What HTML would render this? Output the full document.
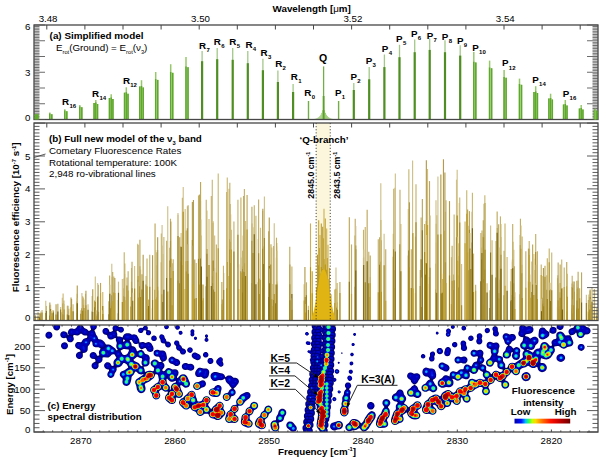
<!DOCTYPE html>
<html><head><meta charset="utf-8"><style>
html,body{margin:0;padding:0;background:#fff;}
svg{display:block;font-family:"Liberation Sans", sans-serif;}
</style></head><body>
<svg width="600" height="457" viewBox="0 0 600 457">
<defs>
<linearGradient id="jetg" x1="0" x2="1" y1="0" y2="0">
<stop offset="0" stop-color="#0000a8"/><stop offset="0.12" stop-color="#0010ff"/><stop offset="0.2" stop-color="#00c0ff"/>
<stop offset="0.25" stop-color="#20ff60"/><stop offset="0.32" stop-color="#c0ff00"/><stop offset="0.38" stop-color="#ffd800"/>
<stop offset="0.5" stop-color="#ff7000"/><stop offset="0.65" stop-color="#ff1000"/><stop offset="0.82" stop-color="#c00000"/><stop offset="1" stop-color="#700000"/>
</linearGradient>
<clipPath id="clipc"><rect x="34.0" y="325.0" width="564.0" height="107.0"/></clipPath>
</defs>
<rect width="600" height="457" fill="#fff"/>
<rect x="316.15" y="123.0" width="14.12" height="197.5" fill="#fcf6dc"/>
<line x1="36.30" y1="119.5" x2="36.30" y2="116.50" stroke="#a3c888" stroke-width="1.3"/>
<line x1="36.30" y1="119.5" x2="36.30" y2="116.50" stroke="#4f8f22" stroke-width="2.2"/>
<line x1="49.80" y1="119.5" x2="49.80" y2="112.50" stroke="#96c86a" stroke-width="1.5"/>
<line x1="49.80" y1="119.5" x2="49.80" y2="113.50" stroke="#5ea82c" stroke-width="1.5"/>
<line x1="51.80" y1="119.5" x2="51.80" y2="114.30" stroke="#96c86a" stroke-width="1.5"/>
<line x1="51.80" y1="119.5" x2="51.80" y2="114.30" stroke="#5ea82c" stroke-width="1.5"/>
<line x1="64.80" y1="119.5" x2="64.80" y2="109.20" stroke="#96c86a" stroke-width="1.5"/>
<line x1="64.80" y1="119.5" x2="64.80" y2="110.50" stroke="#5ea82c" stroke-width="1.5"/>
<line x1="66.80" y1="119.5" x2="66.80" y2="111.30" stroke="#96c86a" stroke-width="1.5"/>
<line x1="66.80" y1="119.5" x2="66.80" y2="111.30" stroke="#5ea82c" stroke-width="1.5"/>
<line x1="79.80" y1="119.5" x2="79.80" y2="105.00" stroke="#96c86a" stroke-width="1.5"/>
<line x1="79.80" y1="119.5" x2="79.80" y2="106.50" stroke="#5ea82c" stroke-width="1.5"/>
<line x1="81.80" y1="119.5" x2="81.80" y2="107.30" stroke="#96c86a" stroke-width="1.5"/>
<line x1="81.80" y1="119.5" x2="81.80" y2="107.30" stroke="#5ea82c" stroke-width="1.5"/>
<line x1="94.10" y1="119.5" x2="94.10" y2="103.00" stroke="#96c86a" stroke-width="1.5"/>
<line x1="94.10" y1="119.5" x2="94.10" y2="103.00" stroke="#5ea82c" stroke-width="1.5"/>
<line x1="95.80" y1="119.5" x2="95.80" y2="100.00" stroke="#96c86a" stroke-width="1.5"/>
<line x1="95.80" y1="119.5" x2="95.80" y2="102.50" stroke="#5ea82c" stroke-width="1.5"/>
<line x1="97.50" y1="119.5" x2="97.50" y2="104.00" stroke="#96c86a" stroke-width="1.5"/>
<line x1="97.50" y1="119.5" x2="97.50" y2="104.00" stroke="#5ea82c" stroke-width="1.5"/>
<line x1="109.50" y1="119.5" x2="109.50" y2="98.00" stroke="#96c86a" stroke-width="1.5"/>
<line x1="109.50" y1="119.5" x2="109.50" y2="98.00" stroke="#5ea82c" stroke-width="1.5"/>
<line x1="111.20" y1="119.5" x2="111.20" y2="94.20" stroke="#96c86a" stroke-width="1.5"/>
<line x1="111.20" y1="119.5" x2="111.20" y2="97.50" stroke="#5ea82c" stroke-width="1.5"/>
<line x1="112.90" y1="119.5" x2="112.90" y2="99.00" stroke="#96c86a" stroke-width="1.5"/>
<line x1="112.90" y1="119.5" x2="112.90" y2="99.00" stroke="#5ea82c" stroke-width="1.5"/>
<line x1="124.60" y1="119.5" x2="124.60" y2="92.70" stroke="#96c86a" stroke-width="1.5"/>
<line x1="124.60" y1="119.5" x2="124.60" y2="92.70" stroke="#5ea82c" stroke-width="1.5"/>
<line x1="126.30" y1="119.5" x2="126.30" y2="87.30" stroke="#96c86a" stroke-width="1.5"/>
<line x1="126.30" y1="119.5" x2="126.30" y2="92.20" stroke="#5ea82c" stroke-width="1.5"/>
<line x1="128.00" y1="119.5" x2="128.00" y2="93.70" stroke="#96c86a" stroke-width="1.5"/>
<line x1="128.00" y1="119.5" x2="128.00" y2="93.70" stroke="#5ea82c" stroke-width="1.5"/>
<line x1="139.80" y1="119.5" x2="139.80" y2="86.40" stroke="#96c86a" stroke-width="1.5"/>
<line x1="139.80" y1="119.5" x2="139.80" y2="86.40" stroke="#5ea82c" stroke-width="1.5"/>
<line x1="141.50" y1="119.5" x2="141.50" y2="80.20" stroke="#96c86a" stroke-width="1.5"/>
<line x1="141.50" y1="119.5" x2="141.50" y2="85.90" stroke="#5ea82c" stroke-width="1.5"/>
<line x1="143.20" y1="119.5" x2="143.20" y2="87.40" stroke="#96c86a" stroke-width="1.5"/>
<line x1="143.20" y1="119.5" x2="143.20" y2="87.40" stroke="#5ea82c" stroke-width="1.5"/>
<line x1="155.70" y1="119.5" x2="155.70" y2="72.00" stroke="#96c86a" stroke-width="1.5"/>
<line x1="155.70" y1="119.5" x2="155.70" y2="79.10" stroke="#5ea82c" stroke-width="1.5"/>
<line x1="157.70" y1="119.5" x2="157.70" y2="79.90" stroke="#96c86a" stroke-width="1.5"/>
<line x1="157.70" y1="119.5" x2="157.70" y2="79.90" stroke="#5ea82c" stroke-width="1.5"/>
<line x1="170.70" y1="119.5" x2="170.70" y2="64.20" stroke="#96c86a" stroke-width="1.5"/>
<line x1="170.70" y1="119.5" x2="170.70" y2="72.00" stroke="#5ea82c" stroke-width="1.5"/>
<line x1="172.70" y1="119.5" x2="172.70" y2="72.80" stroke="#96c86a" stroke-width="1.5"/>
<line x1="172.70" y1="119.5" x2="172.70" y2="72.80" stroke="#5ea82c" stroke-width="1.5"/>
<line x1="186.00" y1="119.5" x2="186.00" y2="57.10" stroke="#96c86a" stroke-width="1.5"/>
<line x1="186.00" y1="119.5" x2="186.00" y2="66.50" stroke="#5ea82c" stroke-width="1.5"/>
<line x1="188.00" y1="119.5" x2="188.00" y2="67.30" stroke="#96c86a" stroke-width="1.5"/>
<line x1="188.00" y1="119.5" x2="188.00" y2="67.30" stroke="#5ea82c" stroke-width="1.5"/>
<line x1="202.10" y1="119.5" x2="202.10" y2="51.10" stroke="#a3c888" stroke-width="1.3"/>
<line x1="202.10" y1="119.5" x2="202.10" y2="61.20" stroke="#4f8f22" stroke-width="2.2"/>
<line x1="217.20" y1="119.5" x2="217.20" y2="48.10" stroke="#a3c888" stroke-width="1.3"/>
<line x1="217.20" y1="119.5" x2="217.20" y2="59.20" stroke="#4f8f22" stroke-width="2.2"/>
<line x1="232.70" y1="119.5" x2="232.70" y2="48.10" stroke="#a3c888" stroke-width="1.3"/>
<line x1="232.70" y1="119.5" x2="232.70" y2="59.80" stroke="#4f8f22" stroke-width="2.2"/>
<line x1="247.80" y1="119.5" x2="247.80" y2="51.10" stroke="#a3c888" stroke-width="1.3"/>
<line x1="247.80" y1="119.5" x2="247.80" y2="63.20" stroke="#4f8f22" stroke-width="2.2"/>
<line x1="262.90" y1="119.5" x2="262.90" y2="58.80" stroke="#a3c888" stroke-width="1.3"/>
<line x1="262.90" y1="119.5" x2="262.90" y2="70.20" stroke="#4f8f22" stroke-width="2.2"/>
<line x1="277.90" y1="119.5" x2="277.90" y2="70.50" stroke="#a3c888" stroke-width="1.3"/>
<line x1="277.90" y1="119.5" x2="277.90" y2="82.00" stroke="#4f8f22" stroke-width="2.2"/>
<line x1="293.10" y1="119.5" x2="293.10" y2="84.00" stroke="#a3c888" stroke-width="1.3"/>
<line x1="293.10" y1="119.5" x2="293.10" y2="92.00" stroke="#4f8f22" stroke-width="2.2"/>
<line x1="308.50" y1="119.5" x2="308.50" y2="101.00" stroke="#72ae44" stroke-width="1.4"/>
<line x1="338.60" y1="119.5" x2="338.60" y2="101.00" stroke="#72ae44" stroke-width="1.4"/>
<line x1="353.80" y1="119.5" x2="353.80" y2="83.00" stroke="#a3c888" stroke-width="1.3"/>
<line x1="353.80" y1="119.5" x2="353.80" y2="90.00" stroke="#4f8f22" stroke-width="2.2"/>
<line x1="369.20" y1="119.5" x2="369.20" y2="67.10" stroke="#a3c888" stroke-width="1.3"/>
<line x1="369.20" y1="119.5" x2="369.20" y2="79.30" stroke="#4f8f22" stroke-width="2.2"/>
<line x1="384.40" y1="119.5" x2="384.40" y2="54.50" stroke="#a3c888" stroke-width="1.3"/>
<line x1="384.40" y1="119.5" x2="384.40" y2="67.10" stroke="#4f8f22" stroke-width="2.2"/>
<line x1="399.50" y1="119.5" x2="399.50" y2="44.80" stroke="#a3c888" stroke-width="1.3"/>
<line x1="399.50" y1="119.5" x2="399.50" y2="57.20" stroke="#4f8f22" stroke-width="2.2"/>
<line x1="414.70" y1="119.5" x2="414.70" y2="39.50" stroke="#a3c888" stroke-width="1.3"/>
<line x1="414.70" y1="119.5" x2="414.70" y2="52.20" stroke="#4f8f22" stroke-width="2.2"/>
<line x1="429.70" y1="119.5" x2="429.70" y2="38.40" stroke="#a3c888" stroke-width="1.3"/>
<line x1="429.70" y1="119.5" x2="429.70" y2="49.90" stroke="#4f8f22" stroke-width="2.2"/>
<line x1="445.00" y1="119.5" x2="445.00" y2="40.20" stroke="#a3c888" stroke-width="1.3"/>
<line x1="445.00" y1="119.5" x2="445.00" y2="52.20" stroke="#4f8f22" stroke-width="2.2"/>
<line x1="460.20" y1="119.5" x2="460.20" y2="45.30" stroke="#a3c888" stroke-width="1.3"/>
<line x1="460.20" y1="119.5" x2="460.20" y2="55.60" stroke="#4f8f22" stroke-width="2.2"/>
<line x1="473.80" y1="119.5" x2="473.80" y2="51.90" stroke="#96c86a" stroke-width="1.5"/>
<line x1="473.80" y1="119.5" x2="473.80" y2="61.80" stroke="#5ea82c" stroke-width="1.5"/>
<line x1="475.80" y1="119.5" x2="475.80" y2="62.60" stroke="#96c86a" stroke-width="1.5"/>
<line x1="475.80" y1="119.5" x2="475.80" y2="62.60" stroke="#5ea82c" stroke-width="1.5"/>
<line x1="489.60" y1="119.5" x2="489.60" y2="60.60" stroke="#96c86a" stroke-width="1.5"/>
<line x1="489.60" y1="119.5" x2="489.60" y2="67.50" stroke="#5ea82c" stroke-width="1.5"/>
<line x1="491.60" y1="119.5" x2="491.60" y2="68.30" stroke="#96c86a" stroke-width="1.5"/>
<line x1="491.60" y1="119.5" x2="491.60" y2="68.30" stroke="#5ea82c" stroke-width="1.5"/>
<line x1="504.10" y1="119.5" x2="504.10" y2="69.90" stroke="#96c86a" stroke-width="1.5"/>
<line x1="504.10" y1="119.5" x2="504.10" y2="77.00" stroke="#5ea82c" stroke-width="1.5"/>
<line x1="506.10" y1="119.5" x2="506.10" y2="77.80" stroke="#96c86a" stroke-width="1.5"/>
<line x1="506.10" y1="119.5" x2="506.10" y2="77.80" stroke="#5ea82c" stroke-width="1.5"/>
<line x1="519.50" y1="119.5" x2="519.50" y2="78.60" stroke="#96c86a" stroke-width="1.5"/>
<line x1="519.50" y1="119.5" x2="519.50" y2="84.00" stroke="#5ea82c" stroke-width="1.5"/>
<line x1="521.50" y1="119.5" x2="521.50" y2="84.80" stroke="#96c86a" stroke-width="1.5"/>
<line x1="521.50" y1="119.5" x2="521.50" y2="84.80" stroke="#5ea82c" stroke-width="1.5"/>
<line x1="534.00" y1="119.5" x2="534.00" y2="92.00" stroke="#96c86a" stroke-width="1.5"/>
<line x1="534.00" y1="119.5" x2="534.00" y2="92.00" stroke="#5ea82c" stroke-width="1.5"/>
<line x1="535.70" y1="119.5" x2="535.70" y2="86.20" stroke="#96c86a" stroke-width="1.5"/>
<line x1="535.70" y1="119.5" x2="535.70" y2="91.50" stroke="#5ea82c" stroke-width="1.5"/>
<line x1="537.40" y1="119.5" x2="537.40" y2="93.00" stroke="#96c86a" stroke-width="1.5"/>
<line x1="537.40" y1="119.5" x2="537.40" y2="93.00" stroke="#5ea82c" stroke-width="1.5"/>
<line x1="548.90" y1="119.5" x2="548.90" y2="98.50" stroke="#96c86a" stroke-width="1.5"/>
<line x1="548.90" y1="119.5" x2="548.90" y2="98.50" stroke="#5ea82c" stroke-width="1.5"/>
<line x1="550.60" y1="119.5" x2="550.60" y2="93.70" stroke="#96c86a" stroke-width="1.5"/>
<line x1="550.60" y1="119.5" x2="550.60" y2="98.00" stroke="#5ea82c" stroke-width="1.5"/>
<line x1="552.30" y1="119.5" x2="552.30" y2="99.50" stroke="#96c86a" stroke-width="1.5"/>
<line x1="552.30" y1="119.5" x2="552.30" y2="99.50" stroke="#5ea82c" stroke-width="1.5"/>
<line x1="563.60" y1="119.5" x2="563.60" y2="104.50" stroke="#96c86a" stroke-width="1.5"/>
<line x1="563.60" y1="119.5" x2="563.60" y2="104.50" stroke="#5ea82c" stroke-width="1.5"/>
<line x1="565.30" y1="119.5" x2="565.30" y2="100.00" stroke="#96c86a" stroke-width="1.5"/>
<line x1="565.30" y1="119.5" x2="565.30" y2="104.00" stroke="#5ea82c" stroke-width="1.5"/>
<line x1="567.00" y1="119.5" x2="567.00" y2="105.50" stroke="#96c86a" stroke-width="1.5"/>
<line x1="567.00" y1="119.5" x2="567.00" y2="105.50" stroke="#5ea82c" stroke-width="1.5"/>
<line x1="579.50" y1="119.5" x2="579.50" y2="108.50" stroke="#96c86a" stroke-width="1.5"/>
<line x1="579.50" y1="119.5" x2="579.50" y2="108.50" stroke="#5ea82c" stroke-width="1.5"/>
<line x1="581.20" y1="119.5" x2="581.20" y2="105.00" stroke="#96c86a" stroke-width="1.5"/>
<line x1="581.20" y1="119.5" x2="581.20" y2="108.00" stroke="#5ea82c" stroke-width="1.5"/>
<line x1="582.90" y1="119.5" x2="582.90" y2="109.50" stroke="#96c86a" stroke-width="1.5"/>
<line x1="582.90" y1="119.5" x2="582.90" y2="109.50" stroke="#5ea82c" stroke-width="1.5"/>
<line x1="594.70" y1="119.5" x2="594.70" y2="109.30" stroke="#96c86a" stroke-width="1.5"/>
<line x1="594.70" y1="119.5" x2="594.70" y2="112.00" stroke="#5ea82c" stroke-width="1.5"/>
<line x1="596.70" y1="119.5" x2="596.70" y2="112.80" stroke="#96c86a" stroke-width="1.5"/>
<line x1="596.70" y1="119.5" x2="596.70" y2="112.80" stroke="#5ea82c" stroke-width="1.5"/>
<line x1="313.15" y1="119.5" x2="313.15" y2="119.17" stroke="#8cc060" stroke-width="0.8"/>
<line x1="314.10" y1="119.5" x2="314.10" y2="119.04" stroke="#8cc060" stroke-width="0.8"/>
<line x1="315.05" y1="119.5" x2="315.05" y2="118.85" stroke="#8cc060" stroke-width="0.8"/>
<line x1="316.00" y1="119.5" x2="316.00" y2="118.60" stroke="#8cc060" stroke-width="0.8"/>
<line x1="316.95" y1="119.5" x2="316.95" y2="118.24" stroke="#8cc060" stroke-width="0.8"/>
<line x1="317.90" y1="119.5" x2="317.90" y2="117.74" stroke="#8cc060" stroke-width="0.8"/>
<line x1="318.85" y1="119.5" x2="318.85" y2="117.04" stroke="#8cc060" stroke-width="0.8"/>
<line x1="319.80" y1="119.5" x2="319.80" y2="116.07" stroke="#8cc060" stroke-width="0.8"/>
<line x1="320.75" y1="119.5" x2="320.75" y2="114.72" stroke="#8cc060" stroke-width="0.8"/>
<line x1="321.70" y1="119.5" x2="321.70" y2="112.83" stroke="#8cc060" stroke-width="0.8"/>
<line x1="322.65" y1="119.5" x2="322.65" y2="110.19" stroke="#8cc060" stroke-width="0.8"/>
<line x1="323.60" y1="119.5" x2="323.60" y2="106.50" stroke="#8cc060" stroke-width="0.8"/>
<line x1="324.55" y1="119.5" x2="324.55" y2="110.19" stroke="#8cc060" stroke-width="0.8"/>
<line x1="325.50" y1="119.5" x2="325.50" y2="112.83" stroke="#8cc060" stroke-width="0.8"/>
<line x1="326.45" y1="119.5" x2="326.45" y2="114.72" stroke="#8cc060" stroke-width="0.8"/>
<line x1="327.40" y1="119.5" x2="327.40" y2="116.07" stroke="#8cc060" stroke-width="0.8"/>
<line x1="328.35" y1="119.5" x2="328.35" y2="117.04" stroke="#8cc060" stroke-width="0.8"/>
<line x1="329.30" y1="119.5" x2="329.30" y2="117.74" stroke="#8cc060" stroke-width="0.8"/>
<line x1="330.25" y1="119.5" x2="330.25" y2="118.24" stroke="#8cc060" stroke-width="0.8"/>
<line x1="331.20" y1="119.5" x2="331.20" y2="118.60" stroke="#8cc060" stroke-width="0.8"/>
<line x1="332.15" y1="119.5" x2="332.15" y2="118.85" stroke="#8cc060" stroke-width="0.8"/>
<line x1="333.10" y1="119.5" x2="333.10" y2="119.04" stroke="#8cc060" stroke-width="0.8"/>
<line x1="334.05" y1="119.5" x2="334.05" y2="119.17" stroke="#8cc060" stroke-width="0.8"/>
<line x1="323.6" y1="119.5" x2="323.6" y2="66.4" stroke="#72ae44" stroke-width="1.3"/>
<line x1="323.6" y1="119.5" x2="323.6" y2="96" stroke="#5aa02a" stroke-width="1.8"/>
<line x1="304.93" y1="320.5" x2="304.93" y2="267.05" stroke="#b29c4c" stroke-width="1.15"/>
<line x1="304.93" y1="320.5" x2="304.93" y2="297.05" stroke="#7a6410" stroke-width="1.15"/>
<line x1="305.41" y1="320.5" x2="305.41" y2="304.00" stroke="#d0c088" stroke-width="1.15"/>
<line x1="305.41" y1="320.5" x2="305.41" y2="312.54" stroke="#c0a030" stroke-width="1.15"/>
<line x1="306.44" y1="320.5" x2="306.44" y2="282.33" stroke="#c2ae66" stroke-width="1.15"/>
<line x1="306.44" y1="320.5" x2="306.44" y2="295.19" stroke="#9c801a" stroke-width="1.15"/>
<line x1="308.41" y1="320.5" x2="308.41" y2="305.87" stroke="#d0c088" stroke-width="1.15"/>
<line x1="308.41" y1="320.5" x2="308.41" y2="309.95" stroke="#9c801a" stroke-width="1.15"/>
<line x1="289.77" y1="320.5" x2="289.77" y2="246.69" stroke="#c2ae66" stroke-width="1.15"/>
<line x1="289.77" y1="320.5" x2="289.77" y2="284.13" stroke="#9c801a" stroke-width="1.15"/>
<line x1="289.89" y1="320.5" x2="289.89" y2="264.44" stroke="#b29c4c" stroke-width="1.15"/>
<line x1="289.89" y1="320.5" x2="289.89" y2="300.33" stroke="#9c801a" stroke-width="1.15"/>
<line x1="291.90" y1="320.5" x2="291.90" y2="266.51" stroke="#c6b26a" stroke-width="1.15"/>
<line x1="291.90" y1="320.5" x2="291.90" y2="294.05" stroke="#7a6410" stroke-width="1.15"/>
<line x1="291.95" y1="320.5" x2="291.95" y2="298.23" stroke="#bca85a" stroke-width="1.15"/>
<line x1="291.95" y1="320.5" x2="291.95" y2="309.81" stroke="#a88a20" stroke-width="1.15"/>
<line x1="273.05" y1="320.5" x2="273.05" y2="283.91" stroke="#bca85a" stroke-width="1.15"/>
<line x1="273.05" y1="320.5" x2="273.05" y2="305.93" stroke="#c0a030" stroke-width="1.15"/>
<line x1="273.63" y1="320.5" x2="273.63" y2="246.03" stroke="#bca85a" stroke-width="1.15"/>
<line x1="273.63" y1="320.5" x2="273.63" y2="300.05" stroke="#7a6410" stroke-width="1.15"/>
<line x1="274.25" y1="320.5" x2="274.25" y2="223.18" stroke="#d0c088" stroke-width="1.15"/>
<line x1="274.25" y1="320.5" x2="274.25" y2="293.94" stroke="#b49428" stroke-width="1.15"/>
<line x1="275.63" y1="320.5" x2="275.63" y2="284.61" stroke="#c6b26a" stroke-width="1.15"/>
<line x1="275.63" y1="320.5" x2="275.63" y2="303.13" stroke="#8c7418" stroke-width="1.15"/>
<line x1="276.48" y1="320.5" x2="276.48" y2="237.69" stroke="#c2ae66" stroke-width="1.15"/>
<line x1="276.48" y1="320.5" x2="276.48" y2="257.61" stroke="#b49428" stroke-width="1.15"/>
<line x1="276.60" y1="320.5" x2="276.60" y2="246.46" stroke="#d0c088" stroke-width="1.15"/>
<line x1="276.60" y1="320.5" x2="276.60" y2="283.33" stroke="#7a6410" stroke-width="1.15"/>
<line x1="276.70" y1="320.5" x2="276.70" y2="243.12" stroke="#bca85a" stroke-width="1.15"/>
<line x1="276.70" y1="320.5" x2="276.70" y2="281.39" stroke="#c0a030" stroke-width="1.15"/>
<line x1="276.80" y1="320.5" x2="276.80" y2="250.80" stroke="#cab872" stroke-width="1.15"/>
<line x1="276.80" y1="320.5" x2="276.80" y2="284.39" stroke="#8c7418" stroke-width="1.15"/>
<line x1="268.69" y1="320.5" x2="268.69" y2="231.36" stroke="#bca85a" stroke-width="1.15"/>
<line x1="268.69" y1="320.5" x2="268.69" y2="296.96" stroke="#7a6410" stroke-width="1.15"/>
<line x1="269.26" y1="320.5" x2="269.26" y2="217.45" stroke="#b29c4c" stroke-width="1.15"/>
<line x1="269.26" y1="320.5" x2="269.26" y2="265.97" stroke="#8c7418" stroke-width="1.15"/>
<line x1="269.62" y1="320.5" x2="269.62" y2="268.58" stroke="#c2ae66" stroke-width="1.15"/>
<line x1="269.62" y1="320.5" x2="269.62" y2="283.22" stroke="#8c7418" stroke-width="1.15"/>
<line x1="270.97" y1="320.5" x2="270.97" y2="244.33" stroke="#bca85a" stroke-width="1.15"/>
<line x1="270.97" y1="320.5" x2="270.97" y2="264.41" stroke="#8c7418" stroke-width="1.15"/>
<line x1="271.78" y1="320.5" x2="271.78" y2="247.49" stroke="#c6b26a" stroke-width="1.15"/>
<line x1="271.78" y1="320.5" x2="271.78" y2="299.31" stroke="#b49428" stroke-width="1.15"/>
<line x1="258.38" y1="320.5" x2="258.38" y2="239.09" stroke="#b29c4c" stroke-width="1.15"/>
<line x1="258.38" y1="320.5" x2="258.38" y2="282.30" stroke="#8c7418" stroke-width="1.15"/>
<line x1="258.61" y1="320.5" x2="258.61" y2="199.45" stroke="#c2ae66" stroke-width="1.15"/>
<line x1="258.61" y1="320.5" x2="258.61" y2="253.18" stroke="#a88a20" stroke-width="1.15"/>
<line x1="259.57" y1="320.5" x2="259.57" y2="278.58" stroke="#c6b26a" stroke-width="1.15"/>
<line x1="259.57" y1="320.5" x2="259.57" y2="294.01" stroke="#a88a20" stroke-width="1.15"/>
<line x1="260.48" y1="320.5" x2="260.48" y2="227.76" stroke="#d0c088" stroke-width="1.15"/>
<line x1="260.48" y1="320.5" x2="260.48" y2="279.86" stroke="#c0a030" stroke-width="1.15"/>
<line x1="262.66" y1="320.5" x2="262.66" y2="210.83" stroke="#c2ae66" stroke-width="1.15"/>
<line x1="262.66" y1="320.5" x2="262.66" y2="287.82" stroke="#7a6410" stroke-width="1.15"/>
<line x1="262.85" y1="320.5" x2="262.85" y2="208.84" stroke="#b29c4c" stroke-width="1.15"/>
<line x1="262.85" y1="320.5" x2="262.85" y2="248.86" stroke="#9c801a" stroke-width="1.15"/>
<line x1="263.68" y1="320.5" x2="263.68" y2="246.59" stroke="#c6b26a" stroke-width="1.15"/>
<line x1="263.68" y1="320.5" x2="263.68" y2="264.01" stroke="#7a6410" stroke-width="1.15"/>
<line x1="264.41" y1="320.5" x2="264.41" y2="196.48" stroke="#d0c088" stroke-width="1.15"/>
<line x1="264.41" y1="320.5" x2="264.41" y2="237.96" stroke="#a88a20" stroke-width="1.15"/>
<line x1="251.93" y1="320.5" x2="251.93" y2="206.83" stroke="#bca85a" stroke-width="1.15"/>
<line x1="251.93" y1="320.5" x2="251.93" y2="283.11" stroke="#8c7418" stroke-width="1.15"/>
<line x1="252.06" y1="320.5" x2="252.06" y2="223.57" stroke="#cab872" stroke-width="1.15"/>
<line x1="252.06" y1="320.5" x2="252.06" y2="240.63" stroke="#9c801a" stroke-width="1.15"/>
<line x1="253.03" y1="320.5" x2="253.03" y2="227.28" stroke="#d0c088" stroke-width="1.15"/>
<line x1="253.03" y1="320.5" x2="253.03" y2="253.10" stroke="#9c801a" stroke-width="1.15"/>
<line x1="254.28" y1="320.5" x2="254.28" y2="205.32" stroke="#c6b26a" stroke-width="1.15"/>
<line x1="254.28" y1="320.5" x2="254.28" y2="234.14" stroke="#7a6410" stroke-width="1.15"/>
<line x1="255.93" y1="320.5" x2="255.93" y2="215.72" stroke="#cab872" stroke-width="1.15"/>
<line x1="255.93" y1="320.5" x2="255.93" y2="284.32" stroke="#7a6410" stroke-width="1.15"/>
<line x1="242.56" y1="320.5" x2="242.56" y2="266.46" stroke="#cab872" stroke-width="1.15"/>
<line x1="242.56" y1="320.5" x2="242.56" y2="277.64" stroke="#8c7418" stroke-width="1.15"/>
<line x1="242.81" y1="320.5" x2="242.81" y2="250.76" stroke="#bca85a" stroke-width="1.15"/>
<line x1="242.81" y1="320.5" x2="242.81" y2="292.43" stroke="#8c7418" stroke-width="1.15"/>
<line x1="243.22" y1="320.5" x2="243.22" y2="235.42" stroke="#bca85a" stroke-width="1.15"/>
<line x1="243.22" y1="320.5" x2="243.22" y2="269.01" stroke="#7a6410" stroke-width="1.15"/>
<line x1="243.58" y1="320.5" x2="243.58" y2="195.89" stroke="#c2ae66" stroke-width="1.15"/>
<line x1="243.58" y1="320.5" x2="243.58" y2="271.60" stroke="#b49428" stroke-width="1.15"/>
<line x1="244.39" y1="320.5" x2="244.39" y2="189.00" stroke="#c6b26a" stroke-width="1.15"/>
<line x1="244.39" y1="320.5" x2="244.39" y2="271.93" stroke="#8c7418" stroke-width="1.15"/>
<line x1="245.10" y1="320.5" x2="245.10" y2="229.86" stroke="#bca85a" stroke-width="1.15"/>
<line x1="245.10" y1="320.5" x2="245.10" y2="263.22" stroke="#b49428" stroke-width="1.15"/>
<line x1="245.63" y1="320.5" x2="245.63" y2="220.92" stroke="#d0c088" stroke-width="1.15"/>
<line x1="245.63" y1="320.5" x2="245.63" y2="276.02" stroke="#8c7418" stroke-width="1.15"/>
<line x1="247.08" y1="320.5" x2="247.08" y2="195.04" stroke="#bca85a" stroke-width="1.15"/>
<line x1="247.08" y1="320.5" x2="247.08" y2="229.51" stroke="#b49428" stroke-width="1.15"/>
<line x1="237.93" y1="320.5" x2="237.93" y2="199.74" stroke="#c6b26a" stroke-width="1.15"/>
<line x1="237.93" y1="320.5" x2="237.93" y2="234.64" stroke="#a88a20" stroke-width="1.15"/>
<line x1="238.37" y1="320.5" x2="238.37" y2="267.59" stroke="#d0c088" stroke-width="1.15"/>
<line x1="238.37" y1="320.5" x2="238.37" y2="280.03" stroke="#8c7418" stroke-width="1.15"/>
<line x1="238.68" y1="320.5" x2="238.68" y2="264.34" stroke="#c2ae66" stroke-width="1.15"/>
<line x1="238.68" y1="320.5" x2="238.68" y2="288.89" stroke="#c0a030" stroke-width="1.15"/>
<line x1="240.91" y1="320.5" x2="240.91" y2="197.57" stroke="#c6b26a" stroke-width="1.15"/>
<line x1="240.91" y1="320.5" x2="240.91" y2="271.18" stroke="#7a6410" stroke-width="1.15"/>
<line x1="241.15" y1="320.5" x2="241.15" y2="257.61" stroke="#d0c088" stroke-width="1.15"/>
<line x1="241.15" y1="320.5" x2="241.15" y2="272.45" stroke="#c0a030" stroke-width="1.15"/>
<line x1="227.28" y1="320.5" x2="227.28" y2="177.61" stroke="#cab872" stroke-width="1.15"/>
<line x1="227.28" y1="320.5" x2="227.28" y2="262.08" stroke="#b49428" stroke-width="1.15"/>
<line x1="229.09" y1="320.5" x2="229.09" y2="188.84" stroke="#c2ae66" stroke-width="1.15"/>
<line x1="229.09" y1="320.5" x2="229.09" y2="276.04" stroke="#b49428" stroke-width="1.15"/>
<line x1="229.83" y1="320.5" x2="229.83" y2="182.85" stroke="#c6b26a" stroke-width="1.15"/>
<line x1="229.83" y1="320.5" x2="229.83" y2="249.56" stroke="#9c801a" stroke-width="1.15"/>
<line x1="230.18" y1="320.5" x2="230.18" y2="203.89" stroke="#c2ae66" stroke-width="1.15"/>
<line x1="230.18" y1="320.5" x2="230.18" y2="239.32" stroke="#a88a20" stroke-width="1.15"/>
<line x1="230.64" y1="320.5" x2="230.64" y2="214.37" stroke="#cab872" stroke-width="1.15"/>
<line x1="230.64" y1="320.5" x2="230.64" y2="241.76" stroke="#b49428" stroke-width="1.15"/>
<line x1="231.21" y1="320.5" x2="231.21" y2="229.84" stroke="#cab872" stroke-width="1.15"/>
<line x1="231.21" y1="320.5" x2="231.21" y2="263.07" stroke="#7a6410" stroke-width="1.15"/>
<line x1="231.37" y1="320.5" x2="231.37" y2="230.25" stroke="#d0c088" stroke-width="1.15"/>
<line x1="231.37" y1="320.5" x2="231.37" y2="249.43" stroke="#c0a030" stroke-width="1.15"/>
<line x1="233.92" y1="320.5" x2="233.92" y2="221.57" stroke="#c6b26a" stroke-width="1.15"/>
<line x1="233.92" y1="320.5" x2="233.92" y2="251.42" stroke="#9c801a" stroke-width="1.15"/>
<line x1="221.85" y1="320.5" x2="221.85" y2="281.97" stroke="#bca85a" stroke-width="1.15"/>
<line x1="221.85" y1="320.5" x2="221.85" y2="304.14" stroke="#c0a030" stroke-width="1.15"/>
<line x1="222.30" y1="320.5" x2="222.30" y2="299.62" stroke="#b29c4c" stroke-width="1.15"/>
<line x1="222.30" y1="320.5" x2="222.30" y2="310.05" stroke="#b49428" stroke-width="1.15"/>
<line x1="223.45" y1="320.5" x2="223.45" y2="265.71" stroke="#c6b26a" stroke-width="1.15"/>
<line x1="223.45" y1="320.5" x2="223.45" y2="302.46" stroke="#9c801a" stroke-width="1.15"/>
<line x1="223.67" y1="320.5" x2="223.67" y2="273.09" stroke="#c2ae66" stroke-width="1.15"/>
<line x1="223.67" y1="320.5" x2="223.67" y2="290.07" stroke="#a88a20" stroke-width="1.15"/>
<line x1="226.67" y1="320.5" x2="226.67" y2="192.06" stroke="#c6b26a" stroke-width="1.15"/>
<line x1="226.67" y1="320.5" x2="226.67" y2="288.19" stroke="#b49428" stroke-width="1.15"/>
<line x1="212.28" y1="320.5" x2="212.28" y2="179.65" stroke="#cab872" stroke-width="1.15"/>
<line x1="212.28" y1="320.5" x2="212.28" y2="276.30" stroke="#b49428" stroke-width="1.15"/>
<line x1="212.96" y1="320.5" x2="212.96" y2="222.90" stroke="#c2ae66" stroke-width="1.15"/>
<line x1="212.96" y1="320.5" x2="212.96" y2="282.97" stroke="#7a6410" stroke-width="1.15"/>
<line x1="213.14" y1="320.5" x2="213.14" y2="221.19" stroke="#cab872" stroke-width="1.15"/>
<line x1="213.14" y1="320.5" x2="213.14" y2="260.57" stroke="#9c801a" stroke-width="1.15"/>
<line x1="213.87" y1="320.5" x2="213.87" y2="270.89" stroke="#cab872" stroke-width="1.15"/>
<line x1="213.87" y1="320.5" x2="213.87" y2="289.53" stroke="#8c7418" stroke-width="1.15"/>
<line x1="214.53" y1="320.5" x2="214.53" y2="267.89" stroke="#bca85a" stroke-width="1.15"/>
<line x1="214.53" y1="320.5" x2="214.53" y2="303.09" stroke="#9c801a" stroke-width="1.15"/>
<line x1="214.65" y1="320.5" x2="214.65" y2="235.59" stroke="#d0c088" stroke-width="1.15"/>
<line x1="214.65" y1="320.5" x2="214.65" y2="291.66" stroke="#a88a20" stroke-width="1.15"/>
<line x1="216.40" y1="320.5" x2="216.40" y2="244.56" stroke="#c6b26a" stroke-width="1.15"/>
<line x1="216.40" y1="320.5" x2="216.40" y2="272.43" stroke="#c0a030" stroke-width="1.15"/>
<line x1="218.22" y1="320.5" x2="218.22" y2="173.50" stroke="#cab872" stroke-width="1.15"/>
<line x1="218.22" y1="320.5" x2="218.22" y2="248.30" stroke="#b49428" stroke-width="1.15"/>
<line x1="206.23" y1="320.5" x2="206.23" y2="199.71" stroke="#c6b26a" stroke-width="1.15"/>
<line x1="206.23" y1="320.5" x2="206.23" y2="286.23" stroke="#7a6410" stroke-width="1.15"/>
<line x1="206.91" y1="320.5" x2="206.91" y2="210.42" stroke="#cab872" stroke-width="1.15"/>
<line x1="206.91" y1="320.5" x2="206.91" y2="253.70" stroke="#7a6410" stroke-width="1.15"/>
<line x1="206.99" y1="320.5" x2="206.99" y2="249.07" stroke="#b29c4c" stroke-width="1.15"/>
<line x1="206.99" y1="320.5" x2="206.99" y2="276.85" stroke="#7a6410" stroke-width="1.15"/>
<line x1="209.01" y1="320.5" x2="209.01" y2="218.91" stroke="#d0c088" stroke-width="1.15"/>
<line x1="209.01" y1="320.5" x2="209.01" y2="265.06" stroke="#9c801a" stroke-width="1.15"/>
<line x1="211.33" y1="320.5" x2="211.33" y2="195.94" stroke="#c6b26a" stroke-width="1.15"/>
<line x1="211.33" y1="320.5" x2="211.33" y2="286.07" stroke="#7a6410" stroke-width="1.15"/>
<line x1="198.51" y1="320.5" x2="198.51" y2="195.50" stroke="#c6b26a" stroke-width="1.15"/>
<line x1="198.51" y1="320.5" x2="198.51" y2="258.80" stroke="#9c801a" stroke-width="1.15"/>
<line x1="199.44" y1="320.5" x2="199.44" y2="194.56" stroke="#bca85a" stroke-width="1.15"/>
<line x1="199.44" y1="320.5" x2="199.44" y2="284.60" stroke="#a88a20" stroke-width="1.15"/>
<line x1="200.47" y1="320.5" x2="200.47" y2="200.66" stroke="#c6b26a" stroke-width="1.15"/>
<line x1="200.47" y1="320.5" x2="200.47" y2="246.49" stroke="#c0a030" stroke-width="1.15"/>
<line x1="200.58" y1="320.5" x2="200.58" y2="181.88" stroke="#bca85a" stroke-width="1.15"/>
<line x1="200.58" y1="320.5" x2="200.58" y2="274.01" stroke="#9c801a" stroke-width="1.15"/>
<line x1="200.74" y1="320.5" x2="200.74" y2="219.54" stroke="#c2ae66" stroke-width="1.15"/>
<line x1="200.74" y1="320.5" x2="200.74" y2="258.43" stroke="#7a6410" stroke-width="1.15"/>
<line x1="201.41" y1="320.5" x2="201.41" y2="235.48" stroke="#d0c088" stroke-width="1.15"/>
<line x1="201.41" y1="320.5" x2="201.41" y2="266.51" stroke="#7a6410" stroke-width="1.15"/>
<line x1="202.87" y1="320.5" x2="202.87" y2="284.51" stroke="#bca85a" stroke-width="1.15"/>
<line x1="202.87" y1="320.5" x2="202.87" y2="300.52" stroke="#a88a20" stroke-width="1.15"/>
<line x1="203.31" y1="320.5" x2="203.31" y2="284.82" stroke="#cab872" stroke-width="1.15"/>
<line x1="203.31" y1="320.5" x2="203.31" y2="298.18" stroke="#c0a030" stroke-width="1.15"/>
<line x1="192.38" y1="320.5" x2="192.38" y2="202.08" stroke="#b29c4c" stroke-width="1.15"/>
<line x1="192.38" y1="320.5" x2="192.38" y2="240.06" stroke="#a88a20" stroke-width="1.15"/>
<line x1="192.49" y1="320.5" x2="192.49" y2="245.64" stroke="#b29c4c" stroke-width="1.15"/>
<line x1="192.49" y1="320.5" x2="192.49" y2="263.86" stroke="#c0a030" stroke-width="1.15"/>
<line x1="193.41" y1="320.5" x2="193.41" y2="199.88" stroke="#b29c4c" stroke-width="1.15"/>
<line x1="193.41" y1="320.5" x2="193.41" y2="284.52" stroke="#c0a030" stroke-width="1.15"/>
<line x1="194.76" y1="320.5" x2="194.76" y2="259.45" stroke="#b29c4c" stroke-width="1.15"/>
<line x1="194.76" y1="320.5" x2="194.76" y2="298.81" stroke="#a88a20" stroke-width="1.15"/>
<line x1="196.21" y1="320.5" x2="196.21" y2="262.89" stroke="#cab872" stroke-width="1.15"/>
<line x1="196.21" y1="320.5" x2="196.21" y2="298.07" stroke="#a88a20" stroke-width="1.15"/>
<line x1="182.39" y1="320.5" x2="182.39" y2="197.75" stroke="#c6b26a" stroke-width="1.15"/>
<line x1="182.39" y1="320.5" x2="182.39" y2="265.10" stroke="#c0a030" stroke-width="1.15"/>
<line x1="183.23" y1="320.5" x2="183.23" y2="187.06" stroke="#d0c088" stroke-width="1.15"/>
<line x1="183.23" y1="320.5" x2="183.23" y2="211.65" stroke="#b49428" stroke-width="1.15"/>
<line x1="185.16" y1="320.5" x2="185.16" y2="208.95" stroke="#d0c088" stroke-width="1.15"/>
<line x1="185.16" y1="320.5" x2="185.16" y2="289.10" stroke="#c0a030" stroke-width="1.15"/>
<line x1="186.17" y1="320.5" x2="186.17" y2="230.56" stroke="#c2ae66" stroke-width="1.15"/>
<line x1="186.17" y1="320.5" x2="186.17" y2="261.36" stroke="#c0a030" stroke-width="1.15"/>
<line x1="186.37" y1="320.5" x2="186.37" y2="261.62" stroke="#c2ae66" stroke-width="1.15"/>
<line x1="186.37" y1="320.5" x2="186.37" y2="271.45" stroke="#b49428" stroke-width="1.15"/>
<line x1="187.40" y1="320.5" x2="187.40" y2="206.13" stroke="#d0c088" stroke-width="1.15"/>
<line x1="187.40" y1="320.5" x2="187.40" y2="228.19" stroke="#9c801a" stroke-width="1.15"/>
<line x1="187.68" y1="320.5" x2="187.68" y2="244.18" stroke="#c6b26a" stroke-width="1.15"/>
<line x1="187.68" y1="320.5" x2="187.68" y2="261.12" stroke="#a88a20" stroke-width="1.15"/>
<line x1="188.10" y1="320.5" x2="188.10" y2="205.30" stroke="#bca85a" stroke-width="1.15"/>
<line x1="188.10" y1="320.5" x2="188.10" y2="273.70" stroke="#9c801a" stroke-width="1.15"/>
<line x1="177.98" y1="320.5" x2="177.98" y2="213.02" stroke="#d0c088" stroke-width="1.15"/>
<line x1="177.98" y1="320.5" x2="177.98" y2="280.55" stroke="#9c801a" stroke-width="1.15"/>
<line x1="178.01" y1="320.5" x2="178.01" y2="214.70" stroke="#d0c088" stroke-width="1.15"/>
<line x1="178.01" y1="320.5" x2="178.01" y2="235.96" stroke="#9c801a" stroke-width="1.15"/>
<line x1="179.79" y1="320.5" x2="179.79" y2="237.24" stroke="#b29c4c" stroke-width="1.15"/>
<line x1="179.79" y1="320.5" x2="179.79" y2="283.27" stroke="#9c801a" stroke-width="1.15"/>
<line x1="181.01" y1="320.5" x2="181.01" y2="246.07" stroke="#b29c4c" stroke-width="1.15"/>
<line x1="181.01" y1="320.5" x2="181.01" y2="261.37" stroke="#c0a030" stroke-width="1.15"/>
<line x1="181.14" y1="320.5" x2="181.14" y2="232.95" stroke="#d0c088" stroke-width="1.15"/>
<line x1="181.14" y1="320.5" x2="181.14" y2="247.05" stroke="#7a6410" stroke-width="1.15"/>
<line x1="166.80" y1="320.5" x2="166.80" y2="240.79" stroke="#b29c4c" stroke-width="1.15"/>
<line x1="166.80" y1="320.5" x2="166.80" y2="277.99" stroke="#7a6410" stroke-width="1.15"/>
<line x1="167.74" y1="320.5" x2="167.74" y2="206.25" stroke="#d0c088" stroke-width="1.15"/>
<line x1="167.74" y1="320.5" x2="167.74" y2="291.50" stroke="#a88a20" stroke-width="1.15"/>
<line x1="169.97" y1="320.5" x2="169.97" y2="247.65" stroke="#b29c4c" stroke-width="1.15"/>
<line x1="169.97" y1="320.5" x2="169.97" y2="260.51" stroke="#9c801a" stroke-width="1.15"/>
<line x1="170.49" y1="320.5" x2="170.49" y2="218.72" stroke="#c2ae66" stroke-width="1.15"/>
<line x1="170.49" y1="320.5" x2="170.49" y2="241.02" stroke="#9c801a" stroke-width="1.15"/>
<line x1="170.82" y1="320.5" x2="170.82" y2="221.40" stroke="#b29c4c" stroke-width="1.15"/>
<line x1="170.82" y1="320.5" x2="170.82" y2="258.70" stroke="#a88a20" stroke-width="1.15"/>
<line x1="170.93" y1="320.5" x2="170.93" y2="267.18" stroke="#c2ae66" stroke-width="1.15"/>
<line x1="170.93" y1="320.5" x2="170.93" y2="278.03" stroke="#9c801a" stroke-width="1.15"/>
<line x1="172.25" y1="320.5" x2="172.25" y2="263.14" stroke="#c6b26a" stroke-width="1.15"/>
<line x1="172.25" y1="320.5" x2="172.25" y2="305.23" stroke="#a88a20" stroke-width="1.15"/>
<line x1="173.21" y1="320.5" x2="173.21" y2="259.32" stroke="#c2ae66" stroke-width="1.15"/>
<line x1="173.21" y1="320.5" x2="173.21" y2="271.11" stroke="#b49428" stroke-width="1.15"/>
<line x1="161.37" y1="320.5" x2="161.37" y2="233.54" stroke="#bca85a" stroke-width="1.15"/>
<line x1="161.37" y1="320.5" x2="161.37" y2="262.20" stroke="#a88a20" stroke-width="1.15"/>
<line x1="161.97" y1="320.5" x2="161.97" y2="245.62" stroke="#c6b26a" stroke-width="1.15"/>
<line x1="161.97" y1="320.5" x2="161.97" y2="295.56" stroke="#c0a030" stroke-width="1.15"/>
<line x1="162.08" y1="320.5" x2="162.08" y2="225.11" stroke="#d0c088" stroke-width="1.15"/>
<line x1="162.08" y1="320.5" x2="162.08" y2="294.21" stroke="#a88a20" stroke-width="1.15"/>
<line x1="162.95" y1="320.5" x2="162.95" y2="253.98" stroke="#d0c088" stroke-width="1.15"/>
<line x1="162.95" y1="320.5" x2="162.95" y2="302.01" stroke="#7a6410" stroke-width="1.15"/>
<line x1="163.88" y1="320.5" x2="163.88" y2="237.01" stroke="#cab872" stroke-width="1.15"/>
<line x1="163.88" y1="320.5" x2="163.88" y2="289.64" stroke="#7a6410" stroke-width="1.15"/>
<line x1="152.42" y1="320.5" x2="152.42" y2="278.13" stroke="#d0c088" stroke-width="1.15"/>
<line x1="152.42" y1="320.5" x2="152.42" y2="308.23" stroke="#c0a030" stroke-width="1.15"/>
<line x1="152.56" y1="320.5" x2="152.56" y2="255.17" stroke="#b29c4c" stroke-width="1.15"/>
<line x1="152.56" y1="320.5" x2="152.56" y2="299.97" stroke="#9c801a" stroke-width="1.15"/>
<line x1="155.07" y1="320.5" x2="155.07" y2="223.54" stroke="#bca85a" stroke-width="1.15"/>
<line x1="155.07" y1="320.5" x2="155.07" y2="289.75" stroke="#a88a20" stroke-width="1.15"/>
<line x1="155.76" y1="320.5" x2="155.76" y2="250.03" stroke="#d0c088" stroke-width="1.15"/>
<line x1="155.76" y1="320.5" x2="155.76" y2="299.18" stroke="#c0a030" stroke-width="1.15"/>
<line x1="156.93" y1="320.5" x2="156.93" y2="265.30" stroke="#d0c088" stroke-width="1.15"/>
<line x1="156.93" y1="320.5" x2="156.93" y2="297.18" stroke="#a88a20" stroke-width="1.15"/>
<line x1="156.94" y1="320.5" x2="156.94" y2="252.35" stroke="#bca85a" stroke-width="1.15"/>
<line x1="156.94" y1="320.5" x2="156.94" y2="299.46" stroke="#c0a030" stroke-width="1.15"/>
<line x1="157.61" y1="320.5" x2="157.61" y2="250.09" stroke="#bca85a" stroke-width="1.15"/>
<line x1="157.61" y1="320.5" x2="157.61" y2="290.46" stroke="#b49428" stroke-width="1.15"/>
<line x1="157.65" y1="320.5" x2="157.65" y2="237.31" stroke="#b29c4c" stroke-width="1.15"/>
<line x1="157.65" y1="320.5" x2="157.65" y2="286.67" stroke="#b49428" stroke-width="1.15"/>
<line x1="146.08" y1="320.5" x2="146.08" y2="275.89" stroke="#cab872" stroke-width="1.15"/>
<line x1="146.08" y1="320.5" x2="146.08" y2="284.45" stroke="#a88a20" stroke-width="1.15"/>
<line x1="146.87" y1="320.5" x2="146.87" y2="303.72" stroke="#d0c088" stroke-width="1.15"/>
<line x1="146.87" y1="320.5" x2="146.87" y2="308.65" stroke="#b49428" stroke-width="1.15"/>
<line x1="147.02" y1="320.5" x2="147.02" y2="258.57" stroke="#c2ae66" stroke-width="1.15"/>
<line x1="147.02" y1="320.5" x2="147.02" y2="286.30" stroke="#b49428" stroke-width="1.15"/>
<line x1="148.58" y1="320.5" x2="148.58" y2="299.61" stroke="#c2ae66" stroke-width="1.15"/>
<line x1="148.58" y1="320.5" x2="148.58" y2="305.93" stroke="#8c7418" stroke-width="1.15"/>
<line x1="149.75" y1="320.5" x2="149.75" y2="254.79" stroke="#c6b26a" stroke-width="1.15"/>
<line x1="149.75" y1="320.5" x2="149.75" y2="286.86" stroke="#a88a20" stroke-width="1.15"/>
<line x1="137.75" y1="320.5" x2="137.75" y2="243.70" stroke="#cab872" stroke-width="1.15"/>
<line x1="137.75" y1="320.5" x2="137.75" y2="279.69" stroke="#a88a20" stroke-width="1.15"/>
<line x1="138.08" y1="320.5" x2="138.08" y2="244.96" stroke="#c2ae66" stroke-width="1.15"/>
<line x1="138.08" y1="320.5" x2="138.08" y2="275.96" stroke="#c0a030" stroke-width="1.15"/>
<line x1="138.29" y1="320.5" x2="138.29" y2="282.03" stroke="#c6b26a" stroke-width="1.15"/>
<line x1="138.29" y1="320.5" x2="138.29" y2="297.62" stroke="#b49428" stroke-width="1.15"/>
<line x1="139.90" y1="320.5" x2="139.90" y2="266.30" stroke="#bca85a" stroke-width="1.15"/>
<line x1="139.90" y1="320.5" x2="139.90" y2="292.77" stroke="#7a6410" stroke-width="1.15"/>
<line x1="139.91" y1="320.5" x2="139.91" y2="239.75" stroke="#bca85a" stroke-width="1.15"/>
<line x1="139.91" y1="320.5" x2="139.91" y2="286.34" stroke="#a88a20" stroke-width="1.15"/>
<line x1="140.59" y1="320.5" x2="140.59" y2="269.46" stroke="#c6b26a" stroke-width="1.15"/>
<line x1="140.59" y1="320.5" x2="140.59" y2="297.09" stroke="#a88a20" stroke-width="1.15"/>
<line x1="142.00" y1="320.5" x2="142.00" y2="274.14" stroke="#b29c4c" stroke-width="1.15"/>
<line x1="142.00" y1="320.5" x2="142.00" y2="289.57" stroke="#9c801a" stroke-width="1.15"/>
<line x1="143.16" y1="320.5" x2="143.16" y2="254.86" stroke="#b29c4c" stroke-width="1.15"/>
<line x1="143.16" y1="320.5" x2="143.16" y2="280.75" stroke="#7a6410" stroke-width="1.15"/>
<line x1="131.02" y1="320.5" x2="131.02" y2="297.03" stroke="#cab872" stroke-width="1.15"/>
<line x1="131.02" y1="320.5" x2="131.02" y2="306.49" stroke="#9c801a" stroke-width="1.15"/>
<line x1="131.52" y1="320.5" x2="131.52" y2="268.01" stroke="#cab872" stroke-width="1.15"/>
<line x1="131.52" y1="320.5" x2="131.52" y2="281.70" stroke="#c0a030" stroke-width="1.15"/>
<line x1="132.02" y1="320.5" x2="132.02" y2="261.81" stroke="#bca85a" stroke-width="1.15"/>
<line x1="132.02" y1="320.5" x2="132.02" y2="288.28" stroke="#a88a20" stroke-width="1.15"/>
<line x1="132.71" y1="320.5" x2="132.71" y2="292.73" stroke="#d0c088" stroke-width="1.15"/>
<line x1="132.71" y1="320.5" x2="132.71" y2="300.78" stroke="#8c7418" stroke-width="1.15"/>
<line x1="134.62" y1="320.5" x2="134.62" y2="265.98" stroke="#d0c088" stroke-width="1.15"/>
<line x1="134.62" y1="320.5" x2="134.62" y2="288.51" stroke="#a88a20" stroke-width="1.15"/>
<line x1="122.33" y1="320.5" x2="122.33" y2="278.91" stroke="#d0c088" stroke-width="1.15"/>
<line x1="122.33" y1="320.5" x2="122.33" y2="301.95" stroke="#a88a20" stroke-width="1.15"/>
<line x1="123.57" y1="320.5" x2="123.57" y2="296.06" stroke="#b29c4c" stroke-width="1.15"/>
<line x1="123.57" y1="320.5" x2="123.57" y2="300.77" stroke="#c0a030" stroke-width="1.15"/>
<line x1="123.99" y1="320.5" x2="123.99" y2="278.43" stroke="#c6b26a" stroke-width="1.15"/>
<line x1="123.99" y1="320.5" x2="123.99" y2="299.33" stroke="#c0a030" stroke-width="1.15"/>
<line x1="124.22" y1="320.5" x2="124.22" y2="252.23" stroke="#c6b26a" stroke-width="1.15"/>
<line x1="124.22" y1="320.5" x2="124.22" y2="288.20" stroke="#b49428" stroke-width="1.15"/>
<line x1="124.61" y1="320.5" x2="124.61" y2="273.88" stroke="#cab872" stroke-width="1.15"/>
<line x1="124.61" y1="320.5" x2="124.61" y2="296.87" stroke="#7a6410" stroke-width="1.15"/>
<line x1="124.81" y1="320.5" x2="124.81" y2="263.40" stroke="#c2ae66" stroke-width="1.15"/>
<line x1="124.81" y1="320.5" x2="124.81" y2="300.36" stroke="#c0a030" stroke-width="1.15"/>
<line x1="127.03" y1="320.5" x2="127.03" y2="277.49" stroke="#bca85a" stroke-width="1.15"/>
<line x1="127.03" y1="320.5" x2="127.03" y2="285.39" stroke="#9c801a" stroke-width="1.15"/>
<line x1="128.13" y1="320.5" x2="128.13" y2="271.19" stroke="#c2ae66" stroke-width="1.15"/>
<line x1="128.13" y1="320.5" x2="128.13" y2="290.60" stroke="#c0a030" stroke-width="1.15"/>
<line x1="113.82" y1="320.5" x2="113.82" y2="276.48" stroke="#c2ae66" stroke-width="1.15"/>
<line x1="113.82" y1="320.5" x2="113.82" y2="292.43" stroke="#b49428" stroke-width="1.15"/>
<line x1="114.46" y1="320.5" x2="114.46" y2="296.22" stroke="#c2ae66" stroke-width="1.15"/>
<line x1="114.46" y1="320.5" x2="114.46" y2="309.67" stroke="#9c801a" stroke-width="1.15"/>
<line x1="114.82" y1="320.5" x2="114.82" y2="277.99" stroke="#b29c4c" stroke-width="1.15"/>
<line x1="114.82" y1="320.5" x2="114.82" y2="292.98" stroke="#c0a030" stroke-width="1.15"/>
<line x1="118.25" y1="320.5" x2="118.25" y2="299.93" stroke="#cab872" stroke-width="1.15"/>
<line x1="118.25" y1="320.5" x2="118.25" y2="313.26" stroke="#8c7418" stroke-width="1.15"/>
<line x1="118.48" y1="320.5" x2="118.48" y2="281.64" stroke="#d0c088" stroke-width="1.15"/>
<line x1="118.48" y1="320.5" x2="118.48" y2="292.75" stroke="#7a6410" stroke-width="1.15"/>
<line x1="108.89" y1="320.5" x2="108.89" y2="301.27" stroke="#bca85a" stroke-width="1.15"/>
<line x1="108.89" y1="320.5" x2="108.89" y2="314.24" stroke="#8c7418" stroke-width="1.15"/>
<line x1="109.51" y1="320.5" x2="109.51" y2="303.76" stroke="#d0c088" stroke-width="1.15"/>
<line x1="109.51" y1="320.5" x2="109.51" y2="307.43" stroke="#9c801a" stroke-width="1.15"/>
<line x1="109.65" y1="320.5" x2="109.65" y2="275.59" stroke="#c2ae66" stroke-width="1.15"/>
<line x1="109.65" y1="320.5" x2="109.65" y2="304.11" stroke="#b49428" stroke-width="1.15"/>
<line x1="109.81" y1="320.5" x2="109.81" y2="284.72" stroke="#d0c088" stroke-width="1.15"/>
<line x1="109.81" y1="320.5" x2="109.81" y2="293.81" stroke="#7a6410" stroke-width="1.15"/>
<line x1="110.78" y1="320.5" x2="110.78" y2="302.55" stroke="#bca85a" stroke-width="1.15"/>
<line x1="110.78" y1="320.5" x2="110.78" y2="308.22" stroke="#9c801a" stroke-width="1.15"/>
<line x1="111.79" y1="320.5" x2="111.79" y2="263.85" stroke="#d0c088" stroke-width="1.15"/>
<line x1="111.79" y1="320.5" x2="111.79" y2="295.24" stroke="#7a6410" stroke-width="1.15"/>
<line x1="112.00" y1="320.5" x2="112.00" y2="277.33" stroke="#cab872" stroke-width="1.15"/>
<line x1="112.00" y1="320.5" x2="112.00" y2="305.54" stroke="#b49428" stroke-width="1.15"/>
<line x1="112.67" y1="320.5" x2="112.67" y2="272.11" stroke="#bca85a" stroke-width="1.15"/>
<line x1="112.67" y1="320.5" x2="112.67" y2="300.89" stroke="#c0a030" stroke-width="1.15"/>
<line x1="98.42" y1="320.5" x2="98.42" y2="284.68" stroke="#c6b26a" stroke-width="1.15"/>
<line x1="98.42" y1="320.5" x2="98.42" y2="308.01" stroke="#c0a030" stroke-width="1.15"/>
<line x1="98.51" y1="320.5" x2="98.51" y2="296.91" stroke="#c6b26a" stroke-width="1.15"/>
<line x1="98.51" y1="320.5" x2="98.51" y2="311.84" stroke="#9c801a" stroke-width="1.15"/>
<line x1="100.55" y1="320.5" x2="100.55" y2="282.91" stroke="#bca85a" stroke-width="1.15"/>
<line x1="100.55" y1="320.5" x2="100.55" y2="293.18" stroke="#c0a030" stroke-width="1.15"/>
<line x1="102.76" y1="320.5" x2="102.76" y2="292.09" stroke="#cab872" stroke-width="1.15"/>
<line x1="102.76" y1="320.5" x2="102.76" y2="305.98" stroke="#9c801a" stroke-width="1.15"/>
<line x1="102.80" y1="320.5" x2="102.80" y2="310.24" stroke="#c6b26a" stroke-width="1.15"/>
<line x1="102.80" y1="320.5" x2="102.80" y2="314.01" stroke="#a88a20" stroke-width="1.15"/>
<line x1="92.17" y1="320.5" x2="92.17" y2="296.10" stroke="#cab872" stroke-width="1.15"/>
<line x1="92.17" y1="320.5" x2="92.17" y2="311.38" stroke="#8c7418" stroke-width="1.15"/>
<line x1="92.73" y1="320.5" x2="92.73" y2="289.33" stroke="#b29c4c" stroke-width="1.15"/>
<line x1="92.73" y1="320.5" x2="92.73" y2="312.07" stroke="#8c7418" stroke-width="1.15"/>
<line x1="94.62" y1="320.5" x2="94.62" y2="300.54" stroke="#b29c4c" stroke-width="1.15"/>
<line x1="94.62" y1="320.5" x2="94.62" y2="307.21" stroke="#7a6410" stroke-width="1.15"/>
<line x1="95.30" y1="320.5" x2="95.30" y2="276.61" stroke="#d0c088" stroke-width="1.15"/>
<line x1="95.30" y1="320.5" x2="95.30" y2="301.73" stroke="#a88a20" stroke-width="1.15"/>
<line x1="95.87" y1="320.5" x2="95.87" y2="310.28" stroke="#bca85a" stroke-width="1.15"/>
<line x1="95.87" y1="320.5" x2="95.87" y2="316.37" stroke="#c0a030" stroke-width="1.15"/>
<line x1="97.43" y1="320.5" x2="97.43" y2="297.57" stroke="#b29c4c" stroke-width="1.15"/>
<line x1="97.43" y1="320.5" x2="97.43" y2="314.69" stroke="#9c801a" stroke-width="1.15"/>
<line x1="97.47" y1="320.5" x2="97.47" y2="310.60" stroke="#b29c4c" stroke-width="1.15"/>
<line x1="97.47" y1="320.5" x2="97.47" y2="313.86" stroke="#7a6410" stroke-width="1.15"/>
<line x1="97.68" y1="320.5" x2="97.68" y2="283.06" stroke="#d0c088" stroke-width="1.15"/>
<line x1="97.68" y1="320.5" x2="97.68" y2="296.60" stroke="#9c801a" stroke-width="1.15"/>
<line x1="83.48" y1="320.5" x2="83.48" y2="297.54" stroke="#d0c088" stroke-width="1.15"/>
<line x1="83.48" y1="320.5" x2="83.48" y2="304.81" stroke="#c0a030" stroke-width="1.15"/>
<line x1="83.94" y1="320.5" x2="83.94" y2="299.48" stroke="#d0c088" stroke-width="1.15"/>
<line x1="83.94" y1="320.5" x2="83.94" y2="307.88" stroke="#9c801a" stroke-width="1.15"/>
<line x1="85.51" y1="320.5" x2="85.51" y2="293.86" stroke="#d0c088" stroke-width="1.15"/>
<line x1="85.51" y1="320.5" x2="85.51" y2="310.94" stroke="#a88a20" stroke-width="1.15"/>
<line x1="85.93" y1="320.5" x2="85.93" y2="290.81" stroke="#b29c4c" stroke-width="1.15"/>
<line x1="85.93" y1="320.5" x2="85.93" y2="305.37" stroke="#b49428" stroke-width="1.15"/>
<line x1="88.04" y1="320.5" x2="88.04" y2="304.30" stroke="#d0c088" stroke-width="1.15"/>
<line x1="88.04" y1="320.5" x2="88.04" y2="309.64" stroke="#8c7418" stroke-width="1.15"/>
<line x1="76.73" y1="320.5" x2="76.73" y2="312.98" stroke="#bca85a" stroke-width="1.15"/>
<line x1="76.73" y1="320.5" x2="76.73" y2="315.09" stroke="#c0a030" stroke-width="1.15"/>
<line x1="77.14" y1="320.5" x2="77.14" y2="293.82" stroke="#d0c088" stroke-width="1.15"/>
<line x1="77.14" y1="320.5" x2="77.14" y2="303.75" stroke="#b49428" stroke-width="1.15"/>
<line x1="77.26" y1="320.5" x2="77.26" y2="285.40" stroke="#b29c4c" stroke-width="1.15"/>
<line x1="77.26" y1="320.5" x2="77.26" y2="301.56" stroke="#a88a20" stroke-width="1.15"/>
<line x1="77.36" y1="320.5" x2="77.36" y2="298.11" stroke="#c2ae66" stroke-width="1.15"/>
<line x1="77.36" y1="320.5" x2="77.36" y2="303.37" stroke="#7a6410" stroke-width="1.15"/>
<line x1="80.85" y1="320.5" x2="80.85" y2="310.20" stroke="#d0c088" stroke-width="1.15"/>
<line x1="80.85" y1="320.5" x2="80.85" y2="313.84" stroke="#9c801a" stroke-width="1.15"/>
<line x1="81.92" y1="320.5" x2="81.92" y2="293.02" stroke="#d0c088" stroke-width="1.15"/>
<line x1="81.92" y1="320.5" x2="81.92" y2="308.22" stroke="#a88a20" stroke-width="1.15"/>
<line x1="82.62" y1="320.5" x2="82.62" y2="299.32" stroke="#b29c4c" stroke-width="1.15"/>
<line x1="82.62" y1="320.5" x2="82.62" y2="304.63" stroke="#a88a20" stroke-width="1.15"/>
<line x1="82.68" y1="320.5" x2="82.68" y2="296.37" stroke="#c6b26a" stroke-width="1.15"/>
<line x1="82.68" y1="320.5" x2="82.68" y2="310.83" stroke="#9c801a" stroke-width="1.15"/>
<line x1="68.00" y1="320.5" x2="68.00" y2="305.76" stroke="#bca85a" stroke-width="1.15"/>
<line x1="68.00" y1="320.5" x2="68.00" y2="310.48" stroke="#9c801a" stroke-width="1.15"/>
<line x1="68.77" y1="320.5" x2="68.77" y2="308.82" stroke="#c2ae66" stroke-width="1.15"/>
<line x1="68.77" y1="320.5" x2="68.77" y2="315.14" stroke="#7a6410" stroke-width="1.15"/>
<line x1="71.04" y1="320.5" x2="71.04" y2="297.62" stroke="#b29c4c" stroke-width="1.15"/>
<line x1="71.04" y1="320.5" x2="71.04" y2="307.35" stroke="#c0a030" stroke-width="1.15"/>
<line x1="71.56" y1="320.5" x2="71.56" y2="299.01" stroke="#b29c4c" stroke-width="1.15"/>
<line x1="71.56" y1="320.5" x2="71.56" y2="308.52" stroke="#c0a030" stroke-width="1.15"/>
<line x1="73.09" y1="320.5" x2="73.09" y2="304.28" stroke="#cab872" stroke-width="1.15"/>
<line x1="73.09" y1="320.5" x2="73.09" y2="311.37" stroke="#8c7418" stroke-width="1.15"/>
<line x1="60.61" y1="320.5" x2="60.61" y2="306.94" stroke="#d0c088" stroke-width="1.15"/>
<line x1="60.61" y1="320.5" x2="60.61" y2="309.40" stroke="#9c801a" stroke-width="1.15"/>
<line x1="62.31" y1="320.5" x2="62.31" y2="297.65" stroke="#d0c088" stroke-width="1.15"/>
<line x1="62.31" y1="320.5" x2="62.31" y2="312.27" stroke="#7a6410" stroke-width="1.15"/>
<line x1="62.77" y1="320.5" x2="62.77" y2="311.23" stroke="#c6b26a" stroke-width="1.15"/>
<line x1="62.77" y1="320.5" x2="62.77" y2="314.12" stroke="#7a6410" stroke-width="1.15"/>
<line x1="63.10" y1="320.5" x2="63.10" y2="293.55" stroke="#cab872" stroke-width="1.15"/>
<line x1="63.10" y1="320.5" x2="63.10" y2="303.45" stroke="#b49428" stroke-width="1.15"/>
<line x1="63.27" y1="320.5" x2="63.27" y2="309.58" stroke="#cab872" stroke-width="1.15"/>
<line x1="63.27" y1="320.5" x2="63.27" y2="315.27" stroke="#a88a20" stroke-width="1.15"/>
<line x1="63.92" y1="320.5" x2="63.92" y2="300.54" stroke="#c6b26a" stroke-width="1.15"/>
<line x1="63.92" y1="320.5" x2="63.92" y2="314.61" stroke="#8c7418" stroke-width="1.15"/>
<line x1="64.12" y1="320.5" x2="64.12" y2="303.92" stroke="#d0c088" stroke-width="1.15"/>
<line x1="64.12" y1="320.5" x2="64.12" y2="309.41" stroke="#b49428" stroke-width="1.15"/>
<line x1="67.36" y1="320.5" x2="67.36" y2="305.81" stroke="#c2ae66" stroke-width="1.15"/>
<line x1="67.36" y1="320.5" x2="67.36" y2="314.49" stroke="#9c801a" stroke-width="1.15"/>
<line x1="53.06" y1="320.5" x2="53.06" y2="310.11" stroke="#cab872" stroke-width="1.15"/>
<line x1="53.06" y1="320.5" x2="53.06" y2="313.28" stroke="#7a6410" stroke-width="1.15"/>
<line x1="53.45" y1="320.5" x2="53.45" y2="310.90" stroke="#bca85a" stroke-width="1.15"/>
<line x1="53.45" y1="320.5" x2="53.45" y2="312.37" stroke="#8c7418" stroke-width="1.15"/>
<line x1="56.06" y1="320.5" x2="56.06" y2="304.29" stroke="#b29c4c" stroke-width="1.15"/>
<line x1="56.06" y1="320.5" x2="56.06" y2="314.39" stroke="#9c801a" stroke-width="1.15"/>
<line x1="57.29" y1="320.5" x2="57.29" y2="313.52" stroke="#c6b26a" stroke-width="1.15"/>
<line x1="57.29" y1="320.5" x2="57.29" y2="315.37" stroke="#c0a030" stroke-width="1.15"/>
<line x1="57.87" y1="320.5" x2="57.87" y2="303.64" stroke="#bca85a" stroke-width="1.15"/>
<line x1="57.87" y1="320.5" x2="57.87" y2="311.54" stroke="#7a6410" stroke-width="1.15"/>
<line x1="45.76" y1="320.5" x2="45.76" y2="300.79" stroke="#d0c088" stroke-width="1.15"/>
<line x1="45.76" y1="320.5" x2="45.76" y2="312.90" stroke="#9c801a" stroke-width="1.15"/>
<line x1="46.43" y1="320.5" x2="46.43" y2="305.94" stroke="#cab872" stroke-width="1.15"/>
<line x1="46.43" y1="320.5" x2="46.43" y2="311.04" stroke="#8c7418" stroke-width="1.15"/>
<line x1="49.84" y1="320.5" x2="49.84" y2="302.59" stroke="#b29c4c" stroke-width="1.15"/>
<line x1="49.84" y1="320.5" x2="49.84" y2="305.32" stroke="#7a6410" stroke-width="1.15"/>
<line x1="49.95" y1="320.5" x2="49.95" y2="304.81" stroke="#d0c088" stroke-width="1.15"/>
<line x1="49.95" y1="320.5" x2="49.95" y2="315.40" stroke="#8c7418" stroke-width="1.15"/>
<line x1="50.59" y1="320.5" x2="50.59" y2="304.69" stroke="#cab872" stroke-width="1.15"/>
<line x1="50.59" y1="320.5" x2="50.59" y2="309.11" stroke="#9c801a" stroke-width="1.15"/>
<line x1="51.14" y1="320.5" x2="51.14" y2="310.90" stroke="#cab872" stroke-width="1.15"/>
<line x1="51.14" y1="320.5" x2="51.14" y2="314.04" stroke="#c0a030" stroke-width="1.15"/>
<line x1="51.30" y1="320.5" x2="51.30" y2="315.51" stroke="#cab872" stroke-width="1.15"/>
<line x1="51.30" y1="320.5" x2="51.30" y2="316.31" stroke="#c0a030" stroke-width="1.15"/>
<line x1="51.69" y1="320.5" x2="51.69" y2="312.75" stroke="#bca85a" stroke-width="1.15"/>
<line x1="51.69" y1="320.5" x2="51.69" y2="316.32" stroke="#c0a030" stroke-width="1.15"/>
<line x1="38.03" y1="320.5" x2="38.03" y2="312.06" stroke="#cab872" stroke-width="1.15"/>
<line x1="38.03" y1="320.5" x2="38.03" y2="316.58" stroke="#c0a030" stroke-width="1.15"/>
<line x1="39.43" y1="320.5" x2="39.43" y2="313.29" stroke="#cab872" stroke-width="1.15"/>
<line x1="39.43" y1="320.5" x2="39.43" y2="317.31" stroke="#8c7418" stroke-width="1.15"/>
<line x1="40.52" y1="320.5" x2="40.52" y2="318.61" stroke="#b29c4c" stroke-width="1.15"/>
<line x1="40.52" y1="320.5" x2="40.52" y2="319.32" stroke="#a88a20" stroke-width="1.15"/>
<line x1="40.90" y1="320.5" x2="40.90" y2="311.38" stroke="#d0c088" stroke-width="1.15"/>
<line x1="40.90" y1="320.5" x2="40.90" y2="313.31" stroke="#9c801a" stroke-width="1.15"/>
<line x1="42.05" y1="320.5" x2="42.05" y2="309.94" stroke="#cab872" stroke-width="1.15"/>
<line x1="42.05" y1="320.5" x2="42.05" y2="312.45" stroke="#a88a20" stroke-width="1.15"/>
<line x1="35.46" y1="320.5" x2="35.46" y2="315.18" stroke="#c6b26a" stroke-width="1.15"/>
<line x1="35.46" y1="320.5" x2="35.46" y2="316.52" stroke="#b49428" stroke-width="1.15"/>
<line x1="334.87" y1="320.5" x2="334.87" y2="289.52" stroke="#bca85a" stroke-width="1.15"/>
<line x1="334.87" y1="320.5" x2="334.87" y2="302.89" stroke="#b49428" stroke-width="1.15"/>
<line x1="335.99" y1="320.5" x2="335.99" y2="267.53" stroke="#d0c088" stroke-width="1.15"/>
<line x1="335.99" y1="320.5" x2="335.99" y2="288.75" stroke="#c0a030" stroke-width="1.15"/>
<line x1="337.12" y1="320.5" x2="337.12" y2="283.12" stroke="#c6b26a" stroke-width="1.15"/>
<line x1="337.12" y1="320.5" x2="337.12" y2="306.45" stroke="#a88a20" stroke-width="1.15"/>
<line x1="337.13" y1="320.5" x2="337.13" y2="290.49" stroke="#d0c088" stroke-width="1.15"/>
<line x1="337.13" y1="320.5" x2="337.13" y2="307.72" stroke="#7a6410" stroke-width="1.15"/>
<line x1="337.46" y1="320.5" x2="337.46" y2="302.33" stroke="#c6b26a" stroke-width="1.15"/>
<line x1="337.46" y1="320.5" x2="337.46" y2="309.65" stroke="#9c801a" stroke-width="1.15"/>
<line x1="339.91" y1="320.5" x2="339.91" y2="281.91" stroke="#bca85a" stroke-width="1.15"/>
<line x1="339.91" y1="320.5" x2="339.91" y2="292.88" stroke="#b49428" stroke-width="1.15"/>
<line x1="349.32" y1="320.5" x2="349.32" y2="217.32" stroke="#bca85a" stroke-width="1.15"/>
<line x1="349.32" y1="320.5" x2="349.32" y2="281.80" stroke="#8c7418" stroke-width="1.15"/>
<line x1="351.51" y1="320.5" x2="351.51" y2="244.44" stroke="#c2ae66" stroke-width="1.15"/>
<line x1="351.51" y1="320.5" x2="351.51" y2="293.82" stroke="#c0a030" stroke-width="1.15"/>
<line x1="355.22" y1="320.5" x2="355.22" y2="218.73" stroke="#c2ae66" stroke-width="1.15"/>
<line x1="355.22" y1="320.5" x2="355.22" y2="235.39" stroke="#a88a20" stroke-width="1.15"/>
<line x1="355.31" y1="320.5" x2="355.31" y2="277.91" stroke="#d0c088" stroke-width="1.15"/>
<line x1="355.31" y1="320.5" x2="355.31" y2="286.81" stroke="#7a6410" stroke-width="1.15"/>
<line x1="355.76" y1="320.5" x2="355.76" y2="226.06" stroke="#d0c088" stroke-width="1.15"/>
<line x1="355.76" y1="320.5" x2="355.76" y2="249.36" stroke="#9c801a" stroke-width="1.15"/>
<line x1="355.76" y1="320.5" x2="355.76" y2="245.49" stroke="#b29c4c" stroke-width="1.15"/>
<line x1="355.76" y1="320.5" x2="355.76" y2="270.57" stroke="#7a6410" stroke-width="1.15"/>
<line x1="363.53" y1="320.5" x2="363.53" y2="229.79" stroke="#c6b26a" stroke-width="1.15"/>
<line x1="363.53" y1="320.5" x2="363.53" y2="257.45" stroke="#8c7418" stroke-width="1.15"/>
<line x1="363.69" y1="320.5" x2="363.69" y2="249.45" stroke="#d0c088" stroke-width="1.15"/>
<line x1="363.69" y1="320.5" x2="363.69" y2="265.11" stroke="#7a6410" stroke-width="1.15"/>
<line x1="365.24" y1="320.5" x2="365.24" y2="226.89" stroke="#c6b26a" stroke-width="1.15"/>
<line x1="365.24" y1="320.5" x2="365.24" y2="282.24" stroke="#9c801a" stroke-width="1.15"/>
<line x1="367.15" y1="320.5" x2="367.15" y2="209.76" stroke="#bca85a" stroke-width="1.15"/>
<line x1="367.15" y1="320.5" x2="367.15" y2="261.37" stroke="#7a6410" stroke-width="1.15"/>
<line x1="368.78" y1="320.5" x2="368.78" y2="251.81" stroke="#c6b26a" stroke-width="1.15"/>
<line x1="368.78" y1="320.5" x2="368.78" y2="283.37" stroke="#9c801a" stroke-width="1.15"/>
<line x1="370.15" y1="320.5" x2="370.15" y2="277.18" stroke="#d0c088" stroke-width="1.15"/>
<line x1="370.15" y1="320.5" x2="370.15" y2="296.90" stroke="#8c7418" stroke-width="1.15"/>
<line x1="370.23" y1="320.5" x2="370.23" y2="255.57" stroke="#bca85a" stroke-width="1.15"/>
<line x1="370.23" y1="320.5" x2="370.23" y2="283.25" stroke="#c0a030" stroke-width="1.15"/>
<line x1="378.29" y1="320.5" x2="378.29" y2="239.17" stroke="#c6b26a" stroke-width="1.15"/>
<line x1="378.29" y1="320.5" x2="378.29" y2="292.34" stroke="#b49428" stroke-width="1.15"/>
<line x1="379.77" y1="320.5" x2="379.77" y2="237.17" stroke="#b29c4c" stroke-width="1.15"/>
<line x1="379.77" y1="320.5" x2="379.77" y2="264.87" stroke="#8c7418" stroke-width="1.15"/>
<line x1="380.80" y1="320.5" x2="380.80" y2="183.16" stroke="#d0c088" stroke-width="1.15"/>
<line x1="380.80" y1="320.5" x2="380.80" y2="261.71" stroke="#8c7418" stroke-width="1.15"/>
<line x1="380.91" y1="320.5" x2="380.91" y2="219.90" stroke="#cab872" stroke-width="1.15"/>
<line x1="380.91" y1="320.5" x2="380.91" y2="269.65" stroke="#c0a030" stroke-width="1.15"/>
<line x1="381.39" y1="320.5" x2="381.39" y2="240.30" stroke="#c6b26a" stroke-width="1.15"/>
<line x1="381.39" y1="320.5" x2="381.39" y2="291.76" stroke="#b49428" stroke-width="1.15"/>
<line x1="384.12" y1="320.5" x2="384.12" y2="233.86" stroke="#d0c088" stroke-width="1.15"/>
<line x1="384.12" y1="320.5" x2="384.12" y2="265.23" stroke="#a88a20" stroke-width="1.15"/>
<line x1="385.72" y1="320.5" x2="385.72" y2="249.24" stroke="#c2ae66" stroke-width="1.15"/>
<line x1="385.72" y1="320.5" x2="385.72" y2="300.72" stroke="#c0a030" stroke-width="1.15"/>
<line x1="393.31" y1="320.5" x2="393.31" y2="233.65" stroke="#cab872" stroke-width="1.15"/>
<line x1="393.31" y1="320.5" x2="393.31" y2="256.65" stroke="#a88a20" stroke-width="1.15"/>
<line x1="393.76" y1="320.5" x2="393.76" y2="188.67" stroke="#c2ae66" stroke-width="1.15"/>
<line x1="393.76" y1="320.5" x2="393.76" y2="249.24" stroke="#9c801a" stroke-width="1.15"/>
<line x1="395.02" y1="320.5" x2="395.02" y2="187.66" stroke="#c6b26a" stroke-width="1.15"/>
<line x1="395.02" y1="320.5" x2="395.02" y2="270.29" stroke="#8c7418" stroke-width="1.15"/>
<line x1="395.16" y1="320.5" x2="395.16" y2="221.00" stroke="#d0c088" stroke-width="1.15"/>
<line x1="395.16" y1="320.5" x2="395.16" y2="288.05" stroke="#a88a20" stroke-width="1.15"/>
<line x1="395.33" y1="320.5" x2="395.33" y2="173.45" stroke="#d0c088" stroke-width="1.15"/>
<line x1="395.33" y1="320.5" x2="395.33" y2="251.43" stroke="#8c7418" stroke-width="1.15"/>
<line x1="399.99" y1="320.5" x2="399.99" y2="189.64" stroke="#c2ae66" stroke-width="1.15"/>
<line x1="399.99" y1="320.5" x2="399.99" y2="244.27" stroke="#9c801a" stroke-width="1.15"/>
<line x1="400.85" y1="320.5" x2="400.85" y2="223.99" stroke="#cab872" stroke-width="1.15"/>
<line x1="400.85" y1="320.5" x2="400.85" y2="271.17" stroke="#8c7418" stroke-width="1.15"/>
<line x1="408.33" y1="320.5" x2="408.33" y2="209.03" stroke="#cab872" stroke-width="1.15"/>
<line x1="408.33" y1="320.5" x2="408.33" y2="255.58" stroke="#b49428" stroke-width="1.15"/>
<line x1="408.85" y1="320.5" x2="408.85" y2="169.30" stroke="#cab872" stroke-width="1.15"/>
<line x1="408.85" y1="320.5" x2="408.85" y2="250.48" stroke="#8c7418" stroke-width="1.15"/>
<line x1="409.43" y1="320.5" x2="409.43" y2="202.31" stroke="#b29c4c" stroke-width="1.15"/>
<line x1="409.43" y1="320.5" x2="409.43" y2="267.29" stroke="#b49428" stroke-width="1.15"/>
<line x1="411.30" y1="320.5" x2="411.30" y2="249.31" stroke="#c2ae66" stroke-width="1.15"/>
<line x1="411.30" y1="320.5" x2="411.30" y2="287.97" stroke="#9c801a" stroke-width="1.15"/>
<line x1="412.59" y1="320.5" x2="412.59" y2="160.61" stroke="#d0c088" stroke-width="1.15"/>
<line x1="412.59" y1="320.5" x2="412.59" y2="233.31" stroke="#a88a20" stroke-width="1.15"/>
<line x1="413.13" y1="320.5" x2="413.13" y2="233.12" stroke="#cab872" stroke-width="1.15"/>
<line x1="413.13" y1="320.5" x2="413.13" y2="288.57" stroke="#c0a030" stroke-width="1.15"/>
<line x1="415.48" y1="320.5" x2="415.48" y2="236.64" stroke="#cab872" stroke-width="1.15"/>
<line x1="415.48" y1="320.5" x2="415.48" y2="293.12" stroke="#c0a030" stroke-width="1.15"/>
<line x1="416.00" y1="320.5" x2="416.00" y2="184.28" stroke="#c6b26a" stroke-width="1.15"/>
<line x1="416.00" y1="320.5" x2="416.00" y2="222.35" stroke="#a88a20" stroke-width="1.15"/>
<line x1="420.29" y1="320.5" x2="420.29" y2="270.08" stroke="#b29c4c" stroke-width="1.15"/>
<line x1="420.29" y1="320.5" x2="420.29" y2="286.03" stroke="#8c7418" stroke-width="1.15"/>
<line x1="421.13" y1="320.5" x2="421.13" y2="217.48" stroke="#c2ae66" stroke-width="1.15"/>
<line x1="421.13" y1="320.5" x2="421.13" y2="259.26" stroke="#8c7418" stroke-width="1.15"/>
<line x1="421.52" y1="320.5" x2="421.52" y2="277.43" stroke="#cab872" stroke-width="1.15"/>
<line x1="421.52" y1="320.5" x2="421.52" y2="306.93" stroke="#a88a20" stroke-width="1.15"/>
<line x1="422.36" y1="320.5" x2="422.36" y2="199.11" stroke="#bca85a" stroke-width="1.15"/>
<line x1="422.36" y1="320.5" x2="422.36" y2="230.28" stroke="#8c7418" stroke-width="1.15"/>
<line x1="424.62" y1="320.5" x2="424.62" y2="223.91" stroke="#c2ae66" stroke-width="1.15"/>
<line x1="424.62" y1="320.5" x2="424.62" y2="251.96" stroke="#a88a20" stroke-width="1.15"/>
<line x1="425.46" y1="320.5" x2="425.46" y2="262.90" stroke="#c2ae66" stroke-width="1.15"/>
<line x1="425.46" y1="320.5" x2="425.46" y2="274.66" stroke="#7a6410" stroke-width="1.15"/>
<line x1="426.36" y1="320.5" x2="426.36" y2="160.13" stroke="#b29c4c" stroke-width="1.15"/>
<line x1="426.36" y1="320.5" x2="426.36" y2="221.07" stroke="#c0a030" stroke-width="1.15"/>
<line x1="426.60" y1="320.5" x2="426.60" y2="234.93" stroke="#d0c088" stroke-width="1.15"/>
<line x1="426.60" y1="320.5" x2="426.60" y2="263.35" stroke="#7a6410" stroke-width="1.15"/>
<line x1="427.50" y1="320.5" x2="427.50" y2="198.41" stroke="#d0c088" stroke-width="1.15"/>
<line x1="427.50" y1="320.5" x2="427.50" y2="283.90" stroke="#a88a20" stroke-width="1.15"/>
<line x1="427.53" y1="320.5" x2="427.53" y2="168.96" stroke="#d0c088" stroke-width="1.15"/>
<line x1="427.53" y1="320.5" x2="427.53" y2="225.01" stroke="#c0a030" stroke-width="1.15"/>
<line x1="429.51" y1="320.5" x2="429.51" y2="181.09" stroke="#bca85a" stroke-width="1.15"/>
<line x1="429.51" y1="320.5" x2="429.51" y2="277.17" stroke="#9c801a" stroke-width="1.15"/>
<line x1="430.01" y1="320.5" x2="430.01" y2="215.40" stroke="#c6b26a" stroke-width="1.15"/>
<line x1="430.01" y1="320.5" x2="430.01" y2="267.64" stroke="#a88a20" stroke-width="1.15"/>
<line x1="435.99" y1="320.5" x2="435.99" y2="200.33" stroke="#d0c088" stroke-width="1.15"/>
<line x1="435.99" y1="320.5" x2="435.99" y2="289.49" stroke="#9c801a" stroke-width="1.15"/>
<line x1="436.18" y1="320.5" x2="436.18" y2="223.85" stroke="#cab872" stroke-width="1.15"/>
<line x1="436.18" y1="320.5" x2="436.18" y2="263.74" stroke="#b49428" stroke-width="1.15"/>
<line x1="436.37" y1="320.5" x2="436.37" y2="242.56" stroke="#cab872" stroke-width="1.15"/>
<line x1="436.37" y1="320.5" x2="436.37" y2="292.37" stroke="#a88a20" stroke-width="1.15"/>
<line x1="436.92" y1="320.5" x2="436.92" y2="215.17" stroke="#cab872" stroke-width="1.15"/>
<line x1="436.92" y1="320.5" x2="436.92" y2="292.88" stroke="#7a6410" stroke-width="1.15"/>
<line x1="437.93" y1="320.5" x2="437.93" y2="176.51" stroke="#d0c088" stroke-width="1.15"/>
<line x1="437.93" y1="320.5" x2="437.93" y2="234.54" stroke="#a88a20" stroke-width="1.15"/>
<line x1="440.85" y1="320.5" x2="440.85" y2="174.47" stroke="#b29c4c" stroke-width="1.15"/>
<line x1="440.85" y1="320.5" x2="440.85" y2="234.27" stroke="#a88a20" stroke-width="1.15"/>
<line x1="441.32" y1="320.5" x2="441.32" y2="282.55" stroke="#c6b26a" stroke-width="1.15"/>
<line x1="441.32" y1="320.5" x2="441.32" y2="293.40" stroke="#8c7418" stroke-width="1.15"/>
<line x1="442.29" y1="320.5" x2="442.29" y2="279.05" stroke="#c2ae66" stroke-width="1.15"/>
<line x1="442.29" y1="320.5" x2="442.29" y2="292.83" stroke="#8c7418" stroke-width="1.15"/>
<line x1="443.46" y1="320.5" x2="443.46" y2="159.28" stroke="#b29c4c" stroke-width="1.15"/>
<line x1="443.46" y1="320.5" x2="443.46" y2="273.69" stroke="#c0a030" stroke-width="1.15"/>
<line x1="444.90" y1="320.5" x2="444.90" y2="172.58" stroke="#b29c4c" stroke-width="1.15"/>
<line x1="444.90" y1="320.5" x2="444.90" y2="230.81" stroke="#c0a030" stroke-width="1.15"/>
<line x1="445.49" y1="320.5" x2="445.49" y2="211.77" stroke="#bca85a" stroke-width="1.15"/>
<line x1="445.49" y1="320.5" x2="445.49" y2="262.30" stroke="#8c7418" stroke-width="1.15"/>
<line x1="445.97" y1="320.5" x2="445.97" y2="200.16" stroke="#c2ae66" stroke-width="1.15"/>
<line x1="445.97" y1="320.5" x2="445.97" y2="283.05" stroke="#c0a030" stroke-width="1.15"/>
<line x1="449.50" y1="320.5" x2="449.50" y2="201.11" stroke="#b29c4c" stroke-width="1.15"/>
<line x1="449.50" y1="320.5" x2="449.50" y2="275.44" stroke="#9c801a" stroke-width="1.15"/>
<line x1="451.46" y1="320.5" x2="451.46" y2="257.15" stroke="#d0c088" stroke-width="1.15"/>
<line x1="451.46" y1="320.5" x2="451.46" y2="304.07" stroke="#a88a20" stroke-width="1.15"/>
<line x1="453.63" y1="320.5" x2="453.63" y2="274.40" stroke="#c6b26a" stroke-width="1.15"/>
<line x1="453.63" y1="320.5" x2="453.63" y2="290.06" stroke="#a88a20" stroke-width="1.15"/>
<line x1="454.13" y1="320.5" x2="454.13" y2="214.58" stroke="#c6b26a" stroke-width="1.15"/>
<line x1="454.13" y1="320.5" x2="454.13" y2="280.15" stroke="#a88a20" stroke-width="1.15"/>
<line x1="452.12" y1="320.5" x2="452.12" y2="245.74" stroke="#bca85a" stroke-width="1.15"/>
<line x1="452.12" y1="320.5" x2="452.12" y2="280.63" stroke="#b49428" stroke-width="1.15"/>
<line x1="456.50" y1="320.5" x2="456.50" y2="179.64" stroke="#d0c088" stroke-width="1.15"/>
<line x1="456.50" y1="320.5" x2="456.50" y2="237.20" stroke="#8c7418" stroke-width="1.15"/>
<line x1="457.18" y1="320.5" x2="457.18" y2="169.71" stroke="#d0c088" stroke-width="1.15"/>
<line x1="457.18" y1="320.5" x2="457.18" y2="215.47" stroke="#a88a20" stroke-width="1.15"/>
<line x1="457.49" y1="320.5" x2="457.49" y2="236.78" stroke="#cab872" stroke-width="1.15"/>
<line x1="457.49" y1="320.5" x2="457.49" y2="260.69" stroke="#c0a030" stroke-width="1.15"/>
<line x1="458.50" y1="320.5" x2="458.50" y2="261.28" stroke="#d0c088" stroke-width="1.15"/>
<line x1="458.50" y1="320.5" x2="458.50" y2="275.30" stroke="#c0a030" stroke-width="1.15"/>
<line x1="458.86" y1="320.5" x2="458.86" y2="243.23" stroke="#c6b26a" stroke-width="1.15"/>
<line x1="458.86" y1="320.5" x2="458.86" y2="287.59" stroke="#7a6410" stroke-width="1.15"/>
<line x1="459.28" y1="320.5" x2="459.28" y2="202.99" stroke="#d0c088" stroke-width="1.15"/>
<line x1="459.28" y1="320.5" x2="459.28" y2="256.00" stroke="#c0a030" stroke-width="1.15"/>
<line x1="459.73" y1="320.5" x2="459.73" y2="197.56" stroke="#cab872" stroke-width="1.15"/>
<line x1="459.73" y1="320.5" x2="459.73" y2="222.38" stroke="#a88a20" stroke-width="1.15"/>
<line x1="461.59" y1="320.5" x2="461.59" y2="264.02" stroke="#d0c088" stroke-width="1.15"/>
<line x1="461.59" y1="320.5" x2="461.59" y2="305.30" stroke="#a88a20" stroke-width="1.15"/>
<line x1="465.05" y1="320.5" x2="465.05" y2="221.56" stroke="#c6b26a" stroke-width="1.15"/>
<line x1="465.05" y1="320.5" x2="465.05" y2="243.33" stroke="#c0a030" stroke-width="1.15"/>
<line x1="466.64" y1="320.5" x2="466.64" y2="226.77" stroke="#c2ae66" stroke-width="1.15"/>
<line x1="466.64" y1="320.5" x2="466.64" y2="292.59" stroke="#b49428" stroke-width="1.15"/>
<line x1="467.32" y1="320.5" x2="467.32" y2="238.37" stroke="#cab872" stroke-width="1.15"/>
<line x1="467.32" y1="320.5" x2="467.32" y2="264.02" stroke="#9c801a" stroke-width="1.15"/>
<line x1="467.61" y1="320.5" x2="467.61" y2="209.44" stroke="#b29c4c" stroke-width="1.15"/>
<line x1="467.61" y1="320.5" x2="467.61" y2="252.15" stroke="#b49428" stroke-width="1.15"/>
<line x1="466.72" y1="320.5" x2="466.72" y2="190.16" stroke="#cab872" stroke-width="1.15"/>
<line x1="466.72" y1="320.5" x2="466.72" y2="213.72" stroke="#c0a030" stroke-width="1.15"/>
<line x1="469.07" y1="320.5" x2="469.07" y2="225.81" stroke="#b29c4c" stroke-width="1.15"/>
<line x1="469.07" y1="320.5" x2="469.07" y2="270.14" stroke="#9c801a" stroke-width="1.15"/>
<line x1="469.46" y1="320.5" x2="469.46" y2="211.13" stroke="#bca85a" stroke-width="1.15"/>
<line x1="469.46" y1="320.5" x2="469.46" y2="229.75" stroke="#a88a20" stroke-width="1.15"/>
<line x1="469.88" y1="320.5" x2="469.88" y2="232.99" stroke="#cab872" stroke-width="1.15"/>
<line x1="469.88" y1="320.5" x2="469.88" y2="248.54" stroke="#9c801a" stroke-width="1.15"/>
<line x1="470.93" y1="320.5" x2="470.93" y2="249.94" stroke="#d0c088" stroke-width="1.15"/>
<line x1="470.93" y1="320.5" x2="470.93" y2="268.92" stroke="#8c7418" stroke-width="1.15"/>
<line x1="472.19" y1="320.5" x2="472.19" y2="211.69" stroke="#b29c4c" stroke-width="1.15"/>
<line x1="472.19" y1="320.5" x2="472.19" y2="242.50" stroke="#8c7418" stroke-width="1.15"/>
<line x1="472.42" y1="320.5" x2="472.42" y2="192.68" stroke="#cab872" stroke-width="1.15"/>
<line x1="472.42" y1="320.5" x2="472.42" y2="228.37" stroke="#7a6410" stroke-width="1.15"/>
<line x1="473.55" y1="320.5" x2="473.55" y2="253.56" stroke="#cab872" stroke-width="1.15"/>
<line x1="473.55" y1="320.5" x2="473.55" y2="292.02" stroke="#a88a20" stroke-width="1.15"/>
<line x1="475.63" y1="320.5" x2="475.63" y2="284.77" stroke="#c2ae66" stroke-width="1.15"/>
<line x1="475.63" y1="320.5" x2="475.63" y2="290.69" stroke="#c0a030" stroke-width="1.15"/>
<line x1="480.89" y1="320.5" x2="480.89" y2="232.97" stroke="#c2ae66" stroke-width="1.15"/>
<line x1="480.89" y1="320.5" x2="480.89" y2="281.18" stroke="#7a6410" stroke-width="1.15"/>
<line x1="481.59" y1="320.5" x2="481.59" y2="247.58" stroke="#d0c088" stroke-width="1.15"/>
<line x1="481.59" y1="320.5" x2="481.59" y2="259.50" stroke="#9c801a" stroke-width="1.15"/>
<line x1="482.00" y1="320.5" x2="482.00" y2="230.43" stroke="#c2ae66" stroke-width="1.15"/>
<line x1="482.00" y1="320.5" x2="482.00" y2="252.98" stroke="#7a6410" stroke-width="1.15"/>
<line x1="483.31" y1="320.5" x2="483.31" y2="220.32" stroke="#b29c4c" stroke-width="1.15"/>
<line x1="483.31" y1="320.5" x2="483.31" y2="236.76" stroke="#9c801a" stroke-width="1.15"/>
<line x1="483.66" y1="320.5" x2="483.66" y2="234.36" stroke="#b29c4c" stroke-width="1.15"/>
<line x1="483.66" y1="320.5" x2="483.66" y2="278.94" stroke="#8c7418" stroke-width="1.15"/>
<line x1="484.04" y1="320.5" x2="484.04" y2="203.69" stroke="#c2ae66" stroke-width="1.15"/>
<line x1="484.04" y1="320.5" x2="484.04" y2="237.23" stroke="#9c801a" stroke-width="1.15"/>
<line x1="484.14" y1="320.5" x2="484.14" y2="282.79" stroke="#b29c4c" stroke-width="1.15"/>
<line x1="484.14" y1="320.5" x2="484.14" y2="304.66" stroke="#a88a20" stroke-width="1.15"/>
<line x1="484.84" y1="320.5" x2="484.84" y2="195.25" stroke="#cab872" stroke-width="1.15"/>
<line x1="484.84" y1="320.5" x2="484.84" y2="269.42" stroke="#8c7418" stroke-width="1.15"/>
<line x1="485.03" y1="320.5" x2="485.03" y2="202.95" stroke="#bca85a" stroke-width="1.15"/>
<line x1="485.03" y1="320.5" x2="485.03" y2="249.74" stroke="#a88a20" stroke-width="1.15"/>
<line x1="487.05" y1="320.5" x2="487.05" y2="283.20" stroke="#cab872" stroke-width="1.15"/>
<line x1="487.05" y1="320.5" x2="487.05" y2="292.52" stroke="#7a6410" stroke-width="1.15"/>
<line x1="489.97" y1="320.5" x2="489.97" y2="290.26" stroke="#bca85a" stroke-width="1.15"/>
<line x1="489.97" y1="320.5" x2="489.97" y2="307.97" stroke="#7a6410" stroke-width="1.15"/>
<line x1="490.62" y1="320.5" x2="490.62" y2="225.56" stroke="#d0c088" stroke-width="1.15"/>
<line x1="490.62" y1="320.5" x2="490.62" y2="252.50" stroke="#8c7418" stroke-width="1.15"/>
<line x1="492.07" y1="320.5" x2="492.07" y2="240.29" stroke="#cab872" stroke-width="1.15"/>
<line x1="492.07" y1="320.5" x2="492.07" y2="274.72" stroke="#7a6410" stroke-width="1.15"/>
<line x1="496.02" y1="320.5" x2="496.02" y2="241.08" stroke="#c2ae66" stroke-width="1.15"/>
<line x1="496.02" y1="320.5" x2="496.02" y2="277.54" stroke="#8c7418" stroke-width="1.15"/>
<line x1="497.35" y1="320.5" x2="497.35" y2="227.91" stroke="#bca85a" stroke-width="1.15"/>
<line x1="497.35" y1="320.5" x2="497.35" y2="253.59" stroke="#c0a030" stroke-width="1.15"/>
<line x1="498.65" y1="320.5" x2="498.65" y2="224.25" stroke="#bca85a" stroke-width="1.15"/>
<line x1="498.65" y1="320.5" x2="498.65" y2="278.56" stroke="#a88a20" stroke-width="1.15"/>
<line x1="498.66" y1="320.5" x2="498.66" y2="265.77" stroke="#d0c088" stroke-width="1.15"/>
<line x1="498.66" y1="320.5" x2="498.66" y2="293.83" stroke="#c0a030" stroke-width="1.15"/>
<line x1="497.15" y1="320.5" x2="497.15" y2="211.49" stroke="#bca85a" stroke-width="1.15"/>
<line x1="497.15" y1="320.5" x2="497.15" y2="232.68" stroke="#7a6410" stroke-width="1.15"/>
<line x1="498.66" y1="320.5" x2="498.66" y2="282.42" stroke="#c6b26a" stroke-width="1.15"/>
<line x1="498.66" y1="320.5" x2="498.66" y2="292.89" stroke="#8c7418" stroke-width="1.15"/>
<line x1="498.84" y1="320.5" x2="498.84" y2="247.61" stroke="#c2ae66" stroke-width="1.15"/>
<line x1="498.84" y1="320.5" x2="498.84" y2="298.44" stroke="#b49428" stroke-width="1.15"/>
<line x1="500.45" y1="320.5" x2="500.45" y2="216.37" stroke="#c6b26a" stroke-width="1.15"/>
<line x1="500.45" y1="320.5" x2="500.45" y2="279.92" stroke="#7a6410" stroke-width="1.15"/>
<line x1="500.91" y1="320.5" x2="500.91" y2="237.11" stroke="#c2ae66" stroke-width="1.15"/>
<line x1="500.91" y1="320.5" x2="500.91" y2="254.77" stroke="#7a6410" stroke-width="1.15"/>
<line x1="500.96" y1="320.5" x2="500.96" y2="224.02" stroke="#cab872" stroke-width="1.15"/>
<line x1="500.96" y1="320.5" x2="500.96" y2="268.79" stroke="#7a6410" stroke-width="1.15"/>
<line x1="504.11" y1="320.5" x2="504.11" y2="250.84" stroke="#bca85a" stroke-width="1.15"/>
<line x1="504.11" y1="320.5" x2="504.11" y2="295.18" stroke="#9c801a" stroke-width="1.15"/>
<line x1="505.01" y1="320.5" x2="505.01" y2="223.40" stroke="#c6b26a" stroke-width="1.15"/>
<line x1="505.01" y1="320.5" x2="505.01" y2="285.70" stroke="#c0a030" stroke-width="1.15"/>
<line x1="507.09" y1="320.5" x2="507.09" y2="256.97" stroke="#cab872" stroke-width="1.15"/>
<line x1="507.09" y1="320.5" x2="507.09" y2="290.79" stroke="#7a6410" stroke-width="1.15"/>
<line x1="510.74" y1="320.5" x2="510.74" y2="281.22" stroke="#cab872" stroke-width="1.15"/>
<line x1="510.74" y1="320.5" x2="510.74" y2="301.19" stroke="#7a6410" stroke-width="1.15"/>
<line x1="511.28" y1="320.5" x2="511.28" y2="269.10" stroke="#bca85a" stroke-width="1.15"/>
<line x1="511.28" y1="320.5" x2="511.28" y2="300.05" stroke="#8c7418" stroke-width="1.15"/>
<line x1="513.01" y1="320.5" x2="513.01" y2="241.66" stroke="#cab872" stroke-width="1.15"/>
<line x1="513.01" y1="320.5" x2="513.01" y2="259.81" stroke="#b49428" stroke-width="1.15"/>
<line x1="513.83" y1="320.5" x2="513.83" y2="249.85" stroke="#d0c088" stroke-width="1.15"/>
<line x1="513.83" y1="320.5" x2="513.83" y2="283.19" stroke="#a88a20" stroke-width="1.15"/>
<line x1="514.32" y1="320.5" x2="514.32" y2="266.24" stroke="#bca85a" stroke-width="1.15"/>
<line x1="514.32" y1="320.5" x2="514.32" y2="296.65" stroke="#a88a20" stroke-width="1.15"/>
<line x1="512.38" y1="320.5" x2="512.38" y2="259.58" stroke="#cab872" stroke-width="1.15"/>
<line x1="512.38" y1="320.5" x2="512.38" y2="295.01" stroke="#7a6410" stroke-width="1.15"/>
<line x1="512.45" y1="320.5" x2="512.45" y2="261.71" stroke="#c6b26a" stroke-width="1.15"/>
<line x1="512.45" y1="320.5" x2="512.45" y2="302.48" stroke="#9c801a" stroke-width="1.15"/>
<line x1="512.69" y1="320.5" x2="512.69" y2="223.99" stroke="#c2ae66" stroke-width="1.15"/>
<line x1="512.69" y1="320.5" x2="512.69" y2="268.21" stroke="#7a6410" stroke-width="1.15"/>
<line x1="514.83" y1="320.5" x2="514.83" y2="292.19" stroke="#bca85a" stroke-width="1.15"/>
<line x1="514.83" y1="320.5" x2="514.83" y2="308.98" stroke="#b49428" stroke-width="1.15"/>
<line x1="520.22" y1="320.5" x2="520.22" y2="235.05" stroke="#b29c4c" stroke-width="1.15"/>
<line x1="520.22" y1="320.5" x2="520.22" y2="294.16" stroke="#8c7418" stroke-width="1.15"/>
<line x1="520.43" y1="320.5" x2="520.43" y2="218.71" stroke="#c2ae66" stroke-width="1.15"/>
<line x1="520.43" y1="320.5" x2="520.43" y2="245.05" stroke="#9c801a" stroke-width="1.15"/>
<line x1="520.93" y1="320.5" x2="520.93" y2="225.50" stroke="#cab872" stroke-width="1.15"/>
<line x1="520.93" y1="320.5" x2="520.93" y2="248.66" stroke="#b49428" stroke-width="1.15"/>
<line x1="521.88" y1="320.5" x2="521.88" y2="264.68" stroke="#bca85a" stroke-width="1.15"/>
<line x1="521.88" y1="320.5" x2="521.88" y2="273.24" stroke="#8c7418" stroke-width="1.15"/>
<line x1="522.12" y1="320.5" x2="522.12" y2="236.46" stroke="#c6b26a" stroke-width="1.15"/>
<line x1="522.12" y1="320.5" x2="522.12" y2="298.10" stroke="#a88a20" stroke-width="1.15"/>
<line x1="525.83" y1="320.5" x2="525.83" y2="251.21" stroke="#c2ae66" stroke-width="1.15"/>
<line x1="525.83" y1="320.5" x2="525.83" y2="287.81" stroke="#c0a030" stroke-width="1.15"/>
<line x1="528.48" y1="320.5" x2="528.48" y2="248.58" stroke="#b29c4c" stroke-width="1.15"/>
<line x1="528.48" y1="320.5" x2="528.48" y2="281.51" stroke="#a88a20" stroke-width="1.15"/>
<line x1="529.53" y1="320.5" x2="529.53" y2="248.69" stroke="#c2ae66" stroke-width="1.15"/>
<line x1="529.53" y1="320.5" x2="529.53" y2="274.98" stroke="#a88a20" stroke-width="1.15"/>
<line x1="529.63" y1="320.5" x2="529.63" y2="273.88" stroke="#d0c088" stroke-width="1.15"/>
<line x1="529.63" y1="320.5" x2="529.63" y2="282.01" stroke="#b49428" stroke-width="1.15"/>
<line x1="530.23" y1="320.5" x2="530.23" y2="281.86" stroke="#cab872" stroke-width="1.15"/>
<line x1="530.23" y1="320.5" x2="530.23" y2="297.76" stroke="#c0a030" stroke-width="1.15"/>
<line x1="529.21" y1="320.5" x2="529.21" y2="240.92" stroke="#c6b26a" stroke-width="1.15"/>
<line x1="529.21" y1="320.5" x2="529.21" y2="254.94" stroke="#c0a030" stroke-width="1.15"/>
<line x1="531.93" y1="320.5" x2="531.93" y2="261.59" stroke="#c2ae66" stroke-width="1.15"/>
<line x1="531.93" y1="320.5" x2="531.93" y2="291.88" stroke="#8c7418" stroke-width="1.15"/>
<line x1="532.63" y1="320.5" x2="532.63" y2="244.55" stroke="#bca85a" stroke-width="1.15"/>
<line x1="532.63" y1="320.5" x2="532.63" y2="284.61" stroke="#9c801a" stroke-width="1.15"/>
<line x1="533.88" y1="320.5" x2="533.88" y2="254.03" stroke="#d0c088" stroke-width="1.15"/>
<line x1="533.88" y1="320.5" x2="533.88" y2="295.04" stroke="#a88a20" stroke-width="1.15"/>
<line x1="535.32" y1="320.5" x2="535.32" y2="258.63" stroke="#cab872" stroke-width="1.15"/>
<line x1="535.32" y1="320.5" x2="535.32" y2="270.09" stroke="#a88a20" stroke-width="1.15"/>
<line x1="535.70" y1="320.5" x2="535.70" y2="234.06" stroke="#c2ae66" stroke-width="1.15"/>
<line x1="535.70" y1="320.5" x2="535.70" y2="251.98" stroke="#a88a20" stroke-width="1.15"/>
<line x1="536.03" y1="320.5" x2="536.03" y2="282.91" stroke="#cab872" stroke-width="1.15"/>
<line x1="536.03" y1="320.5" x2="536.03" y2="293.37" stroke="#c0a030" stroke-width="1.15"/>
<line x1="536.25" y1="320.5" x2="536.25" y2="264.79" stroke="#d0c088" stroke-width="1.15"/>
<line x1="536.25" y1="320.5" x2="536.25" y2="284.96" stroke="#8c7418" stroke-width="1.15"/>
<line x1="537.41" y1="320.5" x2="537.41" y2="251.21" stroke="#c6b26a" stroke-width="1.15"/>
<line x1="537.41" y1="320.5" x2="537.41" y2="298.98" stroke="#b49428" stroke-width="1.15"/>
<line x1="541.23" y1="320.5" x2="541.23" y2="264.49" stroke="#c6b26a" stroke-width="1.15"/>
<line x1="541.23" y1="320.5" x2="541.23" y2="274.93" stroke="#c0a030" stroke-width="1.15"/>
<line x1="541.50" y1="320.5" x2="541.50" y2="298.76" stroke="#d0c088" stroke-width="1.15"/>
<line x1="541.50" y1="320.5" x2="541.50" y2="311.17" stroke="#7a6410" stroke-width="1.15"/>
<line x1="542.83" y1="320.5" x2="542.83" y2="297.74" stroke="#b29c4c" stroke-width="1.15"/>
<line x1="542.83" y1="320.5" x2="542.83" y2="304.46" stroke="#a88a20" stroke-width="1.15"/>
<line x1="543.11" y1="320.5" x2="543.11" y2="276.06" stroke="#b29c4c" stroke-width="1.15"/>
<line x1="543.11" y1="320.5" x2="543.11" y2="300.75" stroke="#b49428" stroke-width="1.15"/>
<line x1="543.42" y1="320.5" x2="543.42" y2="267.89" stroke="#b29c4c" stroke-width="1.15"/>
<line x1="543.42" y1="320.5" x2="543.42" y2="303.43" stroke="#8c7418" stroke-width="1.15"/>
<line x1="543.73" y1="320.5" x2="543.73" y2="279.80" stroke="#b29c4c" stroke-width="1.15"/>
<line x1="543.73" y1="320.5" x2="543.73" y2="306.21" stroke="#9c801a" stroke-width="1.15"/>
<line x1="544.98" y1="320.5" x2="544.98" y2="265.65" stroke="#bca85a" stroke-width="1.15"/>
<line x1="544.98" y1="320.5" x2="544.98" y2="276.70" stroke="#a88a20" stroke-width="1.15"/>
<line x1="546.99" y1="320.5" x2="546.99" y2="275.29" stroke="#b29c4c" stroke-width="1.15"/>
<line x1="546.99" y1="320.5" x2="546.99" y2="289.74" stroke="#9c801a" stroke-width="1.15"/>
<line x1="547.32" y1="320.5" x2="547.32" y2="258.20" stroke="#c6b26a" stroke-width="1.15"/>
<line x1="547.32" y1="320.5" x2="547.32" y2="299.06" stroke="#9c801a" stroke-width="1.15"/>
<line x1="549.22" y1="320.5" x2="549.22" y2="248.50" stroke="#c6b26a" stroke-width="1.15"/>
<line x1="549.22" y1="320.5" x2="549.22" y2="262.15" stroke="#b49428" stroke-width="1.15"/>
<line x1="549.71" y1="320.5" x2="549.71" y2="282.66" stroke="#d0c088" stroke-width="1.15"/>
<line x1="549.71" y1="320.5" x2="549.71" y2="307.87" stroke="#8c7418" stroke-width="1.15"/>
<line x1="549.82" y1="320.5" x2="549.82" y2="282.80" stroke="#c6b26a" stroke-width="1.15"/>
<line x1="549.82" y1="320.5" x2="549.82" y2="290.13" stroke="#8c7418" stroke-width="1.15"/>
<line x1="550.63" y1="320.5" x2="550.63" y2="289.25" stroke="#c6b26a" stroke-width="1.15"/>
<line x1="550.63" y1="320.5" x2="550.63" y2="300.91" stroke="#8c7418" stroke-width="1.15"/>
<line x1="551.72" y1="320.5" x2="551.72" y2="252.38" stroke="#cab872" stroke-width="1.15"/>
<line x1="551.72" y1="320.5" x2="551.72" y2="290.29" stroke="#9c801a" stroke-width="1.15"/>
<line x1="557.53" y1="320.5" x2="557.53" y2="278.18" stroke="#b29c4c" stroke-width="1.15"/>
<line x1="557.53" y1="320.5" x2="557.53" y2="306.98" stroke="#b49428" stroke-width="1.15"/>
<line x1="557.88" y1="320.5" x2="557.88" y2="275.28" stroke="#bca85a" stroke-width="1.15"/>
<line x1="557.88" y1="320.5" x2="557.88" y2="300.19" stroke="#c0a030" stroke-width="1.15"/>
<line x1="558.44" y1="320.5" x2="558.44" y2="284.41" stroke="#c6b26a" stroke-width="1.15"/>
<line x1="558.44" y1="320.5" x2="558.44" y2="307.57" stroke="#8c7418" stroke-width="1.15"/>
<line x1="558.79" y1="320.5" x2="558.79" y2="306.13" stroke="#c2ae66" stroke-width="1.15"/>
<line x1="558.79" y1="320.5" x2="558.79" y2="309.24" stroke="#8c7418" stroke-width="1.15"/>
<line x1="560.86" y1="320.5" x2="560.86" y2="310.51" stroke="#bca85a" stroke-width="1.15"/>
<line x1="560.86" y1="320.5" x2="560.86" y2="316.40" stroke="#8c7418" stroke-width="1.15"/>
<line x1="558.15" y1="320.5" x2="558.15" y2="262.44" stroke="#bca85a" stroke-width="1.15"/>
<line x1="558.15" y1="320.5" x2="558.15" y2="300.56" stroke="#b49428" stroke-width="1.15"/>
<line x1="560.14" y1="320.5" x2="560.14" y2="282.97" stroke="#c2ae66" stroke-width="1.15"/>
<line x1="560.14" y1="320.5" x2="560.14" y2="292.21" stroke="#b49428" stroke-width="1.15"/>
<line x1="560.16" y1="320.5" x2="560.16" y2="264.47" stroke="#bca85a" stroke-width="1.15"/>
<line x1="560.16" y1="320.5" x2="560.16" y2="297.73" stroke="#a88a20" stroke-width="1.15"/>
<line x1="561.71" y1="320.5" x2="561.71" y2="259.56" stroke="#cab872" stroke-width="1.15"/>
<line x1="561.71" y1="320.5" x2="561.71" y2="288.58" stroke="#8c7418" stroke-width="1.15"/>
<line x1="562.53" y1="320.5" x2="562.53" y2="288.40" stroke="#c6b26a" stroke-width="1.15"/>
<line x1="562.53" y1="320.5" x2="562.53" y2="309.52" stroke="#7a6410" stroke-width="1.15"/>
<line x1="564.21" y1="320.5" x2="564.21" y2="267.38" stroke="#c6b26a" stroke-width="1.15"/>
<line x1="564.21" y1="320.5" x2="564.21" y2="287.11" stroke="#c0a030" stroke-width="1.15"/>
<line x1="566.71" y1="320.5" x2="566.71" y2="261.96" stroke="#bca85a" stroke-width="1.15"/>
<line x1="566.71" y1="320.5" x2="566.71" y2="286.19" stroke="#b49428" stroke-width="1.15"/>
<line x1="567.25" y1="320.5" x2="567.25" y2="297.82" stroke="#c6b26a" stroke-width="1.15"/>
<line x1="567.25" y1="320.5" x2="567.25" y2="311.32" stroke="#9c801a" stroke-width="1.15"/>
<line x1="567.31" y1="320.5" x2="567.31" y2="273.81" stroke="#cab872" stroke-width="1.15"/>
<line x1="567.31" y1="320.5" x2="567.31" y2="296.73" stroke="#b49428" stroke-width="1.15"/>
<line x1="571.81" y1="320.5" x2="571.81" y2="308.56" stroke="#bca85a" stroke-width="1.15"/>
<line x1="571.81" y1="320.5" x2="571.81" y2="310.89" stroke="#a88a20" stroke-width="1.15"/>
<line x1="572.12" y1="320.5" x2="572.12" y2="283.56" stroke="#b29c4c" stroke-width="1.15"/>
<line x1="572.12" y1="320.5" x2="572.12" y2="304.85" stroke="#9c801a" stroke-width="1.15"/>
<line x1="572.19" y1="320.5" x2="572.19" y2="275.87" stroke="#c6b26a" stroke-width="1.15"/>
<line x1="572.19" y1="320.5" x2="572.19" y2="287.06" stroke="#b49428" stroke-width="1.15"/>
<line x1="572.94" y1="320.5" x2="572.94" y2="281.56" stroke="#bca85a" stroke-width="1.15"/>
<line x1="572.94" y1="320.5" x2="572.94" y2="287.90" stroke="#a88a20" stroke-width="1.15"/>
<line x1="574.20" y1="320.5" x2="574.20" y2="281.47" stroke="#b29c4c" stroke-width="1.15"/>
<line x1="574.20" y1="320.5" x2="574.20" y2="291.84" stroke="#b49428" stroke-width="1.15"/>
<line x1="573.15" y1="320.5" x2="573.15" y2="299.32" stroke="#c2ae66" stroke-width="1.15"/>
<line x1="573.15" y1="320.5" x2="573.15" y2="313.42" stroke="#a88a20" stroke-width="1.15"/>
<line x1="573.66" y1="320.5" x2="573.66" y2="284.47" stroke="#c2ae66" stroke-width="1.15"/>
<line x1="573.66" y1="320.5" x2="573.66" y2="305.30" stroke="#b49428" stroke-width="1.15"/>
<line x1="576.89" y1="320.5" x2="576.89" y2="280.84" stroke="#b29c4c" stroke-width="1.15"/>
<line x1="576.89" y1="320.5" x2="576.89" y2="309.62" stroke="#8c7418" stroke-width="1.15"/>
<line x1="577.29" y1="320.5" x2="577.29" y2="289.05" stroke="#bca85a" stroke-width="1.15"/>
<line x1="577.29" y1="320.5" x2="577.29" y2="307.42" stroke="#9c801a" stroke-width="1.15"/>
<line x1="577.30" y1="320.5" x2="577.30" y2="293.92" stroke="#bca85a" stroke-width="1.15"/>
<line x1="577.30" y1="320.5" x2="577.30" y2="300.41" stroke="#7a6410" stroke-width="1.15"/>
<line x1="578.12" y1="320.5" x2="578.12" y2="271.83" stroke="#bca85a" stroke-width="1.15"/>
<line x1="578.12" y1="320.5" x2="578.12" y2="287.55" stroke="#9c801a" stroke-width="1.15"/>
<line x1="578.25" y1="320.5" x2="578.25" y2="280.41" stroke="#c2ae66" stroke-width="1.15"/>
<line x1="578.25" y1="320.5" x2="578.25" y2="308.57" stroke="#a88a20" stroke-width="1.15"/>
<line x1="579.63" y1="320.5" x2="579.63" y2="288.34" stroke="#c2ae66" stroke-width="1.15"/>
<line x1="579.63" y1="320.5" x2="579.63" y2="298.36" stroke="#b49428" stroke-width="1.15"/>
<line x1="581.55" y1="320.5" x2="581.55" y2="272.38" stroke="#bca85a" stroke-width="1.15"/>
<line x1="581.55" y1="320.5" x2="581.55" y2="302.52" stroke="#7a6410" stroke-width="1.15"/>
<line x1="586.39" y1="320.5" x2="586.39" y2="294.70" stroke="#d0c088" stroke-width="1.15"/>
<line x1="586.39" y1="320.5" x2="586.39" y2="303.10" stroke="#9c801a" stroke-width="1.15"/>
<line x1="588.37" y1="320.5" x2="588.37" y2="300.08" stroke="#c2ae66" stroke-width="1.15"/>
<line x1="588.37" y1="320.5" x2="588.37" y2="311.62" stroke="#a88a20" stroke-width="1.15"/>
<line x1="590.03" y1="320.5" x2="590.03" y2="290.78" stroke="#c6b26a" stroke-width="1.15"/>
<line x1="590.03" y1="320.5" x2="590.03" y2="300.72" stroke="#7a6410" stroke-width="1.15"/>
<line x1="590.13" y1="320.5" x2="590.13" y2="289.40" stroke="#b29c4c" stroke-width="1.15"/>
<line x1="590.13" y1="320.5" x2="590.13" y2="297.03" stroke="#a88a20" stroke-width="1.15"/>
<line x1="590.72" y1="320.5" x2="590.72" y2="299.08" stroke="#c2ae66" stroke-width="1.15"/>
<line x1="590.72" y1="320.5" x2="590.72" y2="304.73" stroke="#b49428" stroke-width="1.15"/>
<line x1="588.57" y1="320.5" x2="588.57" y2="308.83" stroke="#cab872" stroke-width="1.15"/>
<line x1="588.57" y1="320.5" x2="588.57" y2="311.68" stroke="#8c7418" stroke-width="1.15"/>
<line x1="589.00" y1="320.5" x2="589.00" y2="294.49" stroke="#c6b26a" stroke-width="1.15"/>
<line x1="589.00" y1="320.5" x2="589.00" y2="313.76" stroke="#8c7418" stroke-width="1.15"/>
<line x1="589.25" y1="320.5" x2="589.25" y2="300.05" stroke="#bca85a" stroke-width="1.15"/>
<line x1="589.25" y1="320.5" x2="589.25" y2="304.69" stroke="#b49428" stroke-width="1.15"/>
<line x1="589.43" y1="320.5" x2="589.43" y2="296.95" stroke="#bca85a" stroke-width="1.15"/>
<line x1="589.43" y1="320.5" x2="589.43" y2="311.98" stroke="#b49428" stroke-width="1.15"/>
<line x1="589.57" y1="320.5" x2="589.57" y2="306.59" stroke="#c6b26a" stroke-width="1.15"/>
<line x1="589.57" y1="320.5" x2="589.57" y2="315.66" stroke="#b49428" stroke-width="1.15"/>
<line x1="589.72" y1="320.5" x2="589.72" y2="302.32" stroke="#c2ae66" stroke-width="1.15"/>
<line x1="589.72" y1="320.5" x2="589.72" y2="309.47" stroke="#a88a20" stroke-width="1.15"/>
<line x1="592.01" y1="320.5" x2="592.01" y2="287.06" stroke="#cab872" stroke-width="1.15"/>
<line x1="592.01" y1="320.5" x2="592.01" y2="301.71" stroke="#8c7418" stroke-width="1.15"/>
<line x1="594.36" y1="320.5" x2="594.36" y2="288.89" stroke="#c2ae66" stroke-width="1.15"/>
<line x1="594.36" y1="320.5" x2="594.36" y2="311.24" stroke="#b49428" stroke-width="1.15"/>
<line x1="596.50" y1="320.5" x2="596.50" y2="308.00" stroke="#d0c088" stroke-width="1.15"/>
<line x1="596.50" y1="320.5" x2="596.50" y2="315.54" stroke="#b49428" stroke-width="1.15"/>
<line x1="310.50" y1="320.5" x2="310.50" y2="223.44" stroke="#ccb050" stroke-width="1.1"/>
<line x1="310.50" y1="320.5" x2="310.50" y2="267.12" stroke="#b8960e" stroke-width="1.1"/>
<line x1="312.20" y1="320.5" x2="312.20" y2="271.15" stroke="#b89a30" stroke-width="1.1"/>
<line x1="312.20" y1="320.5" x2="312.20" y2="293.36" stroke="#b8960e" stroke-width="1.1"/>
<line x1="304.20" y1="320.5" x2="304.20" y2="284.31" stroke="#ccb050" stroke-width="1.1"/>
<line x1="304.20" y1="320.5" x2="304.20" y2="300.60" stroke="#b8960e" stroke-width="1.1"/>
<line x1="316.50" y1="320.5" x2="316.50" y2="287.60" stroke="#c4a436" stroke-width="1.1"/>
<line x1="316.50" y1="320.5" x2="316.50" y2="302.40" stroke="#b8960e" stroke-width="1.1"/>
<line x1="317.50" y1="320.5" x2="317.50" y2="254.70" stroke="#b89a30" stroke-width="1.1"/>
<line x1="317.50" y1="320.5" x2="317.50" y2="284.31" stroke="#b8960e" stroke-width="1.1"/>
<line x1="318.70" y1="320.5" x2="318.70" y2="220.16" stroke="#c4a436" stroke-width="1.1"/>
<line x1="318.70" y1="320.5" x2="318.70" y2="265.31" stroke="#b8960e" stroke-width="1.1"/>
<line x1="320.00" y1="320.5" x2="320.00" y2="234.96" stroke="#ccb050" stroke-width="1.1"/>
<line x1="320.00" y1="320.5" x2="320.00" y2="273.45" stroke="#b8960e" stroke-width="1.1"/>
<line x1="321.30" y1="320.5" x2="321.30" y2="223.44" stroke="#b89a30" stroke-width="1.1"/>
<line x1="321.30" y1="320.5" x2="321.30" y2="267.12" stroke="#b8960e" stroke-width="1.1"/>
<line x1="322.70" y1="320.5" x2="322.70" y2="226.74" stroke="#b89a30" stroke-width="1.1"/>
<line x1="322.70" y1="320.5" x2="322.70" y2="268.93" stroke="#b8960e" stroke-width="1.1"/>
<line x1="324.00" y1="320.5" x2="324.00" y2="208.64" stroke="#ccb050" stroke-width="1.1"/>
<line x1="324.00" y1="320.5" x2="324.00" y2="258.98" stroke="#b8960e" stroke-width="1.1"/>
<line x1="325.30" y1="320.5" x2="325.30" y2="218.51" stroke="#c4a436" stroke-width="1.1"/>
<line x1="325.30" y1="320.5" x2="325.30" y2="264.41" stroke="#b8960e" stroke-width="1.1"/>
<line x1="326.70" y1="320.5" x2="326.70" y2="228.38" stroke="#ccb050" stroke-width="1.1"/>
<line x1="326.70" y1="320.5" x2="326.70" y2="269.83" stroke="#b8960e" stroke-width="1.1"/>
<line x1="328.00" y1="320.5" x2="328.00" y2="244.83" stroke="#ccb050" stroke-width="1.1"/>
<line x1="328.00" y1="320.5" x2="328.00" y2="278.88" stroke="#b8960e" stroke-width="1.1"/>
<line x1="329.50" y1="320.5" x2="329.50" y2="267.86" stroke="#c4a436" stroke-width="1.1"/>
<line x1="329.50" y1="320.5" x2="329.50" y2="291.55" stroke="#b8960e" stroke-width="1.1"/>
<line x1="331.00" y1="320.5" x2="331.00" y2="294.18" stroke="#c4a436" stroke-width="1.1"/>
<line x1="331.00" y1="320.5" x2="331.00" y2="306.02" stroke="#b8960e" stroke-width="1.1"/>
<line x1="319.40" y1="320.5" x2="319.40" y2="248.12" stroke="#c4a436" stroke-width="1.1"/>
<line x1="319.40" y1="320.5" x2="319.40" y2="280.69" stroke="#b8960e" stroke-width="1.1"/>
<line x1="323.40" y1="320.5" x2="323.40" y2="238.25" stroke="#c4a436" stroke-width="1.1"/>
<line x1="323.40" y1="320.5" x2="323.40" y2="275.26" stroke="#b8960e" stroke-width="1.1"/>
<line x1="327.40" y1="320.5" x2="327.40" y2="257.99" stroke="#c4a436" stroke-width="1.1"/>
<line x1="327.40" y1="320.5" x2="327.40" y2="286.12" stroke="#b8960e" stroke-width="1.1"/>
<polygon points="312,320.5 312.00,316.35 312.38,315.44 312.76,314.39 313.14,313.19 313.52,311.84 313.90,310.33 314.28,308.66 314.66,306.84 315.04,304.87 315.42,302.77 315.80,300.56 316.18,298.25 316.56,295.88 316.94,293.45 317.32,291.02 317.70,288.60 318.08,286.22 318.46,283.93 318.84,281.74 319.22,279.69 319.60,277.79 319.98,276.08 320.36,274.56 320.74,273.24 321.12,272.13 321.50,271.24 321.88,270.55 322.26,270.05 322.64,269.73 323.02,269.56 323.40,269.51 323.78,269.52 324.16,269.62 324.54,269.86 324.92,270.26 325.30,270.85 325.68,271.63 326.06,272.63 326.44,273.84 326.82,275.25 327.20,276.87 327.58,278.67 327.96,280.64 328.34,282.76 328.72,285.00 329.10,287.34 329.48,289.74 329.86,292.17 330.24,294.61 330.62,297.01 331.00,299.36 331.38,301.62 331.76,303.78 332.14,305.82 332.52,307.72 332.90,309.47 333.28,311.06 333.66,312.50 334.04,313.78 334.42,314.91 334.80,315.89 335,320.5" fill="#e0b412"/>
<line x1="316.15" y1="123.0" x2="316.15" y2="320.5" stroke="#333" stroke-width="0.9" stroke-dasharray="1.1,2.0"/>
<line x1="330.26" y1="123.0" x2="330.26" y2="320.5" stroke="#333" stroke-width="0.9" stroke-dasharray="1.1,2.0"/>
<g clip-path="url(#clipc)" fill-rule="evenodd">
<path d="M58.0 330.2l-1.0 0.2l-1.5 -0.2l-1.0 -0.5l-0.6 -0.7l-0.6 -1.0l-0.1 -1.0l0.1 -1.0l0.4 -1.0l1.3 -0.3l1.5 -0.1l2.0 0.1l1.2 0.3l0.5 1.5l-0.2 1.5l-0.9 1.5l-1.1 0.7zM173.0 404.0l-1.5 0.1l-2.0 -0.7l-3.0 -2.3l-1.2 -1.6l-0.3 -1.5l0.2 -1.5l0.5 -1.0l1.8 -2.3l0.5 -1.2l-0.5 -0.4l-2.0 0.1l-1.0 -0.3l-3.0 -1.8l-1.6 0.9l-0.9 1.0l-0.0 0.5l1.1 2.5l0.2 1.0l-0.4 1.5l-0.9 1.4l-1.5 0.9l-2.0 0.1l-1.5 -0.7l-1.1 -1.2l-0.4 -1.0l-0.6 -2.5l-1.3 -2.0l-0.4 -1.0l-0.0 -2.0l0.4 -1.0l0.9 -1.1l2.0 -1.4l2.0 -1.8l2.3 -1.2l0.5 -0.5l0.3 -1.0l0.3 -1.5l-0.8 -4.0l-0.6 -0.9l-1.0 -0.3l-1.0 -0.1l-0.3 0.3l-0.8 2.5l-0.9 1.2l-4.5 3.5l-3.0 1.3l-1.2 1.0l-0.1 1.0l0.7 2.0l0.2 2.0l-0.4 1.5l-1.0 1.5l-1.2 0.8l-1.0 0.3l-1.0 0.1l-1.5 -0.5l-1.5 -1.2l-1.1 -2.0l-0.6 -3.5l-1.1 -3.0l0.0 -1.5l0.6 -1.5l0.7 -0.8l6.4 -4.2l0.5 -0.5l0.1 -0.5l-2.0 0.4l-1.5 -0.1l-1.5 -0.6l-2.0 -1.9l-1.0 -0.2l-0.5 0.3l-1.3 2.6l-1.7 1.8l-0.4 0.7l-0.3 2.5l-0.6 2.5l-0.6 1.5l-0.6 1.0l-1.0 0.8l-1.5 0.6l-1.5 -0.1l-1.0 -0.4l-1.0 -0.7l-0.8 -1.2l-0.3 -1.5l0.3 -2.5l-0.2 -1.0l-1.6 -1.5l-0.7 -1.0l-0.4 -1.0l-0.0 -1.0l0.5 -1.5l1.0 -1.0l3.2 -1.3l3.5 -2.4l0.2 -0.3l-0.3 -1.0l-0.9 -1.7l-0.8 -0.8l-1.7 -1.1l-1.0 0.1l-0.5 0.5l-1.3 2.0l-1.2 1.1l-1.5 0.6l-2.2 0.3l-0.2 0.5l0.1 1.5l-0.4 1.5l-1.6 2.5l-0.5 2.0l-0.6 1.0l-0.6 0.6l-1.0 0.6l-1.5 0.2l-1.0 -0.2l-1.5 -1.2l-0.5 -1.0l-0.2 -1.0l0.3 -1.5l1.4 -2.3l0.0 -0.9l-0.5 -0.4l-1.5 -0.2l-1.0 -0.4l-1.0 -0.7l-0.8 -1.6l-0.1 -1.5l0.4 -1.0l1.0 -1.1l1.0 -0.6l1.5 -0.1l1.0 0.3l1.0 0.6l0.7 0.9l0.8 1.6l0.5 0.3l1.0 -0.1l0.8 -0.3l-0.4 -2.5l0.2 -1.5l0.7 -1.5l1.9 -2.0l0.1 -0.5l-1.8 -2.9l-0.5 -0.3l-0.5 0.0l-1.5 0.3l-0.6 0.4l-1.4 1.6l-1.5 0.8l-1.5 0.2l-3.0 -0.4l-1.3 0.3l-0.2 0.5l-0.0 2.0l-0.6 1.5l-1.4 1.2l-1.9 0.8l-0.1 0.5l0.1 2.0l-0.2 1.0l-0.6 1.0l-0.8 0.7l-1.5 0.5l-1.0 -0.0l-1.0 -0.4l-1.1 -0.8l-0.6 -1.0l-0.2 -1.0l0.0 -1.0l0.4 -1.0l0.8 -1.0l2.7 -1.4l-0.0 -1.1l-0.5 -1.2l-0.5 -0.3l-2.5 -0.2l-1.3 -0.8l-0.9 -1.5l-0.1 -1.0l0.1 -1.0l0.5 -1.0l0.7 -0.8l1.0 -0.5l1.5 -0.2l1.0 0.2l1.2 0.8l0.7 1.0l0.6 1.4l0.5 0.4l1.5 -0.2l0.3 -0.6l-0.4 -2.0l0.0 -1.0l0.3 -1.0l1.2 -2.0l0.1 -0.5l-0.5 -0.5l-1.5 -0.7l-3.0 0.0l-1.5 -0.5l-0.9 -0.8l-0.5 -1.0l-0.4 -3.0l-0.5 -0.5l-0.7 -0.2l-0.5 0.4l-0.7 2.3l-2.0 2.5l-0.1 3.0l-0.2 1.0l-0.6 1.0l-0.9 0.8l-1.0 0.4l-2.0 0.3l-0.3 0.5l0.2 1.5l-0.1 1.5l-0.5 1.0l-0.8 0.8l-1.5 0.7l-1.0 -0.0l-1.0 -0.3l-1.0 -0.6l-0.8 -1.1l-0.3 -1.5l0.1 -1.0l0.5 -1.0l1.0 -1.0l1.0 -0.4l2.0 -0.5l0.1 -0.6l-0.6 -1.1l-0.5 -0.5l-2.5 -0.9l-1.2 -1.0l-0.7 -1.5l-0.0 -1.0l0.3 -1.0l0.6 -1.0l1.5 -1.0l1.5 -0.1l2.0 0.3l0.4 -0.2l1.2 -2.0l0.9 -0.9l1.0 -0.5l2.5 -0.8l0.3 -1.3l-0.2 -1.0l-0.6 -0.1l-1.5 0.1l-1.5 -0.3l-2.5 -1.8l-2.0 1.6l-1.0 0.4l-1.0 0.1l-2.5 -0.4l-0.5 0.0l-0.6 0.4l-0.3 0.5l0.7 2.5l-0.0 1.0l-0.4 1.0l-1.4 1.4l-1.0 0.4l-1.0 0.0l-1.5 -0.4l-1.0 -0.9l-0.5 -1.0l-0.6 -2.0l-0.4 -0.2l-2.0 0.4l-1.0 -0.1l-1.0 -0.4l-0.9 -0.7l-0.6 -1.0l-0.2 -1.0l0.0 -1.0l0.4 -1.0l0.8 -1.0l1.0 -0.6l1.0 -0.2l1.5 0.2l1.1 0.6l1.2 1.0l0.7 2.3l0.5 -0.3l0.0 -0.5l-0.7 -1.5l0.1 -1.0l0.5 -1.5l0.7 -1.0l0.9 -0.7l1.0 -0.3l1.5 0.1l1.5 0.3l1.0 -0.1l1.1 -0.8l1.7 -2.5l0.8 -0.5l0.9 -0.2l1.5 0.0l1.0 0.3l1.0 0.9l1.3 2.0l2.7 1.2l1.5 1.6l0.5 0.2l1.8 -1.0l0.3 -0.5l-0.9 -2.5l-0.0 -1.0l0.4 -1.0l0.9 -0.3l1.5 -0.1l3.0 0.2l0.4 0.2l0.3 0.5l0.2 1.0l-0.2 1.0l-0.4 1.0l-1.6 1.5l-0.3 0.5l1.0 2.0l0.6 2.0l1.4 2.0l0.9 2.5l0.7 0.3l2.0 0.3l1.5 0.7l1.9 1.7l1.6 2.6l3.0 -0.0l1.5 0.5l4.1 2.9l0.6 0.5l1.0 1.5l0.3 0.2l0.5 0.0l0.6 -0.2l-0.0 -0.5l-1.0 -1.5l-0.3 -1.0l-0.0 -1.5l0.5 -2.5l-0.9 -2.5l-0.1 -2.5l-0.8 0.0l-2.5 1.2l-1.0 0.3l-1.5 -0.1l-1.0 -0.4l-0.7 -0.5l-0.7 -1.0l-0.5 -2.0l-0.4 -0.5l-2.2 -0.6l-1.3 -0.9l-0.7 -1.5l0.0 -1.5l0.4 -1.0l1.0 -1.0l1.1 -0.5l1.0 -0.1l1.0 0.2l1.3 0.9l0.6 1.0l0.6 1.7l0.5 0.3l1.7 -0.5l0.9 -0.5l0.4 -0.5l-0.5 -2.0l0.2 -1.5l0.8 -1.1l1.5 -0.8l1.5 0.1l1.0 0.6l1.0 1.1l0.5 0.2l2.0 -0.4l1.0 0.2l1.0 0.6l0.7 1.0l0.3 1.5l-0.3 1.0l-1.2 1.3l-1.5 0.4l-1.5 -0.4l-1.5 -1.3l-0.5 -0.2l-0.5 0.2l-0.5 0.5l0.8 2.5l-0.1 2.0l0.3 0.5l2.5 -0.1l2.5 1.1l0.8 -2.0l0.7 -1.0l1.0 -0.8l1.5 -0.4l2.5 0.0l1.0 0.3l2.0 1.1l2.0 -0.4l1.0 0.1l1.5 0.7l1.1 1.4l1.6 3.0l0.3 2.9l3.0 -0.5l1.0 0.2l2.0 0.9l2.0 -0.8l1.0 -0.2l1.0 0.2l1.0 0.5l0.9 0.8l1.7 3.0l0.5 2.0l-0.4 2.0l-0.7 0.7l-1.0 0.5l-1.0 0.3l-1.5 -0.2l-1.5 -0.9l-1.5 -2.3l-0.5 -0.5l-0.5 -0.1l-3.0 1.3l-0.5 0.0l-1.0 -0.6l-1.2 -1.2l-0.5 -1.0l-0.3 -2.9l-2.0 0.4l-1.5 -0.1l-1.0 -0.5l-0.9 -0.9l-1.1 -2.1l-0.5 -0.5l-1.0 0.0l-0.8 0.6l0.0 0.5l1.5 2.0l0.6 3.0l2.2 0.6l1.3 0.9l0.9 1.5l0.8 2.2l0.5 0.0l2.0 -1.0l2.0 -0.5l2.0 1.5l1.5 2.5l0.5 0.3l2.5 0.8l0.8 0.7l0.6 1.0l0.4 1.5l-0.3 2.5l0.1 2.5l-0.3 1.0l-1.2 1.5l-1.1 0.7l-1.5 0.4l-2.0 0.2l1.1 2.7l0.4 2.6l2.0 -0.9l2.0 -0.5l1.5 0.0l2.5 0.5l0.6 -0.2l0.5 -2.0l0.0 -1.0l-0.4 -0.5l-1.9 -1.5l-0.7 -1.0l-0.5 -1.5l0.1 -1.0l0.5 -1.0l1.3 -1.3l1.5 -0.7l1.5 0.0l1.5 0.6l2.1 1.9l1.6 -0.0l1.2 -0.5l-0.9 -0.8l-0.8 -1.2l-0.7 -2.1l-0.5 -0.6l-3.0 -0.2l-1.6 -1.1l-0.6 -1.0l-0.2 -1.0l0.1 -1.5l0.4 -1.0l1.4 -1.0l1.5 -0.3l1.0 0.1l2.0 0.8l3.0 -0.1l1.5 0.5l1.0 1.0l0.7 1.5l0.7 3.5l0.0 1.5l-0.3 1.0l-1.1 1.2l-1.0 0.6l-2.2 0.7l1.5 1.5l0.5 1.0l0.2 1.0l-0.1 1.0l-0.3 1.0l-1.6 2.0l-0.2 0.5l0.2 0.7l1.0 0.5l1.0 -0.1l2.0 -2.3l1.0 -0.5l1.0 -0.2l1.5 0.1l2.5 1.2l2.5 -0.2l1.5 0.4l1.0 0.6l0.5 0.6l0.6 1.7l-0.3 2.0l-1.3 2.3l0.0 1.3l0.5 -0.0l0.5 -0.4l2.0 -2.2l1.0 -0.8l2.0 -0.5l2.0 0.4l1.5 1.1l0.9 1.3l2.6 6.0l-0.0 1.5l-0.6 1.5l-0.9 0.9l-1.5 0.7l-1.5 0.1l-1.0 -0.3l-1.0 -0.6l-1.5 -1.4l-0.5 -0.2l-0.5 -0.0l-0.8 0.3l-0.1 0.5l0.9 3.3l1.9 3.7l0.0 1.5l-0.2 1.0l-1.0 1.5l-1.2 0.8l-1.5 0.1l-2.5 -0.5l-0.5 0.0l-0.2 0.6l0.2 2.0l-0.3 1.5l-0.5 1.0l-0.7 0.7l-1.5 0.8zM167.5 329.1l-1.5 0.2l-1.0 -0.5l-0.6 -0.8l-0.3 -1.5l0.5 -1.0l0.5 -0.5l0.9 -0.2l1.5 0.1l0.5 0.2l0.7 0.9l0.2 1.0l-0.3 1.0l-1.1 1.1zM323.5 431.5l-2.2 -0.0l-1.3 -0.7l-2.2 -2.3l-1.1 -2.0l-0.1 -2.0l0.5 -4.0l0.8 -4.0l0.1 -1.8l-0.4 -2.2l-1.0 -2.5l0.3 -3.5l-0.4 -1.0l-1.4 -2.0l-0.5 -1.5l0.1 -4.5l0.9 -5.0l1.4 -2.5l0.3 -1.0l-0.8 -3.5l0.0 -4.5l0.6 -4.5l0.7 -1.5l1.3 -2.0l1.4 -4.5l-1.6 -2.5l-0.1 -1.5l0.3 -1.0l0.4 -0.4l2.5 -0.6l0.5 -0.5l0.8 -4.5l-0.0 -3.0l0.7 -2.5l0.3 -4.0l-0.1 -3.5l0.6 -2.5l-0.4 -3.0l0.7 -3.0l-0.4 -3.0l0.5 -3.0l-0.5 -2.5l0.1 -1.5l0.4 -1.0l0.3 -0.1l1.5 -0.3l3.0 0.0l1.8 0.4l0.5 1.5l0.0 1.0l-0.5 2.5l0.5 2.5l0.0 1.0l-0.7 2.5l0.4 3.0l-0.6 3.0l0.5 3.0l-0.2 2.5l0.2 2.5l-0.2 1.0l-0.7 2.0l-0.2 2.5l-0.5 2.0l0.1 3.0l-0.3 4.0l-1.3 4.5l-2.1 6.0l-0.6 4.0l0.4 1.1l2.0 0.9l1.0 1.0l0.5 1.0l0.2 1.0l0.0 32.0l-0.2 1.0l-0.5 1.0l-1.0 1.0l-1.5 0.9l-0.5 0.8l-0.5 2.4l0.0 2.0l0.3 2.4l-0.2 1.5l-0.5 1.0l-0.6 0.7l-1.5 0.8zM453.5 328.8l-1.5 -0.0l-0.9 -0.8l-0.2 -0.5l-0.1 -1.0l0.2 -0.5l1.0 -0.9l1.5 -0.1l0.5 0.3l0.6 0.7l0.2 0.5l-0.1 1.0l-0.2 0.5l-1.0 0.8zM434.0 414.6l-1.0 0.2l-1.0 -0.1l-3.0 -1.0l-2.5 0.3l-1.5 -0.2l-1.0 -0.5l-0.9 -0.8l-0.7 -1.0l-0.3 -1.0l0.0 -2.5l1.0 -2.0l1.2 -3.5l1.2 -1.4l2.3 -1.6l1.4 -2.0l1.3 -1.1l3.5 -1.6l1.5 -0.3l2.0 0.3l2.5 1.4l0.5 -0.3l1.3 -2.4l1.2 -1.2l2.5 -1.5l2.0 -0.7l1.5 0.0l1.0 0.4l2.6 2.0l0.9 0.2l0.7 -0.2l1.3 -1.0l1.3 -2.5l1.2 -1.1l1.0 -0.4l2.5 -0.6l2.5 -1.3l3.0 -0.6l0.5 -0.4l0.3 -0.6l0.4 -2.5l0.4 -1.0l0.9 -1.1l1.0 -0.4l2.0 -0.2l3.5 1.1l1.0 -0.2l2.0 -0.8l1.0 -0.2l1.0 0.2l2.5 0.8l1.6 -0.2l0.2 -0.5l-1.8 -1.9l-0.7 -1.6l-0.1 -1.0l0.4 -2.0l-0.2 -0.5l-2.4 -1.2l-1.5 -1.5l-0.5 0.1l-0.8 2.1l-0.7 1.1l-1.0 0.8l-1.0 0.4l-1.5 0.1l-1.0 -0.2l-1.2 -0.7l-1.3 -1.1l-0.5 -0.1l-0.2 0.2l0.0 0.5l0.5 1.5l0.1 2.0l-0.3 1.0l-0.5 1.0l-1.1 0.9l-1.0 0.3l-1.5 0.0l-3.0 -1.0l-0.5 0.1l-2.0 1.8l-2.0 0.6l-1.5 -0.3l-2.5 -1.5l-1.5 -0.1l-0.2 0.2l1.0 2.0l0.2 1.0l-0.1 2.0l-0.5 1.0l-0.8 1.0l-1.6 1.0l-1.5 0.3l-3.0 -0.4l-2.5 0.8l-2.0 0.0l-2.0 -0.9l-0.9 -0.8l-0.6 -1.0l-0.3 -2.0l0.6 -2.0l1.2 -1.4l2.5 -1.5l1.2 -1.6l0.8 -0.7l1.0 -0.5l1.5 -0.1l1.5 0.5l1.5 0.9l0.5 -3.1l0.5 -1.0l1.0 -0.8l1.0 -0.4l1.0 -0.1l1.0 0.2l1.6 0.6l0.9 0.1l2.0 -2.1l1.0 -0.6l1.0 -0.2l2.0 0.1l0.5 -0.2l0.4 -2.1l0.5 -1.0l0.6 -0.7l1.0 -0.7l1.0 -0.2l1.5 0.3l2.0 1.4l0.5 0.2l0.5 -0.1l0.5 -0.6l0.7 -1.6l0.8 -1.2l1.0 -0.7l2.1 -0.6l0.4 -0.5l0.3 -2.0l0.6 -1.5l0.1 -0.5l-0.3 -0.5l-0.7 -0.3l-2.5 0.6l-1.5 -0.1l-1.5 -0.9l-0.8 -1.3l-0.2 -1.0l0.2 -1.5l0.8 -1.2l1.0 -0.7l1.0 -0.3l1.0 0.0l2.5 0.8l2.5 -0.8l1.0 0.0l1.0 0.3l1.2 0.9l0.6 1.0l0.2 1.5l-0.8 3.0l1.2 2.0l0.3 1.0l0.1 1.0l-0.4 1.0l-0.9 1.3l-1.0 0.9l-1.3 0.3l-0.3 0.5l1.1 -0.4l1.0 0.1l1.5 0.5l1.4 0.8l0.4 0.5l0.4 1.0l-0.1 3.0l0.4 0.5l2.5 1.0l1.0 1.0l1.0 1.6l0.5 0.2l1.6 -2.3l1.4 -0.9l1.0 -0.3l1.0 -0.0l1.5 0.4l1.5 0.9l1.0 0.1l1.5 -0.7l0.5 -0.7l0.3 -0.8l-0.3 -0.5l-2.5 -0.4l-1.6 -1.1l-0.7 -1.0l-0.3 -1.0l-0.0 -3.0l-0.4 -0.6l-1.0 -0.6l-1.0 0.1l-0.5 0.3l-1.3 2.8l-0.7 0.8l-1.0 0.6l-1.5 0.3l-1.0 -0.2l-1.5 -0.6l-0.9 -0.9l-0.4 -1.0l-0.2 -1.0l0.1 -1.0l0.3 -1.0l1.1 -1.3l2.5 -1.6l1.5 -3.1l0.1 -0.5l-0.8 -2.5l-0.1 -2.5l-0.7 -0.5l-2.0 -0.8l-0.8 -0.7l-0.5 -1.0l-0.2 -1.5l0.5 -1.5l0.5 -0.7l1.0 -0.7l1.5 -0.3l1.0 0.1l2.5 1.1l2.0 -0.5l1.5 0.1l1.5 1.0l0.9 1.4l0.1 1.5l-0.8 2.5l-0.1 3.0l-1.3 3.0l0.4 0.5l2.8 0.5l1.9 1.0l0.4 0.5l0.1 0.5l0.1 3.0l1.8 2.5l0.4 1.0l-0.0 3.0l0.3 0.3l0.5 0.1l1.4 -0.4l1.3 -3.0l1.3 -1.2l1.0 -0.4l1.0 -0.2l2.0 0.3l1.0 -0.0l7.4 -5.0l0.6 -1.0l-0.5 -2.5l0.1 -1.5l0.5 -1.0l1.3 -2.0l-2.4 -1.2l-1.0 -0.8l-0.6 -1.0l-0.3 -1.5l0.1 -1.0l0.4 -1.0l2.0 -2.5l0.7 -3.5l-0.3 -0.2l-2.0 -0.2l-1.0 -0.5l-1.2 -1.1l-0.5 -1.5l0.1 -1.5l0.9 -2.0l-0.1 -2.5l0.2 -1.0l0.5 -1.0l1.1 -0.9l1.0 -0.2l1.7 0.1l2.3 1.5l0.5 0.1l2.5 -0.5l2.0 0.1l1.5 0.9l0.9 1.4l0.1 1.0l-0.1 1.0l-0.4 1.0l-0.9 1.0l-1.1 0.8l-1.5 0.5l-3.5 0.5l-0.7 0.7l-0.3 1.0l3.0 0.7l1.0 0.7l1.0 1.1l0.5 0.1l2.5 -1.7l1.0 -0.2l1.5 0.1l1.0 0.4l1.0 0.7l0.8 1.1l0.3 2.0l-0.4 1.5l-0.7 1.0l-2.0 1.7l-0.8 2.3l-0.7 1.2l-1.0 0.7l-1.5 0.5l-2.5 -0.1l-1.5 -0.8l-0.6 0.0l-0.3 0.5l2.4 0.8l3.5 2.1l0.5 -0.0l0.4 -0.4l0.9 -1.5l1.2 -1.1l1.5 -0.6l2.0 -0.3l0.5 -0.3l0.4 -0.7l0.4 -2.0l0.6 -1.5l1.1 -1.2l1.0 -0.6l1.5 -0.2l1.5 0.3l1.5 1.0l2.0 2.3l1.0 0.3l1.5 -0.3l0.0 -0.6l-0.5 -2.0l0.0 -1.0l0.4 -1.0l1.1 -1.2l1.0 -0.5l1.5 -0.3l0.7 -0.5l0.2 -0.5l-0.2 -3.0l0.4 -1.5l0.8 -1.0l1.6 -0.8l1.5 -0.2l1.0 0.2l1.0 0.5l1.0 0.9l1.5 2.0l0.5 0.4l4.5 -0.4l1.3 1.9l1.5 3.5l0.6 2.0l-0.1 1.0l-0.4 1.0l-0.7 1.0l-0.7 0.5l-1.5 0.6l-2.5 0.3l-2.5 1.5l-1.5 0.3l-2.0 -0.6l-2.0 -1.6l-1.0 -0.6l-1.0 -0.0l-3.0 0.6l-0.4 0.5l0.8 2.5l-0.2 2.0l-2.8 4.5l-1.4 1.7l-2.0 1.3l-2.0 0.5l-2.0 -0.2l-2.5 -0.9l-0.5 -0.1l-0.6 0.2l-0.5 3.5l0.1 0.8l0.5 0.2l2.0 0.1l1.5 0.5l1.5 1.4l0.7 1.5l0.2 1.5l-0.5 1.5l-0.6 1.0l-1.3 1.1l-1.5 0.5l-1.0 0.1l-1.5 -0.4l-1.0 -0.5l-1.2 -1.3l-0.4 -1.0l-0.4 -1.5l-0.5 -0.7l-2.5 1.1l-2.0 0.1l-1.5 -0.4l-2.3 -1.6l-0.7 -0.2l-2.5 1.5l-3.0 0.8l-1.7 0.9l-0.7 1.0l-0.2 2.0l-0.3 1.0l-0.7 1.0l-1.4 1.0l-1.5 0.3l-1.5 -0.3l-1.4 -1.0l-1.6 -1.8l-0.5 0.2l-1.5 2.4l-2.5 2.0l-1.9 3.2l0.4 0.5l1.5 0.6l1.0 0.7l0.9 1.2l0.3 1.0l-0.0 1.5l-0.4 1.0l-0.7 1.0l-1.1 0.8l-1.0 0.3l-1.0 0.1l-1.0 -0.3l-1.0 -0.5l-0.9 -0.9l-0.5 -1.0l-0.2 -1.0l-0.0 -2.5l-0.4 -0.2l-2.5 -0.6l-2.5 -1.8l-0.5 -0.1l-0.5 0.3l-0.9 1.9l-0.6 0.8l-1.5 1.0l-2.2 0.7l-1.2 2.0l-0.2 1.0l1.3 2.5l0.2 1.5l-0.1 1.0l-0.5 1.0l-1.3 1.2l-1.5 0.5l-1.0 0.0l-1.0 -0.2l-1.0 -0.6l-0.8 -0.9l-0.6 -1.5l0.0 -1.5l0.7 -2.0l0.0 -0.5l-0.2 -0.5l-1.1 -0.5l-2.0 0.1l-4.0 1.9l-3.0 2.5l-3.5 1.0l-0.5 1.0l0.0 1.0l1.8 2.5l0.3 2.0l-0.2 1.0l-0.5 1.0l-0.9 0.9l-1.0 0.5l-1.0 0.3l-1.0 -0.1l-1.0 -0.3l-1.0 -0.7l-1.1 -1.6l-0.6 -2.0l-0.3 -0.4l-0.5 -0.2l-0.5 0.2l-0.3 0.9l0.1 2.0l-0.2 1.5l-0.6 1.3l-1.0 1.0l-1.5 0.6l-2.0 -0.1l-1.3 -0.8l-1.7 -1.8l-0.5 -0.2l-0.5 0.1l-0.7 2.4l-0.6 1.0l-0.7 0.7l-1.5 0.7l-2.0 0.2l-0.5 0.2l-2.0 2.2l-1.0 0.5l-1.0 0.3l-1.5 -0.2l-1.1 -0.6l-1.1 -1.0l-1.3 -2.2l-0.7 -0.8l-1.3 -0.8l-1.0 0.1l-0.5 0.6l0.1 0.6l0.8 1.0l1.7 1.5l0.6 1.0l0.3 1.0l-0.1 1.5l-0.5 1.0l-0.9 1.1l-1.0 0.5zM561.5 329.7l-1.0 0.3l-1.0 -0.1l-1.5 -0.7l-0.9 -0.7l-0.4 -0.5l-0.1 -1.0l0.3 -2.0l1.1 -0.3l2.0 -0.1l2.0 0.1l1.5 0.3l0.2 1.5l-0.4 1.5l-0.8 1.0l-1.0 0.7zM581.5 338.0l-1.0 0.1l-1.0 -0.2l-1.7 -0.9l-0.9 -1.5l-0.5 -2.5l-0.4 -0.5l-1.3 1.5l-1.2 0.8l-2.0 0.4l-1.0 0.0l-0.5 -0.3l-0.8 -0.9l-0.6 -1.5l-0.1 -1.5l0.7 -1.5l1.3 -1.1l3.0 -0.8l1.4 -2.6l2.1 -0.4l6.8 0.4l0.7 0.3l2.0 1.7l2.0 0.6l1.0 0.7l0.8 1.2l0.3 1.0l-0.2 1.5l-0.5 1.0l-0.9 0.8l-1.0 0.5l-2.5 0.1l-0.5 0.2l-1.6 2.4l-0.9 0.6l-1.0 0.4zM178.5 329.6l-1.5 0.2l-1.0 -0.5l-0.6 -0.8l-0.3 -1.0l0.2 -1.0l0.7 -1.0l0.5 -0.3l1.0 -0.2l1.0 0.2l0.5 0.3l0.7 1.0l0.2 1.0l-0.3 1.0l-1.1 1.1zM149.5 335.2l-1.5 0.1l-1.0 -0.4l-0.5 -0.5l-0.3 -0.4l-0.3 -1.0l0.4 -2.0l-0.3 -0.4l-2.0 -0.3l-0.4 0.2l-0.4 1.0l-0.7 0.9l-1.0 0.6l-1.0 0.1l-1.0 -0.3l-1.0 -0.8l-0.4 -1.0l0.1 -1.5l0.8 -1.0l1.0 -0.6l1.0 -0.1l1.5 0.3l1.1 -1.6l0.9 -0.7l1.0 -0.2l1.0 0.3l0.7 0.6l0.6 1.0l0.0 1.0l-0.3 1.5l1.5 0.2l1.0 0.4l0.8 0.9l0.2 0.5l0.1 1.0l-0.3 1.0l-1.3 1.2zM465.0 330.2l-1.0 0.3l-1.0 -0.1l-1.2 -0.9l-0.4 -1.5l0.3 -1.0l0.8 -0.9l1.0 -0.4l1.0 0.1l1.0 0.6l0.4 0.6l0.3 1.5l-0.4 1.0l-0.8 0.7zM496.5 336.6l-1.0 0.0l-1.4 -0.6l-0.9 -1.0l-0.3 -1.0l0.3 -2.5l-0.8 -2.0l-0.0 -1.0l0.3 -1.0l0.4 -0.5l1.4 -0.8l1.5 0.1l1.0 0.6l0.5 0.6l0.3 1.0l0.1 2.5l1.0 2.0l-0.1 1.5l-0.5 1.0l-0.8 0.7l-1.0 0.4zM554.5 333.5l-1.0 0.3l-1.5 -0.1l-2.3 -1.2l-0.4 -0.5l0.1 -1.5l0.3 -1.5l0.8 -1.2l1.0 -0.7l1.0 -0.3l1.5 0.1l1.3 0.6l1.1 1.0l0.2 1.5l-0.3 2.0l-0.8 1.0l-1.0 0.5zM544.5 339.1l-1.5 0.4l-2.0 -0.3l-1.7 -1.2l-0.7 -1.5l-0.1 -1.5l0.4 -4.0l0.3 -1.5l1.3 -1.5l1.5 -0.6l1.0 0.0l1.5 0.6l2.0 2.2l1.9 1.3l1.0 1.0l-0.1 2.5l-0.8 1.5l-1.5 1.3l-2.5 1.3zM488.0 333.1l-1.0 0.1l-1.0 -0.3l-0.9 -0.9l-0.4 -1.0l-0.0 -1.0l0.4 -1.0l0.9 -0.8l1.0 -0.3l1.0 0.1l1.0 0.5l0.5 0.5l0.4 1.0l0.0 1.0l-0.4 1.0l-0.5 0.6l-1.0 0.5zM449.0 336.6l-1.0 0.2l-1.0 -0.3l-0.9 -1.0l-0.3 -1.0l0.0 -0.5l0.7 -1.5l-0.4 -1.5l0.1 -1.0l0.8 -1.1l1.0 -0.4l1.0 0.1l1.0 0.6l0.7 0.8l0.3 1.0l-0.1 1.0l-0.5 1.0l0.0 2.0l-0.6 1.0l-0.8 0.6zM193.5 336.1l-1.0 0.3l-1.0 -0.2l-0.8 -0.7l-0.3 -1.0l0.3 -1.5l-0.3 -1.5l0.2 -1.0l0.4 -0.6l1.0 -0.6l0.5 -0.0l1.0 0.3l0.8 0.9l0.1 0.5l-0.3 2.0l0.3 1.0l-0.1 1.0l-0.8 1.1zM181.5 334.6l-0.5 0.2l-1.0 -0.1l-0.5 -0.2l-0.8 -1.0l0.0 -1.5l0.8 -0.9l0.5 -0.2l1.0 -0.1l0.5 0.2l0.9 1.0l0.2 1.0l-0.1 0.5l-0.3 0.5l-0.7 0.6zM50.0 338.5l-1.0 0.2l-1.5 -0.3l-1.0 -0.7l-0.9 -1.2l-0.2 -1.5l0.4 -1.5l0.9 -1.0l1.3 -0.8l1.5 -0.0l1.0 0.3l1.0 0.8l0.7 1.2l0.2 1.5l-0.2 1.0l-0.7 1.0l-1.5 1.0zM437.5 334.5l-1.0 -0.1l-0.7 -0.9l0.1 -1.0l0.6 -0.7l0.5 -0.2l1.0 0.3l0.7 1.1l-0.4 1.0l-0.8 0.5zM307.0 335.6l-1.0 -0.3l-0.7 -0.8l-0.2 -0.5l0.1 -1.0l0.8 -0.8l0.5 -0.2l1.0 0.1l0.5 0.3l0.8 1.1l-0.1 1.0l-0.4 0.5l-0.3 0.3l-1.0 0.3zM355.5 335.5l-1.0 0.4l-0.5 -0.2l-0.8 -0.7l-0.0 -1.0l0.8 -0.9l1.0 -0.1l0.8 0.5l0.2 1.0l-0.1 0.5l-0.4 0.5zM480.5 344.2l-1.5 0.2l-1.5 -0.5l-0.8 -0.9l-0.5 -1.5l0.1 -1.0l0.9 -2.0l-0.5 -2.0l0.2 -1.5l0.6 -1.0l1.5 -0.8l1.0 0.0l1.0 0.4l0.9 0.9l0.4 1.0l-0.0 1.0l-0.7 2.0l0.7 2.0l0.0 1.5l-0.8 1.5l-1.0 0.7zM516.5 360.0l-1.5 -0.2l-1.0 -0.4l-1.0 -0.9l-0.7 -1.0l-0.5 -2.0l0.9 -2.5l0.1 -0.5l-0.3 -0.6l-0.5 0.2l-0.9 0.9l-0.1 0.5l-0.1 2.0l-0.5 1.0l-0.9 1.0l-1.0 0.7l-1.5 0.4l-1.0 -0.0l-1.6 -0.6l-1.3 -1.0l-0.3 -0.5l-0.1 -1.5l0.4 -2.0l0.7 -1.0l1.5 -1.5l0.9 -3.0l0.8 -1.0l1.2 -1.0l-2.2 -1.3l-0.8 -0.7l-0.5 -1.0l-0.7 -2.3l-1.2 -2.2l-0.2 -1.5l0.2 -1.0l0.6 -1.0l1.1 -0.9l1.0 -0.3l1.0 -0.0l1.0 0.2l2.0 1.1l2.0 -0.6l1.5 0.0l1.5 0.6l1.1 1.4l0.3 1.0l-0.0 1.0l-0.6 1.5l-1.3 1.1l-2.0 1.0l-1.2 1.9l-1.6 1.5l0.3 0.5l2.0 1.0l1.5 1.8l0.5 0.1l2.0 -1.1l1.5 -0.2l1.0 0.3l1.0 0.5l0.9 1.1l0.3 1.0l0.1 1.0l-0.5 2.5l0.2 2.5l-0.3 1.5l-0.4 1.0l-0.8 0.8l-1.0 0.5l-1.0 0.2zM168.0 347.5l-1.0 -0.2l-1.1 -0.8l-0.6 -1.0l-0.3 -1.8l-0.5 -0.2l-2.0 -0.2l-1.0 -0.6l-0.6 -0.7l-0.3 -1.0l-0.2 -1.5l-0.9 -1.5l-0.3 -1.0l0.4 -1.5l0.9 -0.9l1.5 -0.4l1.5 0.7l0.8 1.1l0.5 2.0l1.1 1.5l0.6 2.1l2.5 0.2l1.0 0.6l0.5 0.6l0.5 1.5l-0.3 1.5l-1.2 1.2l-1.5 0.3zM207.5 341.6l-1.0 0.3l-1.0 -0.3l-0.7 -0.6l-0.3 -1.0l0.2 -1.0l1.0 -1.0l-0.0 -0.5l-0.7 -1.0l-0.0 -1.0l0.5 -0.8l1.0 -0.4l1.0 0.4l0.6 1.3l-0.3 1.0l-0.5 0.5l0.0 0.5l1.0 1.0l0.2 1.0l-0.3 1.0l-0.7 0.6zM154.5 341.1l-1.0 0.0l-1.0 -0.4l-0.8 -0.7l-0.5 -1.0l0.1 -1.5l0.5 -1.0l0.7 -0.6l1.0 -0.4l1.0 0.0l1.0 0.4l0.7 0.6l0.6 1.5l-0.0 1.0l-0.5 1.0l-0.8 0.7l-1.0 0.4zM471.0 341.0l-1.0 -0.1l-1.0 -0.7l-0.6 -0.7l-0.3 -1.0l0.2 -1.0l0.7 -1.2l1.0 -0.6l1.0 -0.2l1.0 0.2l1.0 0.8l0.5 1.0l0.2 1.0l-0.3 1.0l-0.4 0.5l-1.0 0.8l-1.0 0.2zM196.5 339.6l-1.0 0.4l-1.1 -0.5l-0.5 -1.0l0.2 -1.0l0.4 -0.4l0.5 -0.3l1.0 -0.0l0.9 0.7l0.2 1.0l-0.6 1.1zM124.0 341.5l0.7 -0.5l0.3 -0.5l-0.3 -0.5l-1.2 -0.7l-0.3 0.7l-0.2 1.0l0.2 0.5l0.3 0.2l0.5 -0.2zM183.5 354.6l-1.5 -0.1l-1.0 -0.6l-0.7 -0.9l-0.7 -2.0l-2.1 -0.8l-1.1 -1.2l-0.3 -1.0l0.0 -2.0l-1.6 -1.5l-0.4 -1.0l0.1 -1.5l0.8 -1.0l0.5 -0.4l1.5 -0.2l1.0 0.3l0.5 0.4l0.8 1.4l0.2 2.0l1.8 1.5l0.9 2.0l0.3 0.3l2.0 0.7l1.1 1.0l0.5 1.5l-0.4 1.5l-1.2 1.2l-1.0 0.4zM464.5 351.1l-1.0 0.0l-1.4 -0.6l-0.9 -1.0l-0.3 -1.0l0.2 -2.5l-0.6 -2.0l0.1 -1.5l0.9 -1.4l1.5 -0.7l1.5 0.3l1.4 1.3l0.3 1.0l-0.1 2.0l1.0 2.5l0.0 1.0l-0.6 1.4l-1.0 0.9l-1.0 0.3zM309.0 345.1l-2.0 -0.4l-0.9 -0.7l-0.4 -1.0l0.1 -0.5l0.7 -0.9l1.0 -0.3l1.0 0.1l1.0 0.2l1.0 0.9l0.2 1.0l-0.2 0.5l-0.5 0.7l-1.0 0.4zM456.0 347.1l-1.0 0.3l-1.0 -0.1l-1.0 -0.5l-0.7 -0.8l-0.3 -1.0l0.0 -1.0l0.6 -1.0l0.9 -0.8l1.0 -0.3l1.0 0.1l1.0 0.6l0.7 0.9l0.2 1.0l-0.1 1.0l-0.5 1.0l-0.8 0.6zM65.5 349.2l-1.5 0.1l-1.0 -0.3l-1.0 -0.7l-0.8 -1.3l-0.2 -1.0l0.2 -1.5l0.8 -1.2l1.5 -0.9l1.0 -0.1l1.5 0.3l1.0 0.7l0.8 1.2l0.2 1.5l-0.4 1.5l-0.8 1.0l-1.3 0.7zM353.5 346.1l-1.0 -0.1l-0.7 -0.5l-0.2 -0.5l-0.0 -1.0l0.2 -0.5l1.2 -0.6l1.0 0.3l0.7 0.8l0.0 0.5l-0.3 1.0l-0.9 0.6zM582.5 350.6l-1.0 0.3l-1.5 -0.3l-1.0 -0.5l-0.9 -1.1l-0.4 -1.0l0.1 -1.5l0.7 -1.4l1.0 -0.9l1.0 -0.3l1.5 -0.0l1.3 0.6l0.9 1.0l0.5 1.5l-0.2 1.5l-0.6 1.0l-1.4 1.1zM191.0 352.7l-1.0 0.2l-1.0 -0.3l-1.0 -0.6l-0.7 -1.0l-0.2 -1.0l0.3 -1.0l0.7 -1.0l0.9 -0.6l1.0 -0.2l1.0 0.2l0.9 0.6l0.7 1.0l0.2 1.0l-0.2 1.0l-0.6 1.1l-1.0 0.6zM448.5 356.1l-1.5 0.2l-1.5 -0.5l-0.8 -0.8l-0.5 -1.5l0.0 -1.0l1.0 -3.5l0.8 -1.2l1.5 -0.7l1.0 -0.0l1.0 0.4l1.0 1.0l0.4 1.0l-0.0 1.5l-0.6 3.0l-0.8 1.4l-1.0 0.7zM441.0 354.0l-1.0 0.2l-1.5 -0.3l-1.1 -0.9l-0.6 -1.0l-0.1 -1.0l0.1 -1.0l0.6 -1.0l1.1 -0.9l1.0 -0.2l1.5 0.2l1.1 0.9l0.7 1.0l0.2 1.5l-0.2 1.0l-0.8 0.9l-1.0 0.6zM125.0 355.0l1.5 -0.5l1.1 -1.0l1.2 -2.5l0.1 -1.0l-0.4 -0.6l-2.5 -0.1l-1.5 -0.4l-1.0 0.0l-2.8 1.6l0.0 0.5l1.8 3.3l1.4 0.7l1.1 0.0zM311.0 354.0l-1.0 -0.2l-1.0 -0.8l-1.1 -0.5l-0.4 -0.5l0.0 -0.5l0.1 -0.5l0.4 -0.4l0.5 -0.3l1.5 0.2l1.0 -0.2l1.3 0.7l0.5 1.0l-0.2 1.0l-0.6 0.7l-1.0 0.3zM432.0 361.5l-1.0 -0.1l-1.0 -0.5l-0.7 -0.9l-0.3 -1.5l0.2 -1.0l0.9 -1.5l-0.2 -2.0l0.2 -1.0l0.9 -1.1l1.5 -0.5l1.0 0.2l1.0 0.7l0.4 0.7l0.2 1.0l-0.2 1.0l-0.7 1.5l0.4 2.0l-0.3 1.5l-0.8 0.9l-0.5 0.4l-1.0 0.2zM198.5 360.1l-1.0 0.1l-1.0 -0.3l-3.0 -1.5l-1.1 -0.9l-0.6 -1.0l-0.1 -1.0l0.1 -1.0l0.7 -1.1l1.0 -0.7l1.0 -0.2l1.0 0.1l3.5 1.6l1.0 0.8l0.8 1.5l-0.1 1.5l-0.7 1.2l-1.5 0.9zM206.0 357.5l-1.0 -0.1l-1.0 -0.5l-0.8 -0.9l-0.3 -1.0l0.2 -1.0l0.5 -1.0l0.9 -0.7l1.0 -0.3l1.0 0.1l1.0 0.6l0.6 0.8l0.3 1.0l-0.0 1.0l-0.5 1.0l-0.9 0.7l-1.0 0.3zM342.0 353.9l-0.5 -0.2l-0.4 -0.7l0.4 -0.4l0.5 -0.1l0.6 0.5l-0.2 0.5l-0.4 0.4zM352.5 356.2l-1.0 0.0l-0.5 -0.3l-0.7 -0.9l-0.0 -1.0l0.7 -1.0l0.5 -0.3l1.0 0.0l0.5 0.3l0.7 1.0l0.0 1.0l-0.3 0.5l-0.9 0.7zM562.5 361.5l-1.5 0.4l-2.0 -0.3l-1.5 -1.0l-0.8 -1.1l-0.3 -1.5l0.3 -1.5l0.8 -1.3l1.5 -1.0l2.0 -0.4l1.5 0.3l1.4 0.9l0.8 1.0l0.4 1.5l-0.0 1.0l-0.4 1.0l-0.7 1.0l-1.5 1.0zM423.5 358.5l-1.5 -0.2l-0.8 -0.8l-0.4 -1.0l0.4 -1.5l1.3 -0.9l1.0 -0.0l0.9 0.4l0.5 0.5l0.5 1.0l-0.1 1.0l-0.3 0.5l-0.5 0.6l-1.0 0.4zM318.5 363.6l-1.5 0.2l-1.0 -0.3l-0.9 -1.0l-0.4 -1.0l0.2 -1.0l0.9 -1.5l-0.5 -2.0l0.2 -1.0l1.0 -1.1l1.0 -0.3l1.0 0.1l1.0 0.7l0.4 0.6l0.2 1.0l-0.2 1.0l-0.8 1.5l0.6 2.0l-0.3 1.5l-0.4 0.4l-0.5 0.2zM464.5 363.6l-1.5 -0.2l-2.0 -0.6l-2.5 0.7l-1.0 0.0l-1.0 -0.3l-1.0 -0.7l-0.9 -1.5l-0.1 -1.5l0.3 -1.0l1.2 -1.4l1.5 -0.5l1.5 0.0l2.0 0.7l2.5 -0.8l1.0 0.1l1.0 0.2l1.0 0.7l0.7 1.0l0.3 1.0l-0.0 1.0l-0.3 1.0l-0.7 1.1l-1.0 0.8l-1.0 0.2zM142.6 366.0l-0.8 -1.5l-0.3 -1.5l0.1 -1.5l0.6 -2.0l-0.2 -1.0l-0.5 -0.3l-2.0 -0.4l-2.0 -1.0l-0.5 -0.1l-3.3 2.8l-0.2 0.5l0.8 1.0l3.7 1.7l1.0 0.8l1.5 2.0l0.5 0.4l1.0 0.3l0.6 -0.2zM177.5 366.0l-1.0 0.1l-1.0 -0.2l-2.5 -1.7l-2.5 -0.8l-1.0 -0.7l-0.8 -1.2l-0.3 -1.5l0.2 -1.0l0.9 -1.3l1.5 -0.9l1.0 -0.2l1.0 0.2l1.0 0.4l1.5 1.3l2.5 0.8l1.1 0.7l0.9 1.5l0.2 1.0l-0.1 1.0l-0.8 1.5l-0.8 0.6l-1.0 0.4zM221.5 366.7l-1.0 0.0l-1.0 -0.4l-2.5 -2.3l-0.8 -1.5l-0.0 -1.5l0.5 -1.0l1.9 -2.0l1.4 -0.8l1.0 0.0l0.5 0.3l0.7 0.5l0.6 1.0l0.0 1.0l-0.2 1.5l0.8 2.0l0.1 1.0l-0.3 1.0l-0.5 0.5l-1.2 0.7zM210.5 364.0l-1.0 -0.1l-1.0 -0.6l-0.7 -0.8l-0.4 -1.5l0.4 -1.5l0.7 -0.9l1.0 -0.5l1.0 -0.1l1.0 0.1l1.0 0.7l0.8 1.2l0.1 1.0l-0.1 1.0l-0.8 1.2l-1.0 0.6l-1.0 0.2zM312.5 361.7l-1.0 0.1l-0.5 -0.1l-0.8 -0.7l-0.4 -1.0l-0.0 -0.5l0.5 -1.0l1.2 -0.7l0.5 -0.0l1.0 0.4l0.7 0.8l0.1 0.5l-0.0 1.0l-0.4 0.5l-0.9 0.7zM352.0 365.3l-1.0 0.1l-0.5 -0.2l-0.7 -0.7l-0.2 -0.5l0.1 -1.5l0.8 -0.8l1.5 -0.1l0.5 0.2l0.6 0.7l0.2 0.5l-0.0 1.0l-0.3 0.5l-1.0 0.8zM339.0 363.8l-0.5 0.0l-0.8 -0.8l0.0 -0.5l0.8 -0.7l0.5 0.0l0.7 0.7l0.0 0.5l-0.7 0.8zM446.0 371.5l-1.5 -0.3l-2.1 -1.2l-1.9 -0.8l-1.4 -1.2l-0.5 -1.0l-0.1 -1.5l0.6 -1.5l0.9 -0.9l1.5 -0.6l1.5 0.1l4.5 2.1l1.4 1.3l0.6 1.5l-0.0 1.0l-0.3 1.0l-1.2 1.4l-1.0 0.5l-1.0 0.1zM192.0 370.6l-1.5 0.2l-3.0 -1.0l-2.5 0.2l-1.5 -0.5l-1.1 -1.0l-0.6 -1.5l0.1 -1.5l0.5 -1.0l1.1 -1.0l1.5 -0.5l1.5 0.1l2.0 0.8l2.5 -0.2l1.5 0.5l1.3 1.3l0.4 1.0l0.1 1.0l-0.2 1.0l-0.5 1.0l-1.6 1.1zM205.5 378.6l-1.0 0.1l-1.0 -0.3l-2.0 -1.5l-0.5 -0.1l-2.0 0.3l-1.5 -0.1l-1.0 -0.6l-0.9 -0.9l-0.5 -1.5l0.2 -2.0l1.1 -2.0l1.6 -1.7l1.0 -0.5l1.5 -0.1l3.0 0.9l2.0 -0.1l1.0 0.1l1.0 0.4l1.1 1.0l0.5 1.0l0.2 1.5l-0.6 3.0l-0.4 1.0l-0.8 1.0l-1.0 0.8l-1.0 0.3zM434.5 392.1l-1.0 0.2l-1.0 -0.1l-1.0 -0.4l-2.0 -1.3l-0.5 -0.1l-2.5 1.3l-2.0 0.1l-1.6 -0.8l-0.6 -0.5l-0.6 -1.0l-0.2 -2.0l0.2 -1.0l0.6 -1.0l1.2 -1.0l2.0 -1.0l1.8 -2.5l1.2 -0.9l1.3 -0.6l0.2 -0.5l-2.0 -2.3l-2.5 -0.3l-1.0 -0.4l-1.0 -0.8l-0.8 -1.2l-0.4 -2.0l0.4 -2.0l0.8 -1.2l1.5 -1.0l1.0 -0.2l1.0 0.1l2.5 0.9l2.5 -0.1l1.0 0.2l1.4 0.8l1.0 1.5l0.8 3.5l-0.1 2.0l-0.3 1.0l-0.8 1.0l-2.3 1.5l2.3 4.3l1.2 1.2l0.7 1.0l0.3 1.0l0.1 1.0l-0.2 1.0l-0.6 1.1l-1.0 1.0l-1.0 0.5zM337.5 373.7l-1.0 0.0l-0.5 -0.2l-0.7 -0.5l-0.6 -1.0l-0.1 -1.0l0.5 -1.0l0.9 -0.7l0.5 -0.1l1.5 0.2l0.8 0.6l0.5 1.0l-0.0 1.0l-0.3 0.5l-0.5 0.7l-1.0 0.5zM351.5 373.7l-1.0 0.1l-0.5 -0.1l-0.8 -0.7l-0.3 -0.5l-0.2 -0.5l0.1 -1.0l0.3 -0.5l0.9 -0.7l1.5 -0.1l0.5 0.3l0.8 1.0l-0.1 1.5l-0.7 0.9l-0.5 0.3zM227.0 401.0l-1.0 -0.0l-1.0 -0.4l-1.4 -1.1l-0.7 -1.5l-0.2 -1.0l0.2 -1.0l0.4 -1.0l1.2 -1.2l1.0 -0.5l2.5 -0.5l1.5 -2.7l2.2 -1.6l-0.2 -0.5l-1.4 -1.5l-1.3 -2.0l-1.8 -1.5l-0.8 -1.0l-0.5 -1.0l-0.7 -2.5l-0.5 0.2l-1.5 1.1l-1.0 0.3l-1.0 0.1l-2.0 -0.3l-3.5 1.2l-1.5 -0.1l-1.5 -0.8l-1.4 -1.7l-0.4 -1.0l-0.2 -1.5l0.2 -1.0l0.4 -1.0l0.9 -1.0l1.0 -0.6l1.0 -0.3l2.0 -0.2l1.5 0.3l2.0 0.8l3.0 0.4l1.5 1.1l0.7 1.0l0.3 1.1l0.5 0.6l1.5 -1.2l1.0 -0.4l1.0 -0.2l1.5 0.2l1.0 0.5l2.0 1.6l2.0 0.1l1.5 0.4l1.0 0.8l0.6 1.0l0.3 1.0l-0.0 1.0l-0.6 1.5l-2.8 3.5l-2.0 1.5l1.7 2.0l0.4 1.0l0.1 1.5l-0.4 1.0l-1.3 1.4l-2.9 1.1l-0.7 2.0l-0.9 1.3l-1.0 0.8l-1.5 0.4zM415.5 384.2l-0.5 0.2l-1.0 0.0l-1.5 -0.9l-1.3 -1.5l-0.7 -2.0l-2.0 -1.3l-1.0 -1.2l-0.4 -1.0l0.1 -1.5l0.8 -1.5l1.0 -0.7l1.0 -0.4l1.0 -0.0l1.0 0.3l2.0 1.0l2.5 -0.5l1.0 0.0l1.5 0.7l1.0 1.1l0.4 1.5l-0.2 1.5l-1.7 2.5l-1.0 2.0l-1.0 1.0l-1.0 0.7zM527.0 381.1l-1.5 0.1l-2.0 -0.8l-1.4 -1.4l-0.6 -1.5l0.1 -2.0l0.7 -1.5l1.2 -1.1l1.5 -0.7l2.0 -0.1l1.5 0.6l1.4 1.3l0.7 1.5l0.1 2.0l-0.7 1.5l-1.0 1.2l-1.0 0.6l-1.0 0.3zM350.5 380.8l-1.0 0.1l-0.5 -0.2l-0.9 -0.7l-0.5 -1.0l-0.3 -1.0l0.2 -1.0l0.5 -0.8l1.0 -0.6l1.5 0.1l1.0 0.8l0.5 1.0l0.2 1.0l-0.3 1.0l-0.4 0.6l-1.0 0.7zM335.0 381.8l-1.0 0.1l-0.5 -0.2l-0.7 -0.7l-0.4 -1.0l0.2 -1.0l0.3 -0.5l1.1 -0.7l1.0 0.1l0.5 0.3l0.8 0.8l0.1 0.5l-0.1 1.0l-0.3 0.5l-1.0 0.8zM170.7 389.5l0.2 -0.5l-0.1 -2.0l0.8 -2.0l1.4 -1.6l1.0 -0.5l1.6 -0.4l0.3 -0.5l-0.0 -1.0l-0.4 -0.3l-2.5 1.1l-2.0 -0.1l-1.0 -0.4l-1.0 -0.7l-1.5 -1.7l-0.5 -0.4l-0.5 0.7l-0.0 0.8l0.4 3.0l0.6 0.9l1.6 1.6l0.6 1.0l0.3 1.0l-0.2 2.0l0.2 0.3l0.7 -0.3zM197.5 390.0l-2.0 -0.3l-1.0 -0.6l-0.9 -1.1l-0.4 -1.0l-0.0 -1.5l0.8 -1.8l1.5 -1.2l1.0 -0.3l2.1 -0.2l2.9 -1.6l1.5 -0.2l1.5 0.6l1.0 1.2l0.4 1.0l0.0 1.5l-0.6 1.5l-1.3 1.0l-2.5 0.7l-2.5 1.8l-1.5 0.5zM345.5 416.2l-1.5 0.2l-1.0 -0.2l-1.0 -0.5l-0.8 -0.7l-1.1 -2.0l-0.2 -2.5l0.3 -1.5l1.5 -3.0l-0.2 -2.5l0.8 -3.0l-0.1 -2.5l0.2 -1.0l1.4 -2.5l0.3 -2.5l0.4 -1.0l0.5 -0.8l1.3 -1.2l-0.1 -0.5l-1.2 -2.0l-0.1 -1.5l0.4 -1.0l0.7 -0.9l1.0 -0.5l1.0 -0.2l1.0 0.2l1.0 0.5l0.7 0.9l0.4 1.0l0.1 1.0l-0.3 1.0l-1.8 2.0l0.1 0.5l1.1 1.5l0.4 1.0l-0.0 1.0l-0.8 2.5l0.2 3.0l-0.7 3.0l-0.0 3.0l-1.2 3.0l0.5 3.0l-0.1 2.0l-0.3 1.0l-0.8 1.3l-1.0 0.9l-1.0 0.5zM217.0 397.1l-1.5 0.0l-2.5 -0.4l-1.5 -0.4l-1.0 -0.5l-0.9 -0.8l-0.5 -1.0l-0.3 -1.0l-0.0 -1.0l0.4 -1.5l1.3 -1.3l1.0 -0.5l2.5 -0.7l1.5 -1.9l1.0 -0.7l1.0 -0.3l1.0 -0.1l1.5 0.6l1.0 0.9l0.5 1.0l0.1 1.5l-0.7 2.5l-0.4 2.5l-0.4 1.0l-1.1 1.3l-1.0 0.5l-1.0 0.3zM419.0 397.7l-1.0 0.3l-1.5 -0.1l-3.0 -1.5l-2.5 0.3l-1.5 -0.3l-1.4 -0.9l-0.9 -1.5l-0.2 -2.0l0.6 -1.5l0.9 -0.9l2.0 -1.5l1.5 -1.9l2.5 -1.5l0.3 0.3l0.7 0.3l1.6 1.2l0.6 1.0l0.8 2.2l2.0 1.7l0.7 1.1l0.2 1.5l-0.2 1.5l-0.7 1.1l-1.5 1.1zM313.0 390.2l-1.0 0.3l-1.0 -0.1l-1.0 -0.7l-0.4 -0.7l-0.2 -1.0l0.2 -1.0l0.4 -0.5l1.0 -0.7l1.5 -0.0l1.0 0.6l0.5 0.6l0.2 1.5l-0.4 1.0l-0.8 0.7zM396.5 424.7l-2.0 0.2l-1.5 -0.5l-1.4 -1.4l-0.6 -1.5l0.0 -2.0l0.7 -2.5l1.9 -5.0l2.1 -2.5l0.2 -0.5l-0.1 -2.5l0.1 -1.0l0.5 -1.0l1.2 -1.5l0.1 -0.5l-0.7 -0.7l-2.5 -0.6l-1.5 -0.9l-0.9 -1.3l-0.2 -1.0l-0.0 -1.0l0.2 -1.0l0.7 -1.0l0.7 -0.7l2.3 -1.3l1.7 -2.5l1.5 -0.9l1.5 -0.1l1.5 0.6l0.9 0.9l0.5 1.0l0.6 2.5l1.2 1.5l0.8 1.5l0.2 1.5l-0.4 1.5l-1.7 2.5l0.0 0.5l2.4 1.4l2.0 2.3l0.5 -0.2l2.0 -1.8l2.0 -1.2l2.0 -1.9l1.0 -0.5l1.5 -0.3l2.0 0.5l1.3 1.2l0.9 2.0l0.1 1.5l-0.4 1.0l-0.5 0.5l-2.8 2.0l-0.4 0.5l-0.1 0.5l0.2 0.5l1.9 2.0l0.6 1.5l-0.0 1.0l-0.3 1.0l-0.7 1.0l-0.8 0.7l-1.5 0.6l-2.0 0.2l-2.0 -0.2l-1.5 -0.5l-1.9 -1.3l-1.4 -1.5l-0.8 -1.5l-0.4 -1.8l-0.5 -0.3l-3.6 2.6l-0.1 1.0l0.6 1.5l0.3 1.5l-0.3 1.5l-0.7 1.0l-1.2 0.9l-2.5 0.9l-2.5 1.4zM218.5 420.1l-2.0 -0.2l-2.5 -1.1l-3.0 -0.9l-1.0 -0.7l-0.6 -0.7l-1.1 -2.5l-0.8 -0.3l-3.0 -0.0l-2.0 1.5l-1.5 0.7l-1.5 -0.0l-1.0 -0.4l-1.4 -1.0l-1.1 -2.2l-0.5 -0.6l-3.0 -1.1l-1.1 -1.1l-0.9 -1.5l-0.5 -0.2l-2.0 1.4l-1.0 0.3l-1.0 0.1l-1.5 -0.3l-1.5 -1.0l-2.7 -2.8l-0.7 -1.0l-0.4 -1.0l-0.2 -1.0l0.2 -1.0l0.4 -1.0l1.4 -1.7l1.8 -0.8l0.6 -0.5l1.2 -1.5l2.5 -2.0l1.9 -2.3l1.5 -0.8l1.5 -0.2l1.0 0.3l1.0 0.5l1.2 1.5l0.8 4.0l0.7 1.5l0.7 2.5l0.6 0.4l2.0 0.1l1.3 -0.5l0.7 -0.6l1.5 -2.8l1.5 -1.1l1.0 -0.2l1.0 -0.0l1.0 0.2l1.0 0.5l1.1 1.5l0.3 1.0l0.0 1.0l-0.4 1.5l-1.6 2.0l-0.3 1.0l0.4 0.8l2.5 3.2l0.5 -0.3l1.6 -2.2l1.9 -1.6l2.5 -2.5l1.0 -0.5l1.0 -0.2l1.0 0.1l1.0 0.4l1.1 0.8l0.9 1.5l0.2 1.5l-0.4 2.5l1.8 3.0l0.3 1.0l0.0 1.0l-0.6 1.5l-3.3 3.5l-1.5 1.1l-1.5 0.5zM340.0 393.2l-1.0 0.2l-0.5 -0.2l-0.7 -0.7l-0.2 -1.0l0.9 -1.0l1.5 0.2l0.6 0.8l0.1 0.5l-0.1 0.5l-0.6 0.7zM236.0 422.7l-1.5 0.3l-2.5 -0.3l-3.5 0.2l-1.5 -0.6l-0.9 -0.8l-0.8 -1.5l-0.2 -1.5l1.6 -5.5l1.2 -1.5l2.1 -1.6l1.1 -2.9l0.9 -1.2l1.0 -0.6l1.0 -0.3l2.5 -0.2l0.0 -0.7l-0.4 -2.0l0.3 -1.5l0.5 -1.0l1.7 -2.0l1.8 -2.5l1.1 -0.8l4.0 -1.9l1.5 -0.3l1.5 0.3l1.1 0.7l0.9 1.5l0.1 1.5l-0.6 1.5l-0.9 1.0l-2.1 1.4l-1.8 1.6l-1.8 2.5l-0.9 0.9l-1.5 0.8l-2.5 0.1l-0.4 0.2l0.4 2.5l-0.1 1.5l-0.9 1.5l-1.9 1.5l-0.3 0.5l-0.0 0.5l0.2 0.6l1.7 1.4l0.8 1.0l0.4 1.0l0.1 1.5l-0.2 1.0l-0.6 1.0l-1.7 1.2zM311.5 399.6l-1.0 0.3l-1.0 -0.1l-1.0 -0.7l-0.4 -0.6l-0.2 -1.0l0.2 -1.0l0.4 -0.6l1.0 -0.7l1.5 -0.0l1.0 0.6l0.5 0.7l0.2 0.5l0.0 1.0l-0.5 1.0l-0.7 0.6zM335.0 401.0l-0.5 0.2l-1.0 -0.3l-0.6 -0.4l-0.5 -1.0l-0.1 -0.5l0.4 -1.0l0.8 -0.7l0.5 -0.2l1.0 0.1l0.5 0.3l0.8 1.0l0.1 1.0l-0.2 0.5l-0.7 0.8l-0.5 0.2zM385.5 427.6l-1.0 0.2l-4.0 0.2l-2.0 -0.3l-1.0 -0.6l-0.9 -1.1l-0.5 -1.0l-0.2 -1.5l0.4 -2.5l1.3 -3.5l1.3 -2.0l2.1 -2.3l1.5 -3.7l1.9 -2.5l-1.4 -2.0l-0.5 -1.0l-0.1 -1.0l0.2 -1.5l0.6 -1.0l0.8 -0.8l1.0 -0.5l1.5 -0.2l1.5 0.4l1.0 0.7l0.8 0.9l0.4 1.0l0.1 1.0l-0.2 1.0l-0.5 1.0l-1.7 2.0l0.1 0.5l1.2 1.5l0.4 1.0l0.3 2.0l-0.1 2.5l-0.4 1.5l-0.5 1.0l-1.6 2.0l-0.3 1.0l0.0 0.5l1.1 2.5l0.1 1.5l-0.3 1.0l-0.7 1.0l-0.7 0.6l-1.0 0.5zM249.5 427.6l-1.5 0.1l-1.5 -0.5l-3.5 -1.5l-1.3 -1.2l-0.6 -1.0l-0.3 -1.5l0.8 -5.5l0.4 -1.0l0.8 -1.0l2.3 -1.5l0.3 -0.5l0.3 -2.5l0.8 -1.3l1.0 -0.9l1.7 -0.8l0.6 -0.5l0.8 -2.5l0.7 -1.0l1.7 -1.0l1.0 -0.2l1.0 0.1l1.5 0.6l1.0 1.0l0.6 1.5l-0.0 1.5l-0.4 1.0l-0.7 1.0l-1.0 0.8l-2.0 1.0l-0.8 2.2l-0.7 1.3l-1.0 0.9l-1.5 0.8l-0.3 0.5l-0.1 2.0l0.1 1.0l0.3 0.5l2.0 2.0l0.5 1.0l0.2 1.0l-0.1 1.0l-0.7 1.5l-0.9 0.9l-1.5 0.7zM371.5 409.6l-1.5 -0.1l-1.5 -0.7l-0.7 -0.8l-0.7 -1.5l0.0 -1.5l0.7 -1.5l0.7 -0.7l1.5 -0.7l1.5 0.0l1.5 0.7l0.8 0.7l0.7 1.5l-0.0 1.5l-0.7 1.5l-1.3 1.2l-1.0 0.4zM312.0 410.1l-1.0 0.3l-1.5 -0.1l-1.0 -0.8l-0.7 -1.0l-0.1 -1.0l0.1 -1.0l0.7 -1.0l1.0 -0.7l1.0 -0.2l1.0 0.1l1.2 0.8l0.7 1.0l0.1 1.0l-0.1 1.0l-0.7 1.0l-0.7 0.6zM263.0 429.1l-1.5 0.1l-1.5 -0.3l-1.5 -0.7l-2.0 -1.3l-0.9 -0.9l-0.6 -1.5l-0.2 -1.0l0.3 -1.5l0.6 -1.5l1.2 -2.0l1.1 -1.1l2.0 -1.4l0.8 -2.5l0.6 -1.0l2.5 -2.0l0.8 -2.5l0.6 -1.0l1.2 -0.9l1.0 -0.4l1.0 -0.1l1.0 0.2l1.2 0.7l0.9 1.0l0.6 1.5l-0.1 1.5l-0.3 1.0l-0.8 0.9l-2.0 1.6l-0.9 2.5l-0.6 1.0l-2.5 2.0l-0.2 0.5l-0.0 1.0l1.0 3.0l0.1 2.0l-0.3 1.0l-0.7 1.0l-0.9 0.7l-1.0 0.4zM275.5 431.5l-1.5 -0.2l-1.0 -0.5l-0.9 -0.8l-0.7 -1.0l-0.7 -2.0l-0.2 -1.5l0.0 -1.5l0.3 -1.0l0.7 -1.1l1.0 -0.8l1.0 -0.5l2.0 -0.3l0.5 -0.3l0.2 -3.0l0.5 -1.0l1.3 -1.9l0.6 -2.6l0.9 -1.5l1.0 -0.8l1.0 -0.4l1.5 -0.0l1.0 0.3l1.3 0.9l0.7 1.0l0.3 1.5l-0.2 1.5l-0.5 1.0l-1.1 1.5l-0.8 3.0l-0.7 1.2l-1.5 1.1l-2.6 0.7l-0.2 0.5l0.7 4.0l-0.2 1.5l-0.4 1.0l-0.8 1.0l-1.0 0.7l-1.5 0.3zM365.5 431.2l-1.5 0.2l-1.5 -0.2l-1.5 -1.1l-1.0 -1.5l-0.5 -0.4l-0.5 0.1l-2.0 1.3l-1.0 0.4l-3.0 0.2l-3.0 1.1l-1.5 -0.0l-1.5 -0.7l-1.0 -1.1l-0.6 -1.5l0.0 -1.5l0.8 -1.5l0.8 -0.8l2.0 -1.4l1.1 -1.8l0.9 -1.0l1.0 -0.7l1.0 -0.3l2.0 0.0l2.5 0.8l1.7 1.2l1.8 2.3l0.5 -0.0l1.7 -1.8l1.7 -3.5l2.3 -3.5l1.3 -1.6l1.5 -1.2l1.0 -0.5l1.0 -0.1l1.0 0.3l1.0 0.4l0.8 0.7l0.8 1.5l0.2 1.5l-0.4 2.0l-1.0 2.0l-3.4 5.0l-2.3 4.0l-1.7 1.8l-1.5 0.9zM335.5 430.2l-1.5 0.2l-1.0 -0.1l-1.0 -0.5l-1.3 -1.3l-0.5 -1.0l-0.1 -1.5l0.2 -1.0l0.5 -1.0l0.7 -0.7l1.0 -0.6l2.5 -0.6l3.0 -1.2l1.5 0.0l1.5 0.6l1.1 1.0l0.8 1.5l0.0 2.0l-0.6 1.5l-0.9 1.0l-1.4 0.8l-2.5 0.3l-2.0 0.6zM294.5 431.6l-1.5 0.1l-1.5 -0.2l-3.7 -3.0l-0.9 -1.0l-0.6 -1.5l0.0 -1.5l0.7 -1.5l1.0 -1.0l1.0 -0.4l1.0 -0.2l2.0 0.4l1.5 1.2l2.8 3.5l0.5 1.5l-0.1 1.5l-1.0 1.5l-1.2 0.6zM309.5 428.6l-1.0 0.2l-1.0 -0.1l-1.0 -0.6l-0.8 -1.1l-0.2 -1.5l0.3 -1.0l0.7 -0.8l1.0 -0.6l1.0 -0.1l1.0 0.2l1.1 0.8l0.6 1.0l0.1 1.0l-0.2 1.0l-0.6 0.9l-1.0 0.7z" fill="#000070"/>
<path d="M57.0 329.6l-1.5 -0.3l-0.5 -0.3l-0.7 -1.0l-0.2 -1.5l0.3 -1.0l0.4 -0.5l1.7 -0.2l2.0 0.2l0.7 1.0l0.1 1.5l-0.5 1.0l-0.8 0.8l-1.0 0.3zM94.0 329.2l-1.0 0.1l-0.5 -0.2l-1.1 -1.1l-0.4 -1.5l0.2 -1.0l0.3 -0.5l1.5 -0.2l1.5 0.0l1.0 0.2l0.3 0.5l0.2 1.0l-0.1 1.0l-0.7 1.0l-1.2 0.7zM323.5 430.6l-1.5 0.2l-1.5 -0.7l-2.5 -2.6l-0.7 -1.5l-0.0 -1.0l0.3 -3.5l0.9 -3.8l0.2 -3.2l-0.3 -2.0l-0.9 -2.0l-0.2 -1.0l0.5 -2.5l-0.1 -1.0l-2.0 -3.0l-0.4 -1.0l-0.1 -1.0l0.3 -4.0l0.7 -4.0l0.7 -1.5l1.1 -1.6l0.3 -0.9l-1.1 -3.5l0.0 -4.5l0.5 -4.0l0.7 -1.5l1.6 -2.4l1.5 -4.6l-0.1 -0.5l-1.7 -1.5l-0.4 -1.0l0.1 -0.5l0.5 -1.0l0.6 -0.5l2.0 -0.1l0.6 -0.4l0.4 -1.0l0.2 -2.5l0.6 -2.0l-0.1 -3.0l0.8 -2.5l0.0 -2.5l0.3 -2.0l-0.2 -3.0l0.9 -2.5l-0.7 -3.0l0.1 -1.0l0.8 -2.0l-0.6 -3.0l0.1 -1.0l0.7 -2.0l-0.7 -2.0l-0.1 -1.5l0.8 -1.5l2.6 -0.3l1.6 0.3l0.6 1.0l0.2 1.0l-0.1 1.0l-0.7 2.0l0.7 2.0l0.1 1.5l-1.0 2.5l0.7 3.0l-0.1 1.0l-0.8 2.0l0.7 2.5l-0.2 3.0l0.2 2.5l-0.1 1.0l-0.8 2.0l-0.1 2.5l-0.6 2.0l0.2 3.0l-0.3 4.0l-1.3 4.5l-1.9 5.5l-0.8 4.5l0.3 1.6l0.5 0.4l1.5 0.4l1.0 0.6l0.7 1.0l0.2 1.0l0.0 32.0l-0.2 1.0l-0.7 0.9l-2.0 1.3l-0.6 0.8l-0.4 1.0l-0.3 2.0l0.1 5.5l-0.8 1.4l-1.0 0.7zM561.5 328.6l-1.0 0.3l-1.0 -0.0l-1.4 -0.9l-0.3 -0.5l-0.3 -1.0l0.4 -1.5l2.1 -0.3l2.5 0.3l0.4 1.0l-0.1 1.0l-0.5 1.0l-0.8 0.6zM581.5 337.1l-1.0 0.1l-1.0 -0.2l-1.3 -1.0l-0.6 -1.5l0.4 -3.0l-0.4 -0.5l-2.6 -1.0l-0.2 2.0l-0.5 1.0l-0.8 0.9l-1.5 0.4l-1.5 -0.4l-0.8 -0.9l-0.4 -1.0l0.3 -1.5l0.8 -1.0l1.1 -0.5l1.0 -0.1l2.0 0.6l0.2 -0.5l0.2 -2.0l0.5 -1.0l1.0 -1.0l0.6 -0.0l2.5 0.0l3.5 0.6l1.0 0.5l2.0 1.8l2.0 0.5l1.0 0.6l0.6 1.0l0.2 1.0l-0.3 1.0l-0.5 0.8l-1.0 0.7l-1.0 0.1l-1.0 -0.1l-1.5 -0.7l-0.5 0.1l-0.7 2.6l-0.8 1.1l-1.0 0.5zM85.5 334.6l-1.0 0.0l-1.0 -0.3l-0.8 -0.8l-1.1 -2.0l-0.6 -0.1l-0.5 0.3l-1.5 2.2l-1.0 0.6l-1.5 0.1l-2.0 -0.7l-0.5 0.1l-2.0 0.8l-1.0 0.1l-1.0 -0.6l-0.7 -0.8l-0.4 -1.0l0.1 -1.0l0.4 -1.0l0.4 -0.5l1.2 -0.6l1.0 -0.1l2.5 0.7l1.0 -0.4l1.5 -1.1l0.7 -1.5l0.8 -1.0l1.0 -0.5l1.0 -0.1l1.0 0.3l0.9 0.8l1.1 2.4l2.5 0.6l0.7 0.5l0.7 1.0l0.3 1.0l-0.1 1.0l-0.8 1.0l-1.3 0.6zM167.0 328.7l-1.0 0.0l-0.5 -0.2l-0.7 -1.0l-0.1 -1.0l0.2 -0.5l0.6 -0.6l0.5 -0.2l1.0 -0.0l0.5 0.2l0.8 1.1l-0.1 1.0l-0.2 0.4l-1.0 0.8zM453.5 328.3l-1.0 0.1l-0.5 -0.2l-0.6 -0.7l-0.1 -1.0l0.7 -0.8l1.0 -0.3l1.0 0.6l0.3 1.0l-0.1 0.5l-0.7 0.8zM122.0 331.7l-1.0 0.2l-1.4 -0.4l-0.5 -0.5l-0.6 -1.3l-0.5 -0.6l-1.0 0.8l-1.0 0.5l-1.0 0.1l-0.5 -0.2l-1.1 -1.3l-0.2 -1.0l0.3 -1.0l1.0 -1.0l1.5 -0.2l1.1 0.7l1.4 2.2l1.5 -1.1l1.0 -0.2l1.0 0.2l0.9 0.9l0.4 1.0l-0.2 1.0l-0.2 0.5l-0.9 0.7zM178.0 329.2l-1.0 -0.0l-0.5 -0.2l-0.7 -1.0l-0.1 -1.0l0.2 -0.5l0.6 -0.6l0.5 -0.2l1.0 -0.0l0.5 0.2l0.8 1.1l-0.1 1.0l-0.2 0.4l-1.0 0.8zM523.0 336.0l-1.5 0.2l-1.0 -0.3l-1.0 -0.9l-0.4 -1.0l0.2 -1.5l1.1 -2.0l-0.4 -2.0l0.0 -1.0l0.5 -1.0l0.5 -0.5l1.0 -0.4l1.0 -0.0l1.0 0.4l1.5 1.3l0.5 0.2l3.0 -0.7l1.0 -0.1l1.0 0.3l1.0 0.7l0.6 1.3l0.1 1.0l-0.4 1.0l-0.8 0.9l-1.5 0.9l-1.5 0.4l-1.5 0.1l-1.5 -0.3l-0.5 0.2l-0.8 1.8l-1.2 1.0zM146.5 329.6l-0.5 0.3l-1.0 -0.0l-0.9 -0.4l-0.4 -0.5l-0.2 -0.5l0.2 -1.0l0.8 -1.0l1.0 -0.2l0.7 0.2l0.7 0.5l0.2 0.5l0.1 1.0l-0.7 1.1zM464.5 329.8l-1.0 0.1l-0.5 -0.1l-0.8 -0.8l-0.2 -0.5l0.1 -1.0l0.2 -0.5l0.7 -0.5l0.5 -0.2l1.0 0.1l0.8 0.6l0.2 0.5l0.1 0.5l-0.2 1.0l-0.9 0.8zM497.0 335.6l-1.0 0.3l-1.0 -0.2l-0.9 -0.7l-0.5 -1.0l0.0 -1.0l0.5 -1.5l-1.0 -2.0l-0.0 -1.0l0.5 -1.0l0.9 -0.6l1.0 -0.1l0.5 0.2l0.6 0.5l0.6 1.0l-0.3 2.5l1.0 1.5l0.3 1.0l-0.2 1.0l-1.0 1.1zM554.5 332.5l-1.0 0.4l-1.0 -0.0l-1.0 -0.4l-0.6 -0.5l-0.5 -1.0l-0.1 -1.0l0.4 -1.0l0.8 -0.9l1.0 -0.5l1.0 0.0l1.0 0.4l0.9 1.0l0.3 1.0l-0.1 1.0l-0.5 1.0l-0.6 0.5zM487.5 332.5l-1.0 -0.1l-0.5 -0.4l-0.5 -0.5l-0.2 -1.0l0.2 -1.0l0.5 -0.5l1.0 -0.5l1.0 0.1l0.5 0.3l0.8 1.1l-0.0 1.0l-0.3 0.6l-0.5 0.5l-1.0 0.4zM543.0 338.5l-1.5 -0.2l-1.0 -0.6l-0.8 -1.2l-0.2 -1.0l0.2 -2.5l0.0 -2.0l0.2 -1.0l1.1 -1.3l1.5 -0.5l1.0 0.2l1.0 0.7l1.5 1.8l2.0 1.6l0.5 1.5l-0.3 1.5l-0.8 1.0l-1.9 1.2l-2.5 0.8zM107.5 333.5l-1.0 0.3l-1.5 -0.1l-1.0 -0.6l-0.5 -0.6l-0.3 -1.0l0.2 -1.0l0.6 -1.0l0.5 -0.4l1.0 -0.4l1.0 0.1l1.0 0.6l0.5 0.6l0.4 1.0l-0.0 1.0l-0.3 1.0l-0.6 0.5zM142.0 332.0l-0.5 0.3l-1.0 0.2l-1.0 -0.4l-0.5 -0.6l-0.2 -0.5l-0.0 -1.0l0.7 -1.1l0.5 -0.3l1.0 -0.1l1.0 0.4l0.5 0.6l0.2 0.5l-0.0 1.0l-0.7 1.0zM449.0 336.1l-0.5 0.2l-1.0 -0.1l-0.9 -0.7l-0.4 -1.0l0.2 -1.0l0.6 -1.0l-0.4 -1.5l0.1 -1.0l0.3 -0.6l1.0 -0.5l0.5 -0.1l1.0 0.4l0.7 0.8l0.3 1.0l-0.1 1.0l-0.5 1.0l0.2 1.5l-0.1 0.5l-0.3 0.5l-0.7 0.6zM193.0 335.8l-1.0 0.1l-0.5 -0.3l-0.6 -1.1l0.4 -1.5l-0.4 -2.0l0.2 -0.5l0.9 -0.7l1.0 0.1l0.7 0.6l0.2 0.5l-0.4 2.0l0.4 1.5l-0.4 0.9l-0.5 0.4zM84.0 352.0l-1.0 -0.2l-1.0 -0.6l-2.0 -2.7l-2.0 -0.5l-1.1 -0.5l-0.4 -0.5l-0.5 -1.0l0.1 -1.5l0.6 -1.0l1.3 -0.8l1.0 -0.0l2.0 0.7l0.6 0.1l0.5 -0.5l1.0 -2.5l0.9 -0.9l1.5 -0.6l2.7 -0.0l0.1 -3.0l0.5 -2.5l0.5 -1.0l0.7 -0.8l1.0 -0.7l1.0 -0.2l1.0 0.2l1.2 1.0l0.5 1.0l0.5 2.0l1.5 2.0l0.3 1.0l0.2 2.0l0.8 0.3l2.5 -0.1l1.0 0.4l1.4 0.9l1.0 1.0l0.5 1.0l0.4 1.5l-0.2 1.0l-0.3 0.5l-0.8 0.6l-1.5 0.5l-1.5 -0.4l-2.0 -0.8l-2.5 0.1l-1.0 -0.2l-1.0 -0.7l-0.7 -1.1l-0.0 -3.0l-0.5 -0.5l-0.9 -0.5l-2.4 -0.6l-0.1 0.6l0.1 2.0l-0.2 1.0l-0.7 1.0l-1.5 1.5l-0.2 0.5l0.1 2.5l-0.4 1.5l-1.1 1.1l-1.5 0.4zM149.5 334.5l-0.5 0.2l-1.0 0.0l-1.1 -0.7l-0.3 -0.5l-0.1 -1.0l0.5 -1.0l0.5 -0.5l0.5 -0.2l1.0 0.1l1.0 0.6l0.3 0.5l0.1 1.5l-0.9 1.0zM181.5 334.0l-1.0 0.3l-0.5 -0.1l-0.8 -0.7l-0.1 -1.0l0.2 -0.5l0.7 -0.6l1.0 -0.1l0.9 0.7l0.2 1.0l-0.6 1.0zM112.0 338.5l-1.5 0.2l-1.5 -0.7l-0.9 -1.5l-0.0 -1.0l0.2 -1.0l0.3 -0.5l0.9 -0.7l3.5 -1.5l1.5 -0.1l1.0 0.6l0.8 1.2l0.2 1.0l-0.2 1.0l-0.7 1.0l-0.6 0.5l-3.0 1.5zM65.0 337.1l-1.0 0.3l-1.0 -0.2l-1.0 -0.5l-0.5 -0.7l-0.4 -1.0l0.1 -1.0l0.5 -1.0l0.8 -0.7l1.0 -0.3l1.0 0.1l1.0 0.5l0.7 0.9l0.3 1.0l-0.1 1.0l-0.5 1.0l-0.9 0.6zM307.5 335.2l-1.0 0.0l-0.9 -0.7l-0.2 -0.5l0.2 -1.0l0.9 -0.7l1.0 0.1l0.7 0.6l0.2 0.5l-0.1 1.0l-0.8 0.7zM437.5 334.2l-0.5 0.0l-0.8 -0.7l0.1 -1.0l0.7 -0.5l0.5 0.1l0.5 0.3l0.3 0.6l-0.1 0.5l-0.7 0.7zM564.5 347.5l-1.0 0.2l-1.5 -0.4l-2.2 -1.8l-1.3 -0.6l-1.0 -0.0l-2.5 0.5l-1.0 -0.2l-1.0 -0.7l-0.6 -1.0l0.0 -1.5l0.5 -1.0l0.6 -0.5l1.0 -0.5l2.0 -0.2l0.6 -0.3l0.3 -1.0l-0.3 -2.0l0.0 -1.5l0.8 -1.5l1.1 -0.8l1.5 -0.3l1.5 0.5l1.2 1.1l1.8 2.8l0.5 0.1l1.5 -0.6l1.0 -0.2l1.5 0.3l0.7 0.6l0.6 1.0l1.4 3.5l0.2 1.0l-0.1 1.0l-0.5 1.0l-0.5 0.5l-1.3 0.6l-3.0 0.2l-1.5 1.2l-1.0 0.5zM50.0 337.6l-1.0 0.2l-1.0 -0.1l-1.0 -0.7l-0.7 -1.0l-0.1 -1.0l0.3 -1.0l0.5 -0.7l1.0 -0.7l1.0 -0.1l1.0 0.2l1.0 0.8l0.3 0.5l0.3 1.0l-0.2 1.0l-0.5 1.0l-0.9 0.6zM355.5 335.0l-0.5 0.4l-1.0 -0.1l-0.5 -0.8l0.1 -0.5l0.4 -0.5l0.5 -0.2l0.5 0.0l0.6 0.7l0.1 0.5l-0.2 0.5zM137.0 343.0l-1.5 0.2l-1.0 -0.5l-0.7 -0.7l-1.3 -2.5l-1.0 -1.0l-2.5 1.1l-1.0 0.2l-1.5 -0.1l-1.0 -0.4l-1.1 -0.8l-0.5 -1.0l-0.0 -1.0l0.3 -1.0l1.3 -1.2l2.0 -0.4l2.0 0.3l1.0 0.6l1.0 0.8l0.5 0.2l2.0 -0.7l1.5 0.2l1.2 1.2l1.8 3.5l0.0 1.0l-0.3 1.0l-0.4 0.5l-0.8 0.5zM480.0 343.6l-1.0 0.1l-1.0 -0.4l-0.7 -0.8l-0.4 -1.0l0.4 -1.5l1.1 -1.5l-1.0 -2.0l0.0 -1.0l0.6 -1.0l0.5 -0.3l1.0 -0.3l1.0 0.3l0.5 0.3l0.4 0.5l0.2 1.0l-0.2 1.0l-1.0 1.5l1.1 2.0l0.1 1.5l-0.6 1.0l-1.0 0.6zM509.5 343.5l-1.0 0.4l-1.0 0.0l-1.0 -0.4l-0.9 -1.0l-0.7 -2.5l-1.2 -2.0l-0.3 -1.0l0.4 -1.5l1.2 -1.2l1.0 -0.2l1.0 0.1l1.0 0.6l1.0 0.9l0.5 0.2l2.0 -1.0l1.5 -0.0l1.2 0.6l0.7 1.0l0.1 1.5l-0.4 1.0l-1.1 0.9l-2.0 0.7l-0.5 0.5l-0.6 1.4l-0.9 1.0zM164.5 342.6l-1.0 0.3l-1.0 -0.2l-0.8 -0.7l-0.3 -0.5l-0.1 -2.0l-0.2 -0.5l-0.9 -1.0l-0.4 -1.0l0.2 -1.0l0.5 -0.6l0.5 -0.3l0.5 -0.2l1.0 0.1l0.5 0.3l0.6 0.7l0.3 2.0l1.3 1.5l0.3 1.0l-0.1 1.0l-0.2 0.5l-0.7 0.6zM207.0 337.2l-0.5 0.1l-0.5 -0.1l-0.6 -0.7l-0.0 -1.0l0.6 -0.6l1.0 0.0l0.6 0.6l0.0 1.0l-0.6 0.7zM71.5 341.2l-1.5 0.3l-1.0 -0.4l-0.8 -0.6l-0.5 -1.0l-0.0 -1.5l0.5 -1.0l0.8 -0.6l1.5 -0.6l0.5 0.0l1.0 0.8l0.7 0.9l0.3 1.0l-0.3 1.5l-1.2 1.2zM155.0 340.2l-1.5 0.2l-0.5 -0.2l-0.8 -0.7l-0.3 -1.0l-0.0 -0.5l0.4 -1.0l0.7 -0.6l0.5 -0.2l1.0 -0.0l1.0 0.6l0.5 0.7l0.1 0.5l-0.1 1.0l-0.2 0.5l-0.8 0.7zM472.0 340.1l-0.5 0.2l-1.0 0.1l-0.8 -0.4l-0.5 -0.5l-0.3 -0.5l-0.1 -1.0l0.5 -1.0l0.7 -0.5l0.5 -0.2l1.0 0.0l1.0 0.7l0.3 0.5l0.1 1.5l-0.9 1.1zM121.0 349.0l-1.5 0.1l-1.0 -0.5l-1.0 -1.1l-0.3 -1.0l0.0 -1.0l0.9 -2.5l-1.2 -2.0l-0.2 -1.5l0.8 -1.5l0.5 -0.4l1.0 -0.4l1.5 0.3l1.2 1.0l0.4 1.5l-0.5 2.5l0.4 0.7l0.5 0.2l0.5 0.0l2.5 -1.8l1.0 -0.4l1.0 -0.0l1.5 0.6l0.8 0.7l0.6 1.0l0.2 1.0l0.0 1.0l-0.4 1.5l-0.3 0.5l-0.8 0.5l-1.1 0.4l-1.5 0.2l-3.0 -0.9l-2.5 1.3zM195.5 339.5l-0.5 -0.1l-0.7 -0.9l-0.0 -0.5l0.3 -0.5l0.9 -0.4l0.9 0.4l0.3 0.5l0.0 0.5l-0.7 0.9l-0.5 0.1zM531.5 349.1l-1.0 0.0l-1.0 -0.2l-2.0 -1.3l-0.5 -0.1l-2.0 0.9l-1.5 -0.0l-1.0 -0.4l-0.9 -1.0l-0.4 -1.0l0.0 -1.5l0.6 -1.0l1.7 -1.6l0.4 -2.9l0.6 -0.9l0.5 -0.4l1.0 -0.4l1.0 -0.0l1.4 0.7l0.8 1.5l0.0 2.0l0.3 0.4l1.0 -0.4l1.0 -2.5l0.5 -0.6l1.0 -0.7l1.5 -0.3l1.0 0.2l1.0 0.5l0.9 0.9l0.5 1.5l-0.1 1.0l-0.4 1.0l-0.9 1.0l-1.6 1.0l-0.3 0.5l-0.5 2.0l-0.6 1.0l-1.0 0.8l-1.0 0.3zM207.5 341.0l-1.0 0.4l-1.0 -0.4l-0.5 -1.0l0.0 -0.5l0.5 -0.8l1.0 -0.4l0.5 0.1l0.7 0.6l0.3 1.0l-0.5 1.0zM184.0 353.7l-1.0 0.2l-1.3 -0.4l-0.5 -0.5l-0.5 -1.0l-0.0 -2.0l-2.2 -0.1l-1.3 -0.9l-0.4 -1.5l0.7 -2.0l-2.0 -0.8l-0.8 -1.2l0.0 -1.0l0.8 -1.1l0.5 -0.3l1.0 -0.1l1.0 0.5l0.4 0.5l0.3 1.0l-0.6 2.0l1.9 0.8l0.8 0.7l0.4 1.0l0.0 1.5l0.3 0.4l2.0 -0.0l1.0 0.5l0.5 0.6l0.2 0.5l0.1 1.0l-0.5 1.0l-0.8 0.7zM465.0 350.2l-1.0 0.2l-1.0 -0.2l-0.9 -0.7l-0.4 -1.0l-0.1 -1.0l0.4 -1.5l-0.8 -2.0l-0.1 -1.0l0.4 -0.9l0.5 -0.5l1.0 -0.4l1.0 0.1l0.5 0.2l0.5 0.5l0.5 1.0l-0.2 2.5l0.9 1.5l0.2 1.0l-0.4 1.3l-1.0 0.9zM309.0 344.7l-1.5 -0.2l-0.9 -0.5l-0.4 -0.5l-0.1 -0.5l0.4 -0.8l0.5 -0.4l1.0 -0.1l1.0 0.2l1.0 0.6l0.2 0.5l-0.2 1.0l-1.0 0.7zM169.0 346.6l-1.5 0.1l-1.0 -0.6l-0.4 -0.6l-0.2 -1.5l0.6 -1.0l0.5 -0.4l1.5 -0.2l1.0 0.5l0.5 0.6l0.3 1.0l-0.2 1.0l-0.6 0.8l-0.5 0.3zM151.0 351.0l-1.5 0.1l-1.2 -0.6l-0.8 -1.0l-1.5 -2.5l-0.5 -0.5l-0.5 0.1l-1.1 0.9l-0.9 0.5l-1.0 0.1l-1.0 -0.3l-0.9 -0.8l-0.5 -1.0l-0.1 -1.0l0.4 -1.0l0.6 -0.7l1.5 -0.6l1.5 0.3l1.5 1.3l0.5 0.1l1.5 -1.1l1.0 -0.4l1.0 -0.0l1.0 0.4l1.1 1.2l1.1 2.0l0.6 1.5l-0.1 1.0l-0.4 1.0l-1.3 1.0zM455.5 346.6l-0.5 0.1l-1.0 -0.1l-0.9 -0.6l-0.3 -0.5l-0.1 -1.5l0.8 -1.0l0.5 -0.3l1.5 0.0l0.5 0.3l0.7 1.0l0.1 1.0l-0.2 0.5l-0.6 0.8l-0.5 0.3zM502.5 368.1l-1.0 0.2l-1.0 -0.1l-1.0 -0.5l-0.5 -0.5l-0.4 -0.7l-0.3 -1.0l0.4 -2.5l-0.1 -0.5l-1.6 -1.4l-1.0 -0.5l-1.9 0.4l-0.6 0.4l-0.8 2.6l-0.7 0.9l-1.0 0.6l-1.0 0.2l-1.0 -0.2l-1.0 -0.6l-0.7 -0.9l-0.3 -1.5l0.5 -1.5l1.0 -0.9l2.3 -1.1l0.9 -2.5l1.3 -1.5l0.1 -0.5l-1.2 -2.0l-0.2 -1.0l0.1 -1.0l0.7 -2.0l0.0 -0.5l-0.5 -0.2l-1.5 0.2l-1.0 -0.1l-1.0 -0.4l-0.9 -1.0l-0.3 -1.0l0.1 -1.0l0.6 -1.0l0.7 -0.5l0.8 -0.3l1.0 -0.1l1.0 0.4l1.5 1.1l0.5 0.0l2.0 -0.8l1.0 0.1l1.0 0.4l0.7 0.7l0.4 1.0l0.1 1.0l-1.1 2.5l0.0 3.0l-0.4 1.0l-1.4 1.5l-0.2 0.5l0.6 1.0l0.8 0.6l3.0 0.1l1.0 0.5l0.7 0.8l0.3 1.5l-0.2 2.0l0.3 0.5l1.6 1.5l0.6 1.5l-0.1 1.0l-0.4 1.0l-0.4 0.5l-0.9 0.6zM434.0 413.6l-1.0 0.3l-1.0 -0.1l-3.0 -1.1l-2.5 0.3l-1.0 -0.1l-1.5 -0.9l-0.7 -1.0l-0.2 -1.0l0.2 -1.5l1.0 -2.0l0.5 -2.5l0.4 -1.0l0.8 -1.0l2.5 -1.5l1.5 -2.5l1.5 -1.1l3.0 -1.3l2.0 -0.2l1.5 0.7l2.0 1.9l1.0 0.7l0.3 -0.7l0.4 -2.5l0.8 -1.6l2.0 -1.7l2.0 -1.0l1.0 -0.3l1.0 0.0l1.0 0.3l3.0 2.4l1.0 0.1l1.0 -0.3l1.6 -0.9l0.4 -0.6l0.8 -1.9l1.2 -1.3l1.0 -0.5l2.0 -0.3l3.0 -1.6l2.5 -0.2l1.0 -0.4l0.8 -1.2l0.1 -2.0l0.3 -1.0l0.8 -1.1l1.0 -0.6l1.0 -0.2l1.0 0.1l3.0 1.2l1.0 -0.2l2.0 -0.9l1.0 -0.2l1.0 0.2l2.5 1.0l3.0 -0.1l0.5 -0.3l0.2 -0.4l0.1 -1.0l-0.1 -0.5l-2.7 -1.8l-0.5 -0.7l-0.3 -1.0l0.2 -1.5l1.1 -1.4l1.5 -0.5l1.0 0.2l1.0 0.5l1.0 1.2l0.6 2.5l0.5 0.5l1.9 0.5l0.5 -0.4l-0.1 -1.6l0.3 -1.5l0.8 -1.0l1.0 -0.7l1.0 -0.1l1.0 0.1l2.0 1.2l1.0 0.3l2.5 -0.8l0.6 -0.5l1.2 -2.0l0.7 -0.6l1.5 -0.5l2.5 0.0l0.1 -2.9l0.4 -1.0l1.0 -0.9l1.0 -0.4l1.0 -0.0l2.5 0.7l2.0 -1.7l2.0 -1.1l2.0 -1.7l2.5 -1.7l0.5 -0.7l0.0 -0.5l-0.5 -2.5l0.0 -1.0l0.5 -1.2l1.0 -1.0l1.5 -0.4l1.5 0.2l3.0 1.4l2.5 1.6l0.5 -0.6l0.6 -2.0l0.9 -1.2l1.5 -0.8l2.5 -0.2l0.6 -0.3l0.6 -1.0l0.6 -3.0l0.7 -1.1l1.0 -0.7l1.5 -0.4l1.5 0.4l1.5 1.3l1.5 2.1l0.5 0.2l2.5 0.3l1.0 0.6l0.6 0.8l0.4 1.5l-0.3 1.5l-1.7 2.4l-1.1 2.1l-1.9 1.7l-1.5 0.7l-1.5 0.2l-1.5 -0.3l-3.5 -1.4l-1.1 0.1l-0.2 0.5l0.2 3.0l-0.6 2.0l-1.0 1.5l-0.9 1.0l-1.4 1.2l-1.0 0.6l-1.5 0.5l-1.5 -0.1l-1.5 -0.8l-1.6 -1.4l-0.4 -0.3l-0.5 -0.0l-3.0 1.9l-3.5 0.8l-1.9 1.1l-0.5 0.5l-0.1 0.5l0.0 2.0l-0.2 1.0l-0.8 1.0l-1.5 0.7l-1.0 0.0l-1.0 -0.3l-1.0 -0.9l-1.3 -2.5l-0.9 -0.5l-1.3 -0.3l-0.3 0.3l0.0 2.5l-0.7 1.4l-2.5 1.8l-1.3 2.3l-1.2 1.3l-1.0 0.8l-1.5 0.8l-1.5 0.1l-1.0 -0.2l-1.0 -0.5l-2.0 -1.9l-1.0 -0.5l-1.0 -0.1l-0.2 0.2l-0.1 2.5l-0.7 1.4l-1.5 1.0l-2.5 0.5l-1.0 2.1l-1.4 2.0l0.2 0.5l1.6 1.5l0.6 1.5l-0.1 1.0l-0.4 1.0l-0.5 0.5l-1.0 0.6l-1.0 0.2l-1.0 -0.2l-1.0 -0.6l-0.7 -1.0l-0.3 -1.0l0.1 -1.0l0.4 -1.0l1.2 -1.5l-0.1 -0.5l-1.4 -1.0l-1.2 -0.6l-2.2 0.1l-1.3 0.4l-1.5 0.9l-2.5 1.1l-1.5 1.6l-1.0 0.7l-1.0 0.3l-2.0 0.2l-1.0 0.7l-0.6 1.6l0.0 1.5l1.8 2.0l0.4 1.0l0.1 1.0l-0.3 1.0l-0.4 0.6l-0.5 0.5l-1.0 0.5l-1.5 -0.0l-1.2 -0.6l-1.0 -1.5l-0.6 -2.5l-1.2 -1.0l-1.0 -0.3l-0.5 0.1l-0.5 0.8l-0.4 1.9l0.2 3.0l-0.4 1.0l-0.9 0.9l-1.0 0.5l-1.5 -0.0l-1.5 -0.9l-1.5 -2.0l-1.5 -0.5l-1.4 -0.0l-0.2 0.5l0.2 2.5l-0.7 1.5l-1.4 0.9l-1.0 0.1l-2.0 -0.2l-0.5 0.5l-1.0 1.9l-1.5 1.0l-1.5 -0.0l-1.4 -0.7l-0.8 -1.0l-1.3 -2.3l-2.0 -1.6l-1.0 -0.2l-1.5 0.3l-0.7 0.8l-0.1 0.5l0.2 1.0l0.8 1.0l2.1 2.0l0.8 1.5l-0.0 1.0l-0.4 1.0l-1.2 1.1zM66.0 348.0l-1.0 0.4l-1.0 0.0l-1.0 -0.4l-0.6 -0.5l-0.5 -1.0l-0.1 -1.0l0.4 -1.0l0.8 -0.9l1.0 -0.4l1.0 -0.0l1.0 0.4l0.8 0.9l0.4 1.0l-0.1 1.0l-0.5 1.0l-0.6 0.5zM353.5 345.7l-1.0 -0.1l-0.5 -0.6l-0.1 -0.5l0.5 -1.0l0.6 -0.2l0.5 0.1l0.5 0.3l0.3 0.8l-0.1 0.5l-0.7 0.7zM582.5 349.6l-1.0 0.3l-1.0 -0.1l-1.0 -0.5l-0.7 -0.8l-0.3 -1.0l0.1 -1.0l0.6 -1.0l0.8 -0.6l1.0 -0.3l1.0 0.1l1.0 0.6l0.5 0.7l0.4 1.0l-0.1 1.0l-0.5 1.0l-0.8 0.6zM108.5 356.5l-1.5 0.2l-4.5 -0.4l-1.0 -0.4l-0.7 -0.4l-0.7 -1.0l-0.4 -1.0l-0.1 -1.0l0.4 -1.5l1.0 -1.3l1.5 -0.9l2.0 -0.3l0.5 -0.5l0.9 -1.5l1.1 -0.8l1.5 -0.2l1.5 0.4l4.0 2.7l0.9 1.4l0.4 2.0l-0.4 0.5l-0.7 0.5l-3.2 0.9l-1.5 2.0l-1.0 0.6zM507.5 357.6l-1.5 0.0l-1.5 -0.8l-0.7 -1.3l-0.0 -1.5l0.7 -1.3l1.8 -1.7l0.4 -2.5l0.6 -1.0l1.2 -0.8l1.5 0.0l1.0 0.5l0.7 0.8l0.3 1.0l-0.0 1.0l-0.5 1.0l-1.5 1.5l-0.3 0.5l0.0 2.0l-0.3 1.0l-0.8 1.0l-1.1 0.6zM128.0 384.6l-1.0 0.4l-1.5 -0.1l-1.0 -0.5l-0.7 -0.9l-0.5 -1.5l0.4 -3.0l-0.1 -1.0l-2.5 -2.0l-0.4 -1.0l-0.1 -1.0l0.4 -1.0l1.0 -0.9l3.0 -1.0l2.0 -1.5l2.5 -1.2l0.4 -0.4l-0.1 -0.5l-2.3 -3.5l-2.5 -1.8l-1.0 -0.4l-1.0 0.2l-0.5 0.5l-1.4 2.5l-1.6 1.3l-2.0 0.2l-1.0 -0.2l-1.0 -0.6l-0.8 -1.2l-0.4 -1.0l-0.1 -1.0l0.2 -1.0l0.9 -1.5l2.1 -1.5l0.4 -0.5l0.0 -0.5l-2.0 -2.5l-0.4 -2.0l0.1 -0.5l1.0 -0.7l1.5 -0.5l1.0 0.0l1.0 0.6l0.5 0.6l1.0 2.4l0.5 0.5l1.7 0.6l1.3 0.0l2.5 -1.0l0.5 -0.5l1.5 -3.0l0.6 -2.5l0.4 -1.0l1.0 -0.5l1.5 -0.2l1.5 0.7l0.8 1.0l0.5 3.0l0.6 1.5l0.1 1.0l-0.2 1.0l-0.9 1.5l-0.9 0.8l-2.0 1.3l-0.2 0.4l0.0 1.0l0.7 0.8l1.0 0.7l3.0 1.1l1.0 0.7l0.7 0.7l1.3 2.2l2.0 1.0l1.0 0.8l0.6 1.0l0.1 1.5l-0.4 1.0l-0.8 0.9l-1.0 0.5l-1.0 0.0l-1.5 -0.5l-1.7 -1.9l-0.8 -0.4l-1.5 -0.0l-1.0 0.4l-0.7 2.5l-0.7 1.0l-1.6 1.5l-0.3 0.5l-0.3 3.0l-0.6 2.5l-0.7 1.5l-1.1 1.1zM190.5 352.1l-0.5 0.1l-1.0 -0.3l-0.5 -0.4l-0.6 -1.0l-0.0 -0.5l0.2 -1.0l0.4 -0.5l1.0 -0.5l0.5 -0.1l1.0 0.3l0.5 0.3l0.6 1.0l0.0 0.5l-0.2 1.0l-0.4 0.5l-1.0 0.6zM448.0 355.5l-1.0 0.1l-1.0 -0.4l-0.7 -0.7l-0.4 -1.5l1.1 -4.0l1.0 -1.0l1.0 -0.2l1.0 0.2l0.5 0.4l0.5 0.6l0.3 1.0l-0.7 4.0l-0.6 0.9l-1.0 0.6zM440.5 353.6l-1.0 0.1l-1.0 -0.4l-0.8 -0.8l-0.4 -1.0l-0.0 -1.0l0.4 -1.0l1.3 -0.9l1.0 -0.1l1.0 0.3l0.8 0.7l0.5 1.0l0.1 1.0l-0.4 1.0l-0.5 0.6l-1.0 0.5zM517.5 358.6l-1.5 0.4l-1.5 -0.4l-1.1 -1.1l-0.4 -1.5l0.1 -1.0l0.9 -2.0l-0.1 -2.5l0.3 -1.0l1.0 -1.0l1.3 -0.5l1.0 0.1l1.0 0.6l0.6 0.8l0.3 1.0l-0.1 1.0l-0.6 2.0l0.3 3.0l-0.5 1.1l-1.0 1.0zM164.0 360.5l-1.5 -0.1l-1.0 -0.6l-0.8 -1.3l-0.5 -2.0l-0.7 -0.8l-3.0 0.1l-1.4 -0.8l-0.3 -0.5l-0.4 -1.0l0.1 -1.0l0.5 -1.0l1.0 -0.8l1.5 -0.2l1.0 0.3l1.5 0.9l3.0 -0.4l1.5 0.8l0.8 1.4l0.8 4.5l-0.2 1.0l-0.4 0.5l-0.5 0.5l-1.0 0.5zM311.0 353.6l-0.5 -0.1l-1.0 -0.7l-1.0 -0.3l-0.5 -0.3l-0.3 -0.7l0.3 -0.5l0.5 -0.3l1.5 0.3l1.0 -0.2l1.0 0.5l0.3 0.7l-0.0 0.5l-0.3 0.5l-1.0 0.6zM481.5 362.6l-1.5 0.1l-1.0 -0.3l-0.5 -0.5l-0.4 -0.9l-0.1 -1.0l0.2 -1.0l0.8 -1.2l0.9 -0.8l0.1 -0.5l-3.0 -1.6l-2.0 0.9l-1.0 0.2l-1.0 -0.2l-1.1 -0.8l-0.5 -1.0l-0.1 -1.0l0.4 -1.0l0.8 -0.9l1.0 -0.4l1.0 -0.0l2.5 1.1l2.0 -1.0l1.0 -0.2l1.0 0.2l1.0 0.7l0.6 1.0l-0.0 1.5l-0.6 1.2l-1.4 1.3l1.4 1.1l0.9 0.9l0.5 1.5l-0.5 1.5l-0.4 0.5l-1.0 0.6zM146.0 365.5l-1.0 0.1l-1.0 -0.3l-0.9 -0.8l-0.6 -1.0l-0.1 -1.5l0.8 -2.5l-0.2 -2.2l-0.5 -0.4l-2.0 0.1l-1.0 -0.3l-1.1 -0.7l-0.8 -1.0l-0.3 -1.0l0.4 -1.0l0.7 -1.0l1.1 -0.8l1.5 -0.2l1.0 0.2l1.3 1.3l0.9 2.5l2.8 0.3l1.1 0.7l0.6 1.0l0.2 1.5l-0.4 2.0l-0.2 3.0l-0.8 1.2l-1.5 0.8zM432.5 360.7l-1.0 0.1l-1.0 -0.4l-0.7 -0.9l-0.2 -1.0l0.4 -1.0l1.1 -1.5l-0.5 -1.5l-0.0 -1.0l0.2 -0.5l0.7 -0.8l1.0 -0.2l1.3 0.5l0.4 0.5l0.3 1.0l-0.3 1.0l-1.0 1.5l0.7 1.5l-0.1 1.5l-0.3 0.5l-1.0 0.7zM80.0 358.1l-1.0 0.0l-1.0 -0.3l-0.8 -0.8l-0.4 -1.0l-0.0 -1.0l0.4 -1.0l0.8 -0.8l1.0 -0.4l1.0 0.0l1.0 0.5l0.7 0.7l0.3 1.0l0.0 1.0l-0.4 1.0l-0.6 0.6l-1.0 0.5zM94.0 358.1l-1.0 0.1l-1.0 -0.3l-0.6 -0.4l-0.7 -1.0l-0.2 -1.0l0.2 -1.0l0.8 -1.1l1.0 -0.5l1.0 -0.1l1.0 0.4l0.9 0.8l0.5 1.0l0.0 1.0l-0.2 1.0l-0.7 0.7l-1.0 0.4zM206.5 356.7l-1.5 0.0l-1.0 -0.7l-0.3 -0.5l0.1 -1.5l0.3 -0.5l0.9 -0.7l1.0 -0.1l0.5 0.1l0.5 0.3l0.6 0.9l0.2 0.5l-0.1 1.0l-0.7 0.9l-0.5 0.3zM342.0 353.6l-0.6 -0.6l0.6 -0.4l0.4 0.4l-0.4 0.6zM199.0 359.1l-1.0 0.3l-1.0 -0.1l-3.5 -1.8l-0.6 -0.5l-0.4 -1.0l-0.0 -1.0l0.5 -1.0l1.0 -0.7l1.0 -0.1l1.0 0.3l3.0 1.6l0.9 0.9l0.2 1.0l-0.2 1.0l-0.9 1.1zM352.5 355.8l-1.0 0.0l-0.8 -0.8l0.0 -1.0l0.8 -0.7l1.0 -0.0l0.8 0.7l-0.0 1.0l-0.8 0.8zM423.0 358.0l-1.0 -0.4l-0.6 -1.1l0.2 -1.0l0.4 -0.5l1.0 -0.4l1.2 0.4l0.4 0.5l0.2 1.0l-0.1 0.5l-0.7 0.8l-1.0 0.2zM561.5 361.1l-1.5 0.0l-1.0 -0.3l-1.1 -0.8l-0.7 -1.5l0.1 -1.5l0.5 -1.0l1.2 -1.0l1.0 -0.3l1.5 -0.1l1.0 0.4l1.0 0.7l0.8 1.3l-0.0 1.5l-0.4 1.0l-0.9 0.9l-1.5 0.7zM318.0 363.1l-0.5 0.2l-1.0 -0.2l-0.8 -0.6l-0.3 -1.0l0.2 -1.0l1.2 -1.5l-0.9 -1.5l0.0 -1.0l0.6 -0.8l1.0 -0.5l1.0 0.2l0.5 0.4l0.5 0.7l0.0 0.5l-0.2 1.0l-1.1 1.0l-0.1 0.5l0.7 1.0l0.2 1.0l-0.3 1.0l-0.7 0.6zM99.5 362.2l-1.0 0.1l-1.0 -0.4l-0.8 -0.9l-0.4 -1.0l-0.1 -1.0l0.3 -1.0l1.0 -0.8l1.0 -0.3l1.0 -0.1l1.0 0.3l0.8 0.9l0.4 1.0l-0.1 1.0l-0.4 1.0l-0.7 0.8l-1.0 0.4zM464.5 362.6l-1.5 -0.1l-2.0 -1.0l-2.5 1.1l-1.5 -0.2l-0.8 -0.4l-0.7 -1.0l-0.2 -1.0l0.2 -1.0l0.7 -1.0l1.3 -0.7l1.5 0.2l2.0 0.9l2.5 -1.1l1.5 0.2l1.2 1.0l0.5 1.5l-0.2 1.0l-0.5 0.7l-0.5 0.5l-1.0 0.4zM177.5 365.2l-1.5 0.0l-1.0 -0.5l-1.5 -1.3l-2.0 -0.5l-1.0 -0.4l-0.8 -1.0l-0.4 -1.0l0.1 -1.0l0.5 -1.0l1.1 -0.7l1.5 -0.2l1.0 0.4l1.8 1.5l2.2 0.6l1.0 0.6l0.6 0.8l0.3 1.5l-0.8 1.5l-1.1 0.7zM221.5 366.0l-1.0 0.0l-1.0 -0.5l-2.4 -2.5l-0.3 -1.0l0.4 -1.5l1.6 -2.0l1.2 -0.8l1.0 0.1l0.5 0.2l0.5 0.6l0.3 0.9l-0.4 2.0l0.1 0.5l0.8 1.5l0.1 1.0l-0.5 1.0l-0.9 0.5zM312.5 361.2l-1.0 0.1l-0.5 -0.2l-0.5 -0.6l-0.2 -1.0l0.7 -0.9l1.0 -0.3l0.5 0.2l0.6 0.5l0.2 1.0l-0.1 0.5l-0.7 0.7zM211.5 363.0l-1.0 0.3l-1.0 -0.2l-0.5 -0.3l-0.7 -0.8l-0.2 -1.0l0.2 -1.0l0.7 -0.8l0.5 -0.3l1.5 -0.1l1.0 0.5l0.5 0.7l0.2 1.5l-0.6 1.0l-0.6 0.5zM157.5 398.2l-1.0 0.2l-1.0 -0.1l-0.8 -0.3l-0.7 -0.6l-0.7 -1.4l-0.4 -2.5l-1.4 -1.9l-0.5 -1.1l0.2 -1.5l0.8 -1.3l2.0 -1.4l2.0 -1.8l3.0 -1.3l0.9 -3.2l-0.1 -1.0l-0.6 -2.0l-0.4 -3.0l-2.8 -1.2l-0.8 -0.8l-0.2 -0.5l-0.1 -1.0l0.1 -1.0l1.1 -2.5l-2.1 -0.7l-1.0 -0.5l-0.7 -0.8l-0.5 -1.0l0.1 -1.5l0.6 -1.0l1.0 -0.8l1.0 -0.3l1.0 0.0l1.0 0.5l0.6 0.6l1.4 1.8l3.0 -0.3l1.0 0.4l0.9 1.1l0.3 1.0l-0.3 1.5l-1.9 2.0l-0.3 0.5l-0.1 1.5l0.4 0.6l3.5 0.8l0.5 -0.2l0.8 -1.7l0.7 -0.9l1.0 -0.5l1.0 -0.1l1.0 0.2l2.0 1.3l0.5 0.1l2.0 -0.5l1.5 0.1l1.1 0.8l0.7 1.5l-0.3 1.5l-1.2 2.0l-0.9 3.0l-0.9 1.0l-1.5 0.8l-1.0 0.1l-1.0 -0.1l-1.5 -0.8l-1.1 -1.5l-0.9 -3.0l-0.5 -0.3l-0.5 0.4l-1.1 3.4l-0.1 1.0l0.7 3.9l1.8 1.6l0.8 1.5l0.1 1.0l-0.3 1.0l-0.4 0.7l-1.0 0.7l-1.0 0.3l-1.0 -0.1l-1.5 -0.9l-0.6 -0.7l-0.9 -1.9l-0.5 0.1l-1.3 1.8l-2.0 1.5l-0.7 1.0l0.3 1.0l1.1 1.5l0.4 1.5l-0.4 1.5l-0.4 0.5l-1.0 0.7zM352.0 364.7l-1.0 0.1l-0.9 -0.8l-0.1 -1.0l0.2 -0.5l0.8 -0.5l1.0 0.0l0.8 1.0l-0.1 1.0l-0.7 0.7zM339.0 363.5l-0.5 0.0l-0.5 -0.5l0.0 -0.5l0.5 -0.4l0.5 0.1l0.4 0.3l0.0 0.5l-0.4 0.5zM96.0 368.2l-1.0 0.2l-1.0 -0.3l-0.9 -0.6l-0.5 -1.0l-0.2 -1.0l0.3 -1.0l0.8 -1.0l1.0 -0.4l1.0 -0.1l1.0 0.2l0.8 0.8l0.4 1.0l0.1 1.0l-0.4 1.0l-0.4 0.6l-1.0 0.6zM475.5 372.6l-1.5 0.4l-1.5 -0.4l-1.2 -1.1l-0.8 -1.7l-0.5 -0.1l-2.5 1.3l-1.0 -0.1l-0.5 -0.2l-0.7 -0.7l-0.6 -1.0l-0.0 -1.5l0.4 -1.0l0.4 -0.5l1.0 -0.6l1.5 0.0l1.1 0.6l1.4 2.0l0.5 0.2l1.5 -1.3l1.1 -2.9l0.9 -0.9l1.5 -0.5l1.5 0.3l0.5 0.3l0.5 0.8l0.3 1.0l0.0 1.0l-0.4 1.0l-1.0 1.5l-0.8 3.0l-1.1 1.1zM109.5 368.0l-1.5 0.4l-1.0 -0.1l-1.0 -0.5l-0.5 -0.5l-0.4 -0.8l-0.2 -1.0l0.3 -1.0l0.8 -1.0l1.0 -0.4l1.0 -0.1l1.0 0.4l0.7 0.6l0.6 1.5l0.2 2.0l-1.0 0.5zM446.5 370.6l-1.0 0.0l-1.0 -0.3l-1.5 -1.0l-2.0 -0.8l-1.0 -0.8l-0.5 -0.7l-0.2 -1.0l0.2 -1.0l0.7 -1.0l1.3 -0.7l1.5 0.2l2.0 1.1l2.0 0.8l1.0 0.8l0.6 1.3l-0.1 1.5l-0.7 1.0l-1.3 0.6zM192.0 369.7l-1.5 0.3l-1.0 -0.3l-1.5 -0.8l-0.5 -0.1l-2.0 0.4l-1.5 -0.4l-0.5 -0.3l-0.7 -1.0l-0.2 -1.0l0.2 -1.0l0.7 -1.0l1.5 -0.7l1.0 0.1l2.5 1.1l2.0 -0.4l1.5 0.3l1.1 1.1l0.4 1.5l-0.5 1.3l-1.0 0.9zM543.5 371.2l-1.5 0.2l-1.5 -0.4l-1.0 -0.8l-0.8 -1.2l-0.3 -1.5l0.3 -1.5l0.6 -1.0l1.2 -0.9l1.5 -0.3l1.5 0.2l1.5 1.0l0.7 1.0l0.4 1.5l-0.3 1.5l-0.8 1.2l-1.5 1.0zM484.0 370.5l-1.0 0.3l-1.0 -0.2l-1.0 -0.5l-0.5 -0.6l-0.5 -1.0l-0.1 -1.0l0.4 -1.0l0.7 -0.7l1.0 -0.4l1.0 -0.1l1.0 0.3l0.9 0.9l0.4 1.0l0.1 1.0l-0.4 1.0l-1.0 1.0zM111.0 377.1l-1.5 -0.3l-0.8 -0.8l-0.5 -1.0l0.1 -1.5l1.8 -2.5l0.1 -3.0l0.3 -0.5l2.0 -0.6l1.5 0.1l1.0 0.6l0.6 0.9l0.2 1.0l-0.2 1.0l-1.8 2.5l-0.4 2.0l-0.5 1.0l-0.9 0.8l-1.0 0.3zM206.0 377.6l-1.0 0.2l-1.0 -0.1l-1.0 -0.6l-1.5 -1.4l-2.0 0.6l-1.0 0.1l-1.0 -0.3l-0.8 -0.6l-0.7 -1.0l-0.1 -1.5l0.5 -1.5l1.1 -1.6l1.5 -1.1l1.0 -0.3l1.5 0.3l1.5 0.8l3.0 -0.3l1.5 0.7l0.5 0.6l0.4 0.9l-0.0 2.0l-0.8 2.5l-0.8 1.0l-0.8 0.6zM433.5 378.5l-1.0 0.3l-1.0 -0.2l-1.5 -0.9l-1.5 -1.9l-0.5 -0.2l-2.5 -0.1l-1.5 -0.9l-0.7 -1.1l-0.3 -1.5l0.3 -1.5l0.7 -1.1l1.0 -0.8l1.5 -0.3l1.0 0.2l2.0 1.0l2.0 -0.3l1.0 0.1l1.5 0.9l0.8 1.3l0.3 1.0l0.4 3.0l-0.1 1.0l-0.5 1.0l-1.4 1.0zM337.5 373.2l-1.0 -0.0l-0.5 -0.3l-0.8 -0.9l-0.1 -1.0l0.1 -0.5l0.8 -0.8l1.5 -0.1l0.5 0.2l0.7 0.7l0.2 0.5l-0.1 1.0l-0.3 0.5l-1.0 0.7zM351.5 373.1l-1.0 0.1l-0.5 -0.2l-0.6 -0.5l-0.2 -1.0l0.2 -0.5l0.6 -0.7l0.5 -0.2l1.0 0.1l0.7 0.8l0.2 1.0l-0.2 0.5l-0.7 0.6zM459.0 379.5l-1.0 0.2l-1.0 -0.2l-2.5 -1.6l-2.0 -0.5l-1.0 -0.7l-0.6 -0.7l-0.3 -1.0l0.1 -1.0l0.5 -1.0l1.3 -0.9l1.0 -0.1l1.0 0.2l2.0 1.0l1.0 -0.1l0.5 -0.4l1.5 -2.0l1.0 -0.6l1.0 -0.1l1.5 0.5l1.5 1.1l2.5 0.5l1.4 1.4l0.5 1.0l0.0 1.5l-0.4 1.0l-1.0 0.9l-1.0 0.3l-1.0 0.0l-1.0 -0.3l-2.0 -1.4l-0.5 0.0l-0.5 0.4l-1.5 2.0l-1.0 0.6zM142.5 392.1l-1.5 0.2l-1.0 -0.3l-1.0 -0.6l-1.0 -1.4l-0.6 -2.0l-0.3 -2.5l-0.9 -2.5l-0.1 -1.0l0.2 -1.0l1.2 -1.4l6.5 -3.9l2.0 -2.7l1.0 -0.8l1.0 -0.4l1.5 -0.3l1.5 0.2l1.0 0.3l1.4 1.0l0.5 1.0l0.1 1.5l-0.3 1.0l-1.2 1.5l-3.5 2.7l-1.0 0.6l-3.0 1.2l-1.4 1.0l-0.2 1.0l1.1 2.5l0.2 2.0l-0.2 1.0l-0.6 1.0l-1.4 1.1zM216.5 380.2l-1.5 0.2l-1.0 -0.1l-1.0 -0.6l-1.1 -1.2l-0.5 -1.5l-0.1 -1.0l0.5 -1.5l0.9 -1.0l1.3 -0.6l2.0 -0.2l1.0 0.2l2.5 1.0l2.5 0.2l1.4 0.9l0.5 1.0l0.1 1.0l-0.3 1.0l-0.7 0.8l-1.5 0.6l-2.5 -0.3l-2.5 1.1zM527.5 380.1l-1.5 0.3l-1.5 -0.4l-1.4 -1.0l-0.6 -1.0l-0.3 -1.5l0.4 -1.5l0.7 -1.0l1.2 -0.8l1.5 -0.4l1.5 0.3l1.4 0.9l0.7 1.0l0.3 1.5l-0.2 1.5l-0.7 1.0l-1.5 1.1zM415.5 383.1l-1.5 0.2l-1.0 -0.5l-1.0 -1.3l-0.5 -2.2l-0.3 -0.3l-1.7 -0.6l-1.0 -0.9l-0.5 -1.0l-0.0 -1.0l0.3 -1.0l0.7 -0.7l1.0 -0.5l1.0 -0.1l1.0 0.4l1.5 1.3l0.5 0.2l2.0 -1.0l1.0 -0.1l1.0 0.3l1.0 0.8l0.6 1.4l-0.3 1.5l-1.5 2.0l-1.0 2.0l-1.3 1.1zM173.0 403.0l-1.0 0.2l-1.5 -0.3l-3.3 -2.4l-0.8 -1.0l-0.4 -1.0l-0.1 -1.0l0.3 -1.0l0.6 -1.0l1.5 -1.5l1.2 -2.0l1.0 -0.8l1.4 -0.7l0.3 -0.5l-0.3 -3.0l0.2 -1.0l0.6 -1.0l0.8 -0.7l1.0 -0.5l2.5 -0.1l0.3 -0.2l-0.3 -2.0l0.4 -1.5l3.6 -4.3l1.5 -0.6l1.0 -0.0l1.0 0.2l1.5 1.1l0.8 1.1l0.8 2.5l1.4 3.0l0.1 1.0l-0.2 1.0l-0.8 1.0l-0.6 0.4l-1.5 0.4l-1.5 -0.5l-1.9 -1.8l-0.6 -0.4l-3.7 0.4l0.1 0.5l1.2 2.5l0.8 3.0l1.5 2.5l0.1 1.0l-0.2 1.0l-0.8 1.1l-1.5 0.7l-1.5 -0.1l-2.0 -1.1l-0.5 -0.2l-0.5 0.3l-0.5 0.7l-0.2 0.6l0.7 2.5l-0.1 1.5l-0.9 1.4l-1.0 0.6zM350.5 380.3l-1.0 0.1l-0.5 -0.2l-0.7 -0.7l-0.5 -1.0l0.0 -1.0l0.2 -0.5l0.5 -0.6l0.5 -0.3l0.5 -0.1l1.0 0.2l0.8 0.8l0.3 0.5l0.0 1.5l-0.6 1.0l-0.5 0.3zM234.0 387.0l-1.5 0.2l-1.0 -0.5l-0.8 -0.7l-1.1 -2.0l-2.1 -1.5l-0.8 -1.0l-0.5 -1.5l-0.0 -1.5l0.5 -1.0l0.8 -0.8l1.0 -0.5l1.5 0.1l1.4 0.7l1.6 1.6l0.5 0.2l2.5 -0.0l1.0 0.4l0.7 0.8l0.4 1.5l-0.5 1.5l-2.2 3.0l-1.4 1.0zM444.0 386.7l-1.0 0.3l-1.5 -0.1l-1.7 -0.9l-0.8 -1.0l-0.4 -1.0l0.1 -2.0l0.9 -1.5l0.9 -0.6l2.0 -1.0l1.4 -1.9l0.6 -0.5l1.0 -0.4l1.5 0.1l1.0 0.6l1.5 1.5l1.5 1.1l1.0 1.0l0.7 1.6l-0.0 1.5l-0.4 1.0l-0.8 1.0l-1.5 0.8l-1.5 0.1l-2.5 -0.5l-2.0 0.8zM335.0 381.2l-1.0 0.1l-0.5 -0.3l-0.6 -1.0l0.2 -1.0l0.9 -0.7l1.0 0.1l0.7 0.6l0.2 0.5l-0.1 1.0l-0.8 0.7zM434.5 391.0l-1.5 0.2l-1.0 -0.2l-1.0 -0.8l-1.5 -1.7l-0.5 -0.0l-1.4 1.5l-1.1 0.7l-1.0 0.2l-1.0 -0.2l-1.0 -0.5l-0.6 -0.7l-0.5 -1.5l0.1 -1.0l0.5 -0.9l0.6 -0.6l2.4 -1.1l0.5 -0.6l0.8 -1.8l0.7 -0.8l1.0 -0.6l1.0 -0.2l1.5 0.2l1.0 0.7l0.6 0.7l0.9 2.5l1.7 2.0l0.5 1.0l0.1 1.0l-0.3 1.0l-0.5 0.8l-1.0 0.7zM197.5 389.1l-1.0 -0.0l-1.0 -0.4l-1.0 -1.2l-0.4 -1.0l0.1 -1.0l0.8 -1.5l1.5 -0.8l2.5 -0.1l2.0 -1.5l1.0 -0.4l1.5 0.1l1.0 0.7l0.6 1.0l0.1 1.0l-0.3 1.0l-0.4 0.6l-1.0 0.7l-3.0 0.6l-1.5 1.6l-1.5 0.6zM506.0 387.6l-1.0 0.1l-1.0 -0.3l-1.0 -0.8l-0.6 -1.1l-0.1 -1.0l0.5 -1.5l0.7 -0.9l1.0 -0.4l1.5 0.0l1.0 0.5l0.8 0.8l0.4 1.0l-0.0 1.5l-0.5 1.0l-0.7 0.6l-1.0 0.5zM348.5 388.0l-0.5 0.1l-1.0 -0.3l-1.0 -0.8l-0.4 -1.0l0.1 -1.0l0.3 -0.7l0.5 -0.6l1.0 -0.5l1.0 0.0l0.7 0.3l0.6 0.5l0.5 1.0l0.1 1.0l-0.4 1.0l-0.5 0.5l-1.0 0.5zM217.0 396.1l-2.0 -0.0l-3.5 -0.9l-1.4 -1.2l-0.4 -1.0l0.0 -1.0l0.3 -1.0l1.0 -1.1l1.0 -0.5l2.5 -0.5l1.3 -1.9l0.7 -0.7l1.0 -0.5l1.0 0.0l1.0 0.4l0.8 0.8l0.4 1.0l0.1 1.0l-0.9 2.5l-0.3 2.0l-0.3 1.0l-0.9 1.0l-1.4 0.6zM312.5 389.8l-1.0 0.1l-0.5 -0.1l-0.8 -0.8l-0.2 -1.0l0.1 -0.5l0.2 -0.5l0.7 -0.5l0.5 -0.2l1.0 0.1l0.8 0.6l0.2 0.5l0.1 0.5l-0.2 1.0l-0.9 0.8zM419.0 396.6l-1.0 0.4l-1.5 -0.2l-1.0 -0.5l-1.5 -1.2l-0.5 -0.0l-2.5 0.6l-1.5 -0.3l-1.0 -0.9l-0.5 -1.0l-0.1 -1.0l0.3 -1.0l0.8 -1.1l2.0 -1.4l1.0 -1.5l1.0 -1.0l1.0 -0.4l1.5 0.2l1.3 1.2l0.3 1.0l0.3 1.5l0.3 0.5l1.8 1.3l0.8 1.2l0.2 1.0l-0.2 1.0l-0.6 1.0l-0.7 0.6zM232.5 395.1l-1.0 0.0l-1.5 -0.4l-0.4 -0.7l-0.2 -1.0l0.1 -1.0l0.5 -1.1l1.0 -0.9l1.0 -0.3l1.0 0.1l1.0 0.6l0.5 0.6l0.3 1.0l0.0 1.0l-0.5 1.0l-0.8 0.8l-1.0 0.3zM345.5 415.2l-1.0 0.2l-1.0 -0.1l-1.5 -0.8l-0.8 -1.0l-0.3 -1.0l-0.2 -2.0l0.7 -2.0l1.4 -2.0l-0.3 -3.0l0.9 -3.0l-0.2 -3.0l0.4 -1.0l1.2 -1.5l0.2 -0.5l-0.1 -2.5l0.5 -1.0l0.6 -0.6l1.5 -0.5l1.0 0.2l0.9 0.9l0.5 1.0l-0.0 1.0l-1.2 2.5l0.5 2.5l-0.1 1.0l-0.7 2.0l0.1 2.5l-0.1 1.0l-1.4 2.5l0.0 0.5l0.9 3.0l-0.2 2.0l-0.7 1.5l-0.5 0.6l-1.0 0.6zM395.5 424.0l-1.5 -0.1l-1.3 -0.9l-0.8 -1.5l-0.0 -2.0l0.4 -1.5l2.2 -5.5l0.7 -1.0l1.7 -1.5l0.2 -0.5l-0.4 -2.5l0.2 -1.5l1.1 -1.4l2.1 -1.1l-2.2 -2.0l-2.9 -0.6l-1.0 -0.5l-1.0 -1.4l-0.2 -1.5l0.4 -1.0l0.8 -0.9l2.5 -1.1l0.4 -0.5l0.6 -1.5l0.7 -1.0l1.3 -0.6l1.0 -0.0l1.0 0.4l0.7 0.7l0.5 1.0l0.2 2.0l2.0 2.5l0.5 1.5l-0.2 1.5l-0.7 1.2l-1.5 1.2l-1.6 0.6l-0.2 0.5l1.3 0.8l2.5 0.8l1.0 0.6l0.9 1.3l0.3 1.5l-0.5 1.5l-1.1 1.5l-1.6 1.4l-2.0 1.3l-0.6 0.8l0.2 1.0l0.9 1.5l0.3 1.0l-0.0 1.0l-0.4 1.0l-1.4 1.2l-2.5 0.8l-2.0 1.2l-1.0 0.3zM339.5 393.1l-1.0 -0.3l-0.7 -0.8l0.1 -0.5l0.6 -0.8l1.0 -0.0l0.9 0.8l-0.1 1.0l-0.8 0.6zM201.5 414.7l-1.5 0.3l-1.4 -0.5l-1.0 -1.0l-0.8 -2.5l-0.3 -0.4l-2.5 -0.3l-1.5 -1.0l-0.8 -1.3l-0.1 -1.0l0.3 -1.0l0.9 -2.0l-0.4 -0.5l-1.9 -1.2l-1.0 -0.3l-0.5 0.1l-0.6 0.4l0.0 0.5l0.7 2.0l-0.0 1.5l-0.6 1.0l-0.5 0.5l-1.5 0.7l-1.0 -0.1l-1.5 -0.7l-2.9 -2.9l-0.7 -1.0l-0.4 -1.0l0.0 -1.0l0.8 -1.5l0.7 -0.7l2.5 -1.1l1.5 -2.2l2.1 -1.5l1.9 -2.5l1.0 -0.6l1.0 -0.2l1.0 0.1l1.0 0.6l0.9 1.1l0.2 1.0l0.2 2.5l1.2 2.5l0.2 1.0l-0.2 1.5l0.1 0.5l0.9 0.1l3.0 -0.2l1.6 -0.4l1.3 -1.0l0.8 -2.0l0.8 -1.0l1.5 -0.8l1.0 0.0l1.0 0.4l0.5 0.4l0.8 1.0l0.2 1.5l-0.3 1.0l-2.2 2.5l-0.2 1.0l0.4 1.0l1.5 1.5l0.6 1.0l0.3 1.5l-0.3 1.5l-0.8 0.6l-1.5 0.5l-3.0 -0.2l-1.5 1.6l-1.0 0.7zM241.0 404.7l-1.0 0.1l-1.0 -0.1l-1.0 -0.7l-0.4 -0.5l-0.4 -1.0l-0.1 -1.0l0.6 -1.5l1.8 -2.0l1.2 -2.0l0.8 -0.7l4.5 -2.3l1.5 -0.1l1.0 0.3l0.8 0.8l0.4 1.0l0.0 1.0l-0.4 1.0l-0.8 0.9l-2.0 1.2l-2.1 1.9l-1.9 2.7l-1.5 1.0zM227.0 400.1l-1.0 -0.1l-1.1 -0.5l-0.8 -1.0l-0.4 -1.0l0.2 -1.5l0.6 -0.9l1.0 -0.7l1.0 -0.3l1.5 0.2l1.0 0.4l0.5 0.5l0.2 1.3l-0.1 1.5l-0.6 1.0l-1.0 0.8l-1.0 0.3zM311.0 399.2l-1.0 0.1l-0.5 -0.1l-0.7 -0.7l-0.3 -0.5l0.0 -1.0l0.3 -0.5l0.7 -0.7l0.5 -0.1l1.0 0.1l0.8 0.7l0.3 0.5l0.0 0.5l-0.3 1.0l-0.8 0.7zM335.0 400.7l-1.0 0.1l-1.1 -0.8l-0.2 -1.0l0.1 -0.5l0.7 -0.8l0.5 -0.2l1.0 0.1l0.9 0.9l0.1 1.0l-0.2 0.5l-0.8 0.7zM387.5 405.7l-1.0 0.3l-1.0 -0.1l-1.3 -0.9l-0.7 -1.0l-0.2 -1.0l0.1 -1.0l0.6 -1.0l1.0 -0.8l1.5 -0.3l1.0 0.3l1.0 0.7l0.4 0.6l0.4 1.0l-0.2 1.5l-0.7 1.0l-0.9 0.7zM443.6 403.0l0.4 -0.5l-0.0 -1.0l-0.5 -0.6l-1.0 -0.5l-0.2 0.6l0.2 1.0l0.5 0.8l0.6 0.2zM416.5 418.6l-1.5 0.1l-1.5 -0.1l-2.0 -0.7l-1.5 -1.2l-1.0 -1.2l-0.7 -1.5l-0.1 -1.0l0.2 -1.0l1.2 -3.5l0.9 -1.5l1.0 -0.9l2.0 -1.1l2.0 -2.0l1.0 -0.5l1.0 -0.2l1.0 0.2l1.0 0.6l0.8 0.9l0.3 1.5l-0.2 1.0l-0.6 1.0l-2.8 1.9l-0.6 1.1l-0.1 1.0l0.4 0.5l1.9 1.5l0.7 1.0l0.1 1.0l-0.1 1.0l-0.7 1.0l-1.1 0.8l-1.0 0.3zM219.0 419.2l-1.5 0.2l-1.0 -0.3l-2.5 -1.2l-2.0 -0.6l-1.0 -0.5l-1.1 -1.3l-0.2 -1.0l-0.1 -1.0l0.2 -1.0l0.4 -0.5l1.8 -1.5l0.8 -2.0l0.9 -1.5l2.0 -1.5l2.3 -2.3l1.0 -0.4l1.0 -0.1l1.5 0.6l0.9 1.2l0.3 1.5l-0.5 2.0l0.0 1.0l1.6 2.0l0.4 1.0l0.1 1.0l-0.5 1.5l-2.5 3.0l-1.3 1.2l-1.0 0.5zM249.5 426.6l-1.0 0.1l-1.5 -0.3l-3.0 -1.2l-1.5 -1.2l-0.6 -1.0l-0.2 -1.0l0.8 -5.0l0.5 -1.3l1.0 -0.9l1.0 -0.5l1.6 -0.3l0.3 -0.5l-0.4 -2.0l0.2 -1.5l0.8 -1.0l0.5 -0.4l3.0 -0.9l0.3 -2.7l0.7 -1.3l1.5 -0.9l1.5 0.0l1.2 0.7l0.7 1.0l0.3 1.5l-0.3 1.0l-0.8 1.0l-0.6 0.4l-2.6 0.6l-0.3 0.5l-0.1 2.0l-0.6 1.5l-0.9 0.8l-1.0 0.4l-1.5 0.4l-0.4 0.4l0.5 2.0l0.1 2.5l0.3 0.5l2.0 1.7l0.5 0.8l0.2 1.0l-0.1 1.0l-0.5 1.0l-0.6 0.6l-1.0 0.5zM371.5 408.6l-1.0 0.1l-1.0 -0.3l-1.0 -0.9l-0.5 -1.0l-0.0 -1.0l0.3 -1.0l0.7 -0.9l1.0 -0.5l1.0 -0.1l1.0 0.2l1.0 0.8l0.5 1.0l0.2 1.0l-0.3 1.0l-0.8 1.0l-1.1 0.6zM311.5 409.5l-1.0 0.2l-1.0 -0.3l-0.5 -0.4l-0.6 -1.0l0.2 -1.5l0.4 -0.6l1.0 -0.6l1.0 -0.0l0.5 0.2l0.7 0.5l0.6 1.0l-0.0 1.0l-0.2 0.5l-1.1 1.0zM234.5 422.0l-2.5 -0.4l-2.5 0.4l-1.5 -0.2l-1.0 -0.7l-0.5 -0.6l-0.4 -1.5l0.1 -1.0l0.9 -2.0l0.9 -3.1l1.0 -1.1l2.3 -1.3l0.4 -2.5l0.8 -1.3l1.0 -0.7l1.0 -0.2l1.0 0.1l1.0 0.5l0.5 0.6l0.5 1.0l0.1 1.0l-0.5 1.5l-1.1 1.0l-1.9 1.0l-0.2 1.0l0.4 1.5l0.4 0.5l2.1 1.5l0.6 1.0l0.2 1.0l-0.2 1.0l-0.6 1.0l-0.8 0.6l-1.5 0.4zM263.0 428.2l-1.0 0.2l-1.5 -0.2l-2.0 -0.9l-1.2 -0.8l-0.9 -1.0l-0.5 -1.0l-0.1 -1.0l0.1 -1.0l0.8 -2.0l1.3 -1.9l1.0 -0.7l2.0 -0.9l0.2 -0.5l0.2 -2.0l0.6 -1.2l1.0 -0.9l1.5 -0.7l0.5 -0.4l0.3 -2.3l0.7 -1.3l0.5 -0.5l1.0 -0.5l1.5 0.0l1.0 0.5l0.8 0.8l0.4 1.0l-0.0 1.5l-0.6 1.0l-0.5 0.5l-1.9 1.0l-0.5 0.5l-0.4 2.5l-0.6 1.0l-0.7 0.7l-1.8 0.8l-0.5 0.5l0.2 2.5l0.9 2.5l0.2 1.5l-0.5 1.5l-0.5 0.6l-1.0 0.6zM381.0 427.1l-2.0 -0.2l-1.0 -0.6l-0.7 -0.8l-0.4 -1.0l-0.1 -1.0l0.4 -2.5l1.0 -2.5l0.8 -1.5l3.0 -3.6l1.0 -2.9l0.5 -1.0l1.5 -1.2l1.5 -0.2l1.0 0.5l0.9 0.9l0.5 1.0l0.2 1.0l-0.2 2.5l-0.3 1.5l-0.6 1.0l-1.6 2.0l-0.5 1.5l0.2 1.0l1.1 2.0l0.1 1.5l-0.8 1.5l-1.0 0.7l-1.0 0.2l-3.5 0.2zM281.0 421.0l-1.5 0.2l-1.5 -0.6l-0.5 -0.6l-0.4 -1.0l-0.0 -1.5l0.4 -1.0l1.6 -2.0l0.4 -2.5l0.4 -1.0l0.6 -0.6l1.0 -0.6l1.5 -0.1l1.0 0.4l0.9 0.9l0.4 1.0l-0.0 1.5l-0.5 1.0l-1.5 2.0l-0.3 2.0l-0.3 1.0l-0.7 0.9l-1.0 0.6zM364.5 430.5l-1.0 -0.0l-1.0 -0.4l-1.1 -1.1l-0.5 -1.0l-0.1 -1.0l0.4 -1.5l2.8 -3.5l1.7 -3.5l3.3 -4.9l1.0 -0.9l1.0 -0.5l1.0 -0.1l1.0 0.2l1.0 0.7l0.9 1.5l0.0 1.5l-0.7 2.0l-4.2 6.2l-1.4 2.8l-1.0 1.5l-1.6 1.4l-1.5 0.6zM350.5 430.2l-1.0 0.2l-1.0 -0.1l-1.0 -0.5l-0.7 -0.8l-0.4 -1.0l-0.1 -1.0l0.7 -1.5l2.9 -2.0l1.4 -2.5l1.2 -0.9l1.0 -0.3l1.5 0.1l2.0 0.6l1.5 1.0l0.8 1.0l0.5 2.0l-0.3 1.5l-1.1 1.5l-1.4 1.1l-1.0 0.5l-1.0 0.2l-2.5 -0.1l-2.0 1.0zM276.0 430.5l-1.5 -0.0l-1.1 -0.5l-0.9 -1.0l-0.9 -2.0l-0.3 -2.0l0.3 -1.5l0.9 -1.3l1.0 -0.6l1.5 -0.2l1.5 0.6l0.9 1.0l0.8 2.0l0.3 2.0l-0.2 1.5l-0.8 1.1l-1.5 0.9zM335.0 429.6l-1.0 0.1l-1.0 -0.2l-1.0 -0.6l-0.8 -0.9l-0.3 -1.0l-0.1 -1.0l0.3 -1.0l0.4 -0.7l1.5 -1.0l2.0 -0.3l3.0 -1.4l1.5 0.1l1.5 0.7l0.8 1.1l0.5 1.5l-0.1 1.0l-0.8 1.5l-0.9 0.7l-1.0 0.4l-2.5 0.2l-2.0 0.8zM293.5 431.1l-1.0 -0.1l-1.0 -0.5l-3.8 -3.5l-0.4 -1.0l-0.1 -1.0l0.3 -1.0l1.0 -1.1l1.5 -0.6l1.0 0.1l1.0 0.5l3.6 4.1l0.4 1.0l-0.2 1.5l-0.8 1.0l-1.5 0.6zM309.0 428.0l-0.5 0.1l-1.0 -0.2l-0.6 -0.4l-0.6 -1.0l-0.1 -1.0l0.3 -0.8l0.5 -0.6l1.0 -0.4l1.0 0.0l0.5 0.3l0.6 0.5l0.5 1.0l-0.3 1.5l-0.4 0.5l-0.9 0.5z" fill="#0000b8"/>
<circle cx="314.9" cy="326.0" r="3.25" fill="#00007a"/><circle cx="314.9" cy="326.0" r="2.15" fill="#0006c4"/><circle cx="318.1" cy="326.0" r="3.25" fill="#00007a"/><circle cx="318.1" cy="326.0" r="2.15" fill="#0006c4"/><circle cx="325.5" cy="326.0" r="3.25" fill="#00007a"/><circle cx="325.5" cy="326.0" r="2.15" fill="#0006c4"/><circle cx="328.7" cy="326.0" r="3.25" fill="#00007a"/><circle cx="328.7" cy="326.0" r="2.15" fill="#0006c4"/><circle cx="331.9" cy="326.0" r="3.25" fill="#00007a"/><circle cx="331.9" cy="326.0" r="2.15" fill="#0006c4"/><circle cx="315.8" cy="329.0" r="3.25" fill="#00007a"/><circle cx="315.8" cy="329.0" r="2.15" fill="#0006c4"/><circle cx="319.0" cy="329.0" r="3.25" fill="#00007a"/><circle cx="319.0" cy="329.0" r="2.15" fill="#0006c4"/><circle cx="326.4" cy="329.0" r="3.25" fill="#00007a"/><circle cx="326.4" cy="329.0" r="2.15" fill="#0006c4"/><circle cx="329.6" cy="329.0" r="3.25" fill="#00007a"/><circle cx="329.6" cy="329.0" r="2.15" fill="#0006c4"/><circle cx="332.8" cy="329.0" r="3.25" fill="#00007a"/><circle cx="332.8" cy="329.0" r="2.15" fill="#0006c4"/><circle cx="321.6" cy="330.0" r="2.55" fill="#00007a"/><circle cx="321.6" cy="330.0" r="1.45" fill="#0006c4"/><circle cx="314.7" cy="332.0" r="3.25" fill="#00007a"/><circle cx="314.7" cy="332.0" r="2.15" fill="#0006c4"/><circle cx="317.9" cy="332.0" r="3.25" fill="#00007a"/><circle cx="317.9" cy="332.0" r="2.15" fill="#0006c4"/><circle cx="325.3" cy="332.0" r="3.25" fill="#00007a"/><circle cx="325.3" cy="332.0" r="2.15" fill="#0006c4"/><circle cx="328.5" cy="332.0" r="3.25" fill="#00007a"/><circle cx="328.5" cy="332.0" r="2.15" fill="#0006c4"/><circle cx="331.6" cy="332.0" r="3.25" fill="#00007a"/><circle cx="331.6" cy="332.0" r="2.15" fill="#0006c4"/><circle cx="315.6" cy="335.0" r="3.25" fill="#00007a"/><circle cx="315.6" cy="335.0" r="2.15" fill="#0006c4"/><circle cx="318.8" cy="335.0" r="3.25" fill="#00007a"/><circle cx="318.8" cy="335.0" r="2.15" fill="#0006c4"/><circle cx="326.3" cy="335.0" r="3.25" fill="#00007a"/><circle cx="326.3" cy="335.0" r="2.15" fill="#0006c4"/><circle cx="329.4" cy="335.0" r="3.25" fill="#00007a"/><circle cx="329.4" cy="335.0" r="2.15" fill="#0006c4"/><circle cx="332.5" cy="335.0" r="3.25" fill="#00007a"/><circle cx="332.5" cy="335.0" r="2.15" fill="#0006c4"/><circle cx="321.6" cy="337.0" r="2.55" fill="#00007a"/><circle cx="321.6" cy="337.0" r="1.45" fill="#0006c4"/><circle cx="314.4" cy="338.0" r="3.25" fill="#00007a"/><circle cx="314.4" cy="338.0" r="2.15" fill="#0006c4"/><circle cx="317.6" cy="338.0" r="3.25" fill="#00007a"/><circle cx="317.6" cy="338.0" r="2.15" fill="#0006c4"/><circle cx="325.2" cy="338.0" r="3.25" fill="#00007a"/><circle cx="325.2" cy="338.0" r="2.15" fill="#0006c4"/><circle cx="328.3" cy="338.0" r="3.25" fill="#00007a"/><circle cx="328.3" cy="338.0" r="2.15" fill="#0006c4"/><circle cx="331.3" cy="338.0" r="3.25" fill="#00007a"/><circle cx="331.3" cy="338.0" r="2.15" fill="#0006c4"/><circle cx="315.3" cy="341.0" r="3.25" fill="#00007a"/><circle cx="315.3" cy="341.0" r="2.15" fill="#0006c4"/><circle cx="318.5" cy="341.0" r="3.25" fill="#00007a"/><circle cx="318.5" cy="341.0" r="2.15" fill="#0006c4"/><circle cx="326.1" cy="341.0" r="3.25" fill="#00007a"/><circle cx="326.1" cy="341.0" r="2.15" fill="#0006c4"/><circle cx="329.1" cy="341.0" r="3.25" fill="#00007a"/><circle cx="329.1" cy="341.0" r="2.15" fill="#0006c4"/><circle cx="332.2" cy="341.0" r="3.25" fill="#00007a"/><circle cx="332.2" cy="341.0" r="2.15" fill="#0006c4"/><circle cx="314.2" cy="344.0" r="3.25" fill="#00007a"/><circle cx="314.2" cy="344.0" r="2.15" fill="#0006c4"/><circle cx="317.4" cy="344.0" r="3.25" fill="#00007a"/><circle cx="317.4" cy="344.0" r="2.15" fill="#0006c4"/><circle cx="321.6" cy="344.0" r="2.55" fill="#00007a"/><circle cx="321.6" cy="344.0" r="1.45" fill="#0006c4"/><circle cx="325.0" cy="344.0" r="3.25" fill="#00007a"/><circle cx="325.0" cy="344.0" r="2.15" fill="#0006c4"/><circle cx="328.0" cy="344.0" r="3.25" fill="#00007a"/><circle cx="328.0" cy="344.0" r="2.15" fill="#0006c4"/><circle cx="331.0" cy="344.0" r="3.25" fill="#00007a"/><circle cx="331.0" cy="344.0" r="2.15" fill="#0006c4"/><circle cx="315.1" cy="347.0" r="3.25" fill="#00007a"/><circle cx="315.1" cy="347.0" r="2.15" fill="#0006c4"/><circle cx="318.3" cy="347.0" r="3.25" fill="#00007a"/><circle cx="318.3" cy="347.0" r="2.15" fill="#0006c4"/><circle cx="326.0" cy="347.0" r="3.25" fill="#00007a"/><circle cx="326.0" cy="347.0" r="2.15" fill="#0006c4"/><circle cx="328.9" cy="347.0" r="3.25" fill="#00007a"/><circle cx="328.9" cy="347.0" r="2.15" fill="#0006c4"/><circle cx="331.9" cy="347.0" r="3.25" fill="#00007a"/><circle cx="331.9" cy="347.0" r="2.15" fill="#0006c4"/><circle cx="314.0" cy="350.0" r="3.25" fill="#00007a"/><circle cx="314.0" cy="350.0" r="2.15" fill="#0006c4"/><circle cx="317.2" cy="350.0" r="3.25" fill="#00007a"/><circle cx="317.2" cy="350.0" r="2.15" fill="#0006c4"/><circle cx="324.9" cy="350.0" r="3.25" fill="#00007a"/><circle cx="324.9" cy="350.0" r="2.15" fill="#0006c4"/><circle cx="327.8" cy="350.0" r="3.25" fill="#00007a"/><circle cx="327.8" cy="350.0" r="2.15" fill="#0006c4"/><circle cx="330.7" cy="350.0" r="3.25" fill="#00007a"/><circle cx="330.7" cy="350.0" r="2.15" fill="#0006c4"/><circle cx="321.6" cy="351.0" r="2.55" fill="#00007a"/><circle cx="321.6" cy="351.0" r="1.45" fill="#0006c4"/><circle cx="314.9" cy="353.0" r="3.25" fill="#00007a"/><circle cx="314.9" cy="353.0" r="2.15" fill="#0006c4"/><circle cx="318.1" cy="353.0" r="3.25" fill="#00007a"/><circle cx="318.1" cy="353.0" r="2.15" fill="#0006c4"/><circle cx="325.8" cy="353.0" r="3.25" fill="#00007a"/><circle cx="325.8" cy="353.0" r="2.15" fill="#0006c4"/><circle cx="328.7" cy="353.0" r="3.25" fill="#00007a"/><circle cx="328.7" cy="353.0" r="2.15" fill="#0006c4"/><circle cx="331.6" cy="353.0" r="3.25" fill="#00007a"/><circle cx="331.6" cy="353.0" r="2.15" fill="#0006c4"/><circle cx="313.7" cy="356.0" r="3.25" fill="#00007a"/><circle cx="313.7" cy="356.0" r="2.15" fill="#0006c4"/><circle cx="316.9" cy="356.0" r="3.25" fill="#00007a"/><circle cx="316.9" cy="356.0" r="2.15" fill="#0006c4"/><circle cx="324.7" cy="356.0" r="3.25" fill="#00007a"/><circle cx="324.7" cy="356.0" r="2.15" fill="#0006c4"/><circle cx="327.6" cy="356.0" r="3.25" fill="#00007a"/><circle cx="327.6" cy="356.0" r="2.15" fill="#0006c4"/><circle cx="330.4" cy="356.0" r="3.25" fill="#00007a"/><circle cx="330.4" cy="356.0" r="2.15" fill="#0006c4"/><circle cx="321.6" cy="356.5" r="2.55" fill="#00007a"/><circle cx="321.6" cy="356.5" r="1.45" fill="#0006c4"/><circle cx="314.6" cy="359.0" r="3.25" fill="#00007a"/><circle cx="314.6" cy="359.0" r="2.15" fill="#0006c4"/><circle cx="317.8" cy="359.0" r="3.25" fill="#00007a"/><circle cx="317.8" cy="359.0" r="2.15" fill="#0006c4"/><circle cx="325.7" cy="359.0" r="3.25" fill="#00007a"/><circle cx="325.7" cy="359.0" r="2.15" fill="#0006c4"/><circle cx="328.5" cy="359.0" r="3.25" fill="#00007a"/><circle cx="328.5" cy="359.0" r="2.15" fill="#0006c4"/><circle cx="331.3" cy="359.0" r="3.25" fill="#00007a"/><circle cx="331.3" cy="359.0" r="2.15" fill="#0006c4"/><circle cx="313.5" cy="362.0" r="3.25" fill="#00007a"/><circle cx="313.5" cy="362.0" r="2.15" fill="#0006c4"/><circle cx="316.7" cy="362.0" r="3.25" fill="#00007a"/><circle cx="316.7" cy="362.0" r="2.15" fill="#0006c4"/><circle cx="317.2" cy="362.0" r="3.25" fill="#00007a"/><circle cx="317.2" cy="362.0" r="2.15" fill="#0006c4"/><circle cx="320.2" cy="362.0" r="3.25" fill="#00007a"/><circle cx="320.2" cy="362.0" r="2.15" fill="#0006c4"/><circle cx="323.2" cy="362.0" r="3.25" fill="#00007a"/><circle cx="323.2" cy="362.0" r="2.15" fill="#0006c4"/><circle cx="324.6" cy="362.0" r="3.25" fill="#00007a"/><circle cx="324.6" cy="362.0" r="2.15" fill="#0006c4"/><circle cx="327.4" cy="362.0" r="3.25" fill="#00007a"/><circle cx="327.4" cy="362.0" r="2.15" fill="#0006c4"/><circle cx="330.1" cy="362.0" r="3.25" fill="#00007a"/><circle cx="330.1" cy="362.0" r="2.15" fill="#0006c4"/><circle cx="314.4" cy="365.0" r="3.25" fill="#00007a"/><circle cx="314.4" cy="365.0" r="2.15" fill="#0006c4"/><circle cx="317.1" cy="365.0" r="3.25" fill="#00007a"/><circle cx="317.1" cy="365.0" r="2.15" fill="#0006c4"/><circle cx="317.6" cy="365.0" r="3.25" fill="#00007a"/><circle cx="317.6" cy="365.0" r="2.15" fill="#0006c4"/><circle cx="320.1" cy="365.0" r="3.25" fill="#00007a"/><circle cx="320.1" cy="365.0" r="2.15" fill="#0006c4"/><circle cx="323.1" cy="365.0" r="3.25" fill="#00007a"/><circle cx="323.1" cy="365.0" r="2.15" fill="#0006c4"/><circle cx="325.5" cy="365.0" r="3.25" fill="#00007a"/><circle cx="325.5" cy="365.0" r="2.15" fill="#0006c4"/><circle cx="328.2" cy="365.0" r="3.25" fill="#00007a"/><circle cx="328.2" cy="365.0" r="2.15" fill="#0006c4"/><circle cx="331.0" cy="365.0" r="3.25" fill="#00007a"/><circle cx="331.0" cy="365.0" r="2.15" fill="#0006c4"/><circle cx="313.1" cy="368.0" r="3.25" fill="#00007a"/><circle cx="313.1" cy="368.0" r="2.15" fill="#0006c4"/><circle cx="316.3" cy="368.0" r="3.25" fill="#00007a"/><circle cx="316.3" cy="368.0" r="2.15" fill="#0006c4"/><circle cx="316.8" cy="368.0" r="3.25" fill="#00007a"/><circle cx="316.8" cy="368.0" r="2.15" fill="#0006c4"/><circle cx="319.8" cy="368.0" r="3.25" fill="#00007a"/><circle cx="319.8" cy="368.0" r="2.15" fill="#0006c4"/><circle cx="322.8" cy="368.0" r="3.25" fill="#00007a"/><circle cx="322.8" cy="368.0" r="2.15" fill="#0006c4"/><circle cx="323.9" cy="368.0" r="3.25" fill="#00007a"/><circle cx="323.9" cy="368.0" r="2.15" fill="#0006c4"/><circle cx="326.9" cy="368.0" r="3.25" fill="#00007a"/><circle cx="326.9" cy="368.0" r="2.15" fill="#0006c4"/><circle cx="329.9" cy="368.0" r="3.25" fill="#00007a"/><circle cx="329.9" cy="368.0" r="2.15" fill="#0006c4"/><circle cx="313.8" cy="371.0" r="3.25" fill="#00007a"/><circle cx="313.8" cy="371.0" r="2.15" fill="#0006c4"/><circle cx="316.5" cy="371.0" r="3.25" fill="#00007a"/><circle cx="316.5" cy="371.0" r="2.15" fill="#0006c4"/><circle cx="317.0" cy="371.0" r="3.25" fill="#00007a"/><circle cx="317.0" cy="371.0" r="2.15" fill="#0006c4"/><circle cx="319.5" cy="371.0" r="3.25" fill="#00007a"/><circle cx="319.5" cy="371.0" r="2.15" fill="#0006c4"/><circle cx="322.5" cy="371.0" r="3.25" fill="#00007a"/><circle cx="322.5" cy="371.0" r="2.15" fill="#0006c4"/><circle cx="324.3" cy="371.0" r="3.25" fill="#00007a"/><circle cx="324.3" cy="371.0" r="2.15" fill="#0006c4"/><circle cx="327.6" cy="371.0" r="3.25" fill="#00007a"/><circle cx="327.6" cy="371.0" r="2.15" fill="#0006c4"/><circle cx="330.9" cy="371.0" r="3.25" fill="#00007a"/><circle cx="330.9" cy="371.0" r="2.15" fill="#0006c4"/><circle cx="312.5" cy="374.0" r="3.25" fill="#00007a"/><circle cx="312.5" cy="374.0" r="2.15" fill="#0006c4"/><circle cx="315.7" cy="374.0" r="3.25" fill="#00007a"/><circle cx="315.7" cy="374.0" r="2.15" fill="#0006c4"/><circle cx="316.2" cy="374.0" r="3.25" fill="#00007a"/><circle cx="316.2" cy="374.0" r="2.15" fill="#0006c4"/><circle cx="319.2" cy="374.0" r="3.25" fill="#00007a"/><circle cx="319.2" cy="374.0" r="2.15" fill="#0006c4"/><circle cx="322.2" cy="374.0" r="3.25" fill="#00007a"/><circle cx="322.2" cy="374.0" r="2.15" fill="#0006c4"/><circle cx="322.7" cy="374.0" r="3.25" fill="#00007a"/><circle cx="322.7" cy="374.0" r="2.15" fill="#0006c4"/><circle cx="326.2" cy="374.0" r="3.25" fill="#00007a"/><circle cx="326.2" cy="374.0" r="2.15" fill="#0006c4"/><circle cx="329.8" cy="374.0" r="3.25" fill="#00007a"/><circle cx="329.8" cy="374.0" r="2.15" fill="#0006c4"/><circle cx="313.2" cy="377.0" r="3.25" fill="#00007a"/><circle cx="313.2" cy="377.0" r="2.15" fill="#0006c4"/><circle cx="315.9" cy="377.0" r="3.25" fill="#00007a"/><circle cx="315.9" cy="377.0" r="2.15" fill="#0006c4"/><circle cx="316.4" cy="377.0" r="3.25" fill="#00007a"/><circle cx="316.4" cy="377.0" r="2.15" fill="#0006c4"/><circle cx="318.9" cy="377.0" r="3.25" fill="#00007a"/><circle cx="318.9" cy="377.0" r="2.15" fill="#0006c4"/><circle cx="321.9" cy="377.0" r="3.25" fill="#00007a"/><circle cx="321.9" cy="377.0" r="2.15" fill="#0006c4"/><circle cx="323.1" cy="377.0" r="3.25" fill="#00007a"/><circle cx="323.1" cy="377.0" r="2.15" fill="#0006c4"/><circle cx="326.9" cy="377.0" r="3.25" fill="#00007a"/><circle cx="326.9" cy="377.0" r="2.15" fill="#0006c4"/><circle cx="330.7" cy="377.0" r="3.25" fill="#00007a"/><circle cx="330.7" cy="377.0" r="2.15" fill="#0006c4"/><circle cx="311.9" cy="380.0" r="3.25" fill="#00007a"/><circle cx="311.9" cy="380.0" r="2.15" fill="#0006c4"/><circle cx="315.1" cy="380.0" r="3.25" fill="#00007a"/><circle cx="315.1" cy="380.0" r="2.15" fill="#0006c4"/><circle cx="315.6" cy="380.0" r="3.25" fill="#00007a"/><circle cx="315.6" cy="380.0" r="2.15" fill="#0006c4"/><circle cx="318.6" cy="380.0" r="3.25" fill="#00007a"/><circle cx="318.6" cy="380.0" r="2.15" fill="#0006c4"/><circle cx="321.5" cy="380.0" r="3.25" fill="#00007a"/><circle cx="321.5" cy="380.0" r="2.15" fill="#0006c4"/><circle cx="321.6" cy="380.0" r="3.25" fill="#00007a"/><circle cx="321.6" cy="380.0" r="2.15" fill="#0006c4"/><circle cx="324.2" cy="380.0" r="3.25" fill="#00007a"/><circle cx="324.2" cy="380.0" r="2.15" fill="#0006c4"/><circle cx="326.9" cy="380.0" r="3.25" fill="#00007a"/><circle cx="326.9" cy="380.0" r="2.15" fill="#0006c4"/><circle cx="329.6" cy="380.0" r="3.25" fill="#00007a"/><circle cx="329.6" cy="380.0" r="2.15" fill="#0006c4"/><circle cx="312.6" cy="383.0" r="3.25" fill="#00007a"/><circle cx="312.6" cy="383.0" r="2.15" fill="#0006c4"/><circle cx="315.3" cy="383.0" r="3.25" fill="#00007a"/><circle cx="315.3" cy="383.0" r="2.15" fill="#0006c4"/><circle cx="315.8" cy="383.0" r="3.25" fill="#00007a"/><circle cx="315.8" cy="383.0" r="2.15" fill="#0006c4"/><circle cx="318.3" cy="383.0" r="3.25" fill="#00007a"/><circle cx="318.3" cy="383.0" r="2.15" fill="#0006c4"/><circle cx="321.3" cy="383.0" r="3.25" fill="#00007a"/><circle cx="321.3" cy="383.0" r="2.15" fill="#0006c4"/><circle cx="321.9" cy="383.0" r="3.25" fill="#00007a"/><circle cx="321.9" cy="383.0" r="2.15" fill="#0006c4"/><circle cx="324.8" cy="383.0" r="3.25" fill="#00007a"/><circle cx="324.8" cy="383.0" r="2.15" fill="#0006c4"/><circle cx="327.7" cy="383.0" r="3.25" fill="#00007a"/><circle cx="327.7" cy="383.0" r="2.15" fill="#0006c4"/><circle cx="330.6" cy="383.0" r="3.25" fill="#00007a"/><circle cx="330.6" cy="383.0" r="2.15" fill="#0006c4"/><circle cx="311.2" cy="386.0" r="3.25" fill="#00007a"/><circle cx="311.2" cy="386.0" r="2.15" fill="#0006c4"/><circle cx="314.5" cy="386.0" r="3.25" fill="#00007a"/><circle cx="314.5" cy="386.0" r="2.15" fill="#0006c4"/><circle cx="315.0" cy="386.0" r="3.25" fill="#00007a"/><circle cx="315.0" cy="386.0" r="2.15" fill="#0006c4"/><circle cx="318.0" cy="386.0" r="3.25" fill="#00007a"/><circle cx="318.0" cy="386.0" r="2.15" fill="#0006c4"/><circle cx="320.5" cy="386.0" r="3.25" fill="#00007a"/><circle cx="320.5" cy="386.0" r="2.15" fill="#0006c4"/><circle cx="321.0" cy="386.0" r="3.25" fill="#00007a"/><circle cx="321.0" cy="386.0" r="2.15" fill="#0006c4"/><circle cx="323.4" cy="386.0" r="3.25" fill="#00007a"/><circle cx="323.4" cy="386.0" r="2.15" fill="#0006c4"/><circle cx="326.4" cy="386.0" r="3.25" fill="#00007a"/><circle cx="326.4" cy="386.0" r="2.15" fill="#0006c4"/><circle cx="329.4" cy="386.0" r="3.25" fill="#00007a"/><circle cx="329.4" cy="386.0" r="2.15" fill="#0006c4"/><circle cx="311.8" cy="389.0" r="3.25" fill="#00007a"/><circle cx="311.8" cy="389.0" r="2.15" fill="#0006c4"/><circle cx="314.5" cy="389.0" r="3.25" fill="#00007a"/><circle cx="314.5" cy="389.0" r="2.15" fill="#0006c4"/><circle cx="315.0" cy="389.0" r="3.25" fill="#00007a"/><circle cx="315.0" cy="389.0" r="2.15" fill="#0006c4"/><circle cx="317.5" cy="389.0" r="3.25" fill="#00007a"/><circle cx="317.5" cy="389.0" r="2.15" fill="#0006c4"/><circle cx="320.5" cy="389.0" r="3.25" fill="#00007a"/><circle cx="320.5" cy="389.0" r="2.15" fill="#0006c4"/><circle cx="321.4" cy="389.0" r="3.25" fill="#00007a"/><circle cx="321.4" cy="389.0" r="2.15" fill="#0006c4"/><circle cx="324.2" cy="389.0" r="3.25" fill="#00007a"/><circle cx="324.2" cy="389.0" r="2.15" fill="#0006c4"/><circle cx="327.1" cy="389.0" r="3.25" fill="#00007a"/><circle cx="327.1" cy="389.0" r="2.15" fill="#0006c4"/><circle cx="330.0" cy="389.0" r="3.25" fill="#00007a"/><circle cx="330.0" cy="389.0" r="2.15" fill="#0006c4"/><circle cx="310.3" cy="392.0" r="3.25" fill="#00007a"/><circle cx="310.3" cy="392.0" r="2.15" fill="#0006c4"/><circle cx="313.6" cy="392.0" r="3.25" fill="#00007a"/><circle cx="313.6" cy="392.0" r="2.15" fill="#0006c4"/><circle cx="314.1" cy="392.0" r="3.25" fill="#00007a"/><circle cx="314.1" cy="392.0" r="2.15" fill="#0006c4"/><circle cx="317.1" cy="392.0" r="3.25" fill="#00007a"/><circle cx="317.1" cy="392.0" r="2.15" fill="#0006c4"/><circle cx="320.1" cy="392.0" r="3.25" fill="#00007a"/><circle cx="320.1" cy="392.0" r="2.15" fill="#0006c4"/><circle cx="320.3" cy="392.0" r="3.25" fill="#00007a"/><circle cx="320.3" cy="392.0" r="2.15" fill="#0006c4"/><circle cx="323.1" cy="392.0" r="3.25" fill="#00007a"/><circle cx="323.1" cy="392.0" r="2.15" fill="#0006c4"/><circle cx="325.8" cy="392.0" r="3.25" fill="#00007a"/><circle cx="325.8" cy="392.0" r="2.15" fill="#0006c4"/><circle cx="328.6" cy="392.0" r="3.25" fill="#00007a"/><circle cx="328.6" cy="392.0" r="2.15" fill="#0006c4"/><circle cx="310.9" cy="395.0" r="3.25" fill="#00007a"/><circle cx="310.9" cy="395.0" r="2.15" fill="#0006c4"/><circle cx="314.1" cy="395.0" r="3.25" fill="#00007a"/><circle cx="314.1" cy="395.0" r="2.15" fill="#0006c4"/><circle cx="321.2" cy="395.0" r="3.25" fill="#00007a"/><circle cx="321.2" cy="395.0" r="2.15" fill="#0006c4"/><circle cx="323.9" cy="395.0" r="3.25" fill="#00007a"/><circle cx="323.9" cy="395.0" r="2.15" fill="#0006c4"/><circle cx="326.6" cy="395.0" r="3.25" fill="#00007a"/><circle cx="326.6" cy="395.0" r="2.15" fill="#0006c4"/><circle cx="329.2" cy="395.0" r="3.25" fill="#00007a"/><circle cx="329.2" cy="395.0" r="2.15" fill="#0006c4"/><circle cx="309.4" cy="398.0" r="3.25" fill="#00007a"/><circle cx="309.4" cy="398.0" r="2.15" fill="#0006c4"/><circle cx="312.7" cy="398.0" r="3.25" fill="#00007a"/><circle cx="312.7" cy="398.0" r="2.15" fill="#0006c4"/><circle cx="320.1" cy="398.0" r="3.25" fill="#00007a"/><circle cx="320.1" cy="398.0" r="2.15" fill="#0006c4"/><circle cx="324.0" cy="398.0" r="3.25" fill="#00007a"/><circle cx="324.0" cy="398.0" r="2.15" fill="#0006c4"/><circle cx="327.9" cy="398.0" r="3.25" fill="#00007a"/><circle cx="327.9" cy="398.0" r="2.15" fill="#0006c4"/><circle cx="310.0" cy="401.0" r="3.25" fill="#00007a"/><circle cx="310.0" cy="401.0" r="2.15" fill="#0006c4"/><circle cx="313.2" cy="401.0" r="3.25" fill="#00007a"/><circle cx="313.2" cy="401.0" r="2.15" fill="#0006c4"/><circle cx="321.1" cy="401.0" r="3.25" fill="#00007a"/><circle cx="321.1" cy="401.0" r="2.15" fill="#0006c4"/><circle cx="324.8" cy="401.0" r="3.25" fill="#00007a"/><circle cx="324.8" cy="401.0" r="2.15" fill="#0006c4"/><circle cx="328.5" cy="401.0" r="3.25" fill="#00007a"/><circle cx="328.5" cy="401.0" r="2.15" fill="#0006c4"/><circle cx="308.5" cy="404.0" r="3.25" fill="#00007a"/><circle cx="308.5" cy="404.0" r="2.15" fill="#0006c4"/><circle cx="311.8" cy="404.0" r="3.25" fill="#00007a"/><circle cx="311.8" cy="404.0" r="2.15" fill="#0006c4"/><circle cx="320.4" cy="404.0" r="3.25" fill="#00007a"/><circle cx="320.4" cy="404.0" r="2.15" fill="#0006c4"/><circle cx="323.8" cy="404.0" r="3.25" fill="#00007a"/><circle cx="323.8" cy="404.0" r="2.15" fill="#0006c4"/><circle cx="327.1" cy="404.0" r="3.25" fill="#00007a"/><circle cx="327.1" cy="404.0" r="2.15" fill="#0006c4"/><circle cx="309.2" cy="407.0" r="3.25" fill="#00007a"/><circle cx="309.2" cy="407.0" r="2.15" fill="#0006c4"/><circle cx="312.4" cy="407.0" r="3.25" fill="#00007a"/><circle cx="312.4" cy="407.0" r="2.15" fill="#0006c4"/><circle cx="321.6" cy="407.0" r="3.25" fill="#00007a"/><circle cx="321.6" cy="407.0" r="2.15" fill="#0006c4"/><circle cx="324.7" cy="407.0" r="3.25" fill="#00007a"/><circle cx="324.7" cy="407.0" r="2.15" fill="#0006c4"/><circle cx="327.7" cy="407.0" r="3.25" fill="#00007a"/><circle cx="327.7" cy="407.0" r="2.15" fill="#0006c4"/><circle cx="307.8" cy="410.0" r="3.25" fill="#00007a"/><circle cx="307.8" cy="410.0" r="2.15" fill="#0006c4"/><circle cx="311.0" cy="410.0" r="3.25" fill="#00007a"/><circle cx="311.0" cy="410.0" r="2.15" fill="#0006c4"/><circle cx="320.8" cy="410.0" r="3.25" fill="#00007a"/><circle cx="320.8" cy="410.0" r="2.15" fill="#0006c4"/><circle cx="323.6" cy="410.0" r="3.25" fill="#00007a"/><circle cx="323.6" cy="410.0" r="2.15" fill="#0006c4"/><circle cx="326.3" cy="410.0" r="3.25" fill="#00007a"/><circle cx="326.3" cy="410.0" r="2.15" fill="#0006c4"/><circle cx="308.5" cy="413.0" r="3.25" fill="#00007a"/><circle cx="308.5" cy="413.0" r="2.15" fill="#0006c4"/><circle cx="311.7" cy="413.0" r="3.25" fill="#00007a"/><circle cx="311.7" cy="413.0" r="2.15" fill="#0006c4"/><circle cx="322.0" cy="413.0" r="3.25" fill="#00007a"/><circle cx="322.0" cy="413.0" r="2.15" fill="#0006c4"/><circle cx="324.4" cy="413.0" r="3.25" fill="#00007a"/><circle cx="324.4" cy="413.0" r="2.15" fill="#0006c4"/><circle cx="326.9" cy="413.0" r="3.25" fill="#00007a"/><circle cx="326.9" cy="413.0" r="2.15" fill="#0006c4"/><circle cx="307.1" cy="416.0" r="3.25" fill="#00007a"/><circle cx="307.1" cy="416.0" r="2.15" fill="#0006c4"/><circle cx="310.3" cy="416.0" r="3.25" fill="#00007a"/><circle cx="310.3" cy="416.0" r="2.15" fill="#0006c4"/><circle cx="321.1" cy="416.0" r="3.25" fill="#00007a"/><circle cx="321.1" cy="416.0" r="2.15" fill="#0006c4"/><circle cx="325.5" cy="416.0" r="3.25" fill="#00007a"/><circle cx="325.5" cy="416.0" r="2.15" fill="#0006c4"/><circle cx="307.8" cy="419.0" r="3.25" fill="#00007a"/><circle cx="307.8" cy="419.0" r="2.15" fill="#0006c4"/><circle cx="311.0" cy="419.0" r="3.25" fill="#00007a"/><circle cx="311.0" cy="419.0" r="2.15" fill="#0006c4"/><circle cx="322.3" cy="419.0" r="3.25" fill="#00007a"/><circle cx="322.3" cy="419.0" r="2.15" fill="#0006c4"/><circle cx="326.1" cy="419.0" r="3.25" fill="#00007a"/><circle cx="326.1" cy="419.0" r="2.15" fill="#0006c4"/><circle cx="306.4" cy="422.0" r="3.25" fill="#00007a"/><circle cx="306.4" cy="422.0" r="2.15" fill="#0006c4"/><circle cx="309.6" cy="422.0" r="3.25" fill="#00007a"/><circle cx="309.6" cy="422.0" r="2.15" fill="#0006c4"/><circle cx="321.5" cy="422.0" r="3.25" fill="#00007a"/><circle cx="321.5" cy="422.0" r="2.15" fill="#0006c4"/><circle cx="324.7" cy="422.0" r="3.25" fill="#00007a"/><circle cx="324.7" cy="422.0" r="2.15" fill="#0006c4"/><circle cx="307.1" cy="425.0" r="3.25" fill="#00007a"/><circle cx="307.1" cy="425.0" r="2.15" fill="#0006c4"/><circle cx="310.3" cy="425.0" r="3.25" fill="#00007a"/><circle cx="310.3" cy="425.0" r="2.15" fill="#0006c4"/><circle cx="322.7" cy="425.0" r="3.25" fill="#00007a"/><circle cx="322.7" cy="425.0" r="2.15" fill="#0006c4"/><circle cx="325.3" cy="425.0" r="3.25" fill="#00007a"/><circle cx="325.3" cy="425.0" r="2.15" fill="#0006c4"/><circle cx="305.7" cy="428.0" r="3.25" fill="#00007a"/><circle cx="305.7" cy="428.0" r="2.15" fill="#0006c4"/><circle cx="308.9" cy="428.0" r="3.25" fill="#00007a"/><circle cx="308.9" cy="428.0" r="2.15" fill="#0006c4"/><circle cx="321.8" cy="428.0" r="3.25" fill="#00007a"/><circle cx="321.8" cy="428.0" r="2.15" fill="#0006c4"/><circle cx="323.9" cy="428.0" r="3.25" fill="#00007a"/><circle cx="323.9" cy="428.0" r="2.15" fill="#0006c4"/><circle cx="306.4" cy="431.0" r="3.25" fill="#00007a"/><circle cx="306.4" cy="431.0" r="2.15" fill="#0006c4"/><circle cx="309.6" cy="431.0" r="3.25" fill="#00007a"/><circle cx="309.6" cy="431.0" r="2.15" fill="#0006c4"/><circle cx="323.0" cy="431.0" r="3.25" fill="#00007a"/><circle cx="323.0" cy="431.0" r="2.15" fill="#0006c4"/><circle cx="324.5" cy="431.0" r="3.25" fill="#00007a"/><circle cx="324.5" cy="431.0" r="2.15" fill="#0006c4"/>
<path d="M329.5 329.2l-1.0 0.2l-1.0 -0.2l-1.2 -1.2l-0.2 -1.0l0.2 -1.0l1.2 -1.2l2.0 0.0l1.2 1.2l0.2 1.0l-0.2 1.0l-1.2 1.2zM560.5 327.1l-0.7 -0.1l-0.4 -0.5l0.1 -0.6l0.5 -0.4l0.5 0.0l0.5 0.5l0.0 0.6l-0.5 0.5zM579.0 329.6l-1.0 0.3l-1.0 -0.2l-0.5 -0.3l-0.7 -0.9l-0.2 -1.0l0.3 -1.0l1.1 -1.0l1.5 -0.1l1.0 0.5l0.4 0.6l0.3 1.5l-0.5 1.0l-0.7 0.6zM94.0 327.2l-0.5 0.2l-0.7 -0.4l-0.1 -0.5l0.3 -0.5l0.5 -0.1l0.5 0.1l0.3 0.5l-0.3 0.7zM57.0 327.7l-0.8 -0.2l-0.3 -0.5l0.1 -0.5l0.5 -0.3l0.5 -0.0l0.4 0.3l0.1 0.6l-0.5 0.6zM167.0 327.1l-0.5 0.4l-0.5 -0.4l0.0 -0.3l0.5 -0.4l0.3 0.1l0.2 0.6zM453.0 327.3l-0.5 -0.1l0.0 -0.6l0.5 -0.1l0.2 0.5l-0.2 0.3zM178.0 327.6l-0.5 0.4l-0.5 -0.4l0.0 -0.3l0.5 -0.4l0.3 0.1l0.2 0.6zM80.5 328.9l-0.5 0.0l-0.5 -0.4l0.0 -0.8l0.5 -0.3l0.7 0.1l0.3 0.5l-0.1 0.5l-0.4 0.4zM116.0 328.6l-0.5 0.2l-0.5 -0.2l-0.2 -0.6l0.2 -0.3l0.5 -0.3l0.5 0.3l0.2 0.3l-0.2 0.6zM523.0 328.7l-0.5 0.2l-0.6 -0.4l-0.1 -0.5l0.2 -0.5l0.5 -0.1l0.5 0.1l0.2 0.5l-0.2 0.7zM582.5 329.1l-0.5 -0.1l-0.3 -0.5l0.1 -0.5l0.2 -0.4l0.5 -0.2l0.5 0.2l0.2 0.4l0.1 0.5l-0.3 0.5l-0.5 0.1zM145.5 328.6l-0.5 -0.1l-0.1 -0.5l0.6 -0.5l0.4 0.5l-0.4 0.6zM464.0 328.6l-0.6 -0.1l-0.1 -0.5l0.2 -0.3l0.5 -0.1l0.3 0.4l-0.3 0.6zM495.0 329.5l-0.5 -0.5l0.1 -0.5l0.4 -0.2l0.6 0.2l0.1 0.5l-0.2 0.3l-0.5 0.2zM121.5 330.2l-0.5 0.2l-0.5 -0.2l-0.1 -0.7l0.1 -0.2l0.5 -0.3l0.5 0.3l0.1 0.2l-0.1 0.7zM528.5 331.1l-0.5 -0.1l-0.5 0.3l-0.5 -0.0l-0.5 -0.6l0.2 -0.7l1.8 -0.8l1.5 -0.4l0.6 0.2l0.2 0.5l-0.3 0.8l-2.0 0.8zM553.0 331.1l-0.5 -0.1l-0.3 -0.5l0.1 -0.5l0.2 -0.4l0.5 -0.2l0.5 0.2l0.2 0.4l0.1 0.5l-0.3 0.5l-0.5 0.1zM141.0 331.0l-0.5 0.0l-0.4 -0.5l0.4 -0.6l0.5 0.0l0.3 0.6l-0.3 0.5zM487.5 331.1l-0.5 -0.0l-0.3 -0.6l0.3 -0.5l0.6 0.0l0.3 0.5l-0.4 0.6zM449.0 331.8l-0.5 0.0l-0.5 -0.3l-0.3 -1.0l0.3 -0.4l0.5 -0.0l0.7 0.4l0.1 1.0l-0.3 0.3zM543.0 331.6l-0.5 0.1l-0.6 -0.2l-0.2 -0.5l0.3 -0.7l0.5 -0.2l0.7 0.4l0.1 0.5l-0.3 0.6zM587.5 331.6l-0.5 0.1l-0.5 -0.2l-0.2 -0.5l0.1 -0.5l0.6 -0.4l0.5 0.1l0.3 0.3l0.1 0.5l-0.4 0.6zM106.0 332.1l-0.6 -0.1l-0.4 -0.5l0.1 -0.5l0.4 -0.4l0.5 -0.0l0.5 0.4l0.0 0.7l-0.5 0.4zM192.5 331.7l-0.5 -0.2l0.1 -0.5l0.6 0.0l0.1 0.5l-0.3 0.2zM329.5 335.1l-1.0 0.2l-1.0 -0.2l-1.1 -1.1l-0.2 -1.0l0.2 -1.0l1.1 -1.2l1.0 -0.2l1.0 0.2l1.1 1.2l0.2 1.0l-0.2 1.0l-1.1 1.1zM572.5 332.2l-0.5 0.2l-0.7 -0.4l-0.1 -0.5l0.3 -0.6l0.5 -0.1l0.6 0.2l0.2 0.5l-0.3 0.7zM72.0 332.7l-0.5 0.1l-0.6 -0.3l-0.1 -0.5l0.2 -0.6l0.5 -0.2l0.7 0.3l0.2 0.5l-0.4 0.7zM77.5 332.7l-0.5 0.1l-0.6 -0.3l-0.1 -0.5l0.2 -0.6l0.5 -0.2l0.7 0.3l0.2 0.5l-0.4 0.7zM85.5 332.6l-0.5 0.2l-0.7 -0.3l-0.2 -0.5l0.2 -0.5l0.7 -0.3l0.5 0.3l0.2 0.5l-0.2 0.6zM581.5 336.6l-1.5 0.1l-1.0 -0.5l-0.6 -0.7l-0.3 -1.0l0.1 -1.0l0.2 -0.5l1.1 -1.1l1.0 -0.2l1.0 0.2l0.9 0.6l0.6 1.0l0.1 1.0l-0.4 1.0l-1.2 1.1zM149.0 333.1l-0.5 0.3l-0.5 -0.3l-0.0 -0.6l0.5 -0.3l0.5 0.2l0.0 0.7zM181.0 333.0l-0.5 0.2l-0.3 -0.2l0.1 -0.5l0.6 -0.0l0.1 0.5zM92.5 334.2l-0.5 0.2l-0.7 -0.4l-0.1 -0.5l0.3 -0.6l0.5 -0.1l0.6 0.2l0.2 0.5l-0.3 0.7zM437.5 333.1l-0.5 0.2l-0.1 -0.3l0.6 0.1zM496.5 334.0l-0.5 0.3l-0.5 -0.1l-0.3 -0.7l0.3 -0.5l0.7 -0.0l0.4 0.5l-0.1 0.5zM522.5 334.0l-0.5 0.3l-0.5 0.0l-0.4 -0.3l-0.1 -0.6l0.5 -0.6l0.5 -0.0l0.5 0.3l0.0 0.9zM307.5 334.1l-0.5 0.3l-0.5 -0.2l-0.3 -0.7l0.3 -0.3l0.5 -0.2l0.6 0.5l-0.1 0.6zM448.5 335.3l-0.5 0.1l-0.5 -0.3l-0.3 -0.6l0.3 -0.7l0.5 -0.3l0.5 0.0l0.5 0.5l0.0 0.8l-0.5 0.5zM543.0 337.7l-1.5 -0.2l-1.0 -1.0l-0.2 -1.5l0.6 -1.0l0.6 -0.5l1.0 -0.2l2.5 0.7l0.5 -0.5l0.7 0.0l0.4 0.5l-0.1 0.7l-0.5 0.4l-0.5 -0.1l-0.5 -0.6l0.5 0.6l-1.4 2.0l-1.1 0.7zM564.5 347.3l-2.0 0.0l-1.0 -0.8l-0.7 -1.0l-0.3 -1.8l-0.5 0.2l-1.0 -0.0l-1.0 -0.9l-0.3 -1.0l0.3 -0.8l0.5 -0.6l1.2 -0.6l-0.4 -1.0l-0.3 -1.2l-0.8 -1.3l-0.3 -1.0l0.1 -0.6l0.5 -0.9l1.0 -0.6l1.5 -0.0l0.9 0.6l0.3 0.5l0.3 1.0l1.0 1.3l0.3 0.7l0.1 1.0l-0.4 1.0l-0.5 0.5l-1.5 0.6l-0.4 0.4l0.3 0.5l0.0 1.0l2.1 -0.5l1.0 0.2l1.2 0.8l0.5 1.0l-0.0 1.5l-0.7 1.0l-1.0 0.8zM64.0 335.5l-0.5 -0.0l-0.5 -0.5l0.0 -0.6l0.5 -0.5l0.7 0.1l0.4 0.5l-0.1 0.6l-0.5 0.4zM114.0 335.2l-0.5 -0.1l-0.4 -0.6l0.1 -0.5l0.8 -0.4l0.5 0.3l0.2 0.6l-0.2 0.4l-0.5 0.3zM192.5 334.8l-0.5 -0.3l0.5 -0.5l0.3 0.5l-0.3 0.3zM49.0 336.0l-0.5 -0.1l-0.4 -0.4l0.0 -0.5l0.4 -0.5l0.5 -0.1l0.5 0.2l0.2 0.4l-0.2 0.7l-0.5 0.3zM354.5 334.6l-0.1 -0.1l0.1 -0.4l0.3 0.4l-0.3 0.1zM111.0 337.1l-0.5 -0.0l-0.5 -0.3l-0.3 -0.8l0.3 -0.8l0.5 -0.3l0.9 0.1l0.7 0.5l-0.3 1.0l-0.3 0.4l-0.5 0.2zM479.5 336.6l-0.4 -0.1l-0.2 -0.5l0.1 -0.4l0.5 -0.3l0.5 0.3l0.1 0.4l-0.1 0.4l-0.5 0.2zM507.0 338.2l-1.0 0.3l-1.1 -0.5l-0.4 -0.8l-0.0 -0.7l0.6 -1.0l0.9 -0.3l0.5 -0.0l1.0 0.7l0.2 1.1l-0.2 0.7l-0.5 0.5zM129.0 337.6l-1.5 0.2l-1.4 -0.3l-0.4 -0.5l0.0 -0.5l0.3 -0.3l1.5 -0.3l1.0 0.3l0.5 -0.1l0.5 0.3l0.1 0.6l-0.6 0.6zM206.5 336.3l-0.3 -0.3l0.3 -0.3l0.3 0.3l-0.3 0.3zM91.5 337.6l-0.5 0.2l-0.6 -0.3l-0.2 -0.5l0.3 -0.7l0.5 -0.1l0.6 0.3l0.2 0.5l-0.3 0.6zM162.0 337.3l-0.5 -0.1l-0.2 -0.2l0.2 -0.7l0.5 -0.1l0.3 0.3l0.0 0.5l-0.3 0.3zM95.0 339.8l-1.0 0.1l-0.8 -0.4l-1.0 -1.5l0.0 -0.5l0.6 -0.5l1.2 -0.3l0.5 -0.0l0.8 0.3l0.5 0.5l0.2 1.0l-0.5 1.0l-0.5 0.3zM134.5 338.2l-0.6 -0.2l-0.2 -0.5l0.2 -0.5l0.6 -0.2l0.5 0.2l0.1 0.5l-0.1 0.5l-0.5 0.2zM329.5 341.0l-1.0 0.3l-1.0 -0.0l-1.0 -0.6l-0.5 -0.7l-0.2 -0.5l0.0 -1.0l0.5 -1.0l0.7 -0.6l1.5 -0.3l1.0 0.4l0.6 0.5l0.5 1.0l-0.0 1.0l-0.5 1.0l-0.6 0.5zM513.0 338.1l-0.5 0.2l-0.5 -0.1l-0.4 -0.7l0.2 -0.5l0.7 -0.3l0.5 0.3l0.2 0.5l-0.2 0.6zM70.5 339.6l-0.6 -0.1l-0.4 -0.5l0.0 -0.5l0.5 -0.5l0.5 0.0l0.6 0.5l-0.1 0.7l-0.5 0.4zM154.5 338.7l-0.5 0.3l-0.5 -0.3l-0.1 -0.7l0.6 -0.3l0.5 0.2l0.0 0.8zM195.5 338.6l-0.2 -0.1l0.2 -0.6l0.2 0.6l-0.2 0.1zM471.5 338.5l-0.5 0.4l-0.5 -0.2l-0.2 -0.2l0.1 -0.5l0.6 -0.3l0.5 0.3l-0.0 0.5zM568.5 339.5l-0.8 -0.0l-0.4 -0.5l0.0 -0.5l0.6 -0.5l0.6 0.0l0.4 0.5l-0.0 0.5l-0.4 0.5zM119.5 340.7l-0.5 -0.1l-0.4 -0.6l0.1 -0.5l0.3 -0.3l0.5 -0.1l0.5 0.3l0.2 0.6l-0.2 0.5l-0.5 0.2zM206.5 340.3l-0.4 -0.3l0.4 -0.6l0.4 0.6l-0.4 0.3zM527.0 340.6l-0.5 0.1l-0.6 -0.2l-0.2 -0.5l0.3 -0.7l0.5 -0.2l0.7 0.4l0.1 0.5l-0.3 0.6zM535.5 342.1l-0.5 0.3l-1.0 -0.0l-1.0 -0.8l-0.2 -1.1l0.2 -0.6l0.5 -0.6l0.5 -0.2l1.0 0.1l0.6 0.3l0.4 0.5l0.1 1.0l-0.1 0.5l-0.5 0.6zM136.5 341.3l-0.5 0.2l-0.5 -0.2l-0.2 -0.8l0.2 -0.4l0.5 -0.1l0.5 0.1l0.2 0.4l-0.2 0.8zM509.0 342.6l-0.5 0.3l-1.0 -0.0l-0.5 -0.3l-0.5 -0.6l-0.1 -1.0l0.6 -1.1l0.5 -0.2l1.0 -0.0l0.5 0.2l0.5 0.6l0.1 1.0l-0.1 0.5l-0.5 0.6zM163.5 341.3l-0.5 -0.1l-0.2 -0.7l0.2 -0.3l0.5 -0.1l0.5 0.4l-0.0 0.5l-0.5 0.3zM569.5 345.0l-1.5 -0.5l-0.5 -0.5l-0.4 -1.0l0.3 -1.5l1.1 -1.3l1.0 0.1l1.0 0.4l0.5 0.3l0.6 1.0l0.1 1.0l-0.4 1.0l-0.8 0.7l-1.0 0.3zM87.0 343.6l-1.0 0.4l-0.5 -0.1l-0.7 -0.4l-0.5 -1.0l0.2 -0.9l0.5 -0.6l1.0 -0.3l0.5 0.0l0.9 0.8l0.3 1.0l-0.2 0.5l-0.5 0.6zM479.5 342.0l-0.5 -0.0l-0.4 -0.5l0.1 -0.5l0.3 -0.4l0.5 0.0l0.5 0.4l0.0 0.5l-0.5 0.5zM555.0 343.5l-0.5 -0.2l-0.2 -0.3l-0.1 -0.5l0.3 -0.5l0.5 -0.2l0.5 0.2l0.3 0.5l-0.1 0.5l-0.2 0.3l-0.5 0.2zM97.0 345.1l-1.0 0.4l-0.5 -0.0l-0.7 -0.5l-0.4 -0.5l-0.1 -1.0l0.6 -1.0l1.1 -0.3l0.9 0.3l0.5 0.5l0.2 0.5l-0.0 0.5l-0.6 1.1zM102.5 345.7l-1.0 0.1l-1.5 -1.2l-1.0 -1.4l0.2 -0.7l0.3 -0.2l0.5 -0.1l1.5 0.8l1.3 1.0l0.2 0.5l0.0 0.5l-0.5 0.7zM127.5 347.0l-1.5 -0.2l-0.8 -0.8l-0.3 -1.0l0.2 -1.0l0.4 -0.8l1.0 -0.8l1.0 -0.1l0.8 0.2l0.8 0.5l0.4 0.6l0.2 0.9l-0.2 1.0l-0.3 0.5l-0.7 0.6l-1.0 0.4zM177.0 343.5l-0.5 0.0l-0.4 -0.5l0.4 -0.6l0.5 0.0l0.3 0.6l-0.3 0.5zM308.0 343.3l-0.5 -0.0l-0.5 -0.3l0.5 -0.3l0.8 0.3l-0.3 0.3zM309.0 343.6l-0.4 -0.1l0.1 -0.5l0.3 -0.1l0.2 0.6l-0.2 0.1zM329.0 347.1l-1.0 0.3l-0.5 -0.1l-1.0 -0.6l-0.6 -0.7l-0.2 -1.0l0.2 -1.0l1.1 -1.1l1.0 -0.2l1.0 0.2l1.1 1.1l0.2 1.0l-0.2 1.0l-1.1 1.1zM463.5 343.9l-0.5 -0.1l-0.3 -0.3l0.0 -0.5l0.3 -0.3l0.5 -0.0l0.4 0.3l0.0 0.5l-0.4 0.4zM525.0 347.5l-1.5 0.1l-1.0 -0.6l-0.4 -0.5l-0.3 -1.0l0.2 -1.0l1.0 -1.1l1.0 -0.3l1.0 0.2l0.9 0.7l0.3 0.5l0.2 1.0l-0.3 1.0l-1.1 1.0zM546.0 358.0l-1.5 -0.5l-1.0 -1.3l-1.5 -0.1l-1.0 -0.5l-0.5 -0.6l-0.3 -1.0l0.1 -1.0l0.5 -1.0l0.1 -1.5l0.6 -0.9l0.9 -0.6l-0.5 -2.5l0.0 -1.0l0.5 -1.0l0.6 -0.6l1.0 -0.4l1.0 0.1l1.0 0.5l0.7 0.9l0.3 1.0l0.7 1.0l0.1 0.5l-0.1 1.5l-0.8 1.0l-1.5 1.0l-0.1 1.0l-0.4 1.0l0.1 0.1l0.5 -0.1l1.0 -1.1l1.0 -0.7l1.4 -0.2l-0.2 -1.0l0.2 -1.0l1.1 -1.1l1.0 -0.2l1.0 0.2l0.7 0.6l0.5 1.0l0.0 1.0l-0.5 1.0l-0.7 0.6l-1.0 0.2l-0.1 0.2l0.3 1.5l-0.6 1.5l-0.6 0.6l-1.5 0.6l-1.0 0.8l-1.5 0.5zM121.5 348.0l-1.5 0.4l-1.0 -0.3l-0.6 -0.6l-0.5 -1.0l0.1 -1.0l0.5 -1.0l0.5 -0.4l1.0 -0.3l1.0 0.1l0.8 0.6l0.4 0.5l0.3 1.5l-0.5 1.0l-0.5 0.5zM168.5 345.1l-0.5 0.1l-0.5 -0.2l-0.1 -0.5l0.4 -0.5l0.7 0.0l0.2 0.5l-0.2 0.6zM491.0 346.6l-0.5 0.3l-1.0 -0.0l-0.5 -0.3l-0.5 -0.6l-0.1 -1.0l0.6 -1.1l0.5 -0.2l1.0 -0.0l0.5 0.2l0.5 0.6l0.1 1.0l-0.1 0.5l-0.5 0.6zM532.0 347.5l-1.5 0.2l-1.3 -0.7l-0.6 -1.0l-0.1 -0.5l0.3 -1.0l0.4 -0.5l0.8 -0.4l1.0 -0.0l0.9 0.4l0.5 0.5l0.4 0.5l0.2 1.0l-0.4 1.0l-0.6 0.5zM142.5 346.5l-0.5 0.0l-0.5 -0.2l-0.5 -0.8l0.5 -1.0l0.5 -0.2l0.9 0.2l0.4 0.5l-0.1 1.0l-0.7 0.5zM353.0 344.8l-0.2 -0.3l0.2 -0.2l0.5 0.2l-0.5 0.3zM455.0 345.2l-0.5 0.0l-0.3 -0.2l-0.1 -0.5l0.4 -0.4l0.5 0.0l0.3 0.4l-0.1 0.5l-0.2 0.2zM64.5 346.6l-0.5 -0.1l-0.3 -0.5l0.1 -0.5l0.2 -0.4l0.5 -0.2l0.5 0.2l0.2 0.4l0.1 0.5l-0.3 0.5l-0.5 0.1zM79.0 346.1l-0.5 0.1l-0.5 -0.2l-0.2 -0.5l0.1 -0.5l0.6 -0.4l0.5 0.1l0.3 0.3l0.1 0.5l-0.4 0.6zM149.0 346.0l-0.5 0.1l-0.5 -0.1l-0.3 -0.5l0.3 -0.7l0.5 -0.2l0.7 0.4l0.1 0.5l-0.3 0.5zM496.5 346.6l-0.5 0.2l-0.6 -0.3l-0.2 -0.5l0.3 -0.7l0.5 -0.1l0.6 0.3l0.2 0.5l-0.3 0.6zM582.0 348.8l-0.5 0.2l-1.0 -0.1l-0.8 -0.9l-0.1 -1.0l0.4 -0.8l0.5 -0.4l1.0 -0.1l0.7 0.3l0.5 0.5l0.1 0.5l-0.1 1.0l-0.7 0.8zM84.5 350.0l-0.5 0.1l-0.5 -0.3l-0.9 -1.3l-0.1 -1.7l0.5 -0.7l0.5 -0.0l0.5 0.3l0.7 1.1l0.2 2.0l-0.4 0.5zM113.0 352.5l-1.0 0.1l-1.0 -0.5l-0.4 -0.6l-0.2 -1.0l-0.4 -0.5l-0.6 0.5l-0.9 0.2l-1.0 -0.2l-0.5 -0.3l-0.6 -0.7l-0.2 -1.0l0.2 -1.0l0.4 -0.5l1.2 -0.7l1.0 0.0l1.0 0.6l0.4 0.6l0.2 1.5l0.4 0.4l1.0 -0.5l0.8 0.1l0.7 0.3l0.5 0.7l0.2 1.0l-0.5 1.0l-0.7 0.5zM179.5 348.1l-0.5 0.2l-0.5 -0.2l0.0 -0.8l0.5 -0.3l0.5 0.3l0.0 0.8zM464.5 348.5l-0.5 0.2l-0.5 -0.2l-0.2 -0.5l0.2 -0.6l0.5 -0.2l0.5 0.3l0.2 0.5l-0.2 0.5zM150.5 349.2l-0.5 0.1l-0.6 -0.3l-0.1 -0.5l0.2 -0.6l0.5 -0.2l0.7 0.3l0.2 0.5l-0.4 0.7zM323.0 430.5l-0.5 0.1l-1.5 -0.5l-0.7 -0.6l-0.6 -1.5l-0.7 -0.2l-1.4 -1.3l0.0 -2.0l0.9 -1.0l-0.0 -0.5l-0.4 -0.5l-0.0 -2.0l1.3 -1.5l-0.3 -0.5l-0.2 -1.0l0.2 -1.0l0.6 -1.0l-0.6 -1.0l-0.2 -1.0l0.2 -1.0l0.3 -0.5l-0.4 -0.2l-1.4 -1.3l0.0 -2.0l2.0 -2.0l-1.0 -1.0l-0.8 -1.5l-0.8 -0.1l-1.4 -1.4l-0.2 -1.0l0.2 -1.0l0.8 -1.0l-0.8 -1.5l0.0 -1.0l0.5 -1.0l1.0 -1.0l-0.5 -0.5l0.0 -2.0l3.1 -3.0l0.1 -0.5l-0.2 -1.0l-0.6 -0.2l-1.4 -1.3l0.0 -2.0l0.8 -1.0l-0.8 -1.0l-0.2 -1.0l0.2 -1.0l0.9 -1.3l0.0 -0.2l-0.4 -0.5l0.0 -2.0l3.1 -3.0l-0.2 -1.5l0.2 -1.0l0.8 -1.0l1.0 -0.5l-0.3 -1.0l0.0 -1.0l0.5 -1.0l0.8 -0.7l0.2 -0.3l-0.5 -1.0l-0.0 -1.0l0.9 -1.5l-0.5 -0.5l-0.1 -0.7l-0.3 -0.3l-0.0 -1.0l0.3 -0.4l0.1 -0.6l0.9 -0.9l0.3 -0.1l0.0 -0.5l-0.5 -0.5l-0.5 -1.5l0.5 -1.5l0.7 -0.7l1.0 -0.3l0.2 -0.5l-0.9 -1.0l-0.2 -1.0l0.2 -1.0l0.9 -1.0l1.3 -0.5l1.0 0.3l0.8 0.7l0.4 0.5l0.2 1.0l-0.2 1.0l-0.7 0.8l-0.5 0.3l-1.3 0.4l0.8 0.2l0.7 0.8l0.5 1.5l-0.5 1.5l-0.7 0.6l-0.6 0.4l1.5 1.5l-0.0 2.0l-0.9 1.0l-0.1 0.5l0.4 0.5l-0.0 2.0l-0.8 0.9l-1.0 0.6l0.3 1.5l-0.2 1.0l-0.6 0.7l-1.0 0.8l0.4 1.0l-0.0 1.0l-0.4 0.9l-0.6 0.6l-0.0 0.5l0.4 0.5l0.1 1.5l-0.1 0.5l-0.9 1.0l0.0 0.5l0.5 1.0l-0.0 1.0l-0.1 0.5l-0.9 1.0l0.6 0.7l0.5 0.2l1.0 -0.8l1.0 -0.2l1.2 0.6l0.6 1.0l-0.2 1.5l-0.9 1.0l0.9 1.0l0.2 1.5l-0.2 0.5l-0.9 1.0l0.9 1.0l0.3 1.0l-0.3 1.0l-0.9 1.0l0.9 1.0l0.3 1.0l-0.3 1.0l-0.9 1.0l0.9 1.0l0.3 1.0l-0.3 1.0l-0.9 1.0l0.9 1.0l0.3 1.0l-0.3 1.0l-0.9 1.0l0.9 1.0l0.3 1.0l-0.3 1.0l-0.9 1.0l0.9 1.0l0.3 1.0l-0.3 1.0l-0.9 1.0l0.9 1.0l0.3 1.0l-0.3 1.0l-0.6 0.6l-1.0 0.5l-1.5 -0.2l-0.6 0.6l0.4 0.5l0.1 1.5l-0.1 0.5l-0.9 1.0l-0.0 0.5l0.5 1.0l-0.0 1.0l-0.7 1.5l0.5 0.5l0.5 1.5l-0.5 1.5l-0.7 0.6l-1.0 0.4zM509.5 350.1l-0.6 -0.1l-0.4 -0.5l0.0 -0.5l0.5 -0.5l0.5 0.0l0.6 0.5l-0.1 0.7l-0.5 0.4zM517.0 352.5l-0.8 -0.0l-0.7 -0.4l-0.6 -1.1l0.1 -1.0l0.3 -0.5l0.6 -0.5l0.6 -0.2l1.0 0.2l0.5 0.3l0.6 1.2l-0.1 0.6l-0.5 0.9l-1.0 0.5zM133.0 350.8l-0.5 -0.0l-0.5 -0.6l0.2 -0.7l0.3 -0.2l0.5 -0.1l0.5 0.4l0.0 0.9l-0.5 0.3zM190.0 350.6l-0.4 -0.1l-0.2 -0.5l0.1 -0.4l0.5 -0.3l0.5 0.3l0.1 0.4l-0.1 0.4l-0.5 0.2zM448.0 350.7l-0.5 -0.2l-0.2 -0.5l0.2 -0.4l0.5 -0.2l0.5 0.1l0.2 0.5l-0.2 0.5l-0.5 0.2zM495.0 353.5l-1.0 -0.1l-0.7 -0.4l-0.5 -0.5l-0.3 -1.0l0.1 -1.0l0.4 -0.6l0.5 -0.5l1.0 -0.3l1.5 0.4l0.5 0.5l0.4 1.0l-0.1 1.0l-0.3 0.6l-0.5 0.5l-1.0 0.4zM440.5 352.1l-1.0 0.1l-0.5 -0.2l-0.5 -1.0l0.5 -1.0l1.0 -0.2l0.5 0.2l0.4 0.5l0.1 1.0l-0.5 0.6zM104.0 355.1l-1.5 -0.2l-1.0 -0.8l-0.3 -0.6l-0.1 -1.5l0.2 -0.5l0.7 -0.7l1.0 -0.3l1.0 0.1l0.8 0.4l0.7 1.0l0.3 1.0l-0.2 1.0l-1.6 1.1zM183.5 352.1l-0.5 0.2l-0.5 -0.2l-0.2 -0.6l0.2 -0.4l0.5 -0.2l0.5 0.2l0.2 0.4l-0.2 0.6zM538.5 354.6l-1.5 0.0l-1.1 -1.1l0.0 -1.5l1.1 -1.1l0.5 -0.2l1.0 0.1l0.5 0.3l0.7 0.9l-0.0 1.5l-1.2 1.1zM308.5 351.6l0.0 -0.2l0.3 0.1l-0.3 0.1zM474.5 355.1l-1.3 -0.1l-0.6 -0.5l-0.3 -0.5l-0.2 -0.5l0.2 -1.0l0.4 -0.5l0.8 -0.5l1.0 -0.0l0.5 0.2l0.5 0.5l0.3 0.8l0.1 0.5l-0.4 0.9l-1.0 0.7zM141.5 356.2l-1.0 0.1l-0.9 -0.3l-0.6 -0.5l-0.6 -1.0l0.0 -1.0l0.2 -0.5l0.4 -0.5l1.0 -0.6l1.0 -0.1l0.8 0.2l0.7 0.6l0.4 0.9l-0.1 1.5l-0.4 0.5l-0.9 0.7zM158.0 354.6l-1.0 0.3l-0.5 -0.2l-0.9 -0.7l-0.2 -1.0l0.6 -1.1l0.5 -0.2l1.0 -0.1l1.0 0.7l0.2 1.2l-0.2 0.6l-0.5 0.5zM311.0 352.6l-0.3 -0.1l-0.2 -0.5l0.5 -0.1l0.2 0.1l-0.2 0.6zM519.5 367.6l-1.5 0.0l-1.0 -0.6l-0.6 -1.0l-0.0 -1.5l0.7 -1.0l1.4 -0.7l1.0 0.2l1.0 0.7l0.2 -2.2l0.8 -1.1l1.0 -0.6l1.5 -0.1l1.8 -1.2l0.2 -2.2l-1.3 -0.8l-0.3 -0.5l-0.2 -1.0l0.3 -1.2l1.0 -0.9l1.0 -0.2l1.0 0.2l0.8 0.6l0.7 1.1l1.5 -0.1l1.0 0.5l0.7 1.0l0.2 1.0l-0.2 1.0l0.3 0.3l1.0 0.4l1.5 -1.4l1.0 -0.1l1.0 0.2l1.1 1.1l0.3 1.5l-0.1 2.0l-0.2 0.5l-0.6 0.8l-1.1 0.7l-0.5 1.5l-0.7 1.0l-1.2 0.8l-2.0 0.0l-1.2 -0.8l-0.7 -1.0l-0.1 -1.0l-0.3 -0.5l0.1 -1.0l0.2 -0.5l-0.5 -0.7l-0.5 0.2l-0.5 1.5l-1.0 0.8l-1.0 0.2l-0.3 1.0l-0.8 1.0l-0.9 0.7l-2.0 0.0l-1.0 -0.8l-0.2 0.1l-0.8 1.4l-1.0 0.7zM133.0 357.2l-1.0 0.1l-1.0 -0.2l-0.8 -0.6l-0.6 -1.0l-0.1 -1.0l0.3 -1.0l0.7 -0.7l1.0 -0.6l1.5 -0.0l1.2 0.8l0.6 1.0l-0.0 1.5l-0.8 1.0l-1.0 0.7zM480.0 354.1l-0.5 -0.1l-0.3 -0.5l0.1 -0.5l0.2 -0.4l0.5 -0.2l0.5 0.2l0.2 0.4l0.1 0.5l-0.3 0.5l-0.5 0.1zM507.5 357.1l-1.5 0.0l-1.0 -0.6l-0.7 -1.0l-0.1 -1.0l0.3 -1.0l0.5 -0.7l1.0 -0.5l1.0 -0.1l0.9 0.3l0.7 0.5l0.5 1.0l0.0 1.5l-0.6 0.9l-1.0 0.7zM118.5 355.1l-0.5 -0.0l-0.5 -0.3l-0.3 -0.8l0.3 -0.8l0.5 -0.3l1.0 0.2l0.5 0.9l-0.5 0.9l-0.5 0.2zM447.5 354.0l-0.5 -0.0l-0.4 -0.5l0.1 -0.5l0.3 -0.3l0.5 -0.1l0.5 0.4l0.0 0.5l-0.5 0.5zM108.0 354.7l-0.5 0.1l-0.6 -0.3l-0.1 -0.5l0.2 -0.6l0.5 -0.2l0.7 0.3l0.2 0.5l-0.4 0.7zM163.0 354.7l-0.5 0.1l-0.6 -0.3l-0.1 -0.5l0.2 -0.6l0.5 -0.2l0.7 0.3l0.2 0.5l-0.4 0.7zM432.5 354.6l-0.3 -0.1l-0.3 -0.5l0.1 -0.3l0.5 -0.3l0.3 0.1l0.3 0.5l-0.1 0.3l-0.5 0.3zM516.5 358.2l-1.5 -0.2l-0.6 -0.5l-0.6 -1.0l0.2 -1.5l0.5 -0.6l1.0 -0.5l1.5 0.1l0.6 0.5l0.6 1.0l-0.2 1.5l-0.5 0.7l-1.0 0.5zM206.0 355.3l-0.5 0.1l-0.4 -0.4l0.1 -0.5l0.3 -0.3l0.5 0.0l0.2 0.3l0.1 0.5l-0.3 0.3zM352.0 354.9l-0.4 -0.4l0.4 -0.3l0.4 0.3l-0.4 0.4zM93.5 356.2l-0.5 0.0l-0.5 -0.3l0.0 -0.9l0.5 -0.3l0.5 0.0l0.5 0.6l-0.2 0.7l-0.3 0.2zM195.0 356.1l-0.5 0.0l-0.5 -0.6l0.5 -0.7l0.5 0.1l0.4 0.6l-0.4 0.6zM318.0 358.1l-1.0 -0.2l-0.4 -0.9l0.4 -0.9l0.5 -0.2l0.5 0.0l0.5 0.3l0.3 0.8l-0.3 0.8l-0.5 0.3zM423.5 356.6l-0.5 0.2l-0.3 -0.3l0.0 -0.5l0.3 -0.2l0.5 0.2l0.0 0.6zM122.0 361.1l-1.5 -0.3l-0.5 -0.4l-0.6 -0.9l-0.1 -1.0l0.3 -1.0l0.4 -0.5l1.0 -0.6l1.0 -0.1l1.0 0.4l0.8 0.8l0.3 1.0l-0.1 1.0l-0.5 0.8l-0.5 0.4l-1.0 0.4zM129.0 362.1l-1.0 0.1l-1.0 -0.3l-1.0 -1.0l-0.8 -1.4l0.0 -1.5l0.7 -1.0l0.6 -0.4l1.0 -0.2l1.0 0.3l1.0 1.0l0.7 1.3l0.2 1.0l-0.2 1.0l-0.4 0.5l-0.8 0.6zM198.0 357.8l-0.8 -0.3l-0.1 -0.5l0.4 -0.5l0.5 -0.0l0.5 0.5l-0.1 0.5l-0.4 0.3zM561.5 359.6l-1.0 -0.0l-0.5 -0.2l-0.9 -0.9l-0.0 -1.0l0.2 -0.5l1.2 -0.8l1.0 -0.1l1.0 0.4l0.6 1.0l-0.1 1.0l-0.4 0.5l-1.1 0.6zM146.5 358.7l-0.8 -0.2l-0.3 -0.5l0.1 -0.5l0.5 -0.3l0.5 -0.0l0.4 0.3l0.1 0.6l-0.5 0.6zM163.5 358.7l-0.5 -0.1l-0.4 -0.6l0.1 -0.5l0.3 -0.3l0.5 -0.1l0.5 0.3l0.2 0.6l-0.2 0.5l-0.5 0.2zM494.5 358.6l-0.5 0.2l-0.6 -0.3l-0.2 -0.5l0.3 -0.7l0.5 -0.1l0.6 0.3l0.2 0.5l-0.3 0.6zM500.0 361.0l-1.0 0.1l-0.5 -0.1l-0.9 -1.0l-0.1 -1.0l0.1 -0.5l0.9 -0.9l0.5 -0.2l1.0 0.1l1.0 1.0l0.1 0.5l-0.1 1.0l-0.3 0.5l-0.7 0.5zM432.0 359.3l-0.5 -0.0l-0.3 -0.3l-0.0 -0.5l0.3 -0.4l0.5 -0.0l0.4 0.4l-0.0 0.5l-0.4 0.3zM459.0 361.6l-0.5 0.2l-1.0 0.0l-0.6 -0.3l-0.5 -0.5l-0.2 -0.5l0.0 -1.0l0.3 -0.6l0.5 -0.5l0.5 -0.2l1.0 0.0l0.6 0.3l0.5 0.5l0.2 0.5l-0.0 1.0l-0.3 0.6l-0.5 0.5zM481.0 361.6l-1.0 -0.1l-0.5 -0.4l-0.5 -1.1l0.5 -1.2l1.0 -0.5l0.9 0.2l0.6 0.4l0.4 1.1l-0.4 1.0l-1.0 0.6zM99.5 360.1l-0.5 0.2l-0.6 -0.3l-0.2 -0.5l0.3 -0.7l0.5 -0.1l0.6 0.3l0.2 0.5l-0.3 0.6zM173.0 361.5l-0.5 0.2l-1.0 0.0l-0.5 -0.2l-0.5 -0.5l-0.1 -1.0l0.1 -0.6l0.5 -0.6l0.5 -0.2l1.0 -0.0l0.5 0.2l0.5 0.6l0.1 1.1l-0.6 1.0zM220.5 360.0l-0.5 -0.5l0.5 -0.6l0.5 0.6l-0.5 0.5zM312.0 360.2l-0.6 -0.2l0.1 -0.5l0.6 0.0l0.1 0.5l-0.2 0.2zM464.5 360.6l-0.5 0.2l-0.6 -0.3l-0.2 -0.5l0.3 -0.7l0.5 -0.1l0.6 0.3l0.2 0.5l-0.3 0.6zM119.0 365.0l-0.5 0.2l-1.0 -0.0l-1.3 -0.7l-0.6 -1.0l-0.2 -1.0l0.3 -1.0l0.3 -0.5l1.0 -0.7l1.0 -0.2l1.0 0.2l1.3 1.2l0.3 1.0l-0.1 1.0l-0.6 1.0l-0.9 0.5zM146.5 364.6l-1.0 0.3l-1.0 -0.2l-0.5 -0.3l-0.7 -0.9l-0.2 -1.0l0.3 -1.0l1.1 -1.0l1.5 -0.2l1.0 0.6l0.4 0.6l0.3 1.0l-0.2 1.0l-1.0 1.1zM210.5 361.7l-0.6 -0.2l-0.2 -0.5l0.2 -0.5l0.6 -0.2l0.4 0.2l0.2 0.5l-0.2 0.5l-0.4 0.2zM317.5 362.6l-1.0 -0.2l-0.6 -0.9l0.1 -0.5l0.3 -0.5l0.7 -0.4l1.0 0.3l0.4 0.6l-0.1 1.0l-0.8 0.6zM491.0 365.2l-2.0 0.0l-0.9 -0.7l-0.7 -1.0l-0.1 -0.5l0.1 -1.0l0.5 -1.0l1.1 -0.8l1.0 -0.2l1.0 0.2l1.1 0.8l0.5 1.0l0.1 1.0l-0.1 0.5l-0.7 1.0l-0.9 0.7zM155.5 365.7l-1.0 0.1l-0.8 -0.3l-0.7 -0.5l-0.5 -1.0l-0.1 -1.0l0.2 -0.5l0.4 -0.7l1.0 -0.6l1.0 -0.2l1.0 0.3l1.0 1.2l0.2 1.0l-0.3 1.0l-0.4 0.6l-1.0 0.6zM219.5 362.2l-0.5 0.3l-0.5 -0.3l-0.1 -0.2l0.1 -0.6l0.5 -0.3l0.5 0.3l0.1 0.6l-0.1 0.2zM137.0 369.1l-1.5 0.3l-2.0 -0.2l-1.2 -1.2l-0.3 -1.2l-1.5 -0.2l-0.9 -0.6l-0.7 -1.0l-0.1 -0.5l0.1 -1.0l0.6 -1.1l1.0 -0.6l1.5 -0.0l1.1 0.7l0.9 1.3l1.0 -0.2l1.5 0.1l1.0 0.5l1.1 1.3l0.2 1.5l-0.5 1.0l-1.3 1.1zM177.0 363.4l-0.5 0.0l-0.5 -0.4l0.0 -0.8l0.5 -0.3l0.7 0.1l0.3 0.5l-0.1 0.5l-0.4 0.4zM351.5 363.8l-0.5 -0.3l0.5 -0.5l0.3 0.5l-0.3 0.3zM501.5 367.5l-1.0 -0.2l-0.6 -0.3l-0.5 -0.5l-0.3 -1.0l0.4 -1.5l0.5 -0.5l1.0 -0.4l1.0 0.1l0.6 0.3l0.5 0.5l0.4 1.0l-0.1 1.0l-0.4 0.7l-0.5 0.4l-1.0 0.4zM221.5 364.5l-0.5 0.2l-0.5 -0.2l-0.0 -0.5l0.5 -0.4l0.5 0.4l0.0 0.5zM477.0 366.6l-0.5 0.3l-1.0 -0.0l-0.5 -0.3l-0.5 -0.6l-0.1 -1.0l0.6 -1.1l0.5 -0.2l1.0 -0.0l0.5 0.3l0.5 0.5l0.1 1.0l-0.1 0.5l-0.5 0.6zM512.5 369.8l-1.0 0.0l-0.3 -0.3l-0.7 -0.1l-1.3 -1.4l-0.1 -0.5l0.0 -2.0l1.4 -1.4l1.0 -0.5l1.5 0.2l1.9 1.7l-0.1 2.5l-1.3 1.4l-0.7 0.1l-0.3 0.3zM321.5 366.6l-1.0 -0.2l-0.6 -0.9l0.3 -1.0l0.8 -0.4l1.0 0.3l0.4 0.6l-0.2 1.0l-0.7 0.6zM443.0 367.6l-0.5 0.2l-1.0 0.0l-0.6 -0.3l-0.5 -0.5l-0.2 -0.5l0.0 -1.0l0.3 -0.6l0.5 -0.5l0.5 -0.2l1.0 0.0l0.6 0.3l0.5 0.5l0.2 0.5l-0.0 1.0l-0.2 0.5l-0.6 0.6zM95.5 366.8l-1.0 -0.1l-0.5 -0.7l-0.0 -0.5l0.2 -0.5l0.8 -0.4l1.0 0.4l0.2 0.5l-0.2 1.0l-0.5 0.3zM107.5 366.5l-0.5 -0.3l-0.2 -0.7l0.2 -0.4l0.5 -0.2l0.5 0.0l0.4 0.6l-0.0 0.5l-0.4 0.4l-0.5 0.1zM161.0 366.5l-0.5 -0.2l-0.2 -0.3l-0.1 -0.5l0.3 -0.5l0.5 -0.2l0.5 0.2l0.3 0.5l-0.1 0.5l-0.2 0.3l-0.5 0.2zM185.5 367.6l-0.5 -0.0l-0.5 -0.3l-0.3 -0.8l0.3 -0.8l0.5 -0.3l1.0 0.2l0.5 0.9l-0.5 0.9l-0.5 0.2zM542.5 370.1l-1.0 -0.2l-0.8 -0.4l-0.5 -0.5l-0.5 -1.0l0.0 -1.0l0.3 -0.7l0.5 -0.6l1.0 -0.5l1.0 -0.1l1.0 0.3l0.7 0.6l0.5 1.0l0.1 1.0l-0.4 1.0l-0.9 0.8l-1.0 0.3zM191.0 368.1l-0.6 -0.1l-0.4 -0.5l0.0 -0.5l0.5 -0.5l0.5 0.0l0.6 0.5l-0.1 0.7l-0.5 0.4zM468.0 369.7l-0.5 0.1l-1.0 -0.1l-0.5 -0.4l-0.5 -0.8l0.0 -1.1l0.5 -0.8l0.5 -0.3l0.5 -0.2l1.0 0.1l0.5 0.3l0.5 0.7l0.2 0.8l-0.2 0.7l-0.5 0.7l-0.5 0.3zM483.5 369.7l-1.0 0.2l-0.5 -0.2l-0.5 -0.2l-0.5 -0.7l-0.2 -0.8l0.2 -0.7l0.5 -0.7l0.5 -0.3l0.5 -0.1l1.0 0.1l0.5 0.4l0.5 0.8l0.0 1.0l-0.5 0.9l-0.5 0.3zM446.5 368.6l-0.5 0.2l-0.6 -0.3l-0.2 -0.5l0.3 -0.7l0.5 -0.1l0.6 0.3l0.2 0.5l-0.3 0.6zM474.0 372.5l-1.5 -0.5l-0.8 -1.0l-0.2 -1.0l0.5 -1.5l1.0 -0.8l1.0 -0.2l1.5 0.5l0.8 1.0l0.2 1.0l-0.5 1.5l-1.0 0.8l-1.0 0.2zM114.0 371.0l-0.5 0.2l-1.0 -0.1l-0.8 -0.6l-0.2 -0.5l0.0 -1.0l0.4 -0.5l0.6 -0.5l1.1 -0.0l0.7 0.5l0.3 0.5l0.1 1.0l-0.2 0.5l-0.5 0.5zM159.0 372.5l-1.0 0.2l-1.0 -0.1l-0.9 -0.6l-0.3 -0.5l-0.3 -1.5l0.4 -1.0l0.6 -0.6l1.0 -0.4l1.0 0.0l0.9 0.5l0.6 0.7l0.3 0.8l-0.1 1.0l-0.5 1.0l-0.7 0.5zM141.5 372.6l-1.0 0.1l-1.0 -0.3l-0.5 -0.4l-0.5 -1.0l0.1 -1.5l0.4 -0.6l1.0 -0.7l1.5 0.1l1.0 0.7l0.3 0.5l0.2 1.0l-0.3 1.0l-0.4 0.5l-0.8 0.6zM516.5 374.2l-1.0 0.0l-1.0 -0.4l-0.8 -0.8l-0.5 -1.0l-0.0 -1.5l0.5 -1.0l1.3 -0.8l1.0 -0.2l1.5 0.4l0.8 0.6l0.5 1.0l0.0 1.5l-0.5 1.0l-0.8 0.8l-1.0 0.4zM129.0 375.2l-1.5 0.1l-0.5 -0.2l-0.7 -0.6l-0.5 -0.5l-0.1 -0.5l0.0 -1.5l0.7 -1.0l0.6 -0.4l1.5 -0.4l1.5 -0.9l1.0 0.0l1.0 0.5l0.7 0.7l0.5 1.0l0.0 1.0l-0.5 1.0l-0.7 0.8l-1.0 0.4l-1.5 0.2l-0.5 0.3zM501.5 380.6l-0.5 0.3l-2.0 -0.0l-1.0 -0.6l-0.6 -0.8l-0.3 -0.5l-0.1 -1.6l-0.5 0.4l-0.5 0.0l-1.5 -0.5l-1.3 -1.3l-0.1 -2.5l1.9 -1.8l1.5 -0.1l1.0 0.5l1.4 1.4l0.1 1.6l0.8 -0.1l1.7 -1.9l2.3 -0.1l-0.2 -1.0l0.2 -1.0l1.7 -1.9l2.5 0.1l1.4 1.3l0.1 0.7l0.3 0.3l-0.0 1.0l-0.3 0.3l-0.1 0.7l-1.4 1.3l-2.5 0.0l0.3 1.2l-0.4 1.5l-1.4 1.3l-1.1 0.2l-0.6 1.0l-0.8 0.6zM170.0 374.1l-1.5 0.2l-0.9 -0.3l-0.6 -0.6l-0.4 -0.9l-0.0 -1.0l0.4 -1.0l0.6 -0.5l0.9 -0.4l1.0 0.1l1.0 0.5l0.6 0.8l0.2 1.0l-0.2 1.0l-1.1 1.1zM199.0 374.3l-0.5 0.1l-0.5 -0.3l-0.2 -0.6l0.4 -1.0l0.3 -1.4l0.5 -1.1l1.0 -0.5l0.5 0.1l1.0 0.6l0.3 0.8l0.0 0.5l-0.6 1.0l-1.2 0.9l-0.6 0.1l-0.1 0.5l-0.3 0.3zM426.5 373.7l-0.5 -0.0l-1.0 -0.7l-0.4 -1.0l0.2 -1.5l0.4 -0.5l0.8 -0.5l0.5 0.0l1.0 0.5l0.3 0.5l0.3 1.0l-0.1 0.7l-0.5 0.9l-1.0 0.6zM337.5 372.2l-0.5 0.1l-1.0 -0.8l-0.0 -0.5l0.5 -0.5l0.7 0.0l0.7 0.5l0.1 0.5l-0.5 0.7zM461.5 374.6l-0.7 -0.1l-0.8 -0.4l-0.5 -1.1l0.0 -0.7l0.4 -0.8l1.1 -0.6l1.0 0.1l0.5 0.3l0.5 0.7l0.2 0.5l-0.2 1.0l-0.4 0.5l-1.1 0.6zM205.5 375.6l-0.5 0.3l-0.5 -0.1l-0.3 -0.3l-0.1 -0.5l0.6 -1.0l0.3 -1.5l-0.1 -0.5l0.1 -0.5l0.5 -0.3l0.5 0.0l0.3 0.3l0.2 0.5l-0.2 0.5l-0.5 0.5l0.1 0.5l-0.4 1.0l0.2 0.5l-0.2 0.6zM351.0 372.1l-0.6 -0.1l0.1 -0.6l0.5 -0.1l0.2 0.2l-0.2 0.6zM433.0 376.6l-1.0 0.2l-1.0 -0.7l-0.3 -0.6l0.1 -1.5l-0.3 -1.0l0.7 -1.5l0.3 -0.2l0.5 -0.0l0.5 0.2l0.5 1.2l0.0 0.8l0.5 1.1l0.1 0.9l-0.6 1.1zM175.5 373.5l-0.8 -0.0l-0.4 -0.5l0.0 -0.5l0.6 -0.5l0.6 0.0l0.4 0.5l-0.0 0.5l-0.4 0.5zM142.0 391.7l-1.5 -0.1l-1.2 -1.1l-1.1 -3.5l0.1 -1.0l0.7 -1.0l-1.0 -0.2l-1.3 -1.3l-0.4 -1.0l0.1 -1.0l0.5 -1.0l1.1 -0.8l1.0 -0.2l1.0 0.2l0.7 -1.7l0.8 -0.7l1.5 -0.4l1.0 0.2l0.2 -0.1l1.4 -1.5l0.1 -1.5l1.8 -1.8l4.5 0.0l1.8 1.8l0.1 2.0l-0.6 1.0l-0.8 0.7l-0.5 0.2l-1.0 0.3l-1.2 -0.2l0.0 1.0l-0.5 1.0l-0.8 0.8l-1.5 0.5l-1.1 -0.3l-0.4 0.2l-1.0 1.2l-1.0 0.4l-1.0 -0.0l-0.6 -0.3l-0.7 1.5l0.2 0.5l0.9 0.5l0.8 1.0l0.2 1.5l0.6 1.5l-0.3 1.5l-0.6 0.7l-1.0 0.5zM487.5 377.1l-1.5 0.0l-1.0 -0.6l-0.7 -1.0l-0.1 -1.0l0.3 -1.0l0.5 -0.7l1.0 -0.5l1.0 -0.1l0.9 0.3l0.7 0.5l0.5 1.0l0.0 1.5l-0.6 0.9l-1.0 0.7zM111.5 376.1l-1.0 0.1l-0.5 -0.1l-0.5 -0.4l-0.5 -0.7l-0.0 -1.0l0.2 -0.5l0.8 -0.8l0.5 -0.2l1.0 0.1l0.5 0.4l0.5 0.6l0.1 1.4l-0.6 0.8l-0.5 0.3zM124.0 376.1l-1.0 0.1l-0.5 -0.1l-0.5 -0.4l-0.5 -0.7l-0.0 -1.0l0.2 -0.5l0.8 -0.8l0.5 -0.2l1.0 0.1l0.5 0.4l0.5 0.6l0.1 1.4l-0.6 0.8l-0.5 0.3zM453.5 376.6l-0.7 -0.1l-0.8 -0.4l-0.5 -1.1l0.0 -0.7l0.4 -0.8l1.1 -0.6l1.0 0.1l0.5 0.3l0.5 0.7l0.2 0.5l-0.2 1.0l-0.4 0.5l-1.1 0.6zM466.0 377.5l-1.0 -0.3l-0.5 -0.3l-0.5 -0.7l-0.2 -0.7l0.1 -1.0l0.6 -0.9l0.5 -0.3l1.0 -0.3l1.0 0.3l0.5 0.3l0.6 0.9l0.1 1.0l-0.2 0.7l-0.5 0.7l-0.5 0.3l-1.0 0.3zM527.5 379.1l-1.0 0.3l-2.0 -0.2l-1.3 -1.2l-0.3 -1.5l0.3 -1.0l1.3 -1.3l1.0 -0.5l1.5 0.0l1.0 0.5l0.8 0.8l0.5 1.0l-0.0 1.0l-0.5 1.0l-1.3 1.1zM163.0 385.3l-1.0 -0.0l-0.3 -0.3l-0.7 -0.2l-0.9 -0.8l-0.5 -1.0l-0.0 -0.5l0.1 -1.5l0.4 -0.5l0.9 -0.9l1.0 -0.6l0.5 -0.0l-1.0 -0.3l-0.5 -0.4l-0.6 -0.8l-0.1 -1.0l0.2 -1.0l0.5 -0.8l0.5 -0.5l1.0 -0.2l1.0 0.1l0.5 0.5l0.7 0.9l0.2 1.0l-0.4 1.5l-1.0 0.8l-0.9 0.2l0.9 0.1l0.3 0.4l0.7 0.3l0.9 1.2l0.3 1.0l-0.3 1.5l-1.4 1.4l-1.0 0.4zM173.0 379.6l-1.0 0.2l-1.0 -0.2l-0.7 -0.6l-0.7 -1.0l-0.2 -1.0l0.2 -1.0l0.6 -1.0l0.8 -0.6l1.0 -0.2l1.0 0.2l0.8 0.6l0.6 1.0l0.2 1.0l-0.2 1.0l-0.7 1.0l-0.7 0.6zM459.0 379.2l-2.0 0.0l-0.9 -0.7l-0.7 -1.0l-0.1 -1.5l0.6 -1.0l1.1 -0.8l1.0 -0.2l1.0 0.2l1.0 0.6l0.6 1.2l0.1 1.0l-0.1 0.5l-0.7 1.0l-0.9 0.7zM215.5 378.6l-0.5 0.1l-1.0 -0.4l-0.6 -0.8l-0.2 -1.0l0.3 -0.9l0.5 -0.5l1.5 -0.4l1.5 0.5l0.3 0.3l0.1 0.5l-0.4 1.5l-0.5 0.5l-1.0 0.6zM411.0 376.6l-0.5 0.1l-0.5 -0.2l-0.2 -0.5l0.1 -0.5l0.6 -0.4l0.5 0.1l0.3 0.3l0.1 0.5l-0.4 0.6zM127.5 384.0l-1.0 0.3l-1.2 -0.3l-0.8 -0.7l-0.4 -1.3l0.2 -1.0l1.1 -1.5l-0.3 -1.5l0.4 -1.0l1.0 -0.8l1.0 -0.2l1.0 0.3l0.5 0.3l0.6 0.9l0.1 1.0l-0.3 1.0l-1.0 1.0l0.3 1.5l-0.2 0.9l-1.0 1.1zM187.0 386.0l-1.5 0.1l-1.0 -0.5l-0.7 -1.1l0.0 -1.5l-0.3 -0.5l-1.0 -0.3l-1.0 -0.7l-0.5 1.0l-1.0 0.5l-1.0 -0.2l-0.7 -0.8l-0.2 -0.5l0.3 -1.0l0.6 -0.6l1.5 -0.4l-0.3 -1.0l0.1 -1.0l0.6 -1.0l1.1 -0.8l2.0 -0.0l1.1 0.8l1.2 2.0l0.3 1.5l-0.3 1.0l0.2 0.4l1.0 0.4l0.5 0.5l0.5 1.2l-0.3 1.5l-1.2 1.0zM221.5 377.5l-0.5 -0.0l-0.5 -0.5l0.0 -0.6l0.5 -0.5l0.7 0.1l0.4 0.5l-0.1 0.6l-0.5 0.4zM417.0 377.5l-0.5 -0.1l-0.4 -0.4l0.0 -0.5l0.4 -0.5l0.5 -0.1l0.5 0.2l0.2 0.4l-0.2 0.7l-0.5 0.3zM350.0 379.1l-0.5 -0.1l-0.5 -0.5l0.0 -0.9l0.5 -0.5l0.5 0.0l0.6 0.9l-0.1 0.7l-0.5 0.4zM492.0 382.8l-2.5 0.0l-1.7 -1.8l-0.2 -1.0l0.2 -1.0l1.7 -1.8l2.5 -0.0l1.4 1.3l0.1 0.7l0.3 0.3l-0.0 1.0l-0.3 0.3l-0.1 0.7l-1.4 1.3zM446.0 379.5l-0.5 -0.2l-0.2 -0.3l-0.1 -0.5l0.3 -0.5l0.5 -0.2l0.5 0.2l0.3 0.5l-0.1 0.5l-0.2 0.3l-0.5 0.2zM230.5 381.1l-0.5 0.3l-0.5 -0.0l-1.0 -0.6l-0.5 -0.8l0.0 -0.5l0.5 -1.1l0.5 -0.3l0.5 -0.0l0.5 0.2l0.7 0.7l0.3 1.0l-0.5 1.1zM334.5 380.2l-0.5 -0.2l0.1 -0.5l0.6 -0.0l0.1 0.5l-0.3 0.2zM415.0 381.2l-0.5 0.2l-0.7 -0.4l-0.1 -0.5l0.3 -0.6l0.5 -0.1l0.6 0.2l0.2 0.5l-0.3 0.7zM458.0 403.7l-2.0 0.1l-1.0 -0.5l-0.8 -0.8l-0.4 -1.5l0.4 -1.5l0.8 -0.8l0.0 -0.3l-2.0 1.8l-1.5 0.1l-1.0 -0.4l-1.3 -1.4l-0.2 -1.6l-0.2 0.1l0.0 1.0l-0.3 0.4l-0.1 0.6l-1.4 1.4l-0.6 0.1l-0.4 0.5l-2.0 -0.6l-1.4 -1.4l-0.1 -0.6l-0.3 -0.4l-0.0 -2.5l0.3 -0.4l0.1 -0.6l1.4 -1.4l1.3 -0.1l1.7 -1.9l0.5 -0.0l2.0 0.1l1.4 1.3l0.6 1.7l1.0 0.0l0.3 0.3l1.2 0.3l1.5 -1.7l2.0 -0.0l0.1 -0.1l-0.5 -0.5l-0.0 -0.5l0.1 -2.0l1.3 -1.4l0.7 -0.1l0.3 -0.3l1.0 -0.0l0.3 0.3l0.7 0.1l0.5 0.5l1.0 -1.6l1.0 -0.9l1.0 -0.4l0.5 -0.0l1.5 0.5l0.5 0.5l2.0 -2.1l1.2 -0.1l-1.0 -1.0l-0.4 -1.0l-0.0 -0.5l0.6 -1.5l1.1 -0.8l1.0 -0.2l1.0 0.2l1.0 0.7l0.5 0.8l1.5 0.1l1.0 0.5l0.1 -0.8l1.4 -1.4l1.0 -0.5l1.0 0.0l0.5 0.2l1.0 0.8l0.9 0.9l0.1 0.6l1.0 -0.9l2.0 -0.1l0.5 0.0l1.4 1.4l0.5 1.0l-0.2 1.5l-1.7 1.8l-2.5 -0.0l-1.4 -1.3l-0.1 -0.7l-0.5 0.1l-0.5 0.5l-0.7 0.1l-0.3 0.3l-1.0 -0.0l-0.3 -0.3l-0.7 -0.1l-0.4 0.1l-1.1 1.5l-0.5 0.3l-1.0 0.3l-1.5 -0.3l-0.5 -0.4l0.3 0.6l-0.0 1.0l-0.3 0.3l-0.1 0.7l-0.5 0.5l-0.9 0.8l-1.5 0.1l-1.0 -0.1l-1.0 -0.9l-0.1 0.1l-0.4 0.4l-0.2 0.6l-1.1 1.0l0.2 1.5l-0.2 1.0l-1.2 1.3l-1.0 0.4l-1.0 0.0l-1.0 -0.4l-1.5 -1.6l-1.5 0.2l-0.1 0.1l0.1 0.7l0.3 0.3l-0.0 1.0l-0.3 0.3l-0.1 0.7l-1.0 1.0l0.9 1.0l0.5 1.0l-0.0 1.0l-0.5 1.0l-1.3 1.2zM443.5 385.7l-1.0 0.2l-1.5 -0.2l-0.9 -0.7l-0.8 -1.0l-0.1 -1.5l0.5 -1.0l0.8 -0.8l1.0 -0.4l1.0 0.0l1.0 0.3l1.4 1.4l0.3 1.0l-0.1 1.0l-0.5 1.0l-1.1 0.7zM449.5 385.1l-1.0 0.0l-1.0 -0.4l-1.0 -1.2l-0.2 -1.0l0.3 -1.0l0.4 -0.6l1.0 -0.6l1.0 -0.1l1.0 0.2l0.9 0.6l0.6 1.0l0.1 1.0l-0.4 1.0l-0.7 0.7l-1.0 0.4zM235.5 382.2l-0.6 -0.2l-0.3 -0.5l0.1 -0.5l0.3 -0.3l0.5 -0.1l0.5 0.3l0.2 0.6l-0.2 0.5l-0.5 0.2zM431.0 385.6l-0.5 0.1l-1.0 -0.1l-0.5 -0.2l-0.6 -0.9l-0.1 -0.5l0.2 -1.0l1.0 -1.0l1.0 -0.1l0.5 0.2l0.9 0.9l0.2 0.5l-0.1 1.0l-0.5 0.8l-0.5 0.3zM506.5 387.1l-2.0 0.1l-1.0 -0.5l-0.5 -0.7l-0.3 -0.5l-0.0 -1.5l0.5 -1.0l0.8 -0.7l1.5 -0.3l1.0 0.2l1.2 1.3l0.2 1.0l-0.2 1.5l-1.2 1.1zM203.0 384.8l-0.5 0.1l-0.5 -0.1l-0.5 -0.5l-0.1 -0.8l0.6 -0.8l1.0 0.0l0.5 0.5l0.1 0.8l-0.2 0.5l-0.4 0.3zM198.5 388.7l-1.0 0.2l-1.5 -0.1l-1.0 -0.8l-0.7 -1.0l-0.1 -1.5l0.5 -1.0l0.8 -0.8l1.0 -0.5l1.5 0.1l1.0 0.7l0.8 1.0l0.1 1.5l-0.2 1.0l-1.2 1.2zM157.5 398.4l-2.5 -0.0l-1.4 -1.4l-0.1 -0.6l-0.3 -0.4l0.0 -1.0l0.3 -0.3l0.1 -0.7l1.1 -1.0l-1.7 -0.1l-1.0 -0.6l-0.9 -1.3l-0.0 -1.5l0.0 -0.5l0.9 -1.2l1.0 -0.6l1.9 -0.2l0.3 -1.5l0.4 -0.5l0.9 -0.8l1.5 -0.3l1.5 0.5l0.8 0.6l0.6 1.0l-0.0 1.5l-0.1 0.5l-0.4 0.5l-1.4 1.3l-2.0 0.1l-0.1 1.1l-0.6 1.0l-0.7 0.5l1.9 0.2l1.7 1.8l0.2 1.0l-0.2 1.0l-1.7 1.9zM233.5 385.1l-0.5 0.2l-0.6 -0.3l-0.2 -0.5l0.3 -0.7l0.5 -0.1l0.6 0.3l0.2 0.5l-0.3 0.6zM180.0 396.7l-1.0 0.2l-1.0 -0.2l-1.4 -1.2l-0.4 -0.5l-0.1 -1.0l0.1 -1.0l0.3 -0.5l-0.7 -0.5l-0.8 -0.2l-0.8 -0.8l-0.7 -1.6l-0.8 -0.9l-0.5 -1.0l0.1 -1.5l0.7 -1.0l1.0 -0.8l1.5 -0.1l1.0 0.2l1.2 1.2l0.2 1.0l0.6 0.2l0.8 0.8l0.4 1.0l0.1 1.0l-0.6 1.5l0.8 0.2l1.0 0.6l0.8 1.2l0.1 0.5l-0.1 1.5l-1.8 1.7zM167.0 390.3l-1.5 0.2l-1.0 -0.2l-1.3 -1.3l-0.4 -1.5l0.7 -1.5l1.0 -0.8l1.0 -0.4l0.5 0.0l1.0 0.4l1.3 1.3l0.2 1.0l-0.2 1.5l-1.3 1.3zM325.4 406.5l0.5 -0.5l-0.9 -1.0l-0.2 -0.5l0.0 -1.0l0.2 -0.5l0.9 -1.0l-0.9 -1.0l-0.2 -1.0l0.2 -1.0l0.9 -1.0l-0.9 -1.0l-0.2 -1.0l0.2 -1.0l0.9 -1.0l-0.9 -1.0l-0.2 -1.0l0.2 -1.0l0.9 -1.0l-0.9 -1.0l-0.3 -1.0l0.3 -1.0l0.9 -1.0l-0.9 -1.0l-0.5 0.2l-0.6 0.8l-0.0 0.5l0.5 1.0l-0.0 1.0l-0.4 0.8l-0.7 0.7l0.6 1.5l0.0 1.0l-0.1 0.5l-0.9 1.0l0.1 1.0l0.3 1.0l-0.4 1.5l-0.5 0.5l0.0 0.5l0.4 0.5l0.1 1.5l-0.1 0.5l-0.8 1.0l0.8 1.0l0.1 0.5l-0.1 1.5l1.7 1.8l0.5 0.2l0.4 -0.5zM426.0 390.7l-1.0 0.1l-1.0 -0.5l-1.2 -1.3l-0.1 -2.0l0.7 -1.0l1.1 -0.7l2.0 0.0l1.3 1.2l0.4 1.0l-0.0 1.0l-0.5 1.0l-0.7 0.7l-1.0 0.5zM472.6 385.5l-0.3 0.0l0.3 0.0zM434.0 390.6l-1.0 0.1l-1.0 -0.4l-0.8 -0.8l-0.3 -1.0l0.1 -1.0l0.5 -0.8l0.5 -0.4l1.0 -0.4l1.5 0.3l0.5 0.4l0.6 0.9l0.1 1.0l-0.3 1.0l-0.4 0.5l-1.0 0.6zM217.5 395.8l-2.0 -0.1l-1.0 -0.8l-1.0 0.5l-2.0 -0.1l-1.4 -1.3l-0.5 -1.0l0.0 -1.0l0.1 -0.5l0.7 -1.0l1.1 -0.9l1.0 -0.2l1.5 0.3l1.0 0.9l0.5 0.1l1.9 -0.7l-0.9 -1.0l0.0 -1.0l0.5 -0.7l1.0 -0.4l0.8 0.1l0.6 0.5l0.4 1.0l-0.4 1.0l-0.4 0.4l-1.0 0.3l-0.4 0.3l0.4 0.1l1.2 1.4l0.1 1.5l-0.0 0.5l-0.7 1.0l-1.1 0.8zM312.5 389.0l-1.0 0.2l-0.5 -0.3l-0.3 -0.9l0.3 -0.7l0.5 -0.3l0.5 -0.0l0.7 0.5l0.2 0.5l-0.1 0.5l-0.3 0.5zM415.0 389.8l-0.5 0.2l-0.5 -0.1l-0.5 -0.4l-0.2 -1.0l0.3 -0.5l0.9 -0.3l0.7 0.3l0.3 0.5l0.0 0.5l-0.5 0.8zM487.0 393.8l-1.0 0.2l-1.0 -0.2l-1.1 -0.8l-0.5 -1.0l-0.1 -1.0l0.1 -0.5l0.7 -1.0l0.9 -0.7l2.0 -0.0l0.9 0.7l0.7 1.0l0.1 0.5l-0.1 1.0l-0.5 1.0l-1.1 0.8zM412.0 395.2l-2.0 0.1l-1.1 -0.8l-0.6 -1.0l-0.0 -1.5l0.5 -1.0l0.7 -0.6l1.5 -0.3l1.0 0.1l1.3 1.3l0.3 1.0l-0.3 1.5l-1.3 1.2zM172.5 403.3l-1.0 0.0l-0.3 -0.3l-0.7 -0.1l-1.3 -1.4l-0.2 -0.6l-1.0 -0.1l-1.0 -0.7l-0.9 -1.1l-0.2 -1.0l0.2 -1.5l0.5 -0.5l0.9 -0.9l1.5 -0.4l0.1 -1.7l0.5 -1.0l0.9 -0.8l1.5 -0.3l1.5 0.3l0.5 0.5l0.7 0.8l0.2 1.0l-0.0 1.5l-0.8 1.0l-1.1 0.8l-1.1 0.2l1.1 0.3l0.5 0.3l1.4 1.4l0.0 0.5l-0.1 2.0l-1.3 1.4l-0.7 0.1l-0.3 0.3zM233.0 394.1l-0.5 0.1l-1.0 -0.1l-0.5 -0.3l-0.5 -0.6l-0.2 -0.7l0.2 -0.9l0.5 -0.6l0.5 -0.3l1.0 -0.1l0.5 0.1l0.8 0.8l0.2 0.5l-0.0 1.0l-0.5 0.7l-0.5 0.4zM347.5 394.1l-0.5 -0.1l-0.8 -0.5l-0.3 -1.0l0.3 -1.0l0.8 -0.5l0.5 -0.0l1.0 0.5l0.5 1.0l-0.5 1.1l-1.0 0.5zM339.5 392.5l-0.5 -0.0l-0.4 -0.5l-0.1 -0.5l0.5 -0.2l0.6 0.2l0.2 0.5l-0.3 0.5zM194.0 402.6l-1.5 0.1l-1.1 -0.7l-0.7 -1.0l0.0 -1.5l-0.2 -0.4l-0.1 0.9l-1.4 1.3l-1.5 0.1l-1.0 -0.1l-1.4 -1.3l-0.4 -1.0l0.1 -1.0l0.4 -1.0l0.8 -0.8l1.0 -0.5l1.5 0.0l0.2 -2.2l1.3 -1.4l1.0 -0.4l1.5 0.0l1.0 0.7l0.9 1.1l0.3 1.0l-0.3 1.5l-1.4 1.4l-0.5 0.1l1.5 0.4l0.5 0.3l0.5 0.4l0.5 0.9l0.1 1.0l-0.4 1.0l-1.2 1.1zM418.5 396.1l-1.0 0.2l-1.0 -0.2l-1.1 -1.1l-0.2 -1.0l0.2 -1.0l1.1 -1.1l1.0 -0.2l1.0 0.2l1.1 1.1l0.2 1.0l-0.2 1.0l-1.1 1.1zM400.5 393.6l-0.5 0.2l-0.6 -0.3l-0.2 -0.5l0.3 -0.7l0.5 -0.1l0.6 0.3l0.2 0.5l-0.3 0.6zM228.0 399.8l-2.5 0.0l-1.4 -1.3l-0.4 -1.0l0.1 -1.0l0.4 -1.0l0.8 -0.8l1.0 -0.5l1.5 0.0l1.0 0.6l0.9 1.2l0.2 1.0l-0.3 1.5l-1.3 1.3zM247.5 396.2l-0.5 0.1l-0.6 -0.3l-0.1 -0.5l0.2 -0.6l0.5 -0.2l0.7 0.3l0.2 0.5l-0.4 0.7zM240.5 404.7l-0.5 0.0l-1.5 -0.5l-0.7 -0.7l-0.5 -1.0l0.0 -1.5l0.6 -1.0l1.1 -0.8l2.2 -0.2l-0.2 -0.5l-0.1 -1.0l0.4 -1.0l0.5 -0.5l1.2 -0.5l1.0 0.2l1.2 0.8l0.3 1.0l-0.1 1.0l-0.9 1.2l-0.6 0.3l-0.9 0.1l-0.3 0.4l0.2 1.0l-0.2 1.5l-1.2 1.3l-1.0 0.4zM396.5 399.6l-1.0 0.1l-0.7 -0.2l-0.8 -0.7l-0.4 -0.8l0.2 -1.5l0.4 -0.5l0.8 -0.6l1.0 -0.1l0.8 0.2l0.7 0.6l0.5 0.9l0.0 0.8l-0.2 0.7l-0.4 0.5l-0.9 0.6zM347.5 400.0l-1.5 0.4l-1.0 -0.3l-0.6 -0.6l-0.5 -1.0l0.1 -1.0l0.5 -1.0l0.5 -0.4l1.0 -0.3l1.0 0.1l0.8 0.6l0.4 0.5l0.3 1.5l-0.5 1.0l-0.5 0.5zM442.0 409.3l-1.5 0.0l-1.0 -0.5l-0.8 -0.8l-0.5 -1.0l-0.1 -2.0l-1.1 -0.2l-0.9 -0.8l-0.5 -0.5l-0.6 -1.7l-1.0 1.0l-0.7 0.2l-0.3 0.3l-1.0 0.0l-1.0 -0.4l-1.4 -1.4l-0.4 -1.0l0.0 -1.0l0.3 -0.3l0.1 -0.7l1.4 -1.3l2.4 -0.2l0.6 -0.8l1.0 -0.6l2.0 0.0l1.0 0.6l0.9 1.3l0.1 1.1l0.5 0.1l1.0 0.7l0.9 1.1l0.4 1.5l-0.0 0.5l-0.4 0.5l0.1 0.2l1.5 0.7l0.9 1.1l0.4 1.0l-0.1 1.0l-0.4 1.0l-0.8 0.8l-0.7 0.2l-0.3 0.3zM310.5 398.6l-0.5 -0.0l-0.5 -0.3l-0.3 -0.8l0.3 -0.8l0.5 -0.3l1.0 0.2l0.4 0.9l-0.4 0.9l-0.5 0.2zM402.5 401.1l-1.0 0.1l-1.0 -0.2l-0.8 -0.5l-0.6 -1.0l0.0 -1.5l0.7 -1.0l1.2 -0.7l1.0 0.0l1.0 0.4l0.7 0.8l0.3 0.5l0.1 1.0l-0.3 1.0l-1.3 1.1zM468.0 401.0l-0.5 0.2l-1.5 0.1l-1.0 -0.6l-0.7 -0.7l-0.2 -1.5l0.2 -1.0l1.2 -1.3l1.0 -0.2l1.5 0.3l1.1 1.2l0.2 2.0l-0.6 1.0l-0.7 0.5zM191.3 398.5l0.6 -0.5l-1.5 -0.5l0.3 1.0l0.3 0.4l0.3 -0.4zM207.5 412.2l-2.0 0.0l-1.0 -0.8l-0.7 -0.9l-0.1 -0.5l0.0 -1.0l0.5 -1.0l-0.2 -0.2l-1.5 0.0l-1.0 -0.5l-0.5 0.0l-1.0 1.1l-1.0 0.4l-1.0 -0.1l-0.5 -0.3l-0.2 0.6l-0.8 0.7l-0.7 0.3l-0.3 0.3l-1.5 -0.0l-1.0 -0.5l-0.8 -0.8l-0.5 -1.0l-0.0 -1.5l0.3 -0.4l0.2 -0.6l0.8 -0.8l1.5 -0.6l1.0 0.3l0.5 -0.2l1.0 -1.1l1.0 -0.5l1.5 0.0l1.0 0.7l0.5 -0.2l1.0 -1.0l1.5 -0.3l0.5 0.2l-0.4 -1.0l0.0 -2.0l1.9 -1.8l1.0 -0.1l1.0 0.1l1.9 1.8l-0.1 2.5l-1.3 1.3l-0.7 0.2l-0.3 0.3l-1.0 -0.0l-0.1 0.2l0.4 0.5l0.1 0.5l-0.1 1.0l-0.9 1.5l1.1 -0.3l1.5 0.5l0.8 0.8l0.5 1.0l-0.1 1.5l-0.8 1.0l-0.9 0.7zM335.0 399.6l-0.5 0.4l-0.5 -0.1l-0.4 -0.4l-0.0 -0.5l0.3 -0.5l0.6 -0.2l0.3 0.2l0.3 0.5l-0.1 0.6zM186.5 408.6l-0.5 0.1l-1.5 -0.5l-0.7 -0.7l-0.6 -1.0l-0.1 -1.0l-1.1 -0.1l-1.3 -0.9l-0.6 -1.0l0.0 -2.0l0.9 -1.3l1.0 -0.5l2.0 -0.0l0.5 0.2l0.8 0.6l0.6 1.0l0.1 1.3l1.5 0.4l1.3 1.3l-0.0 2.5l-1.3 1.4l-1.0 0.2zM346.5 406.3l-2.0 0.0l-1.1 -0.8l-0.6 -1.0l-0.0 -1.5l0.5 -1.0l0.7 -0.7l1.5 -0.4l1.5 0.4l0.7 0.7l0.5 1.0l0.0 1.5l-0.6 1.0l-1.1 0.8zM387.0 405.0l-1.5 -0.0l-0.7 -0.5l-0.6 -1.0l0.1 -1.5l0.3 -0.5l0.9 -0.7l1.5 -0.0l1.0 0.6l0.3 0.6l0.2 1.0l-0.3 1.0l-0.4 0.5l-0.8 0.5zM448.0 405.8l-1.5 -0.0l-1.0 -0.8l-0.7 -1.0l-0.1 -1.5l0.6 -1.0l1.2 -0.8l1.5 0.0l0.5 0.2l0.8 0.6l0.5 1.0l0.0 1.5l-0.8 1.2l-1.0 0.6zM433.5 413.8l-1.5 -0.0l-1.0 -0.7l-0.8 -1.1l-0.2 -1.1l-0.5 -0.2l-0.9 1.3l-1.1 0.8l-1.0 0.1l-1.5 -0.1l-1.8 -1.8l-0.1 -1.5l0.2 -1.0l1.2 -1.4l1.1 -0.6l-0.5 -0.5l-0.1 -0.6l-0.3 -0.4l-0.0 -1.0l0.3 -0.4l0.1 -0.6l1.4 -1.4l0.6 -0.1l0.4 -0.3l1.0 -0.0l0.4 0.3l0.6 0.1l0.5 0.4l0.9 1.0l0.1 0.6l0.3 0.4l0.0 1.0l-0.3 0.4l-0.1 0.6l-0.5 0.5l0.1 0.4l1.0 0.5l1.0 0.9l1.5 0.3l1.3 1.4l0.1 2.0l-0.2 0.5l-0.7 0.8l-1.0 0.5zM417.0 418.2l-0.5 0.0l-1.5 -0.4l-1.5 0.2l-1.0 -0.2l-1.3 -1.3l-0.7 -0.1l-1.0 -0.6l-0.8 -0.8l-0.4 -1.0l-0.1 -1.0l0.6 -1.5l0.7 -0.7l0.6 -0.3l-0.3 -1.5l0.3 -1.5l1.4 -1.4l1.0 -0.5l1.5 0.1l0.5 0.3l-0.2 -0.5l0.3 -1.5l1.4 -1.4l1.5 -0.4l1.5 0.4l0.9 0.9l0.5 0.5l0.3 1.5l-0.5 1.5l-0.7 0.8l-1.0 0.6l-2.1 0.1l-0.0 1.0l-0.5 1.0l-1.6 1.5l0.2 1.2l2.5 -0.4l1.0 0.4l0.8 0.8l0.5 1.0l-0.0 1.0l-0.5 1.0l-0.8 0.8l-1.0 0.4zM219.0 418.9l-2.0 -0.1l-2.0 -1.9l-0.5 -0.1l-0.7 0.2l-0.3 0.4l-1.0 0.0l-0.5 -0.0l-1.0 -0.5l-0.8 -0.9l-0.5 -1.0l-0.1 -1.0l0.1 -0.5l0.3 -0.3l0.2 -0.7l0.8 -0.7l1.0 -0.4l1.0 -0.2l0.1 -0.2l-0.3 -1.5l0.5 -1.5l0.4 -0.5l1.3 -0.8l1.7 -0.2l-0.0 -1.5l0.5 -1.0l0.8 -0.8l1.0 -0.5l1.0 -0.0l0.5 0.0l1.3 0.8l0.5 0.5l0.5 1.5l0.0 0.5l-0.8 1.5l-0.5 0.6l-1.0 0.5l0.0 1.3l1.0 -0.1l1.5 0.5l0.7 0.7l0.5 1.0l0.1 1.0l-0.8 1.5l-1.0 0.9l-1.0 0.3l-0.5 0.5l-0.3 1.3l-0.7 0.8l-1.0 0.6zM255.5 408.2l-1.0 0.2l-1.5 -0.1l-1.3 -1.3l-0.3 -1.5l0.3 -1.0l1.3 -1.3l1.0 -0.3l1.5 0.3l1.3 1.3l0.1 1.5l-0.2 1.0l-1.2 1.2zM396.5 423.6l-0.5 0.3l-2.0 0.0l-1.0 -0.6l-0.9 -1.3l-0.0 -1.5l0.0 -0.5l0.9 -1.4l-0.2 -0.6l0.4 -1.5l1.4 -1.5l-0.3 -0.5l-0.1 -1.0l0.6 -1.5l0.7 -0.8l0.6 -0.2l0.4 -0.3l2.0 -0.0l0.1 -0.2l0.1 -2.0l-0.7 -0.5l-0.6 -1.0l-0.0 -1.0l0.2 -0.5l0.9 -0.9l1.0 -0.2l1.0 0.2l0.5 0.4l0.5 0.8l0.5 0.2l1.0 -0.8l2.0 0.0l1.1 0.8l0.7 1.0l0.0 2.0l-0.7 1.0l-1.1 0.8l-0.2 0.7l-0.7 1.0l-1.1 0.9l-1.5 0.3l-0.6 -0.2l-0.2 1.0l-0.2 0.3l-0.2 0.7l-0.8 1.0l0.5 -0.1l1.0 0.3l0.5 0.2l0.6 0.6l0.5 1.5l-0.5 1.5l-0.6 0.7l-1.5 0.5l-1.5 -0.5l-0.5 -0.5l-0.1 1.3l-0.6 1.0l-0.8 0.6zM371.0 406.6l-0.7 -0.1l-0.4 -0.5l0.1 -0.6l0.5 -0.5l0.6 0.1l0.5 0.5l-0.1 0.8l-0.5 0.3zM311.0 409.6l-0.5 0.1l-1.0 -0.4l-0.8 -0.8l-0.1 -0.5l0.1 -1.5l0.8 -0.9l1.0 -0.3l1.5 0.6l0.8 1.1l-0.0 1.0l-0.8 1.0l-1.0 0.6zM235.5 411.8l-1.5 0.1l-0.5 -0.3l-0.5 -0.2l-1.3 -1.4l-0.1 -1.5l0.2 -1.0l1.2 -1.3l0.7 -0.2l0.3 -0.3l1.0 -0.0l1.0 0.4l1.4 1.4l0.3 1.5l-0.3 1.0l-0.9 1.2l-1.0 0.6zM269.5 412.1l-0.5 0.2l-1.5 -0.0l-1.0 -0.6l-0.8 -1.2l0.0 -2.0l1.3 -1.3l1.0 -0.5l1.0 0.2l1.0 0.5l0.8 1.1l0.3 1.0l-0.4 1.5l-1.2 1.1zM345.5 415.3l-1.5 0.1l-1.0 -0.2l-1.3 -1.2l-0.2 -0.7l-0.3 -0.3l-0.0 -1.0l0.3 -0.4l0.0 -0.6l-0.3 -0.5l-0.0 -1.0l0.4 -1.0l1.4 -1.4l1.0 -0.2l1.5 0.2l1.2 0.9l0.6 1.0l0.1 1.5l-0.3 0.5l0.3 1.0l-0.0 1.0l-0.5 1.0l-1.4 1.3zM250.0 414.3l-1.0 0.0l-0.3 -0.3l-0.7 -0.1l-1.3 -1.4l-0.1 -0.5l0.1 -2.0l1.3 -1.4l1.0 -0.4l1.5 0.1l1.8 1.7l0.0 2.5l-1.3 1.4l-0.7 0.1l-0.3 0.3zM381.0 426.9l-2.0 0.0l-1.0 -0.6l-0.9 -1.3l0.0 -2.0l0.9 -1.4l-0.2 -0.6l0.4 -1.5l0.9 -1.0l0.1 -1.0l0.3 -0.3l0.1 -0.7l1.4 -1.3l0.6 -0.2l0.7 -0.5l0.4 -1.5l0.9 -1.0l0.2 -1.5l0.6 -1.0l1.1 -0.6l1.0 -0.0l1.0 0.5l0.5 0.6l0.2 1.0l-0.3 1.5l0.4 0.5l0.4 1.5l-0.4 1.5l-0.4 0.5l-0.9 0.9l-1.0 0.1l-0.2 1.0l-0.3 0.4l-0.1 0.6l-1.0 1.0l-0.4 1.0l1.5 0.4l1.2 1.1l0.1 1.0l-0.1 1.0l-1.2 1.2l-0.5 0.1l-1.5 -0.1l-1.0 -0.7l-0.5 0.8l-1.0 0.6zM201.5 414.6l-0.5 0.2l-1.5 0.1l-1.0 -0.6l-0.8 -0.8l-0.5 -1.0l0.0 -1.0l0.5 -1.0l1.3 -1.2l2.0 -0.1l1.0 0.5l0.8 0.8l0.4 1.5l-0.4 1.5l-1.3 1.1zM325.9 410.0l-0.9 -1.0l-0.2 0.5l0.7 0.6l0.4 -0.1zM283.0 415.0l-1.0 0.1l-0.5 -0.2l-0.7 -0.4l-0.7 -1.0l-0.1 -1.0l0.3 -1.0l1.2 -1.1l1.0 -0.1l1.0 0.2l0.6 0.5l0.6 1.0l0.1 1.0l-0.3 0.8l-0.5 0.7l-1.0 0.5zM236.0 421.7l-2.5 0.1l-1.1 -0.8l-0.4 -0.7l-0.5 0.2l-0.5 0.7l-1.0 0.6l-1.5 0.0l-0.5 -0.1l-1.4 -1.2l-0.4 -1.0l-0.0 -1.0l0.4 -1.0l1.5 -1.5l-0.5 -1.0l0.1 -1.5l0.3 -0.4l0.2 -0.6l0.8 -0.8l1.0 -0.5l1.0 -0.1l1.5 0.8l0.6 0.6l0.7 1.5l-0.1 1.0l-0.8 1.5l0.1 0.0l0.5 -0.4l2.0 -0.0l0.5 0.1l1.3 1.3l0.3 1.5l-0.3 1.5l-1.3 1.2zM265.5 417.8l-1.5 0.1l-1.0 -0.2l-1.2 -1.2l-0.2 -1.0l0.1 -1.5l0.8 -1.1l1.0 -0.7l1.5 -0.1l1.0 0.5l0.8 0.9l0.5 1.0l-0.1 1.5l-0.7 1.0l-1.0 0.8zM364.5 430.2l-1.0 0.0l-1.0 -0.5l-0.7 -0.7l-0.5 -1.5l0.5 -1.5l0.7 -0.8l0.5 -0.2l0.7 -1.5l1.3 -1.1l0.2 -0.4l-0.1 -1.5l0.2 -1.0l1.2 -1.4l0.9 -0.6l0.3 -1.5l1.3 -1.3l0.8 -0.2l0.7 -1.0l0.5 -0.4l1.0 -0.2l1.0 0.2l0.9 0.9l0.2 1.0l-0.1 0.8l-0.5 0.8l0.1 0.9l-0.3 1.5l-1.3 1.3l-0.6 0.2l-0.0 1.5l-0.8 1.0l-1.1 0.9l-0.9 0.1l0.2 1.5l-0.5 1.0l-1.3 1.1l-0.8 1.4l-0.7 0.7l-1.0 0.5zM325.9 414.0l-0.5 0.0l0.5 0.0zM249.0 426.6l-1.5 -0.2l-1.5 -1.5l-1.0 0.3l-1.5 -0.3l-1.4 -1.4l-0.4 -1.0l0.0 -1.0l0.3 -0.3l0.2 -0.7l1.0 -1.0l-0.1 -0.5l-0.5 -0.5l0.1 -2.5l1.3 -1.3l1.5 -0.4l1.5 0.4l0.9 0.8l0.5 1.0l-0.0 2.0l-0.7 1.0l-0.8 0.5l0.6 0.9l1.5 -0.2l1.0 0.4l1.4 1.4l0.2 1.0l-0.3 1.5l-1.3 1.3l-1.0 0.3zM280.0 420.5l-1.5 -0.6l-0.7 -0.9l-0.1 -1.0l0.3 -1.0l0.4 -0.5l0.6 -0.4l1.0 -0.2l1.0 0.2l0.6 0.4l0.4 0.5l0.3 1.0l-0.1 1.0l-0.7 0.9l-1.5 0.6zM232.1 417.5l0.3 -0.5l-0.4 -0.1l-0.5 0.6l0.5 0.2l0.1 -0.2zM263.0 428.2l-1.0 0.1l-1.0 -0.1l-1.5 -1.4l-2.0 -0.5l-1.3 -1.3l-0.0 -2.5l1.3 -1.5l-0.2 -0.5l0.5 -1.5l0.7 -0.9l1.0 -0.5l2.0 0.0l1.4 1.4l0.4 0.5l0.1 1.0l-0.0 1.0l-0.4 0.5l-0.1 0.5l0.6 0.1l1.3 1.4l0.1 2.5l-1.9 1.7zM356.0 428.7l-2.0 0.1l-1.0 -0.7l-0.8 -1.1l-0.1 -1.5l-0.8 -0.5l-0.6 -1.0l-0.0 -2.0l0.6 -1.0l1.2 -0.9l2.0 0.0l0.5 0.1l1.0 0.9l1.5 0.1l1.0 0.8l0.8 1.0l0.0 2.0l-1.8 2.0l-0.2 0.5l-1.3 1.2zM276.5 430.3l-2.5 -0.0l-1.3 -1.3l-0.3 -1.5l0.2 -1.0l-0.9 -1.5l0.0 -1.0l0.8 -1.3l0.5 -0.5l1.0 -0.5l1.5 0.2l1.3 1.1l0.5 1.0l0.1 1.5l0.8 1.5l0.1 1.0l-0.4 1.0l-1.4 1.3zM339.5 427.8l-1.5 -0.0l-1.0 -0.7l-0.9 -1.1l-0.2 -1.0l0.4 -1.5l0.7 -0.8l1.0 -0.5l1.5 -0.0l1.0 0.5l0.8 1.3l0.0 2.0l-0.8 1.1l-1.0 0.7zM294.0 430.1l-1.0 0.1l-1.0 -0.5l-0.5 -0.7l-0.1 -1.5l-1.9 -0.0l-1.0 -0.7l-0.5 -0.8l-0.1 -1.0l0.4 -1.0l0.5 -0.5l1.2 -0.5l1.5 0.4l0.9 1.1l0.1 1.0l-0.1 1.0l1.6 0.1l0.9 0.9l0.2 0.5l-0.0 1.0l-0.6 0.8l-0.5 0.3zM308.5 428.3l-1.5 -0.6l-0.9 -1.2l0.1 -1.5l1.3 -1.3l0.5 -0.1l1.0 0.0l1.0 0.7l0.8 1.7l-0.4 1.0l-0.9 0.9l-1.0 0.4zM334.5 428.1l-1.1 -0.1l-0.9 -1.0l0.0 -1.0l0.5 -0.8l0.5 -0.2l1.0 0.1l0.5 0.2l0.4 0.7l0.1 1.1l-0.5 0.7l-0.5 0.3zM350.5 429.6l-1.0 0.3l-1.0 -0.2l-1.0 -0.6l-0.4 -0.6l-0.3 -1.0l0.1 -1.0l1.1 -1.3l1.0 -0.4l1.0 0.2l1.0 0.5l0.7 1.0l0.1 1.0l-0.2 1.0l-1.1 1.1z" fill="#0014e0"/>
<path d="M329.0 329.1l-1.5 -0.2l-1.0 -1.0l-0.2 -0.9l0.2 -0.9l0.4 -0.6l0.7 -0.5l0.9 -0.2l0.9 0.2l0.6 0.4l0.5 0.7l0.2 0.9l-0.2 1.0l-0.5 0.6l-1.0 0.5zM578.5 329.5l-1.0 0.0l-0.5 -0.1l-0.5 -0.4l-0.6 -1.0l0.1 -1.0l0.2 -0.5l0.5 -0.5l0.8 -0.4l0.5 -0.0l1.0 0.3l0.8 1.1l0.1 0.5l-0.2 1.0l-0.4 0.5l-0.8 0.5zM329.0 335.1l-1.0 0.0l-0.5 -0.2l-0.5 -0.4l-0.6 -1.0l0.0 -1.0l0.2 -0.5l0.4 -0.5l1.0 -0.5l1.0 -0.0l0.5 0.2l0.5 0.3l0.6 1.0l-0.0 1.0l-0.2 0.5l-0.4 0.5l-1.0 0.6zM580.5 336.5l-1.0 -0.3l-0.5 -0.4l-0.6 -0.8l-0.1 -1.0l0.2 -0.8l0.5 -0.7l0.9 -0.5l0.6 -0.1l1.0 0.1l0.7 0.5l0.4 0.5l0.3 1.0l-0.1 1.0l-0.7 1.0l-0.6 0.3l-1.0 0.2zM307.0 334.0l-0.2 -0.0l-0.0 -0.5l0.2 -0.1l0.0 0.6zM448.5 334.7l-0.5 0.1l-0.3 -0.3l0.1 -0.5l0.7 -0.0l0.1 0.5l-0.1 0.2zM543.5 337.0l-0.5 0.2l-1.0 0.0l-1.0 -0.7l-0.3 -0.5l0.0 -1.0l0.8 -1.1l0.5 -0.2l1.0 -0.0l1.0 0.3l0.4 0.5l0.2 1.0l-0.6 1.0l-0.5 0.5zM562.5 340.1l-1.0 0.2l-1.0 -0.0l-1.0 -1.3l-0.5 -1.9l-0.5 -0.6l-0.2 -1.0l0.2 -1.0l1.0 -0.8l1.0 -0.1l1.0 0.5l0.5 0.7l0.2 0.7l1.3 1.7l0.2 0.8l-0.2 1.0l-1.0 1.1zM506.5 337.5l-0.8 -0.0l-0.4 -0.5l0.0 -0.5l0.6 -0.5l0.6 0.0l0.4 0.5l0.0 0.5l-0.4 0.5zM329.0 341.0l-1.0 0.1l-0.7 -0.1l-0.8 -0.7l-0.4 -0.8l-0.1 -0.5l0.3 -1.0l0.3 -0.5l0.9 -0.6l1.0 -0.1l0.6 0.2l0.7 0.5l0.5 1.0l-0.2 1.5l-0.3 0.5l-0.8 0.5zM94.5 339.1l-0.6 -0.1l-0.4 -0.5l-0.0 -0.5l0.5 -0.5l0.6 -0.0l0.5 0.5l-0.1 0.7l-0.5 0.4zM535.0 341.5l-1.0 0.0l-0.5 -0.5l0.0 -0.5l0.5 -0.6l1.0 0.0l0.4 0.6l-0.0 0.5l-0.4 0.5zM508.5 342.0l-0.5 0.1l-0.5 -0.1l-0.3 -0.5l0.0 -0.5l0.3 -0.4l0.7 -0.1l0.6 0.5l0.0 0.5l-0.3 0.5zM559.5 343.5l-1.0 -0.5l-0.3 -1.0l0.3 -0.7l1.0 -0.6l1.0 0.3l0.5 1.0l-0.3 1.0l-0.7 0.4l-0.5 0.1zM570.0 344.6l-1.5 -0.1l-0.6 -0.5l-0.5 -1.0l0.1 -0.9l0.3 -0.6l0.7 -0.7l0.5 -0.2l1.5 0.4l0.8 1.0l0.1 0.5l-0.2 1.0l-0.3 0.5l-0.9 0.6zM86.5 343.0l-0.5 0.1l-0.6 -0.1l-0.2 -0.5l0.3 -0.8l0.5 -0.2l0.5 0.2l0.3 0.3l0.0 0.5l-0.3 0.5zM564.5 347.1l-1.0 0.1l-1.0 -0.1l-1.0 -0.8l-0.6 -1.3l0.4 -2.0l1.2 -0.7l1.0 -0.2l1.0 0.2l1.0 0.7l0.5 1.0l0.1 1.0l-0.6 1.3l-1.0 0.8zM96.0 344.6l-0.5 -0.1l-0.4 -0.5l0.0 -0.5l0.4 -0.5l0.5 -0.1l0.5 0.3l0.2 0.8l-0.2 0.4l-0.5 0.2zM128.0 346.6l-1.5 0.1l-0.9 -0.7l-0.3 -0.5l-0.1 -1.0l0.3 -0.9l0.5 -0.5l1.0 -0.5l1.0 0.1l0.5 0.2l0.8 1.1l0.1 1.0l-0.2 0.5l-0.3 0.5l-0.9 0.6zM328.5 347.0l-0.5 0.1l-1.0 -0.3l-0.5 -0.4l-0.5 -0.9l-0.0 -1.0l0.2 -0.5l0.4 -0.5l0.9 -0.5l1.0 -0.0l0.5 0.2l0.5 0.4l0.5 0.9l0.0 1.0l-0.2 0.5l-0.4 0.5l-0.9 0.5zM525.0 347.2l-0.5 0.2l-1.0 -0.1l-1.0 -0.7l-0.3 -0.6l-0.1 -0.5l0.2 -1.0l0.4 -0.5l0.8 -0.5l1.0 -0.0l0.5 0.1l0.9 0.9l0.2 0.5l-0.1 1.0l-0.5 0.8l-0.5 0.4zM531.5 347.3l-1.0 0.1l-0.8 -0.4l-0.5 -0.5l-0.2 -1.0l0.0 -0.5l0.5 -0.7l1.0 -0.4l0.5 0.0l1.1 0.6l0.5 1.0l-0.0 0.5l-0.6 1.0l-0.5 0.3zM547.0 357.6l-1.0 0.2l-1.0 -0.2l-0.8 -0.6l-0.7 -1.0l-2.0 -0.4l-0.5 -0.4l-0.4 -0.7l-0.1 -1.0l0.7 -3.0l0.3 -0.5l1.0 -0.7l0.1 -0.3l-0.5 -2.5l0.0 -1.0l0.5 -1.0l0.6 -0.5l0.8 -0.3l1.0 0.1l1.0 0.5l0.5 0.7l1.2 2.5l-0.0 1.0l-0.5 1.0l-0.7 0.7l-1.4 0.8l-0.4 2.0l0.3 0.3l0.5 -0.0l1.1 -1.3l0.9 -0.6l1.8 -0.4l-0.2 -0.5l-0.0 -1.0l0.4 -0.8l0.5 -0.4l0.5 -0.2l1.0 -0.0l1.0 0.6l0.4 0.8l0.0 1.0l-0.4 0.8l-1.0 0.6l-1.0 0.1l0.5 2.0l-0.5 1.4l-0.6 0.6l-1.4 0.5l-1.5 1.1zM120.5 348.1l-0.9 -0.1l-0.6 -0.3l-0.5 -0.5l-0.3 -0.7l0.1 -1.0l0.2 -0.5l0.5 -0.5l1.0 -0.4l1.0 0.2l0.5 0.3l0.5 0.7l0.2 0.7l-0.2 1.0l-0.4 0.5l-1.1 0.6zM490.5 346.0l-0.5 0.1l-0.5 -0.1l-0.3 -0.5l0.0 -0.5l0.3 -0.4l0.7 -0.1l0.6 0.5l0.0 0.5l-0.3 0.5zM581.5 348.1l-0.7 -0.1l-0.4 -0.5l0.1 -0.6l0.5 -0.4l0.5 0.0l0.5 0.5l0.0 0.6l-0.5 0.5zM109.0 350.2l-0.5 0.1l-1.0 -0.2l-0.5 -0.4l-0.4 -0.7l0.0 -1.0l0.3 -0.5l0.4 -0.5l0.7 -0.3l0.5 -0.1l1.0 0.4l0.7 1.0l0.0 0.5l-0.2 0.9l-0.5 0.6l-0.5 0.2zM328.5 352.1l-1.0 0.2l-1.1 -0.8l-0.5 -1.0l0.1 -1.5l0.5 -0.6l1.0 -0.6l0.5 -0.0l1.0 0.2l0.6 0.5l0.5 1.0l-0.1 1.5l-0.5 0.6l-1.0 0.5zM113.0 352.0l-1.0 0.1l-0.5 -0.2l-0.4 -0.4l-0.2 -1.0l0.6 -0.9l1.0 -0.2l0.9 0.6l0.3 1.0l-0.2 0.5l-0.5 0.5zM495.0 353.1l-1.0 -0.1l-0.5 -0.3l-0.5 -0.7l-0.1 -0.5l0.1 -0.9l0.4 -0.6l1.1 -0.5l0.6 -0.0l0.9 0.5l0.5 1.0l0.0 0.6l-0.4 0.9l-1.1 0.6zM517.0 352.1l-1.0 -0.2l-0.4 -0.4l-0.3 -0.5l0.2 -1.0l0.5 -0.5l0.5 -0.1l1.0 0.2l0.6 0.9l-0.3 1.0l-0.8 0.6zM440.0 351.7l-0.5 -0.0l-0.4 -0.7l0.4 -0.5l0.5 -0.0l0.5 0.5l-0.5 0.7zM104.0 354.7l-0.5 0.1l-1.0 -0.2l-0.8 -0.6l-0.3 -0.5l-0.0 -1.5l0.6 -0.9l0.5 -0.2l0.5 -0.2l1.0 0.2l0.5 0.2l0.7 0.9l0.1 1.5l-0.8 1.0l-0.5 0.2zM538.5 354.2l-0.5 0.2l-1.0 -0.2l-0.7 -0.7l-0.2 -1.0l0.4 -0.9l0.5 -0.4l0.5 -0.1l1.0 0.1l0.8 0.8l0.1 1.0l-0.1 0.5l-0.8 0.7zM474.5 354.6l-1.0 0.0l-0.7 -0.6l-0.2 -1.0l0.4 -0.7l0.5 -0.3l1.0 -0.0l0.6 0.5l0.3 0.5l-0.2 1.0l-0.7 0.6zM520.0 367.1l-1.5 0.4l-1.2 -0.5l-0.7 -1.0l-0.1 -0.5l0.2 -1.0l0.7 -1.0l1.1 -0.4l1.0 0.2l1.0 0.8l0.3 -2.6l0.7 -0.9l1.5 -0.7l1.5 -0.1l1.5 -1.1l0.0 -2.7l-1.0 -0.6l-0.5 -0.9l-0.1 -0.5l0.3 -1.0l0.8 -0.8l0.5 -0.2l1.0 0.0l0.9 0.5l0.6 1.0l0.5 0.3l1.5 -0.0l1.0 0.5l0.7 1.2l-0.2 1.7l0.4 0.3l1.1 0.4l1.5 -1.3l1.0 -0.2l1.0 0.3l0.9 0.8l0.3 1.5l-0.1 2.0l-0.2 0.5l-0.4 0.7l-1.2 0.8l-0.4 1.5l-0.9 1.0l-1.0 0.8l-2.0 -0.0l-1.0 -0.8l-0.7 -1.0l-0.5 -2.0l0.3 -1.0l-0.1 -0.5l-0.5 -0.3l-0.7 0.3l-0.2 1.0l-0.6 0.8l-0.5 0.3l-1.0 0.2l-0.4 1.2l-1.1 1.3l-1.0 0.5l-1.0 -0.0l-1.0 -0.5l-1.0 -0.9l-0.2 1.1l-0.8 1.1zM133.0 357.0l-1.0 0.1l-1.0 -0.2l-0.6 -0.4l-0.6 -1.0l-0.1 -1.0l0.4 -1.0l0.4 -0.5l1.0 -0.6l1.5 -0.0l1.0 0.7l0.5 0.9l0.2 1.0l-0.4 1.0l-1.3 1.0zM142.0 355.5l-0.5 0.3l-1.0 0.2l-1.1 -0.5l-0.4 -0.5l-0.3 -1.0l0.3 -1.0l0.4 -0.5l1.1 -0.5l1.0 0.1l0.5 0.4l0.5 0.6l0.2 0.9l-0.2 0.8l-0.5 0.7zM157.0 354.0l-0.5 -0.3l-0.2 -0.7l0.2 -0.4l0.5 -0.3l0.5 0.1l0.4 0.6l-0.0 0.5l-0.4 0.4l-0.5 0.1zM507.0 357.0l-1.0 -0.1l-0.8 -0.4l-0.4 -0.5l-0.4 -1.0l0.1 -1.0l0.5 -0.9l0.9 -0.6l0.6 -0.1l1.0 0.1l0.8 0.5l0.4 0.5l0.3 1.0l-0.1 1.0l-0.4 0.6l-0.5 0.5l-1.0 0.4zM323.5 430.2l-1.0 0.2l-1.4 -0.4l-0.6 -0.6l-0.6 -1.4l-0.9 -0.2l-1.3 -1.3l-0.0 -2.0l0.9 -1.0l-0.0 -0.5l-0.4 -0.5l-0.0 -2.0l1.3 -1.5l-0.3 -0.5l-0.2 -1.0l0.2 -1.0l0.7 -1.0l-0.8 -1.0l-0.1 -1.0l0.1 -1.0l0.4 -0.5l-0.5 -0.3l-1.3 -1.2l-0.0 -1.5l0.0 -0.5l1.8 -1.6l0.2 -0.4l-0.2 -0.5l-1.0 -1.0l-0.5 -1.0l-1.0 -0.2l-1.3 -1.3l-0.0 -2.0l0.8 -1.0l-0.8 -1.5l-0.0 -0.5l0.0 -0.5l0.5 -1.0l1.0 -1.0l-0.5 -0.5l0.0 -2.0l1.8 -1.6l0.2 -0.4l1.2 -1.0l0.1 -0.5l-0.2 -1.0l-0.8 -0.3l-1.3 -1.2l0.0 -2.0l0.8 -1.0l-0.8 -1.0l-0.2 -1.0l0.2 -1.0l0.9 -1.0l-0.0 -0.5l-0.4 -0.5l-0.0 -2.0l3.1 -3.0l0.1 -0.5l-0.2 -1.0l0.2 -1.0l0.6 -0.8l1.3 -0.7l-0.4 -1.0l0.0 -1.0l0.6 -1.0l0.8 -0.5l-0.0 -0.5l-0.5 -1.0l0.0 -1.0l0.8 -1.5l-0.8 -1.5l0.0 -1.0l0.4 -1.0l0.8 -0.8l0.6 -0.2l-0.0 -0.5l-0.8 -1.0l-0.2 -1.5l0.4 -1.0l0.5 -0.5l1.5 -0.5l1.0 0.2l0.5 0.3l0.5 0.5l0.4 1.0l-0.2 1.5l-0.2 0.5l-1.2 1.0l1.5 1.5l0.0 1.5l-0.0 0.5l-0.9 1.0l-0.2 0.5l0.5 1.0l-0.1 1.5l-1.1 1.1l-0.7 0.4l0.3 1.5l-0.1 0.7l-0.5 0.8l-1.0 0.6l-0.2 0.4l0.4 1.0l0.0 1.0l-0.5 1.0l-0.6 0.5l0.7 1.5l-0.0 1.0l-0.5 1.0l-0.5 0.5l0.0 0.5l0.5 1.0l0.0 1.0l-0.9 1.5l1.1 1.4l0.7 -0.9l1.3 -0.4l1.0 0.4l0.6 1.0l-0.1 1.2l-1.2 1.3l1.2 1.2l0.1 1.3l-0.2 0.5l-1.1 1.0l1.1 1.0l0.3 1.0l-0.3 1.0l-1.1 1.0l1.1 1.0l0.3 1.0l-0.3 1.0l-1.1 1.0l1.1 1.0l0.3 1.0l-0.3 1.0l-1.1 1.0l1.1 1.0l0.3 1.0l-0.3 1.0l-1.1 1.0l1.1 1.0l0.3 1.0l-0.3 1.0l-1.1 1.0l1.1 1.0l0.3 1.0l-0.3 1.0l-1.1 1.0l1.1 1.0l0.3 1.0l-0.2 0.7l-0.6 0.8l-0.9 0.3l-1.0 -0.2l-0.5 0.2l-0.6 0.7l0.4 1.0l0.0 1.0l-0.5 1.0l-0.5 0.5l0.0 0.5l0.5 1.0l-0.0 1.0l-0.8 1.5l0.7 1.0l0.3 1.0l-0.5 1.4l-1.0 0.8zM517.0 357.5l-0.5 0.2l-1.0 0.0l-1.0 -0.7l-0.3 -0.5l0.0 -1.0l0.8 -1.1l1.0 -0.3l0.5 0.1l1.0 0.8l0.3 0.5l-0.0 1.0l-0.8 1.0zM318.0 357.5l-0.5 0.0l-0.3 -0.5l0.3 -0.5l0.5 -0.0l0.2 0.5l-0.2 0.5zM122.5 360.7l-1.5 0.0l-1.0 -0.7l-0.3 -0.5l-0.2 -1.0l0.2 -0.5l0.3 -0.6l1.0 -0.7l0.5 -0.2l1.0 0.2l0.5 0.3l0.7 1.0l-0.0 1.5l-0.7 0.9l-0.5 0.3zM129.0 361.7l-1.0 0.2l-1.0 -0.4l-0.5 -0.3l-0.8 -1.2l-0.3 -1.0l0.1 -0.9l0.3 -0.6l0.7 -0.5l0.5 -0.2l1.0 0.0l0.5 0.3l1.0 0.9l0.4 1.0l0.1 1.4l-0.3 0.6l-0.7 0.7zM561.5 359.1l-1.0 -0.0l-0.7 -0.6l-0.1 -1.0l0.3 -0.5l0.5 -0.4l1.0 0.0l0.6 0.4l0.3 0.5l-0.2 1.0l-0.7 0.6zM500.0 360.5l-1.0 0.1l-0.5 -0.2l-0.4 -0.4l-0.2 -1.0l0.6 -0.9l1.0 -0.2l0.9 0.6l0.3 1.0l-0.2 0.5l-0.5 0.5zM458.5 361.3l-1.0 0.0l-0.5 -0.3l-0.3 -0.5l0.0 -1.0l0.3 -0.5l0.5 -0.3l1.0 0.0l0.5 0.3l0.3 0.5l-0.0 1.0l-0.3 0.5l-0.5 0.3zM172.0 361.0l-0.5 -0.2l-0.3 -0.3l-0.0 -0.5l0.3 -0.5l0.5 -0.2l0.5 0.1l0.3 0.6l-0.0 0.5l-0.3 0.3l-0.5 0.2zM481.0 360.8l-0.5 0.0l-0.5 -0.3l-0.1 -0.5l0.1 -0.5l0.5 -0.3l0.5 0.1l0.5 0.5l-0.1 0.7l-0.4 0.3zM118.5 365.0l-1.0 -0.0l-1.0 -0.5l-0.8 -1.0l-0.1 -0.5l0.1 -1.0l0.3 -0.6l0.5 -0.6l1.0 -0.5l1.5 0.2l0.7 0.5l0.6 1.0l0.1 1.0l-0.4 1.0l-0.5 0.6l-1.0 0.4zM317.5 362.3l-0.5 0.0l-0.5 -0.2l-0.2 -0.6l0.2 -0.7l0.5 -0.3l0.5 0.0l0.6 0.5l-0.1 0.9l-0.5 0.4zM491.0 365.1l-1.0 0.2l-1.0 -0.2l-0.8 -0.6l-0.6 -1.0l-0.2 -1.0l0.4 -1.0l0.3 -0.5l0.9 -0.6l1.0 -0.2l1.0 0.2l0.9 0.6l0.5 1.0l0.1 1.0l-0.3 1.0l-1.2 1.1zM146.0 364.5l-1.0 0.0l-0.5 -0.1l-0.5 -0.4l-0.6 -1.0l0.1 -1.0l0.2 -0.5l0.5 -0.5l0.8 -0.4l0.5 -0.0l1.0 0.3l0.8 1.1l0.1 1.0l-0.2 0.5l-0.4 0.5l-0.8 0.5zM155.0 365.6l-1.0 -0.1l-0.6 -0.5l-0.5 -0.5l-0.3 -1.0l0.2 -1.0l0.4 -0.5l0.6 -0.5l0.7 -0.2l1.0 0.1l0.5 0.3l0.5 0.4l0.4 0.9l-0.0 1.0l-0.4 0.8l-0.5 0.4l-1.0 0.4zM136.5 369.1l-1.0 0.2l-1.5 -0.1l-1.2 -0.7l-0.6 -1.0l-0.2 -0.9l-1.5 -0.3l-0.7 -0.3l-0.4 -0.5l-0.4 -1.0l0.1 -1.0l0.6 -1.0l0.8 -0.5l1.5 -0.1l1.0 0.7l1.0 1.4l1.5 -0.3l1.0 0.1l1.2 0.7l0.5 0.5l0.4 1.0l0.0 1.0l-0.6 1.2l-0.5 0.4l-1.0 0.5zM502.0 367.0l-1.0 0.1l-0.5 -0.1l-0.9 -1.0l-0.1 -1.0l0.1 -0.5l0.9 -0.9l0.5 -0.1l1.0 0.1l1.0 0.9l0.1 0.5l-0.1 1.0l-1.0 1.0zM512.5 369.6l-1.0 0.0l-1.0 -0.4l-1.2 -1.2l-0.1 -0.5l0.1 -2.0l1.2 -1.4l1.0 -0.4l1.0 -0.0l1.0 0.4l1.2 1.4l0.1 0.5l-0.1 2.0l-1.2 1.2l-1.0 0.4zM321.5 366.2l-0.9 -0.2l-0.3 -0.5l0.2 -0.8l0.5 -0.3l0.7 0.1l0.4 0.5l-0.1 0.8l-0.5 0.4zM476.5 366.0l-0.5 0.1l-0.5 -0.1l-0.3 -0.5l0.0 -0.5l0.3 -0.4l0.7 -0.1l0.6 0.5l0.0 0.5l-0.3 0.5zM442.5 367.3l-1.0 0.0l-0.5 -0.3l-0.3 -0.5l0.0 -1.0l0.3 -0.5l0.5 -0.3l1.0 0.0l0.5 0.3l0.3 0.5l-0.0 1.0l-0.3 0.5l-0.5 0.3zM543.5 369.6l-1.5 0.3l-1.0 -0.3l-0.6 -0.6l-0.5 -1.5l0.3 -1.0l0.8 -0.9l1.0 -0.3l1.0 0.1l0.9 0.6l0.4 0.5l0.3 1.0l-0.0 0.5l-0.4 1.0l-0.7 0.6zM468.0 369.2l-1.0 0.2l-0.5 -0.3l-0.5 -0.6l-0.0 -1.0l0.5 -0.6l1.0 -0.3l0.5 0.2l0.5 0.5l0.2 0.7l-0.1 0.5l-0.6 0.7zM483.5 369.1l-1.0 0.2l-0.5 -0.1l-0.5 -0.5l-0.2 -0.7l0.1 -0.5l0.6 -0.7l1.0 -0.2l0.5 0.2l0.5 0.6l0.0 1.1l-0.5 0.6zM475.0 372.1l-1.0 0.2l-1.0 -0.2l-1.1 -1.1l-0.2 -1.0l0.2 -1.0l1.1 -1.1l1.0 -0.2l1.0 0.2l1.1 1.1l0.2 1.0l-0.2 1.0l-1.1 1.1zM141.5 372.2l-0.5 0.1l-1.0 -0.1l-0.5 -0.2l-0.7 -1.0l-0.1 -0.5l0.2 -1.0l0.4 -0.5l0.7 -0.5l1.0 -0.1l0.5 0.1l1.0 1.0l0.1 1.5l-0.6 0.9l-0.5 0.3zM158.0 372.6l-1.0 -0.2l-0.6 -0.4l-0.4 -0.5l-0.3 -1.0l0.2 -1.0l0.6 -0.7l0.5 -0.3l1.0 -0.2l0.9 0.2l0.6 0.5l0.4 0.5l0.2 1.0l-0.6 1.4l-0.5 0.4l-1.0 0.3zM113.5 370.3l-0.5 0.1l-0.6 -0.4l-0.1 -0.5l0.2 -0.5l0.5 -0.2l0.7 0.2l0.2 0.5l-0.1 0.5l-0.3 0.3zM516.0 374.1l-1.5 -0.4l-0.5 -0.5l-0.7 -1.2l-0.1 -0.5l0.1 -1.0l0.6 -1.0l1.1 -0.7l1.0 -0.2l1.0 0.2l1.1 0.7l0.6 1.0l0.1 1.0l-0.1 0.5l-0.7 1.2l-0.5 0.5l-1.5 0.4zM128.5 375.1l-1.0 -0.0l-0.5 -0.2l-0.9 -0.9l-0.3 -1.5l0.4 -1.0l0.8 -0.7l3.0 -1.3l1.0 0.0l1.0 0.4l0.6 0.6l0.4 1.0l-0.0 1.0l-0.4 1.0l-1.1 0.8l-3.0 0.8zM501.0 380.8l-2.0 0.0l-1.0 -0.6l-0.8 -1.2l-0.2 -1.6l-0.5 0.2l-1.0 0.0l-1.0 -0.3l-0.5 -0.5l-0.7 -0.8l-0.1 -0.5l0.1 -2.0l1.2 -1.3l1.0 -0.5l1.0 0.0l1.0 0.5l1.2 1.3l0.3 1.7l1.0 -0.2l0.2 -0.5l1.3 -1.2l2.5 -0.3l-0.3 -0.5l0.0 -1.0l0.5 -1.0l1.3 -1.2l1.5 -0.2l1.0 0.2l1.3 1.2l0.3 1.0l0.0 1.0l-0.3 1.0l-1.3 1.2l-1.0 0.1l-1.5 -0.1l-0.1 0.3l0.3 1.0l-0.4 1.5l-1.3 1.2l-1.0 0.1l-1.0 1.4l-1.0 0.6zM169.5 374.1l-1.5 -0.1l-1.0 -1.0l-0.3 -1.0l0.3 -1.0l1.1 -1.0l0.9 -0.1l1.0 0.3l0.5 0.4l0.5 0.9l0.0 1.0l-0.2 0.5l-0.3 0.5l-1.0 0.6zM200.0 372.6l-0.7 -0.1l-0.3 -0.6l0.5 -1.1l0.5 -0.4l0.5 0.0l0.5 0.5l0.0 0.6l-1.0 1.1zM426.5 373.1l-1.0 -0.3l-0.5 -0.8l0.2 -1.0l0.8 -0.6l0.5 -0.0l0.5 0.2l0.6 0.9l-0.3 1.0l-0.8 0.6zM337.5 371.6l-0.5 0.2l-0.5 -0.2l-0.2 -0.6l0.7 -0.3l0.5 0.3l0.0 0.6zM461.5 374.1l-1.0 -0.2l-0.6 -0.9l0.2 -1.0l0.4 -0.4l0.5 -0.2l1.0 0.1l0.5 0.5l0.2 0.5l-0.3 1.0l-0.9 0.6zM141.5 391.5l-1.5 -0.5l-0.8 -1.0l-0.8 -3.0l0.2 -1.0l0.7 -1.0l-1.3 -0.4l-1.2 -1.1l-0.3 -1.5l0.3 -1.0l1.2 -1.2l1.0 -0.2l1.0 0.1l0.8 -1.7l0.7 -0.6l1.0 -0.3l1.5 0.1l0.4 -0.2l1.3 -1.5l0.1 -1.5l0.7 -0.9l1.0 -0.8l3.5 -0.2l1.0 0.2l1.3 1.2l0.5 1.0l-0.0 1.5l-0.8 1.1l-1.0 0.7l-2.3 0.2l-0.0 1.0l-0.5 1.0l-0.7 0.6l-1.5 0.5l-1.0 -0.2l-0.5 0.1l-1.0 1.2l-1.0 0.3l-0.5 0.1l-1.0 -0.3l-0.2 0.2l-1.0 2.0l1.2 0.4l0.6 0.6l1.0 3.0l0.1 1.0l-0.2 0.6l-0.5 0.7l-0.5 0.4l-1.0 0.3zM487.0 377.0l-1.0 -0.1l-0.8 -0.4l-0.4 -0.5l-0.4 -1.0l0.1 -1.0l0.5 -0.9l0.9 -0.6l0.6 -0.1l1.0 0.1l0.8 0.5l0.4 0.5l0.3 1.0l-0.1 1.0l-0.4 0.6l-0.5 0.5l-1.0 0.4zM111.5 375.6l-1.0 0.1l-0.6 -0.2l-0.4 -0.5l-0.0 -1.0l0.5 -0.7l1.0 -0.3l0.5 0.2l0.5 0.5l0.2 0.8l-0.1 0.5l-0.6 0.6zM124.0 375.6l-1.0 0.1l-0.5 -0.2l-0.5 -0.5l-0.0 -1.0l0.5 -0.7l1.0 -0.3l0.5 0.2l0.5 0.5l0.2 0.8l-0.1 0.5l-0.6 0.6zM453.5 376.1l-1.0 -0.2l-0.6 -0.9l0.2 -1.0l0.4 -0.4l0.5 -0.2l1.0 0.1l0.5 0.5l0.2 0.5l-0.3 1.0l-0.9 0.6zM466.5 377.1l-1.2 -0.1l-0.7 -0.5l-0.3 -0.5l-0.1 -0.5l0.1 -1.0l0.4 -0.5l0.8 -0.4l0.9 -0.1l0.6 0.3l0.5 0.5l0.3 0.7l-0.3 1.4l-1.0 0.7zM527.0 379.3l-1.5 0.1l-1.0 -0.3l-1.1 -1.1l-0.3 -1.0l0.2 -1.5l0.4 -0.5l0.8 -0.6l1.5 -0.6l1.0 0.1l1.0 0.5l0.7 0.6l0.4 1.0l0.0 1.0l-0.4 1.0l-0.7 0.7l-1.0 0.6zM163.0 378.7l-1.0 -0.0l-0.5 -0.3l-0.5 -0.5l-0.4 -0.9l0.1 -1.0l0.3 -0.8l0.5 -0.5l1.0 -0.3l0.8 0.1l0.7 0.5l0.6 1.0l-0.2 1.5l-0.4 0.7l-1.0 0.5zM172.0 379.5l-1.0 -0.2l-0.5 -0.4l-0.7 -0.9l-0.2 -1.0l0.1 -1.0l0.7 -1.0l0.9 -0.5l0.7 -0.1l0.7 0.1l0.9 0.5l0.7 1.0l0.1 1.0l-0.2 1.0l-0.7 0.9l-0.5 0.4l-1.0 0.2zM459.0 379.1l-1.0 0.2l-1.0 -0.2l-0.8 -0.6l-0.6 -1.0l-0.2 -1.0l0.4 -1.0l1.2 -1.1l1.0 -0.2l1.0 0.2l0.9 0.6l0.5 1.0l0.1 1.0l-0.3 1.0l-1.2 1.1zM432.5 375.5l-0.6 -0.0l-0.2 -0.5l0.3 -0.4l0.5 0.3l0.0 0.6zM215.5 377.6l-1.0 -0.1l-0.4 -0.5l-0.1 -0.5l0.2 -0.5l0.8 -0.6l1.0 0.2l0.4 0.9l-0.1 0.5l-0.8 0.6zM187.0 385.8l-1.0 0.2l-1.2 -0.5l-0.7 -1.0l-0.1 -2.0l-1.5 -0.3l-1.4 -1.2l-0.7 -2.0l-0.1 -1.0l0.7 -1.3l1.0 -0.8l1.0 -0.2l1.0 0.2l1.0 0.8l1.1 1.8l0.3 1.5l-0.4 1.5l1.5 0.7l0.5 0.6l0.2 0.7l-0.2 1.4l-1.0 0.9zM126.5 384.0l-1.0 -0.2l-0.5 -0.4l-0.5 -0.9l-0.0 -1.0l0.2 -0.5l0.8 -0.9l0.2 -0.6l-0.3 -1.0l0.2 -1.0l0.9 -1.0l1.0 -0.2l0.8 0.2l0.6 0.5l0.3 0.5l0.2 1.0l-0.4 1.0l-0.8 1.0l0.2 1.5l-0.3 1.0l-0.6 0.7l-1.0 0.3zM492.0 382.7l-1.0 0.2l-1.5 -0.1l-1.3 -1.3l-0.5 -1.0l0.0 -1.0l0.5 -1.0l1.3 -1.2l1.5 -0.1l1.0 0.2l1.3 1.1l0.3 1.0l0.0 1.0l-0.3 1.0l-1.3 1.2zM163.0 385.2l-0.5 0.0l-1.5 -0.5l-0.8 -0.7l-0.5 -1.0l-0.0 -1.5l0.2 -0.5l1.1 -1.3l1.0 -0.5l1.0 -0.1l0.5 0.2l1.0 0.7l0.8 1.0l0.2 1.0l-0.2 1.5l-1.3 1.3l-1.0 0.4zM229.5 380.2l-0.3 -0.2l0.0 -0.5l0.3 -0.1l0.4 0.6l-0.4 0.2zM458.0 403.5l-0.5 0.2l-1.5 0.0l-1.0 -0.5l-0.6 -0.7l-0.3 -1.0l-0.0 -1.0l0.3 -1.0l0.8 -1.0l-0.2 -0.2l-1.5 1.5l-1.0 0.4l-1.0 0.0l-1.0 -0.4l-1.2 -1.3l-0.3 -1.7l-0.3 0.2l-0.0 1.0l-0.4 1.0l-1.3 1.3l-0.8 0.2l-0.2 0.2l-1.0 -0.0l-1.0 -0.4l-1.3 -1.3l-0.4 -1.0l-0.1 -2.0l0.5 -1.5l1.3 -1.2l1.5 -0.3l0.2 -0.5l1.3 -1.3l1.5 -0.1l1.0 0.2l1.3 1.2l0.4 1.5l0.3 0.4l1.0 -0.0l1.5 0.6l0.2 -0.5l1.3 -1.2l2.0 -0.1l0.2 -0.2l-0.4 -0.5l-0.1 -2.0l0.1 -0.5l1.2 -1.3l1.5 -0.4l1.5 0.4l0.5 0.5l0.3 -0.2l0.8 -1.5l0.9 -0.8l1.5 -0.4l1.5 0.6l0.5 0.5l2.0 -2.1l1.4 -0.3l-1.1 -1.0l-0.4 -1.5l0.6 -1.4l1.0 -0.8l1.0 -0.1l1.0 0.1l0.9 0.7l0.6 0.8l1.0 0.0l1.5 0.7l0.3 -1.0l1.2 -1.3l1.0 -0.5l1.0 0.0l1.0 0.5l0.5 0.4l0.7 0.9l0.3 0.7l1.0 -0.9l2.0 -0.1l0.5 0.1l1.3 1.2l0.5 1.0l-0.0 1.0l-0.5 1.0l-1.3 1.2l-1.5 0.1l-1.0 -0.1l-1.3 -1.2l-0.2 -0.9l-1.0 0.7l-1.5 0.4l-2.0 -0.4l-0.5 1.1l-1.0 0.8l-1.5 0.2l-1.0 -0.2l-0.5 -0.4l-0.1 0.2l0.3 1.0l-0.4 1.5l-1.3 1.2l-2.0 0.1l-0.5 -0.1l-1.0 -0.9l-0.3 0.2l-0.5 1.0l-1.2 1.0l0.2 0.5l0.1 1.5l-0.6 1.0l-0.7 0.7l-1.0 0.4l-1.0 -0.0l-1.0 -0.4l-1.5 -1.7l-0.5 0.3l-1.0 -0.0l-0.2 0.2l0.3 1.0l0.0 1.0l-0.3 1.0l-1.0 1.0l0.9 1.0l0.4 1.0l-0.0 1.0l-0.4 1.0l-1.2 1.0zM443.5 385.5l-0.5 0.3l-1.5 -0.0l-1.0 -0.6l-0.7 -0.7l-0.4 -1.0l-0.0 -1.0l0.5 -1.0l0.6 -0.6l1.5 -0.5l1.0 0.2l0.5 0.2l1.2 1.2l0.3 1.0l-0.1 1.0l-0.6 1.0l-0.8 0.5zM450.0 384.7l-1.0 0.2l-1.0 -0.2l-0.5 -0.3l-0.8 -0.9l-0.1 -1.5l0.9 -1.2l1.0 -0.5l1.0 0.1l1.0 0.5l0.5 0.6l0.4 1.0l-0.2 1.0l-0.3 0.5l-0.9 0.7zM180.0 382.2l-0.8 -0.2l-0.2 -0.5l0.1 -0.5l0.4 -0.4l0.5 -0.0l0.5 0.4l0.0 0.8l-0.5 0.4zM431.0 385.2l-1.0 0.2l-0.9 -0.4l-0.3 -0.5l-0.1 -1.0l0.3 -0.6l0.5 -0.4l1.0 -0.2l0.5 0.2l0.5 0.5l0.2 1.0l-0.2 0.7l-0.5 0.5zM506.0 387.2l-1.5 -0.0l-1.0 -0.7l-0.6 -1.0l-0.1 -1.0l0.3 -1.0l0.4 -0.6l1.0 -0.6l1.0 -0.1l1.0 0.3l0.7 0.5l0.5 1.0l0.1 1.0l-0.3 1.0l-0.5 0.6l-1.0 0.6zM198.0 388.8l-2.0 -0.1l-1.0 -0.8l-0.7 -1.4l0.0 -1.0l0.5 -1.0l0.7 -0.7l1.0 -0.5l1.5 0.2l1.0 0.6l0.7 0.9l0.1 2.0l-0.8 1.2l-1.0 0.6zM157.5 398.2l-1.5 0.1l-1.0 -0.2l-1.3 -1.1l-0.3 -1.0l-0.0 -1.0l0.3 -1.0l1.1 -1.0l-1.8 -0.3l-1.0 -0.6l-0.8 -1.1l-0.0 -1.5l0.0 -0.5l0.8 -1.2l1.0 -0.6l2.0 -0.2l0.3 -1.5l0.4 -0.5l0.8 -0.8l1.5 -0.2l1.0 0.1l1.1 0.9l0.7 1.0l0.0 1.0l-0.1 1.0l-1.2 1.3l-1.0 0.5l-1.5 -0.1l-0.2 1.3l-0.7 1.0l-0.7 0.5l2.1 0.2l1.3 1.3l0.5 1.0l-0.0 1.0l-0.5 1.0l-1.3 1.2zM179.5 396.7l-1.0 0.0l-1.0 -0.5l-0.8 -0.7l-0.3 -0.5l-0.2 -1.0l0.1 -1.0l0.3 -0.5l-1.6 -0.9l-0.7 -0.6l-0.8 -1.8l-0.7 -0.7l-0.5 -1.0l0.1 -1.5l0.7 -1.0l0.9 -0.7l2.0 -0.1l1.2 0.8l0.7 1.5l0.6 0.3l0.6 0.7l0.6 1.5l0.0 0.5l-0.7 1.5l1.0 0.2l0.5 0.4l0.5 0.4l0.7 1.0l0.1 1.0l-0.2 1.0l-1.1 1.2l-1.0 0.5zM167.0 390.1l-1.0 0.2l-1.5 -0.1l-1.2 -1.2l-0.3 -1.5l0.3 -1.0l1.2 -1.3l1.0 -0.2l1.5 0.3l1.2 1.2l0.2 1.5l-0.3 1.0l-1.1 1.1zM325.2 407.0l1.0 -1.0l-1.0 -1.0l-0.2 -0.5l-0.0 -1.0l0.5 -0.8l0.7 -0.7l-1.0 -1.0l-0.2 -0.5l-0.0 -1.0l0.5 -0.8l0.7 -0.7l-1.0 -1.0l-0.3 -1.0l0.3 -1.0l1.0 -1.0l-1.0 -1.0l-0.3 -1.0l0.3 -1.0l1.0 -1.0l-1.0 -1.0l-0.3 -1.0l0.3 -1.0l1.0 -1.0l-0.7 -0.7l-0.5 -0.8l-1.4 2.0l0.5 1.0l0.0 1.0l-0.5 1.0l-0.6 0.5l0.8 1.5l-0.0 1.0l-0.5 1.0l-0.5 0.5l-0.1 0.5l0.4 1.5l-0.4 1.5l-0.5 0.5l0.6 1.5l-0.0 1.0l-0.9 1.5l0.8 1.5l-0.2 1.5l1.0 0.7l1.5 1.8l0.2 -0.5zM425.5 390.6l-1.5 -0.4l-0.7 -0.7l-0.5 -1.0l-0.0 -1.0l0.4 -1.0l0.8 -0.8l1.0 -0.4l1.0 0.0l1.0 0.6l0.7 0.6l0.4 1.5l-0.6 1.5l-1.0 0.8l-1.0 0.3zM472.7 385.5l-0.2 -0.2l-0.3 0.2l0.3 0.2l0.2 -0.2zM434.5 390.1l-1.0 0.4l-0.5 -0.1l-1.0 -0.4l-0.5 -0.5l-0.3 -1.5l0.3 -0.9l0.5 -0.5l0.5 -0.3l1.0 -0.1l1.0 0.3l0.5 0.5l0.5 1.5l-0.4 1.0l-0.6 0.6zM218.5 389.2l-0.5 0.1l-0.6 -0.3l-0.1 -0.5l0.2 -0.6l0.5 -0.2l0.8 0.3l0.1 0.5l-0.4 0.7zM312.0 388.6l-0.6 -0.1l-0.1 -0.5l0.2 -0.4l0.5 -0.0l0.3 0.4l-0.3 0.6zM487.0 393.7l-1.0 0.2l-1.0 -0.2l-0.9 -0.7l-0.5 -1.0l-0.1 -1.0l0.3 -1.0l1.2 -1.0l1.0 -0.2l1.0 0.2l0.8 0.5l0.6 1.0l0.2 1.0l-0.4 1.0l-0.3 0.5l-0.9 0.7zM217.5 395.6l-1.5 0.1l-1.5 -0.9l-1.5 0.5l-1.0 -0.0l-0.5 -0.2l-1.3 -1.1l-0.5 -1.0l0.2 -1.5l0.6 -1.0l1.0 -0.8l1.0 -0.2l1.5 0.2l1.0 0.9l0.5 0.1l1.5 -0.3l1.0 0.4l1.0 1.2l0.2 0.5l0.0 1.0l-0.1 0.5l-0.6 0.9l-1.0 0.7zM411.5 395.2l-1.5 -0.1l-0.9 -0.6l-0.6 -1.0l-0.1 -1.5l0.6 -1.0l1.0 -0.7l1.0 -0.1l1.0 0.2l0.8 0.6l0.5 1.0l0.1 1.0l-0.3 1.0l-0.6 0.7l-1.0 0.5zM172.5 403.1l-1.0 0.0l-1.0 -0.4l-1.2 -1.2l-0.3 -0.8l-1.0 -0.1l-1.0 -0.7l-0.8 -0.9l-0.2 -1.0l0.2 -1.5l0.5 -0.5l0.8 -0.8l1.5 -0.4l0.2 -0.3l-0.0 -1.5l0.6 -1.0l0.7 -0.7l1.5 -0.3l1.0 0.1l1.0 0.6l0.8 1.3l0.1 0.5l-0.1 1.5l-0.8 0.9l-1.0 0.8l-1.2 0.3l1.7 0.6l1.2 1.4l0.1 0.5l-0.1 2.0l-1.2 1.2l-1.0 0.4zM233.0 393.5l-1.0 0.2l-0.5 -0.1l-0.5 -0.5l-0.1 -1.1l0.6 -0.8l1.0 -0.2l0.8 0.5l0.3 1.0l-0.1 0.5l-0.5 0.5zM339.5 392.1l-0.5 0.1l-0.2 -0.2l0.2 -0.5l0.5 0.6zM189.0 401.1l-1.0 0.2l-1.5 -0.1l-1.2 -1.2l-0.4 -1.0l0.1 -1.0l0.4 -1.0l0.6 -0.7l1.0 -0.5l1.0 -0.1l1.0 0.3l-0.3 -0.5l-0.0 -1.5l0.5 -1.0l0.8 -0.8l1.0 -0.5l1.5 0.1l1.0 0.7l0.8 1.0l0.2 1.0l-0.2 1.5l-1.3 1.3l-0.7 0.2l-0.3 0.3l-1.5 -0.4l-0.2 0.1l0.2 1.0l-0.3 1.5l-1.2 1.1zM348.0 393.0l-0.5 0.2l-0.5 -0.1l-0.4 -0.6l0.2 -0.5l0.7 -0.3l0.5 0.3l0.2 0.5l-0.2 0.5zM417.5 396.0l-1.0 -0.3l-0.5 -0.4l-0.5 -1.3l0.5 -1.3l0.5 -0.4l1.0 -0.3l1.0 0.3l0.5 0.4l0.5 1.3l-0.5 1.3l-0.5 0.4l-1.0 0.3zM228.0 399.6l-1.0 0.2l-1.5 -0.1l-1.2 -1.2l-0.5 -1.5l0.6 -1.5l0.6 -0.7l1.0 -0.5l1.5 0.1l1.0 0.6l0.8 1.0l0.2 1.0l-0.3 1.5l-1.2 1.1zM244.0 399.6l-0.5 0.1l-1.0 -0.1l-0.5 -0.2l-0.7 -0.9l-0.1 -1.0l0.2 -0.5l0.3 -0.5l0.8 -0.6l1.5 0.0l0.7 0.6l0.3 0.5l0.1 1.5l-0.6 0.8l-0.5 0.3zM396.5 399.2l-0.5 0.1l-1.0 -0.1l-0.5 -0.4l-0.5 -0.8l0.0 -1.0l0.5 -0.8l0.5 -0.3l0.5 -0.2l1.0 0.1l0.5 0.3l0.5 0.7l0.1 0.7l-0.1 0.7l-0.5 0.7l-0.5 0.3zM442.0 409.2l-1.5 0.0l-1.0 -0.5l-0.7 -0.7l-0.6 -1.5l0.3 -1.5l-1.5 -0.2l-0.5 -0.5l-0.8 -0.8l-0.7 -1.8l-1.0 1.1l-1.5 0.5l-1.5 -0.5l-0.5 -0.4l-0.8 -0.9l-0.4 -1.0l-0.0 -0.5l0.5 -1.5l0.7 -0.8l1.0 -0.5l2.0 -0.1l0.5 -0.7l1.0 -0.7l2.0 0.0l1.0 0.7l0.8 1.1l0.2 1.2l1.0 0.5l1.3 1.3l0.4 1.5l-0.3 1.0l0.1 0.4l1.0 0.3l0.9 0.8l0.8 1.5l-0.0 0.5l-0.6 1.5l-0.6 0.6l-1.0 0.6zM346.5 400.1l-0.9 -0.1l-0.6 -0.3l-0.5 -0.5l-0.3 -0.7l0.1 -1.0l0.2 -0.5l0.5 -0.5l1.0 -0.4l1.0 0.2l0.5 0.3l0.5 0.7l0.2 0.7l-0.2 1.0l-0.4 0.5l-1.1 0.6zM467.5 401.1l-1.5 0.0l-1.0 -0.5l-0.5 -0.7l-0.3 -0.9l0.1 -1.0l0.5 -1.0l0.7 -0.6l1.5 -0.2l1.0 0.3l0.6 0.5l0.6 1.0l-0.1 1.5l-0.6 1.0l-1.0 0.6zM310.5 398.0l-0.5 -0.0l-0.2 -0.5l0.2 -0.5l0.6 -0.0l0.2 0.5l-0.3 0.5zM402.0 401.1l-1.5 -0.2l-0.5 -0.4l-0.6 -1.0l-0.0 -1.5l0.6 -0.8l1.0 -0.6l1.5 0.2l0.5 0.2l0.8 1.0l0.1 1.0l-0.3 1.0l-0.6 0.7l-1.0 0.4zM207.5 412.1l-1.5 0.1l-0.5 -0.1l-1.0 -0.8l-0.6 -1.3l-0.0 -1.0l0.5 -1.0l-0.4 -0.2l-1.5 0.0l-1.0 -0.5l-0.5 0.0l-1.0 1.1l-1.5 0.4l-1.0 -0.4l-1.0 1.3l-1.0 0.5l-1.0 0.1l-1.5 -0.5l-0.7 -0.8l-0.5 -1.0l0.0 -1.5l0.6 -1.0l0.6 -0.5l1.5 -0.6l1.2 0.1l1.3 -1.3l1.0 -0.4l1.5 0.1l1.0 0.6l1.5 -1.2l1.0 -0.2l1.0 0.1l0.2 -0.2l-0.5 -1.0l0.0 -2.0l1.3 -1.3l1.0 -0.4l1.0 -0.0l1.0 0.4l0.8 0.8l0.5 0.5l0.1 1.0l-0.2 1.5l-1.2 1.3l-1.5 0.5l-1.0 -0.3l0.6 1.0l0.2 1.0l-0.5 1.5l-0.5 0.5l0.2 0.2l1.0 -0.2l1.5 0.4l0.6 0.6l0.5 1.0l0.0 1.0l-0.4 1.0l-1.2 1.1zM193.0 402.5l-1.0 -0.3l-0.5 -0.4l-0.5 -0.7l-0.2 -0.6l0.3 -1.5l0.4 -0.5l1.0 -0.6l1.0 -0.0l1.0 0.4l0.6 0.7l0.3 1.0l-0.1 1.0l-0.7 1.0l-0.6 0.3l-1.0 0.2zM334.5 399.6l-0.5 -0.2l0.0 -0.4l0.5 -0.1l0.2 0.1l-0.2 0.6zM240.0 404.5l-1.0 -0.2l-1.0 -0.8l-0.5 -1.0l-0.2 -1.0l0.7 -1.4l1.0 -0.8l2.5 -0.2l0.8 0.9l0.4 1.0l0.0 1.5l-0.5 1.0l-0.7 0.7l-1.5 0.3zM187.5 408.2l-1.5 0.3l-1.0 -0.2l-1.0 -0.8l-0.6 -1.0l-0.1 -1.0l-1.3 -0.1l-1.2 -0.9l-0.6 -1.0l-0.1 -1.5l0.1 -0.5l0.8 -1.2l1.0 -0.6l2.0 0.0l1.2 0.8l0.6 1.0l0.2 1.4l1.5 0.4l0.8 0.7l0.5 1.0l-0.0 1.5l-0.6 1.0l-0.7 0.7zM448.0 405.6l-1.5 -0.1l-0.8 -0.5l-0.7 -1.0l-0.1 -1.5l0.6 -1.0l1.0 -0.7l1.5 0.0l0.5 0.3l0.6 0.4l0.6 1.0l-0.0 1.5l-0.7 1.0l-1.0 0.6zM346.5 406.2l-1.0 0.1l-1.0 -0.1l-0.9 -0.7l-0.6 -1.0l-0.2 -0.5l0.1 -1.0l0.6 -1.0l1.0 -0.7l1.0 -0.2l1.0 0.2l1.0 0.7l0.6 1.0l0.1 1.0l-0.2 0.5l-0.6 1.0l-0.9 0.7zM387.0 404.6l-0.5 0.1l-1.0 -0.1l-0.5 -0.4l-0.4 -0.7l-0.1 -1.0l0.5 -0.9l0.5 -0.3l0.5 -0.2l1.0 0.1l0.5 0.3l0.5 0.7l0.0 1.3l-0.5 0.8l-0.5 0.3zM433.5 413.7l-1.5 -0.0l-0.9 -0.7l-0.8 -1.0l-0.3 -1.4l-0.5 -0.1l-1.0 1.5l-1.0 0.8l-0.5 0.1l-2.0 -0.2l-1.6 -1.7l-0.2 -0.5l0.0 -1.5l0.5 -1.0l0.8 -0.8l1.2 -0.7l-0.5 -0.5l-0.4 -1.0l0.0 -1.0l0.4 -1.0l1.3 -1.3l1.5 -0.4l1.5 0.4l0.5 0.4l0.8 0.9l0.4 1.5l-0.4 1.5l-0.9 1.0l0.1 0.2l1.2 0.3l0.7 1.0l2.1 0.3l1.2 1.2l0.1 2.0l-0.8 1.1l-1.0 0.6zM416.5 418.1l-1.5 -0.4l-1.5 0.2l-1.0 -0.2l-1.1 -1.2l-0.9 -0.2l-1.2 -0.8l-0.6 -1.0l-0.4 -1.5l0.7 -1.4l1.2 -1.1l-0.2 -1.5l0.2 -1.5l1.3 -1.3l1.0 -0.4l1.0 -0.1l1.0 0.4l0.3 -2.1l1.2 -1.2l1.5 -0.5l1.5 0.5l0.8 0.7l0.4 0.5l0.3 1.5l-0.2 1.0l-0.8 1.2l-1.0 0.6l-2.0 0.0l-0.2 0.2l-0.0 1.0l-0.5 1.0l-1.6 1.5l0.3 1.3l0.5 0.1l1.5 -0.4l1.5 0.4l0.7 0.6l0.4 1.0l0.0 1.0l-0.4 1.0l-0.7 0.7l-1.5 0.4zM219.0 418.8l-1.0 0.1l-1.0 -0.2l-1.0 -0.7l-1.0 -1.2l-0.5 -0.1l-1.5 0.6l-1.0 -0.0l-1.0 -0.5l-0.7 -0.8l-0.5 -1.0l-0.1 -1.0l0.7 -1.5l0.6 -0.5l1.5 -0.6l1.1 0.1l-0.4 -0.5l-0.2 -1.5l0.2 -1.0l0.6 -1.0l1.2 -0.7l1.8 -0.3l-0.0 -1.5l0.5 -1.0l0.7 -0.7l1.0 -0.5l1.0 -0.0l1.6 0.7l0.5 0.5l0.6 1.5l-0.4 1.5l-0.8 1.0l-1.1 0.5l0.0 1.5l1.1 -0.1l1.5 0.7l0.8 0.9l0.3 1.5l-0.3 1.0l-0.8 0.9l-0.5 0.4l-1.3 0.2l-0.2 0.3l-0.2 1.2l-0.3 0.5l-0.5 0.7l-1.0 0.6zM255.0 408.2l-1.0 0.1l-1.0 -0.2l-1.1 -1.1l-0.3 -1.5l0.2 -1.0l1.2 -1.2l1.0 -0.2l1.5 0.3l1.1 1.1l0.2 1.0l-0.1 1.0l-0.6 1.0l-1.1 0.7zM396.0 423.8l-2.0 0.0l-1.0 -0.6l-0.8 -1.2l-0.0 -1.5l0.0 -0.5l0.8 -1.2l0.3 -2.3l1.3 -1.5l-0.3 -1.0l-0.0 -0.5l0.6 -1.5l0.6 -0.6l1.0 -0.7l2.0 0.0l0.1 -0.2l0.1 -1.0l0.4 -1.0l-0.1 -0.2l-1.0 -0.7l-0.3 -0.6l-0.1 -0.5l0.3 -1.0l0.5 -0.5l0.6 -0.3l1.0 0.0l1.0 0.7l0.5 1.2l1.5 -1.3l1.0 -0.1l1.0 0.1l0.9 0.7l0.8 1.0l0.1 1.0l-0.1 1.0l-0.7 0.9l-1.0 0.8l-0.3 0.8l-0.7 1.0l-1.0 0.8l-2.3 0.2l0.0 0.5l-0.5 1.5l-0.7 0.9l-0.5 0.1l2.0 0.3l0.9 0.7l0.3 0.5l0.2 1.0l-0.2 1.0l-0.8 1.0l-1.4 0.5l-1.0 -0.3l-1.0 -0.7l-0.2 1.5l-0.8 1.2l-1.0 0.6zM310.5 409.5l-1.0 -0.3l-0.7 -0.7l-0.2 -1.0l0.2 -1.0l0.7 -0.8l1.0 -0.2l1.0 0.2l0.4 0.3l0.7 1.0l0.1 0.5l-0.1 0.5l-0.7 1.0l-0.4 0.3l-1.0 0.2zM235.5 411.7l-1.5 0.1l-1.0 -0.5l-0.8 -0.8l-0.5 -1.0l-0.0 -1.5l0.5 -1.0l0.8 -0.7l1.5 -0.5l1.5 0.4l1.3 1.3l0.2 1.0l-0.2 1.5l-0.8 1.0l-1.0 0.7zM269.0 412.2l-1.5 -0.0l-1.0 -0.6l-0.7 -1.1l-0.1 -1.0l0.2 -1.0l1.1 -1.2l1.0 -0.3l1.0 0.1l0.9 0.4l0.6 0.7l0.3 0.8l0.1 1.0l-0.4 1.0l-0.5 0.7l-1.0 0.5zM345.5 415.1l-0.5 0.2l-1.5 -0.0l-1.0 -0.5l-0.7 -0.8l-0.4 -1.0l-0.1 -1.0l0.3 -1.0l-0.3 -1.0l0.0 -0.5l0.4 -1.0l1.3 -1.3l1.5 -0.2l1.0 0.2l1.0 0.8l0.7 1.0l0.1 1.5l-0.3 0.5l0.3 1.0l-0.0 1.0l-0.5 1.0l-1.3 1.1zM250.0 414.1l-1.0 0.0l-1.0 -0.4l-0.8 -0.7l-0.5 -1.0l0.1 -2.0l1.2 -1.3l1.0 -0.5l1.0 0.0l1.0 0.5l1.2 1.3l0.1 0.5l-0.1 2.0l-1.2 1.2l-1.0 0.4zM326.3 410.0l-0.8 -0.7l-0.5 -0.8l-0.3 0.5l-0.0 0.5l0.8 0.6l0.5 0.1l0.3 -0.2zM381.0 426.7l-2.0 0.0l-1.0 -0.7l-0.7 -1.0l-0.0 -2.0l0.7 -1.1l0.2 -1.9l0.1 -0.5l0.9 -1.0l0.5 -2.0l1.3 -1.4l0.8 -0.1l0.7 -0.5l0.3 -1.5l1.2 -1.5l0.0 -1.0l0.5 -0.9l1.0 -0.6l1.0 -0.0l1.0 0.6l0.5 0.9l0.0 0.6l-0.3 0.9l0.6 1.5l0.2 1.0l-0.2 1.0l-0.1 0.5l-1.2 1.1l-1.2 0.4l-0.5 2.0l-1.3 1.4l-0.1 0.6l0.1 0.3l1.0 0.0l1.1 0.7l0.5 1.0l0.0 1.0l-0.5 1.0l-0.8 0.5l-1.3 0.1l-1.5 -0.8l-0.5 0.7l-1.0 0.7zM201.0 414.7l-1.5 0.0l-1.0 -0.5l-0.7 -0.7l-0.4 -1.0l0.0 -1.0l0.4 -1.0l0.7 -0.8l1.0 -0.5l1.5 0.0l1.0 0.6l0.8 1.2l0.2 1.0l-0.4 1.5l-0.6 0.6l-1.0 0.6zM283.5 414.6l-1.5 0.3l-0.8 -0.4l-0.5 -0.5l-0.3 -0.5l-0.1 -1.0l0.2 -0.8l0.6 -0.7l1.4 -0.4l1.0 0.3l0.7 0.6l0.3 0.8l0.0 0.7l-0.4 1.0l-0.6 0.6zM236.0 421.6l-0.5 0.3l-2.0 -0.1l-1.0 -0.8l-0.5 -0.7l-0.5 0.1l-0.5 0.7l-1.0 0.7l-1.5 0.0l-1.0 -0.5l-0.8 -0.8l-0.4 -1.0l-0.0 -1.0l0.4 -1.0l1.5 -1.5l-0.4 -1.0l-0.1 -1.0l0.6 -1.5l0.7 -0.6l1.5 -0.6l0.5 0.0l1.0 0.4l1.3 1.3l0.4 1.5l-0.3 1.0l-0.9 1.4l-0.8 0.1l-0.2 0.7l0.5 0.1l0.5 -0.8l1.0 -0.7l1.0 -0.1l1.0 0.0l0.5 0.3l1.1 1.0l0.4 1.5l-0.2 1.0l-0.6 1.0l-0.7 0.6zM215.8 412.5l-0.9 0.0l0.6 0.2l0.3 -0.2zM265.5 417.7l-2.0 0.1l-1.0 -0.6l-0.8 -1.2l0.1 -2.0l0.8 -1.0l1.4 -0.8l1.0 0.1l1.0 0.5l0.7 0.7l0.5 1.0l-0.1 1.5l-0.7 1.0l-0.9 0.7zM364.0 430.1l-1.5 -0.5l-0.6 -0.6l-0.4 -1.0l0.0 -1.0l0.4 -1.0l1.2 -1.0l0.7 -1.5l0.7 -0.6l0.7 -0.4l0.1 -0.5l-0.1 -0.5l-0.0 -1.5l0.5 -1.0l1.8 -1.4l0.3 -1.6l1.2 -1.1l1.0 -0.4l0.9 -1.0l0.6 -0.3l1.0 0.0l0.5 0.3l0.6 0.5l0.3 1.0l-0.4 1.1l-0.1 1.9l-0.2 1.0l-0.7 0.8l-1.1 0.7l-0.1 1.5l-0.8 1.0l-1.0 0.8l-1.1 0.2l0.2 0.5l0.0 1.0l-0.4 1.0l-1.3 1.0l-0.8 1.5l-0.6 0.6l-1.5 0.5zM326.3 414.0l-0.3 -0.2l-0.6 0.2l0.6 0.2l0.3 -0.2zM250.0 426.2l-1.5 0.2l-1.0 -0.2l-1.5 -1.4l-1.0 0.2l-1.5 -0.2l-1.3 -1.3l-0.4 -1.0l0.1 -1.0l0.4 -1.0l1.0 -1.0l-0.6 -1.0l-0.0 -2.0l0.5 -1.0l0.8 -0.7l1.5 -0.3l1.0 0.1l1.0 0.6l0.6 0.8l0.2 0.5l-0.0 2.0l-1.4 1.5l0.6 1.0l1.5 -0.2l1.0 0.4l1.3 1.3l0.2 1.0l-0.3 1.5l-1.2 1.2zM280.5 420.1l-1.0 0.0l-0.5 -0.2l-0.5 -0.4l-0.5 -1.0l0.0 -0.5l0.4 -1.0l1.1 -0.8l0.5 -0.0l1.0 0.2l0.9 1.1l0.1 1.0l-0.2 0.5l-0.3 0.5l-1.0 0.6zM263.0 428.1l-0.5 0.2l-1.0 0.0l-1.0 -0.4l-1.5 -1.4l-1.5 -0.3l-0.7 -0.7l-0.6 -1.0l0.1 -2.0l1.2 -1.3l0.2 -1.7l0.8 -1.1l1.0 -0.6l2.0 0.1l1.3 1.1l0.4 0.5l0.1 1.0l-0.0 1.0l-0.4 0.5l-0.1 0.5l0.7 0.2l1.2 1.3l0.2 1.0l-0.1 1.5l-1.3 1.4l-0.5 0.2zM355.5 428.7l-1.5 -0.1l-0.9 -0.6l-0.7 -1.0l-0.3 -1.5l-1.3 -1.5l-0.0 -2.0l0.7 -1.0l1.0 -0.8l2.0 -0.0l1.5 0.9l1.5 0.2l0.9 0.7l0.8 1.0l0.1 1.0l-0.1 1.0l-1.8 2.0l-0.7 1.0l-1.2 0.7zM276.5 430.2l-2.0 0.1l-1.0 -0.5l-0.7 -0.8l-0.2 -1.0l0.0 -1.5l-0.7 -1.5l-0.0 -1.0l0.6 -1.2l0.5 -0.5l1.0 -0.4l1.0 -0.0l1.0 0.4l0.7 0.7l0.4 1.0l0.0 1.0l0.9 2.0l0.1 1.0l-0.4 1.0l-1.2 1.2zM339.5 427.7l-1.5 -0.0l-1.0 -0.7l-0.7 -1.0l-0.2 -1.0l0.4 -1.5l0.5 -0.6l1.0 -0.6l1.5 0.0l1.0 0.7l0.7 1.0l0.1 1.0l-0.1 1.0l-0.7 1.0l-1.0 0.7zM291.0 427.1l-0.5 0.1l-1.0 -0.1l-0.5 -0.2l-0.7 -0.9l-0.1 -0.5l0.2 -1.0l0.3 -0.5l0.8 -0.6l1.5 0.0l1.0 1.1l0.2 1.0l-0.2 0.7l-0.5 0.7l-0.5 0.2zM308.5 428.1l-1.5 -0.6l-0.8 -1.0l-0.0 -1.0l0.2 -0.5l0.6 -0.8l1.0 -0.6l1.0 0.1l1.0 0.7l0.4 0.6l0.2 1.0l-0.3 1.0l-0.8 0.8l-1.0 0.3zM350.0 429.6l-1.0 0.1l-0.7 -0.2l-0.8 -0.6l-0.4 -0.9l-0.1 -0.9l0.2 -0.6l0.3 -0.6l1.0 -0.7l1.0 -0.1l1.0 0.3l0.6 0.6l0.4 0.7l0.1 0.8l-0.3 1.0l-0.3 0.5l-1.0 0.6zM334.0 427.5l-0.8 -0.5l-0.1 -0.5l0.2 -0.5l0.7 -0.4l0.5 0.2l0.4 0.7l-0.1 0.5l-0.3 0.4l-0.5 0.1zM294.0 429.6l-1.0 0.1l-0.5 -0.2l-0.5 -0.5l-0.0 -1.0l0.5 -0.7l1.0 -0.3l0.5 0.2l0.5 0.5l0.2 0.8l-0.1 0.5l-0.6 0.6z" fill="#00b4ff"/>
<path d="M329.5 328.5l-1.0 0.3l-0.5 -0.1l-1.0 -0.7l-0.3 -1.0l0.1 -0.5l0.7 -1.1l1.0 -0.2l0.5 0.0l1.0 0.8l0.3 1.0l-0.1 0.5l-0.7 1.0zM578.5 328.8l-1.0 0.1l-0.7 -0.4l-0.3 -1.0l0.5 -1.0l1.0 -0.3l0.7 0.3l0.4 0.5l0.1 1.0l-0.2 0.5l-0.5 0.3zM329.0 334.6l-1.3 -0.1l-0.6 -0.5l-0.2 -0.5l0.1 -1.4l0.5 -0.5l0.5 -0.3l1.3 0.2l0.6 0.5l0.2 0.5l-0.1 1.3l-0.5 0.6l-0.5 0.2zM581.0 336.1l-1.0 -0.0l-0.5 -0.3l-0.5 -0.5l-0.4 -0.8l0.0 -0.5l0.4 -1.0l1.0 -0.7l0.5 -0.1l1.0 0.2l0.7 0.6l0.3 0.6l-0.1 1.4l-0.4 0.6l-1.0 0.5zM562.5 339.6l-1.0 0.3l-0.5 -0.1l-0.5 -0.2l-0.5 -0.6l-1.1 -3.5l0.1 -0.5l0.5 -0.5l1.0 -0.2l0.5 0.3l2.0 2.6l0.2 1.3l-0.2 0.6l-0.5 0.5zM543.0 336.3l-0.5 0.2l-0.8 -0.5l-0.2 -0.5l0.5 -0.8l0.5 -0.1l0.8 0.4l0.2 0.5l-0.5 0.8zM329.0 340.6l-1.0 0.2l-0.5 -0.2l-0.5 -0.3l-0.5 -0.7l0.0 -1.3l0.5 -0.7l0.5 -0.3l0.5 -0.1l1.0 0.1l0.5 0.4l0.5 0.8l-0.0 1.0l-0.5 0.7l-0.5 0.4zM569.5 344.1l-1.0 -0.3l-0.5 -0.8l0.0 -0.5l0.5 -0.8l1.0 -0.4l0.5 0.2l0.5 0.4l0.3 0.6l-0.3 1.1l-1.0 0.5zM564.0 347.1l-1.0 0.0l-1.0 -0.5l-0.5 -0.6l-0.4 -1.0l0.1 -1.0l0.3 -0.7l1.0 -0.8l0.5 -0.1l1.5 0.1l0.7 0.5l0.6 1.0l0.1 1.0l-0.4 1.0l-0.5 0.6l-1.0 0.5zM128.0 346.1l-1.0 0.2l-0.8 -0.3l-0.4 -0.5l-0.2 -1.0l0.4 -0.8l0.5 -0.4l1.0 -0.1l0.7 0.3l0.4 0.5l0.2 1.0l-0.2 0.5l-0.6 0.6zM328.5 346.5l-1.0 -0.0l-0.7 -0.5l-0.3 -0.5l0.0 -1.0l0.5 -0.7l0.5 -0.3l1.0 -0.0l0.7 0.5l0.3 0.5l0.0 1.0l-0.5 0.7l-0.5 0.3zM524.5 346.7l-0.5 0.1l-0.7 -0.3l-0.6 -1.0l0.3 -1.0l1.0 -0.5l1.0 0.3l0.4 0.7l-0.1 1.0l-0.3 0.4l-0.5 0.3zM531.5 346.6l-1.0 0.2l-0.6 -0.3l-0.4 -1.0l0.5 -0.9l1.0 -0.2l0.8 0.6l0.2 1.0l-0.5 0.6zM547.0 357.2l-1.0 0.3l-1.0 -0.3l-1.5 -1.8l-0.5 -0.2l-0.5 0.1l-0.8 -0.3l-0.6 -1.0l0.1 -1.5l0.4 -1.5l0.2 -0.5l0.9 -1.0l-0.2 -4.0l0.5 -0.9l1.0 -0.5l1.0 0.0l1.0 0.7l1.0 1.7l0.5 1.5l-0.5 1.5l-0.5 0.5l-1.9 1.0l-0.3 2.5l1.2 0.1l1.5 -1.7l1.0 -0.4l1.0 -0.0l1.0 0.3l0.8 1.7l-0.3 1.5l-0.5 0.7l-3.0 1.5zM121.0 347.2l-1.0 0.3l-0.5 -0.2l-0.5 -0.5l-0.2 -0.8l0.1 -0.5l0.6 -0.6l1.0 -0.2l0.5 0.2l0.5 0.6l0.0 1.0l-0.5 0.7zM109.0 349.2l-0.5 0.2l-0.5 -0.1l-0.4 -0.3l-0.1 -0.8l0.5 -0.6l0.5 -0.1l0.7 0.5l0.1 0.5l-0.3 0.7zM329.0 351.5l-1.0 0.3l-0.5 -0.1l-1.0 -0.7l-0.3 -1.0l0.1 -0.5l0.7 -1.1l1.0 -0.2l0.5 0.0l1.0 0.8l0.3 1.0l-0.1 0.5l-0.7 1.0zM551.5 351.3l-1.0 0.0l-0.5 -0.3l-0.3 -0.5l0.0 -1.0l0.3 -0.5l0.5 -0.3l1.0 0.0l0.5 0.3l0.3 0.5l-0.0 1.0l-0.3 0.5l-0.5 0.3zM495.0 352.2l-0.9 -0.2l-0.3 -0.5l0.2 -0.8l0.5 -0.3l0.7 0.1l0.4 0.5l-0.1 0.8l-0.5 0.4zM104.0 354.1l-1.0 0.1l-0.7 -0.2l-0.4 -0.5l-0.2 -1.0l0.3 -0.8l0.5 -0.4l1.0 -0.2l0.8 0.4l0.4 0.5l0.1 1.0l-0.3 0.7l-0.5 0.4zM538.0 353.7l-0.8 -0.2l-0.4 -0.5l0.2 -0.8l0.5 -0.4l0.9 0.2l0.3 0.5l-0.2 0.9l-0.5 0.3zM534.0 366.1l-1.0 0.2l-1.0 -0.2l-1.2 -1.1l-0.7 -1.5l-0.1 -1.0l0.2 -1.0l-0.2 -0.9l-0.5 -0.0l-1.0 0.4l-0.3 1.0l-0.4 0.5l-1.3 0.5l-1.0 2.2l-0.5 0.4l-1.0 0.5l-1.0 -0.0l-1.0 -0.5l-0.7 -0.6l-0.6 -1.0l-0.0 -1.5l0.2 -1.0l0.6 -0.7l0.5 -0.4l1.0 -0.3l1.8 -0.1l0.4 -0.5l0.8 -0.4l0.3 -2.6l0.3 -0.5l-0.1 -0.4l-1.0 -0.4l-0.4 -0.7l-0.0 -1.0l0.4 -0.6l0.5 -0.3l1.0 0.0l0.6 0.4l0.5 1.0l0.9 0.3l1.0 -0.1l1.0 0.3l0.5 0.5l0.2 0.5l0.3 2.3l1.5 0.4l0.5 -0.2l1.0 -1.0l1.0 -0.2l0.9 0.2l0.6 0.6l0.4 0.9l0.1 1.0l-0.3 2.0l-1.5 1.5l-0.4 1.5l-0.8 1.0l-1.0 0.6zM133.5 356.5l-1.5 0.4l-1.0 -0.3l-0.7 -0.6l-0.2 -0.5l-0.1 -1.0l0.3 -1.0l0.5 -0.5l0.7 -0.4l1.0 -0.1l1.0 0.4l0.5 0.6l0.4 1.5l-0.4 1.0l-0.5 0.5zM141.5 355.1l-1.0 0.2l-0.5 -0.1l-0.5 -0.5l-0.2 -0.7l0.1 -0.5l0.6 -0.7l1.0 -0.2l0.5 0.2l0.5 0.7l0.0 1.0l-0.5 0.6zM323.5 430.1l-1.0 0.2l-1.1 -0.3l-0.9 -0.8l-0.4 -1.2l-1.1 -0.3l-1.2 -1.2l-0.1 -1.0l0.1 -1.0l0.9 -1.0l-0.5 -1.5l0.1 -1.5l1.3 -1.5l-0.3 -0.5l-0.2 -1.0l0.2 -1.0l0.7 -1.0l-0.8 -1.0l-0.1 -1.0l0.1 -1.0l0.4 -0.5l-1.1 -0.8l-0.6 -0.7l-0.1 -1.5l0.1 -0.5l0.4 -0.5l1.3 -1.0l0.5 -1.0l-1.1 -0.8l-0.4 -1.2l-1.6 -0.2l-0.8 -0.8l-0.4 -0.5l-0.2 -1.0l0.2 -1.0l0.8 -1.0l-0.7 -1.5l-0.0 -1.0l0.5 -1.0l0.9 -1.0l-0.4 -0.5l-0.1 -0.5l0.1 -1.5l3.6 -3.5l-0.4 -1.0l-1.1 -0.4l-0.5 -0.4l-0.6 -0.7l-0.1 -0.5l0.1 -1.5l0.7 -1.0l-0.8 -1.0l-0.2 -1.0l0.2 -1.0l0.9 -1.0l0.0 -0.5l-0.4 -0.5l-0.1 -0.5l0.1 -1.5l0.7 -0.8l1.1 -0.7l0.9 -1.2l0.5 -0.3l0.3 -0.5l-0.3 -0.9l0.1 -0.6l0.4 -0.8l1.8 -1.2l-0.4 -1.0l-0.0 -1.0l0.2 -0.5l0.9 -0.6l0.2 -0.4l-0.7 -2.0l0.7 -2.0l-0.3 -0.5l-0.5 -1.5l0.5 -1.5l0.6 -0.6l0.8 -0.4l0.1 -0.5l-1.0 -1.0l-0.1 -1.5l0.2 -0.6l0.5 -0.6l0.5 -0.4l1.0 -0.2l1.0 0.2l0.5 0.4l0.5 0.6l0.2 0.6l-0.1 1.5l-1.5 1.5l0.9 0.7l0.6 0.8l0.1 1.5l-0.1 0.5l-1.0 1.5l0.5 1.0l-0.0 1.0l-0.2 0.5l-0.9 1.0l-1.0 0.5l-0.1 0.5l0.3 1.0l-0.2 0.8l-0.5 0.6l-1.0 0.6l0.5 2.1l-0.3 0.9l-0.8 1.0l0.8 1.5l-0.0 1.0l-0.5 1.0l-0.5 0.5l0.5 1.5l-0.0 1.0l-0.9 1.5l0.9 1.5l0.1 0.5l-0.6 1.5l-0.9 1.0l0.5 1.5l-0.3 1.0l-0.5 0.6l-0.1 0.4l0.7 1.5l0.0 1.0l-1.1 2.0l0.5 1.5l-0.2 1.0l-0.7 1.0l0.6 1.5l-0.0 1.0l-1.0 2.0l0.6 1.0l0.1 0.5l-0.3 1.0l1.4 0.8l0.7 0.7l0.5 1.0l0.1 0.5l-0.4 1.0l0.1 0.5l1.5 1.1l1.0 -0.1l0.5 0.2l0.7 0.8l0.0 1.0l-0.3 0.5l-0.9 0.5l-1.0 -0.1l-0.6 0.6l0.6 0.6l1.0 -0.1l0.5 0.2l0.5 0.4l0.3 0.9l-0.3 0.9l-0.5 0.4l-0.5 0.2l-1.0 -0.1l-1.2 1.1l0.4 1.0l-0.0 1.0l-0.5 1.0l-0.5 0.5l0.0 0.5l0.5 1.5l-0.0 0.5l-0.8 1.5l0.7 1.0l0.1 1.5l-0.5 1.0l-0.7 0.6zM507.5 356.5l-1.5 0.0l-0.8 -0.5l-0.3 -0.5l-0.2 -1.0l0.2 -0.5l0.2 -0.5l0.9 -0.7l0.5 -0.1l1.0 0.2l0.5 0.3l0.6 0.8l-0.1 1.5l-1.0 1.0zM516.5 356.8l-0.5 0.2l-0.8 -0.5l-0.2 -0.5l0.5 -0.8l0.5 -0.1l0.8 0.4l0.2 0.5l-0.5 0.8zM122.5 360.2l-1.0 0.2l-0.5 -0.2l-0.8 -0.7l-0.2 -0.8l0.1 -0.7l0.9 -0.8l1.0 -0.2l0.9 0.5l0.3 0.5l0.2 1.0l-0.4 0.8l-0.5 0.4zM128.5 361.1l-0.5 0.1l-1.0 -0.2l-1.0 -1.0l-0.2 -1.0l0.4 -1.0l0.8 -0.7l1.0 -0.0l0.5 0.2l0.9 1.0l0.2 0.5l-0.1 1.0l-0.5 0.8l-0.5 0.3zM490.0 365.0l-1.5 -0.5l-0.7 -1.0l-0.1 -1.0l0.3 -1.0l0.4 -0.5l0.9 -0.5l0.7 -0.1l0.7 0.1l0.9 0.5l0.4 0.5l0.3 1.0l-0.1 1.0l-0.7 1.0l-1.5 0.5zM119.0 364.6l-1.0 0.2l-1.0 -0.2l-1.0 -1.1l-0.1 -0.5l0.1 -1.0l0.5 -0.8l0.5 -0.4l1.0 -0.2l0.5 0.0l0.8 0.4l0.7 0.9l0.2 0.6l-0.2 1.0l-1.0 1.1zM146.0 363.8l-1.0 0.1l-0.7 -0.4l-0.3 -1.0l0.5 -1.0l1.0 -0.3l0.7 0.3l0.4 0.5l0.1 1.0l-0.2 0.5l-0.5 0.3zM155.0 365.1l-0.8 -0.1l-0.7 -0.5l-0.4 -1.0l0.4 -1.2l1.0 -0.6l1.3 0.3l0.7 1.0l0.0 0.6l-0.4 0.9l-1.1 0.6zM136.0 369.2l-1.0 0.1l-1.5 -0.5l-1.0 -1.0l-0.5 -1.6l-1.5 -0.1l-0.7 -0.6l-0.3 -0.5l-0.2 -1.0l0.2 -0.6l0.5 -0.6l1.0 -0.5l1.0 0.1l0.9 0.6l0.4 1.0l0.2 0.1l2.0 -0.2l1.0 0.2l0.9 0.4l0.6 0.5l0.5 1.5l-0.3 1.0l-0.7 1.0l-1.5 0.7zM512.0 369.5l-1.5 -0.4l-0.7 -0.6l-0.5 -1.0l-0.1 -1.0l0.2 -1.0l0.6 -0.8l0.5 -0.4l1.5 -0.5l1.5 0.5l0.5 0.4l0.6 0.8l0.2 1.0l-0.1 1.0l-0.5 1.0l-0.7 0.6l-1.5 0.4zM519.0 367.0l-0.8 -0.0l-0.7 -0.4l-0.6 -1.1l0.1 -0.7l0.5 -0.8l1.0 -0.5l0.5 0.0l0.9 0.5l0.5 1.0l0.1 0.5l-0.5 1.0l-1.0 0.5zM501.5 366.2l-0.8 -0.2l-0.3 -0.5l0.1 -0.7l0.5 -0.4l0.8 0.1l0.4 0.5l-0.2 0.9l-0.5 0.3zM543.0 369.5l-1.5 -0.0l-0.7 -0.5l-0.4 -0.5l-0.2 -0.5l0.1 -1.0l0.6 -1.0l0.6 -0.3l0.5 -0.2l1.0 0.2l0.5 0.3l0.7 1.0l0.1 0.5l-0.2 1.0l-0.3 0.5l-0.8 0.5zM475.0 371.7l-1.0 0.3l-0.5 -0.1l-0.8 -0.4l-0.4 -0.5l-0.3 -1.0l0.1 -0.5l0.4 -0.8l0.5 -0.4l1.0 -0.3l0.5 0.1l0.8 0.4l0.4 0.5l0.3 1.0l-0.1 0.5l-0.4 0.8l-0.5 0.4zM158.5 372.0l-1.2 -0.0l-0.7 -0.5l-0.3 -0.5l-0.0 -1.0l0.2 -0.6l0.5 -0.5l1.0 -0.2l0.5 0.1l0.8 0.7l0.3 0.5l-0.1 1.0l-0.5 0.7l-0.5 0.3zM517.0 373.7l-1.0 0.2l-1.3 -0.4l-0.7 -0.5l-0.5 -1.0l0.0 -1.5l0.7 -1.0l0.8 -0.6l1.0 -0.1l1.0 0.1l0.8 0.6l0.7 1.0l-0.0 1.5l-0.6 1.0l-0.9 0.7zM141.5 371.5l-1.0 0.2l-0.5 -0.1l-0.5 -0.5l-0.1 -1.1l0.6 -0.8l1.0 -0.2l0.7 0.5l0.4 1.0l-0.1 0.5l-0.5 0.5zM501.0 380.7l-2.0 0.0l-1.0 -0.7l-0.7 -1.0l-0.1 -1.5l-0.2 -0.2l-1.0 0.2l-0.5 -0.0l-1.0 -0.4l-0.5 -0.4l-0.7 -1.2l0.1 -2.0l1.1 -1.2l1.0 -0.4l1.0 -0.0l1.0 0.4l0.7 0.7l0.5 1.0l0.1 1.0l0.2 0.3l0.5 -0.1l0.6 -0.2l0.2 -0.5l1.2 -1.0l1.5 -0.3l1.1 0.3l-0.2 -2.0l0.4 -1.0l1.2 -1.0l0.5 -0.2l1.5 -0.0l1.0 0.5l0.6 0.7l0.3 1.0l0.0 1.0l-0.3 1.0l-0.6 0.7l-1.0 0.5l-1.5 0.0l-0.5 -0.1l-0.2 0.4l0.1 1.5l-0.3 1.0l-1.1 1.0l-1.0 0.3l-1.0 1.2l-1.0 0.7zM129.0 374.6l-1.0 0.2l-0.5 -0.1l-1.0 -0.7l-0.4 -1.0l0.4 -1.3l0.8 -0.7l2.7 -1.2l1.0 -0.0l0.7 0.2l0.8 0.9l0.3 0.6l-0.0 1.0l-0.3 0.7l-1.0 0.9l-2.5 0.5zM169.5 373.6l-1.0 0.1l-1.0 -0.7l-0.3 -1.0l0.1 -0.5l0.2 -0.5l0.6 -0.5l0.9 -0.2l0.5 0.1l0.5 0.3l0.5 0.7l0.0 1.2l-0.5 0.7l-0.5 0.3zM140.0 385.0l-2.0 -0.6l-1.0 -0.9l-0.3 -1.5l0.3 -1.0l0.5 -0.6l1.0 -0.5l1.5 0.1l1.0 -1.9l1.0 -0.7l1.0 -0.2l1.0 0.2l0.5 -0.3l1.3 -1.6l0.0 -1.0l0.5 -1.0l1.2 -0.9l1.0 -0.2l1.0 0.2l2.0 -0.2l1.0 0.4l0.7 0.7l0.5 1.0l0.0 1.0l-0.1 0.5l-0.6 1.0l-1.0 0.8l-2.0 0.1l-0.4 0.1l-0.1 1.0l-0.5 1.0l-1.0 0.7l-1.0 0.3l-1.0 -0.2l-0.5 0.1l-0.5 0.7l-1.0 0.7l-1.0 0.2l-1.0 -0.2l-0.4 0.2l-0.4 1.0l-1.2 1.5zM487.5 376.5l-1.5 0.0l-0.8 -0.5l-0.3 -0.5l-0.2 -1.0l0.2 -0.5l0.2 -0.5l0.9 -0.7l0.5 -0.1l1.0 0.2l0.5 0.3l0.6 0.8l-0.1 1.5l-1.0 1.0zM527.0 379.1l-1.0 0.1l-1.0 -0.1l-1.0 -0.6l-0.5 -0.7l-0.2 -1.3l0.2 -1.0l0.5 -0.6l1.0 -0.7l1.0 -0.3l1.0 0.2l1.0 0.4l0.7 1.0l0.3 1.0l-0.3 1.0l-0.7 1.0l-1.0 0.6zM458.0 379.0l-1.5 -0.5l-0.7 -1.0l-0.1 -1.0l0.3 -1.0l0.4 -0.5l0.9 -0.5l0.7 -0.1l0.7 0.1l0.9 0.5l0.4 0.5l0.3 1.0l-0.1 1.0l-0.7 1.0l-1.5 0.5zM466.5 376.1l-0.5 0.1l-0.6 -0.2l-0.3 -0.5l0.0 -0.5l0.4 -0.5l1.0 -0.0l0.4 0.5l0.0 0.5l-0.4 0.6zM163.0 378.0l-1.0 -0.1l-0.5 -0.4l-0.3 -0.5l-0.1 -1.0l0.4 -0.7l0.5 -0.4l0.5 -0.1l0.8 0.2l0.6 0.5l0.2 0.5l0.0 0.5l-0.4 1.0l-0.7 0.5zM173.0 379.0l-0.5 0.2l-1.0 -0.0l-1.0 -0.6l-0.5 -0.7l-0.2 -0.9l0.2 -1.0l0.5 -0.7l1.0 -0.6l1.0 0.0l0.5 0.3l0.5 0.3l0.5 0.7l0.2 1.0l-0.2 0.9l-1.0 1.1zM186.0 385.5l-1.0 -0.4l-0.5 -0.6l-0.1 -1.0l0.6 -1.0l-2.3 -0.5l-0.7 -0.5l-0.8 -1.0l-0.5 -1.5l-0.1 -1.0l0.4 -1.1l1.0 -0.9l1.0 -0.2l1.0 0.2l1.0 0.9l0.9 1.6l0.3 1.5l-0.7 2.0l1.0 0.1l0.7 0.4l0.4 0.5l0.2 1.0l-0.5 1.0l-0.8 0.5l-0.5 0.0zM127.0 383.2l-0.5 0.1l-1.0 -0.3l-0.5 -1.0l0.4 -1.0l0.7 -0.5l0.2 -1.0l-0.3 -1.5l0.3 -0.5l0.6 -0.5l0.6 -0.1l1.0 0.5l0.3 1.1l-0.2 0.5l-0.9 1.0l-0.3 1.0l0.3 0.5l-0.0 1.0l-0.7 0.7zM491.5 382.7l-1.5 0.0l-0.5 -0.2l-1.2 -1.0l-0.4 -1.0l0.0 -1.0l0.4 -1.0l0.7 -0.7l1.0 -0.5l1.5 -0.0l1.0 0.5l0.6 0.7l0.3 1.0l0.0 1.0l-0.3 1.0l-0.6 0.7l-1.0 0.5zM162.5 385.1l-1.5 -0.5l-0.6 -0.6l-0.6 -1.0l-0.1 -1.0l0.1 -0.5l0.7 -1.1l0.5 -0.5l1.5 -0.6l0.5 0.0l1.5 0.9l0.7 0.8l0.2 1.0l-0.2 1.5l-0.5 0.5l-0.7 0.7l-1.5 0.4zM457.5 403.6l-1.5 -0.0l-1.0 -0.6l-0.7 -1.0l-0.1 -1.0l0.1 -1.0l1.0 -1.5l-0.3 -0.3l-1.5 1.5l-1.0 0.4l-1.0 0.0l-1.0 -0.4l-0.7 -0.7l-0.3 -0.5l-0.3 -1.5l-0.2 -0.3l-0.5 0.3l0.1 0.5l-0.4 1.5l-1.2 1.2l-1.5 0.4l-1.5 -0.4l-1.2 -1.2l-0.3 -1.0l-0.1 -2.0l0.4 -1.5l1.2 -1.0l1.6 -0.5l0.2 -0.5l1.2 -1.1l1.0 -0.2l1.0 0.1l1.2 0.7l0.4 0.5l0.4 1.0l0.0 1.0l1.5 0.1l1.5 0.5l0.3 -0.6l1.2 -1.0l1.5 -0.2l1.0 0.2l-0.7 -1.5l-0.0 -1.5l0.5 -1.0l0.7 -0.6l1.0 -0.3l1.0 -0.0l1.0 0.3l1.0 0.7l0.3 -1.6l1.2 -1.2l1.0 -0.3l1.0 0.1l0.9 0.4l0.6 0.6l0.5 -0.3l0.3 -0.8l1.2 -1.0l2.0 -0.5l1.0 0.9l0.3 -0.4l-0.3 -0.4l-0.5 0.1l-1.5 -0.7l-0.5 -0.6l-0.3 -0.9l0.3 -1.5l0.5 -0.6l1.0 -0.5l1.2 0.1l0.9 0.5l0.7 1.0l1.7 0.2l1.0 0.5l0.4 -1.2l1.1 -1.2l1.0 -0.4l1.0 -0.0l1.0 0.4l0.5 0.5l1.0 1.6l0.5 -0.5l1.0 -0.6l1.0 -0.0l1.0 0.2l1.2 1.0l0.4 1.0l-0.0 1.0l-0.4 1.0l-0.5 0.5l-1.2 0.7l-1.5 0.0l-1.0 -0.5l-0.6 -0.7l-0.4 -1.1l-1.0 0.7l-1.5 0.4l-2.0 -0.6l-0.4 1.1l-0.4 0.5l-0.7 0.6l-0.5 0.1l-1.5 0.0l-1.0 -0.5l-0.2 0.3l0.1 1.5l-0.3 1.0l-1.1 1.0l-0.5 0.2l-1.5 0.0l-1.0 -0.5l-0.5 -0.5l-0.5 0.3l-0.5 1.0l-1.1 1.0l0.3 1.5l-0.4 1.0l-0.3 0.6l-1.0 0.6l-1.0 0.3l-1.0 -0.3l-1.0 -0.6l-0.5 -0.9l-0.5 -0.3l-1.0 0.3l-1.2 -0.2l0.6 1.5l0.0 1.0l-0.3 1.0l-1.0 1.0l1.1 1.5l0.2 1.5l-0.4 1.0l-0.4 0.5l-1.1 0.6zM443.0 385.6l-1.0 0.1l-1.0 -0.3l-1.0 -0.9l-0.4 -1.0l0.0 -1.0l0.4 -0.8l0.7 -0.7l0.8 -0.3l1.0 -0.1l1.0 0.3l0.7 0.6l0.6 1.0l-0.1 1.5l-0.7 1.0l-1.0 0.6zM449.5 384.6l-1.5 -0.2l-0.6 -0.4l-0.5 -1.0l0.1 -1.0l0.2 -0.5l0.5 -0.5l0.8 -0.4l1.5 0.3l0.9 1.1l0.1 0.5l-0.2 1.0l-0.3 0.5l-1.0 0.6zM327.0 385.5l-1.0 -0.3l-0.6 -0.7l-0.1 -0.5l0.2 -0.8l1.0 -0.7l0.5 -0.0l0.9 0.5l0.4 1.0l-0.4 1.0l-0.9 0.5zM505.5 387.0l-1.0 -0.1l-0.7 -0.4l-0.4 -0.5l-0.4 -1.0l0.1 -1.0l0.4 -0.8l1.0 -0.7l0.5 -0.1l1.0 0.0l0.9 0.6l0.6 0.9l0.1 0.6l-0.1 1.0l-0.5 0.8l-0.5 0.4l-1.0 0.3zM198.0 388.6l-1.0 0.1l-1.0 -0.2l-1.0 -0.8l-0.5 -1.2l0.0 -1.0l0.5 -1.0l0.5 -0.6l1.0 -0.4l1.0 -0.1l1.0 0.4l1.0 1.2l0.2 1.0l-0.1 1.0l-0.6 0.9l-1.0 0.7zM430.5 384.3l-0.5 0.1l-0.3 -0.4l0.3 -0.6l0.6 0.1l0.1 0.5l-0.2 0.3zM155.0 393.0l-0.5 -0.2l-1.5 -0.1l-1.0 -0.7l-0.7 -1.0l0.0 -2.0l0.7 -0.9l1.0 -0.7l2.0 -0.1l0.5 -1.8l1.0 -1.0l1.5 -0.3l1.0 0.1l0.9 0.7l0.7 1.0l0.1 1.0l-0.2 1.0l-0.5 0.7l-1.0 0.8l-1.0 0.3l-1.0 -0.2l-0.2 0.4l-0.1 1.0l-0.7 1.0l-0.8 0.5l-0.2 0.5zM179.5 396.5l-1.5 -0.2l-1.1 -0.8l-0.6 -1.5l0.2 -1.0l0.3 -0.5l-0.3 -0.4l-1.0 -0.4l-1.0 -0.7l-1.0 -2.0l-0.8 -1.0l-0.3 -1.0l0.2 -1.0l0.4 -0.7l1.0 -0.9l1.5 -0.1l1.0 0.3l0.8 0.9l0.5 1.0l0.7 0.5l0.8 1.0l0.2 1.5l-0.3 1.0l-0.3 0.5l0.1 0.2l1.0 0.2l1.0 0.7l0.5 0.9l0.2 1.0l-0.6 1.5l-0.6 0.6l-1.0 0.4zM142.0 391.1l-1.0 0.0l-1.1 -0.6l-0.3 -0.5l-0.8 -2.5l-0.0 -1.0l0.2 -0.6l0.5 -0.6l1.0 -0.5l1.0 0.3l0.6 0.4l0.4 0.6l0.6 1.9l0.3 1.0l-0.2 1.0l-0.3 0.5l-0.9 0.6zM166.5 390.1l-1.0 0.1l-0.9 -0.2l-1.1 -1.0l-0.3 -1.0l0.1 -1.0l0.5 -1.0l0.7 -0.6l1.0 -0.3l1.0 0.2l1.0 0.6l0.5 0.6l0.2 1.0l-0.2 1.3l-0.5 0.7l-1.0 0.6zM426.5 390.1l-1.0 0.2l-1.0 -0.1l-1.0 -0.7l-0.3 -0.5l-0.3 -1.0l0.2 -1.0l0.4 -0.6l1.0 -0.8l1.0 -0.2l1.0 0.3l0.5 0.3l0.7 1.0l0.1 1.0l-0.2 1.0l-1.1 1.1zM327.0 389.5l-1.0 -0.3l-0.6 -0.7l-0.1 -0.5l0.2 -0.8l1.0 -0.7l0.5 -0.0l0.9 0.5l0.4 1.0l-0.4 1.0l-0.9 0.5zM433.5 390.0l-0.5 -0.0l-0.9 -0.5l-0.5 -1.0l0.0 -0.5l0.4 -0.8l1.0 -0.6l0.5 0.0l0.9 0.4l0.6 1.0l0.0 0.5l-0.5 1.0l-1.0 0.5zM486.5 393.6l-1.5 -0.2l-0.6 -0.4l-0.6 -1.0l-0.1 -1.0l0.3 -0.9l0.5 -0.6l1.0 -0.5l1.0 0.0l1.0 0.5l0.5 0.6l0.3 0.9l-0.3 1.5l-0.5 0.6l-1.0 0.5zM217.0 395.5l-1.0 -0.0l-1.5 -0.8l-1.0 0.4l-1.0 0.1l-1.5 -0.6l-0.7 -0.6l-0.4 -1.0l-0.0 -1.0l0.4 -1.0l1.2 -1.2l1.0 -0.2l1.5 0.2l1.0 0.9l0.5 0.2l1.5 -0.3l1.0 0.4l0.8 1.0l0.2 0.5l0.0 1.0l-0.5 1.1l-0.5 0.5l-1.0 0.4zM327.0 393.5l-1.0 -0.3l-0.6 -0.7l-0.1 -0.5l0.2 -0.8l1.0 -0.7l0.5 -0.0l0.9 0.5l0.4 1.0l-0.4 1.0l-0.9 0.5zM411.0 395.0l-0.5 -0.0l-1.1 -0.5l-0.7 -1.0l-0.1 -1.0l0.3 -1.0l0.4 -0.5l0.7 -0.5l1.0 -0.1l0.7 0.1l0.8 0.5l0.5 0.7l0.2 0.8l-0.1 1.0l-0.6 0.9l-1.5 0.6zM172.0 403.0l-1.5 -0.4l-0.7 -0.6l-0.8 -1.4l-0.5 -0.0l-1.3 -0.6l-0.9 -1.0l-0.2 -1.0l0.3 -1.5l0.4 -0.5l0.7 -0.7l1.5 -0.3l0.3 -0.5l0.0 -1.5l0.6 -1.0l1.1 -0.7l1.0 -0.2l1.0 0.2l1.1 0.7l0.6 1.0l0.0 1.5l-0.1 0.5l-0.8 1.0l-0.8 0.5l-1.0 0.2l-0.4 0.3l0.4 0.3l1.5 0.5l0.5 0.4l0.6 0.8l0.2 1.0l-0.1 1.0l-0.5 1.0l-0.7 0.6l-1.5 0.4zM188.5 401.1l-1.5 0.0l-1.0 -0.5l-0.6 -0.6l-0.3 -1.5l0.4 -1.4l0.6 -0.6l0.9 -0.5l1.0 -0.1l1.0 0.3l0.1 -0.2l-0.3 -1.0l0.0 -1.0l0.5 -1.0l0.7 -0.7l1.5 -0.5l1.5 0.4l1.2 1.3l0.2 1.0l-0.2 1.5l-1.2 1.2l-1.5 0.3l-1.0 -0.3l-0.4 0.3l0.2 1.0l-0.3 1.4l-0.5 0.6l-1.0 0.6zM157.5 398.1l-2.0 0.1l-1.0 -0.5l-0.6 -0.7l-0.4 -1.5l0.4 -1.5l0.6 -0.7l1.0 -0.6l2.0 0.2l1.2 1.1l0.4 1.0l0.0 1.0l-0.4 1.0l-1.2 1.1zM418.0 395.3l-1.0 0.0l-0.5 -0.3l-0.3 -0.5l0.0 -1.0l0.3 -0.5l0.5 -0.3l1.0 0.0l0.5 0.3l0.3 0.5l-0.0 1.0l-0.3 0.5l-0.5 0.3zM227.5 399.6l-1.0 0.1l-1.0 -0.3l-1.1 -0.9l-0.2 -0.5l-0.1 -1.0l0.4 -1.4l0.6 -0.6l0.9 -0.5l1.0 -0.1l0.5 0.1l1.0 0.6l0.6 0.9l0.2 1.0l-0.3 1.4l-0.5 0.6l-1.0 0.6zM327.0 397.5l-1.0 -0.3l-0.6 -0.7l-0.1 -0.5l0.2 -0.8l1.0 -0.7l0.5 -0.0l0.9 0.5l0.4 1.0l-0.4 1.0l-0.9 0.5zM441.5 409.1l-1.0 -0.1l-1.0 -0.5l-0.5 -0.5l-0.6 -1.5l0.2 -1.5l-1.6 -0.5l-0.7 -0.5l-0.4 -0.5l-0.4 -1.0l0.0 -1.0l-0.5 -0.1l-1.0 1.1l-1.5 0.5l-1.5 -0.3l-0.8 -0.7l-0.4 -0.5l-0.3 -1.5l0.4 -1.5l0.6 -0.7l1.0 -0.6l2.0 -0.1l1.5 -1.3l2.0 -0.0l1.0 0.7l0.7 1.0l0.1 1.0l0.2 0.3l1.0 0.4l1.2 1.3l0.4 1.5l-0.3 1.0l0.2 0.5l1.0 0.3l0.5 0.4l0.7 0.8l0.1 0.5l0.2 1.0l-0.5 1.3l-0.6 0.7l-1.4 0.6zM243.5 399.2l-1.0 -0.2l-0.5 -0.5l-0.2 -0.5l0.3 -1.0l0.9 -0.5l1.0 0.2l0.6 0.8l-0.2 1.0l-0.9 0.7zM467.0 401.0l-1.0 -0.1l-0.8 -0.4l-0.7 -1.0l-0.1 -0.5l0.1 -1.0l0.5 -0.9l0.9 -0.6l0.6 -0.1l1.0 0.1l0.8 0.5l0.4 0.5l0.3 1.0l-0.1 1.0l-0.4 0.6l-0.5 0.5l-1.0 0.4zM347.0 399.2l-1.0 0.3l-0.5 -0.2l-0.5 -0.5l-0.2 -0.8l0.1 -0.5l0.6 -0.6l1.0 -0.2l0.6 0.3l0.4 0.5l0.0 1.0l-0.5 0.7zM396.5 398.1l-0.5 0.3l-0.5 -0.0l-0.5 -0.4l-0.1 -0.5l0.1 -0.6l0.5 -0.3l0.5 -0.1l0.5 0.3l0.2 0.7l-0.2 0.6zM402.5 400.6l-0.5 0.2l-1.0 -0.1l-1.0 -0.7l-0.3 -0.5l-0.1 -1.0l0.4 -0.9l0.5 -0.4l0.5 -0.3l1.0 -0.0l1.0 0.5l0.4 0.6l0.2 0.5l-0.1 1.0l-1.0 1.1zM195.0 410.1l-1.0 -0.1l-1.0 -0.5l-0.5 -0.5l-0.5 -1.0l-0.1 -1.0l0.1 -0.5l0.5 -0.9l0.5 -0.5l1.5 -0.6l1.5 0.0l1.0 -1.2l1.0 -0.5l1.0 -0.0l1.5 0.8l1.5 -1.2l1.0 -0.3l1.0 0.1l0.3 -0.2l-0.5 -1.0l0.1 -2.0l1.1 -1.3l1.0 -0.4l1.0 0.0l1.0 0.4l0.7 0.8l0.6 1.0l-0.1 1.5l-0.5 1.0l-0.7 0.6l-1.5 0.4l-1.0 -0.2l-0.2 0.2l0.6 1.0l0.2 1.0l-0.5 1.5l-0.6 0.8l-1.0 0.3l-1.0 0.1l-1.5 -0.7l-0.5 0.2l-1.0 1.0l-1.5 0.4l-1.0 -0.3l-1.1 1.2l-1.4 0.6zM193.5 402.1l-1.0 -0.0l-0.5 -0.3l-0.5 -0.5l-0.4 -0.8l0.0 -0.5l0.4 -1.0l1.0 -0.7l0.5 -0.1l1.0 0.2l0.7 0.6l0.3 0.6l-0.1 1.4l-0.4 0.6l-1.0 0.5zM327.0 401.5l-1.0 -0.3l-0.6 -0.7l-0.1 -0.5l0.2 -0.8l1.0 -0.7l0.5 -0.0l0.9 0.5l0.4 1.0l-0.4 1.0l-0.9 0.5zM241.0 404.2l-1.0 0.2l-1.0 -0.3l-1.1 -1.1l-0.4 -1.0l0.2 -1.0l0.6 -1.0l0.7 -0.5l1.0 -0.2l1.3 0.2l0.7 0.5l0.6 1.0l0.0 1.0l-0.2 1.0l-0.4 0.6l-1.0 0.6zM187.0 408.2l-1.5 0.1l-1.0 -0.5l-0.7 -0.8l-0.4 -1.5l-1.4 -0.3l-1.0 -0.7l-0.7 -1.0l0.0 -2.0l0.7 -1.0l1.0 -0.7l1.5 -0.1l1.0 0.5l0.5 0.3l0.7 1.0l0.3 1.6l1.5 0.3l1.0 1.1l0.2 1.0l-0.1 1.0l-0.5 1.0l-1.1 0.7zM448.5 405.1l-1.5 0.3l-1.0 -0.4l-0.6 -0.5l-0.4 -1.5l0.4 -1.0l0.6 -0.7l1.0 -0.4l1.0 0.1l0.8 0.5l0.4 0.5l0.3 0.5l0.1 1.0l-0.4 1.0l-0.7 0.6zM346.0 406.1l-1.0 0.0l-1.0 -0.5l-0.6 -0.6l-0.3 -1.0l0.1 -1.0l0.3 -0.7l0.9 -0.8l0.6 -0.2l1.0 0.0l1.0 0.5l0.6 0.7l0.4 1.0l-0.2 1.0l-0.3 0.6l-0.5 0.5l-1.0 0.5zM433.0 413.6l-1.0 -0.2l-1.0 -0.6l-0.5 -0.8l-0.5 -1.9l-0.5 -0.2l-0.4 1.1l-0.8 1.0l-0.8 0.6l-2.0 0.1l-1.0 -0.5l-0.7 -0.7l-0.5 -1.0l0.0 -1.5l0.5 -1.0l2.0 -1.5l-0.5 -0.5l-0.4 -1.5l0.4 -1.5l1.2 -1.2l1.5 -0.4l0.5 0.1l1.0 0.3l1.2 1.2l0.4 1.5l-0.4 1.5l-1.2 1.4l-1.0 0.1l0.5 0.6l1.0 -0.4l0.5 0.0l0.5 0.3l0.3 0.5l2.7 0.4l1.0 1.1l0.2 1.0l-0.1 1.0l-0.7 1.0l-1.4 0.6zM387.0 403.5l-0.5 0.3l-0.5 -0.1l-0.4 -0.2l-0.2 -0.5l0.1 -0.6l0.5 -0.5l0.5 0.0l0.5 0.3l0.2 0.8l-0.2 0.5zM327.0 405.5l-1.0 -0.3l-0.6 -0.7l-0.1 -0.5l0.2 -0.8l1.0 -0.7l0.5 -0.0l0.9 0.5l0.4 1.0l-0.4 1.0l-0.9 0.5zM417.5 417.7l-1.0 0.2l-1.5 -0.4l-1.5 0.2l-0.7 -0.2l-0.8 -0.5l-0.3 -0.5l-1.2 -0.4l-1.0 -0.6l-0.7 -1.0l-0.3 -1.0l0.3 -1.5l0.7 -0.9l0.8 -0.6l-0.2 -2.0l0.3 -1.0l0.4 -0.5l0.7 -0.7l1.0 -0.4l1.0 -0.1l1.0 0.4l0.2 -0.2l0.0 -1.5l0.6 -1.0l0.7 -0.6l1.5 -0.4l1.5 0.4l1.1 1.1l0.3 1.5l-0.2 1.0l-0.7 1.0l-1.0 0.7l-2.0 -0.0l-0.3 0.3l-0.1 1.0l-0.4 1.0l-1.7 1.5l0.5 1.5l2.5 -0.3l0.9 0.3l0.6 0.5l0.4 1.0l0.0 1.0l-0.4 1.0l-1.0 0.7zM219.0 418.6l-1.0 0.1l-1.0 -0.2l-1.0 -0.7l-1.0 -1.2l-0.5 -0.2l-1.5 0.7l-1.0 -0.1l-1.0 -0.4l-0.5 -0.6l-0.5 -1.0l-0.1 -1.0l0.6 -1.4l0.6 -0.6l1.4 -0.5l1.0 0.2l0.2 -0.2l-0.5 -1.0l-0.1 -1.0l0.2 -1.0l0.7 -1.0l1.0 -0.6l2.0 -0.4l-0.1 -1.0l0.6 -1.5l0.5 -0.5l1.0 -0.5l1.0 -0.1l1.5 0.7l0.7 0.9l0.3 1.0l-0.3 1.5l-0.9 1.0l-1.0 0.5l0.0 1.5l0.2 0.2l1.5 -0.0l1.0 0.5l0.7 0.8l0.2 1.5l-0.3 1.0l-0.6 0.7l-0.5 0.4l-1.5 0.3l-0.3 1.6l-0.7 1.0l-1.0 0.6zM255.0 408.0l-1.7 -0.0l-0.8 -0.5l-0.5 -0.7l-0.2 -0.8l0.1 -1.0l0.5 -1.0l0.7 -0.5l0.9 -0.3l1.3 0.3l0.7 0.5l0.5 0.8l0.1 0.7l-0.1 1.0l-0.6 1.0l-0.9 0.5zM396.0 423.7l-2.0 0.0l-1.0 -0.7l-0.7 -1.0l-0.0 -0.5l0.0 -1.5l0.7 -1.0l0.3 -2.0l1.4 -2.0l-0.2 -1.0l0.3 -1.5l0.7 -0.9l1.0 -0.7l1.0 -0.1l1.0 0.1l0.2 -0.4l0.1 -1.0l0.7 -1.5l0.0 -0.2l-0.8 -0.3l-0.4 -0.5l0.0 -1.0l0.4 -0.5l0.8 -0.2l0.8 0.2l0.4 0.5l-0.0 1.0l0.3 0.1l2.0 -1.5l1.0 -0.2l1.0 0.2l0.7 0.4l0.8 1.0l0.2 1.0l-0.2 1.0l-0.5 0.8l-1.0 0.7l-1.0 1.9l-1.0 0.8l-1.0 0.2l-1.0 -0.0l-0.5 0.1l-0.1 1.0l-0.4 1.0l-0.5 0.7l-0.6 0.3l0.1 0.4l1.5 -0.1l0.5 0.2l0.7 0.5l0.5 1.0l-0.1 1.5l-1.0 1.0l-1.1 0.3l-1.0 -0.2l-1.0 -0.7l-0.3 1.6l-0.7 1.0l-1.0 0.7zM235.0 411.7l-1.0 -0.0l-1.0 -0.5l-0.7 -0.7l-0.6 -1.5l0.1 -1.0l0.6 -1.0l0.6 -0.5l1.5 -0.5l1.5 0.3l1.2 1.2l0.2 1.0l-0.2 1.5l-0.9 1.0l-1.3 0.7zM311.5 409.2l-1.0 0.2l-0.5 -0.1l-0.5 -0.2l-0.5 -0.6l-0.2 -1.5l0.2 -0.5l0.5 -0.5l1.0 -0.3l0.5 0.0l0.5 0.2l0.7 0.6l0.3 1.0l-0.1 0.5l-0.4 0.8l-0.5 0.4zM327.0 409.5l-1.0 -0.3l-0.6 -0.7l-0.1 -0.5l0.2 -0.8l1.0 -0.7l0.5 -0.0l0.9 0.5l0.4 1.0l-0.4 1.0l-0.9 0.5zM207.0 412.0l-1.0 0.0l-1.0 -0.5l-0.5 -0.5l-0.4 -1.0l0.0 -1.0l0.4 -0.8l0.7 -0.7l0.8 -0.3l1.0 -0.0l0.8 0.3l0.7 0.7l0.4 0.8l0.0 1.0l-0.4 1.0l-0.5 0.5l-1.0 0.5zM268.5 412.1l-1.0 -0.1l-0.7 -0.5l-0.8 -1.0l-0.1 -0.5l0.0 -1.0l0.5 -1.0l0.6 -0.5l1.0 -0.3l1.0 0.1l1.0 0.6l0.5 0.6l0.2 1.0l-0.1 1.0l-0.6 0.9l-1.5 0.7zM345.0 415.2l-1.5 -0.0l-1.0 -0.6l-0.6 -0.6l-0.5 -1.5l0.2 -1.5l-0.2 -1.0l0.4 -1.5l1.2 -1.2l1.0 -0.2l1.5 0.2l1.0 0.9l0.7 1.3l-0.3 1.5l0.3 1.0l-0.1 1.0l-0.4 1.0l-0.7 0.7l-1.0 0.5zM251.0 413.6l-1.0 0.3l-1.0 0.0l-1.0 -0.3l-0.7 -0.6l-0.5 -1.0l-0.0 -1.5l0.5 -1.0l0.7 -0.7l1.0 -0.4l1.0 0.0l1.0 0.4l1.0 1.2l0.2 0.5l0.0 1.5l-0.5 1.0l-0.7 0.6zM201.0 414.6l-1.5 0.0l-1.0 -0.5l-0.5 -0.6l-0.4 -1.0l0.0 -1.0l0.4 -1.0l0.5 -0.5l1.0 -0.5l1.5 -0.0l1.0 0.6l0.7 0.9l0.1 1.0l-0.1 1.0l-0.7 1.0l-1.0 0.6zM381.0 426.6l-1.0 0.1l-1.0 -0.1l-0.8 -0.6l-0.8 -1.0l-0.1 -1.5l0.8 -1.5l0.2 -2.0l1.0 -1.5l0.5 -2.0l1.2 -1.2l1.5 -0.5l0.5 -1.8l1.5 -1.5l-0.0 -1.0l0.3 -0.5l0.7 -0.5l1.0 -0.0l0.5 0.3l0.5 0.7l-0.1 1.5l0.8 1.5l0.2 1.0l-0.2 1.0l-0.7 1.2l-1.8 0.8l-0.5 2.0l-1.2 1.3l-0.2 0.7l0.2 0.8l1.0 -0.0l1.0 0.6l0.3 0.6l-0.0 1.0l-0.3 0.6l-1.0 0.7l-1.0 -0.0l-1.0 -0.7l-0.5 0.1l-0.7 0.8l-0.8 0.6zM283.5 414.0l-1.0 0.4l-1.2 -0.4l-0.6 -1.0l0.1 -1.0l0.4 -0.5l0.8 -0.5l0.5 -0.0l1.1 0.5l0.4 0.6l0.1 0.9l-0.6 1.0zM235.5 421.7l-2.0 -0.1l-1.0 -0.8l-0.5 -0.8l-0.5 0.1l-1.0 1.1l-1.0 0.5l-1.0 -0.1l-0.5 -0.2l-1.1 -0.9l-0.4 -1.0l-0.0 -1.0l0.4 -1.0l0.6 -0.6l0.7 -0.4l0.2 -0.5l-0.5 -1.0l-0.1 -1.0l0.7 -1.4l0.6 -0.6l0.9 -0.4l1.0 -0.1l1.0 0.3l1.2 1.2l0.3 1.5l-0.2 1.0l-0.8 1.0l-1.0 0.5l-0.2 0.5l0.2 0.4l0.5 0.1l0.7 -1.0l0.8 -0.6l0.5 -0.1l1.5 0.0l1.0 0.6l0.4 0.6l0.4 1.0l-0.1 1.5l-0.7 1.1l-1.0 0.6zM215.5 413.0l0.7 -0.5l-1.2 -0.2l-0.2 0.2l0.7 0.5zM265.5 417.5l-1.0 0.2l-1.0 -0.1l-1.0 -0.6l-0.6 -1.0l-0.1 -1.0l0.2 -1.0l1.0 -1.2l1.0 -0.4l1.0 0.1l1.0 0.4l0.5 0.6l0.5 1.0l0.0 1.0l-0.5 1.2l-1.0 0.8zM365.0 429.6l-1.5 0.2l-0.7 -0.3l-0.6 -0.5l-0.5 -1.0l0.2 -1.5l1.4 -1.5l0.7 -1.5l0.6 -0.5l0.9 -0.4l0.0 -0.6l-0.3 -1.0l0.1 -1.0l0.5 -1.0l1.8 -1.5l0.2 -1.0l0.6 -1.0l3.1 -1.7l1.0 0.0l0.5 0.4l0.3 0.8l-0.1 3.5l-0.6 1.0l-1.3 1.0l-0.2 1.5l-0.6 0.9l-1.0 0.7l-1.3 0.4l0.3 1.0l-0.5 1.4l-1.3 1.1l-0.9 1.5l-0.8 0.6zM250.0 426.0l-1.0 0.3l-1.5 -0.2l-1.5 -1.4l-1.5 0.1l-1.0 -0.2l-1.2 -1.1l-0.3 -1.0l0.1 -1.0l0.3 -1.0l1.1 -1.0l-0.7 -1.0l-0.0 -2.0l0.6 -1.0l1.1 -0.8l1.0 -0.1l1.0 0.1l1.1 0.8l0.6 1.0l-0.0 2.0l-1.4 1.5l0.7 1.1l1.5 -0.1l1.0 0.3l1.1 1.2l0.2 1.0l-0.1 1.0l-0.2 0.5l-1.0 1.0zM280.5 419.5l-1.0 -0.0l-0.6 -0.5l-0.3 -0.5l0.2 -1.0l0.7 -0.6l1.0 -0.0l0.7 0.6l0.2 1.0l-0.4 0.6l-0.5 0.4zM262.5 428.1l-1.0 0.0l-1.0 -0.4l-1.5 -1.4l-1.4 -0.3l-0.7 -0.5l-0.5 -1.0l-0.1 -1.5l0.6 -1.0l0.6 -0.7l0.3 -1.8l0.7 -1.0l1.0 -0.7l1.5 -0.0l1.0 0.4l0.7 0.8l0.5 1.0l0.0 0.5l-0.1 1.0l-0.4 1.0l1.3 0.8l0.7 1.2l-0.1 2.0l-1.1 1.2l-1.0 0.4zM355.0 428.6l-1.0 -0.2l-1.0 -0.7l-0.4 -0.7l-0.4 -1.5l-0.9 -1.0l-0.5 -1.0l0.1 -1.5l0.6 -0.8l1.0 -0.8l2.0 -0.1l1.5 1.0l1.5 0.3l1.0 0.7l0.6 1.2l0.0 1.0l-0.6 1.3l-1.3 1.2l-0.7 1.0l-1.5 0.6zM276.0 430.2l-1.0 0.0l-0.8 -0.2l-0.8 -0.5l-0.6 -1.0l-0.1 -2.0l-0.6 -1.5l0.0 -1.0l0.4 -1.0l0.6 -0.5l0.9 -0.4l1.5 0.2l1.0 0.7l0.4 1.0l0.2 1.5l0.8 1.5l0.0 1.0l-0.3 1.0l-0.6 0.7l-1.0 0.5zM339.5 427.5l-1.0 0.2l-1.0 -0.5l-0.8 -0.7l-0.4 -1.0l0.2 -1.7l0.6 -0.8l0.9 -0.5l1.5 0.1l1.0 0.6l0.5 0.8l0.2 1.0l-0.1 1.0l-0.8 1.0l-0.8 0.5zM290.5 426.7l-1.0 -0.2l-0.5 -0.5l-0.2 -0.5l0.3 -1.0l0.9 -0.5l1.0 0.2l0.6 0.8l-0.2 1.0l-0.9 0.7zM309.5 427.7l-1.5 0.2l-0.5 -0.1l-0.8 -0.8l-0.4 -0.5l-0.0 -1.0l0.7 -1.2l1.0 -0.5l0.5 -0.0l0.5 0.0l1.0 0.8l0.3 0.4l0.2 1.0l-0.3 1.0l-0.7 0.7zM350.0 429.2l-0.5 0.1l-1.0 -0.1l-0.5 -0.3l-0.5 -0.7l-0.2 -0.7l0.2 -1.0l1.0 -1.0l0.5 -0.1l1.0 0.1l1.1 1.0l0.2 1.0l-0.1 0.5l-0.7 0.9l-0.5 0.3z" fill="#30ff70"/>
<path d="M328.5 327.5l-0.5 -0.5l0.5 -0.6l0.5 0.6l-0.5 0.5zM581.0 335.1l-0.9 -0.1l-0.4 -0.5l-0.0 -0.5l0.3 -0.5l1.0 -0.1l0.5 0.5l0.0 0.6l-0.5 0.6zM561.5 337.9l-1.0 -0.1l-0.3 -0.3l-0.1 -0.5l0.4 -0.7l0.5 -0.1l0.6 0.3l0.3 0.5l-0.4 0.9zM328.0 339.5l-0.3 -0.5l0.3 -0.5l0.5 -0.0l0.2 0.5l-0.2 0.5l-0.5 0.0zM564.0 346.6l-1.0 0.0l-0.5 -0.2l-0.5 -0.4l-0.5 -1.0l0.0 -0.5l0.4 -1.0l0.6 -0.5l0.5 -0.2l1.0 -0.0l0.5 0.2l0.6 0.5l0.4 1.0l-0.0 0.5l-0.5 1.0l-1.0 0.6zM545.0 350.2l-1.0 0.0l-0.5 -0.3l-0.7 -2.4l0.1 -1.0l1.1 -1.5l1.0 0.0l1.0 0.5l0.7 1.0l0.3 1.0l0.0 1.0l-0.5 0.9l-1.5 0.8zM328.0 350.5l-0.5 -0.5l0.5 -0.6l0.5 0.6l-0.5 0.5zM543.5 353.0l-0.5 0.4l-0.5 0.0l-0.4 -0.4l0.1 -1.0l0.3 -0.3l0.5 -0.1l0.5 0.3l0.1 0.6l-0.1 0.5zM548.5 356.0l-2.5 0.4l-0.5 -0.1l-0.5 -0.8l1.0 -2.0l1.0 -1.1l1.0 -0.5l1.5 0.3l0.5 0.5l0.3 0.8l-0.0 1.0l-0.3 0.5l-0.5 0.5l-1.0 0.5zM133.0 356.3l-1.0 0.2l-0.5 -0.2l-0.9 -0.8l-0.1 -0.5l0.1 -1.0l0.9 -0.9l1.0 -0.1l0.5 0.2l0.8 0.8l0.1 0.5l-0.1 1.0l-0.8 0.8zM328.0 356.7l-1.0 0.3l-0.5 -0.1l-0.7 -0.4l-0.5 -0.5l-0.2 -1.0l0.0 -0.5l0.4 -0.7l0.5 -0.4l1.0 -0.3l0.5 0.1l0.7 0.3l0.5 0.5l0.2 1.0l-0.0 0.5l-0.4 0.8l-0.5 0.4zM507.0 355.6l-0.8 -0.1l-0.4 -0.5l0.2 -1.0l0.5 -0.2l0.8 0.2l0.3 0.5l-0.1 0.7l-0.5 0.4zM533.5 366.0l-1.5 -0.2l-1.0 -0.8l-0.7 -1.0l-0.1 -1.5l0.3 -1.5l0.5 -1.0l-0.5 0.2l-1.5 0.2l-1.0 0.3l-0.6 -0.2l-0.1 1.0l-0.8 0.4l-1.0 2.7l-0.9 0.9l-0.6 0.2l-1.5 -0.2l-1.0 -0.7l-0.5 -0.8l-0.1 -1.5l0.6 -1.4l0.9 -0.6l2.1 -0.2l1.0 0.2l1.0 -0.5l-0.3 -2.5l0.5 -1.5l1.3 -1.2l2.0 -0.1l1.0 0.7l0.3 0.6l0.7 2.8l0.5 0.1l0.5 0.5l0.2 -0.4l2.3 -1.4l1.0 0.1l0.5 0.4l0.6 0.9l0.1 1.5l-0.5 1.0l-1.2 1.3l-0.4 1.7l-1.1 1.2l-1.0 0.3zM326.5 366.0l-1.0 0.1l-1.0 -1.4l-0.1 -1.2l0.6 -1.0l-0.6 -1.5l-0.3 -1.0l0.3 -1.0l0.6 -0.9l1.3 -0.6l0.2 -0.4l0.5 -0.0l0.2 0.4l1.4 1.0l0.5 1.5l-0.2 1.0l-1.1 1.5l0.4 1.5l-0.2 0.9l-0.5 0.6l-1.0 0.5zM128.5 360.2l-0.5 0.2l-0.5 0.0l-0.6 -0.4l-0.3 -1.0l0.4 -0.6l0.5 -0.2l0.5 -0.0l0.6 0.3l0.3 1.0l-0.4 0.7zM490.0 364.5l-0.5 -0.1l-0.8 -0.4l-0.3 -0.5l-0.2 -1.0l0.4 -1.0l0.8 -0.5l0.6 -0.1l0.6 0.1l0.8 0.5l0.4 1.0l-0.2 1.0l-0.3 0.5l-0.8 0.4l-0.5 0.1zM119.0 364.0l-1.0 0.3l-0.5 -0.1l-0.5 -0.2l-0.4 -0.5l-0.2 -1.0l0.1 -0.5l0.5 -0.6l1.0 -0.4l0.5 0.1l0.5 0.3l0.5 0.5l0.1 1.1l-0.6 1.0zM131.5 365.1l-0.7 -0.1l-0.4 -0.5l0.1 -0.8l0.5 -0.4l1.0 0.2l0.2 0.5l-0.2 0.8l-0.5 0.3zM135.5 369.0l-1.5 -0.3l-1.0 -0.8l-0.8 -2.4l0.8 -1.0l2.0 -0.4l1.0 0.0l0.8 0.4l1.0 1.0l0.3 1.0l-0.3 1.0l-0.9 1.0l-1.4 0.5zM513.0 369.1l-1.0 0.2l-1.0 -0.2l-0.9 -0.6l-0.4 -0.5l-0.3 -1.0l0.0 -1.0l0.6 -1.0l0.5 -0.5l1.0 -0.4l1.0 -0.0l1.0 0.4l0.8 1.0l0.3 1.0l-0.1 1.0l-0.6 1.0l-0.9 0.6zM542.5 369.1l-1.0 -0.2l-0.7 -0.9l-0.0 -0.5l0.2 -0.7l1.0 -0.6l0.5 -0.0l0.7 0.3l0.5 1.0l-0.3 1.0l-0.9 0.6zM516.5 373.5l-1.0 0.0l-0.5 -0.2l-0.5 -0.3l-0.7 -1.0l-0.0 -1.0l0.2 -0.9l0.6 -0.6l0.9 -0.5l1.0 0.0l0.9 0.5l0.6 0.6l0.2 0.9l-0.2 1.5l-0.5 0.5l-1.0 0.5zM474.5 370.8l-0.5 0.2l-0.8 -0.5l-0.2 -0.5l0.5 -0.8l0.5 -0.2l0.8 0.5l0.2 0.5l-0.5 0.8zM507.5 374.5l-1.5 0.0l-1.0 -0.5l-0.5 -0.6l-0.3 -0.9l-0.0 -1.0l0.3 -0.9l0.5 -0.6l1.0 -0.5l1.5 -0.0l1.0 0.6l0.6 0.9l0.2 1.0l-0.3 1.2l-0.6 0.8l-0.9 0.5zM130.0 374.1l-1.0 0.0l-1.5 -0.6l-0.3 -0.5l0.0 -0.5l0.5 -1.0l0.8 -0.7l1.5 -0.6l1.0 0.0l0.5 0.3l0.5 0.5l0.3 1.0l-0.1 0.5l-0.7 1.0l-1.5 0.6zM322.0 388.5l-0.5 -0.5l-2.2 -0.5l-0.8 -0.5l-0.3 -0.5l-0.3 -0.5l0.0 -1.0l0.8 -1.5l-0.8 -1.0l-0.1 -1.0l0.1 -1.0l1.0 -1.0l0.0 -0.5l-0.5 -1.0l0.1 -1.5l0.5 -0.6l1.2 -0.9l0.8 -1.0l1.0 -0.8l0.9 -0.2l-0.5 -0.5l0.0 -1.0l0.5 -0.5l0.6 -0.2l0.6 0.2l0.5 0.5l-0.0 1.0l-0.8 1.0l0.9 1.5l0.3 1.0l-0.5 1.4l-0.5 0.6l0.6 2.0l-0.3 1.0l-0.6 1.0l0.8 2.0l-0.6 1.5l-1.4 1.3l-0.5 0.2l0.0 0.4l0.5 0.6l-0.5 0.5zM140.0 384.1l-1.5 0.1l-1.0 -0.7l-0.5 -1.0l0.0 -0.5l0.4 -1.0l1.1 -0.8l0.5 -0.1l1.0 0.2l0.6 -0.8l0.4 -1.0l1.0 -0.9l1.0 -0.2l1.0 0.2l0.5 -0.2l1.2 -1.4l0.3 -0.5l0.0 -0.8l0.3 -0.7l0.7 -0.9l1.0 -0.5l3.0 -0.2l1.5 0.6l0.5 0.5l0.5 1.0l0.0 1.0l-0.4 1.0l-0.6 0.7l-1.0 0.4l-1.5 0.1l-0.7 0.3l-0.3 1.5l-1.1 1.0l-2.4 0.1l-1.0 1.1l-1.0 0.4l-1.5 -0.1l-0.5 0.1l-0.4 0.4l-0.4 1.0l-0.7 0.6zM500.5 380.6l-1.5 -0.1l-0.7 -0.5l-0.8 -1.0l-0.1 -1.5l-0.4 -0.4l-1.5 0.1l-0.8 -0.2l-0.7 -0.6l-0.5 -0.9l-0.1 -1.5l0.6 -1.0l0.5 -0.5l1.5 -0.5l1.5 0.5l0.8 1.0l0.3 0.5l0.0 1.0l0.4 0.5l1.3 -0.5l0.7 -1.0l1.0 -0.5l1.5 -0.0l0.9 0.5l0.4 0.5l0.5 1.5l-0.5 1.5l-0.4 0.5l-1.9 1.0l-1.0 1.2l-1.0 0.4zM487.0 375.6l-0.8 -0.1l-0.4 -0.5l0.2 -1.0l0.5 -0.2l0.8 0.2l0.3 0.5l-0.1 0.7l-0.5 0.4zM526.5 379.0l-1.0 -0.0l-1.0 -0.5l-0.8 -1.0l-0.1 -0.5l0.0 -1.0l0.6 -1.0l0.8 -0.6l1.0 -0.3l1.0 0.2l1.0 0.7l0.4 0.5l0.2 1.0l-0.4 1.5l-0.7 0.6l-1.0 0.4zM458.0 378.5l-0.5 -0.1l-0.8 -0.4l-0.3 -0.5l-0.2 -1.0l0.4 -1.0l0.8 -0.5l0.6 -0.1l0.6 0.1l0.8 0.5l0.4 1.0l-0.2 1.0l-0.3 0.5l-0.8 0.4l-0.5 0.1zM173.0 378.5l-1.0 0.3l-0.5 -0.1l-1.0 -0.7l-0.3 -1.0l0.1 -0.5l0.7 -1.0l1.0 -0.3l0.5 0.1l1.0 0.7l0.3 1.0l-0.1 0.5l-0.7 1.0zM185.0 381.7l-0.5 0.2l-1.5 -0.2l-1.5 -1.2l-0.4 -1.0l-0.2 -1.5l0.5 -1.0l0.6 -0.5l1.0 -0.2l1.0 0.2l1.0 0.8l0.5 0.7l0.3 1.0l0.0 1.0l-0.3 1.0l-0.5 0.7zM491.5 382.5l-1.5 0.0l-1.0 -0.5l-0.5 -0.6l-0.3 -0.9l-0.0 -1.0l0.3 -0.9l0.5 -0.6l1.0 -0.5l1.5 -0.0l1.0 0.6l0.6 0.9l0.2 1.0l-0.3 1.2l-0.6 0.8l-0.9 0.5zM163.5 384.7l-1.0 0.2l-1.0 -0.3l-0.9 -0.6l-0.5 -1.0l-0.1 -1.4l0.5 -1.0l0.6 -0.6l0.9 -0.4l1.0 -0.0l1.0 0.3l0.6 0.6l0.5 1.0l0.1 1.0l-0.2 0.9l-0.5 0.7l-1.0 0.6zM476.0 387.0l-1.0 0.1l-1.0 -0.4l-0.5 -0.4l-1.0 -1.6l-1.8 -0.7l-0.5 -1.0l0.1 -1.0l0.3 -0.5l0.9 -0.6l1.0 0.0l0.9 0.6l0.3 0.5l2.3 0.4l1.0 0.6l1.0 -2.0l0.5 -0.5l1.5 -0.5l1.5 0.5l0.5 0.5l1.0 1.8l1.0 -1.0l0.5 -0.3l1.0 -0.1l1.5 0.6l0.7 1.0l0.2 1.0l-0.4 1.4l-0.5 0.6l-1.0 0.5l-1.5 -0.0l-0.9 -0.5l-0.6 -0.8l-0.5 -1.2l-1.2 1.0l-0.8 0.3l-1.0 -0.0l-1.5 -0.6l-0.3 0.3l-0.2 0.7l-0.5 0.7l-1.0 0.6zM443.5 385.1l-1.5 0.4l-1.0 -0.4l-0.7 -0.6l-0.3 -1.0l0.0 -1.0l0.2 -0.5l0.8 -0.8l1.0 -0.3l1.0 0.1l0.8 0.5l0.4 0.5l0.3 0.6l0.1 0.9l-0.5 1.0l-0.6 0.6zM449.5 384.0l-1.1 -0.0l-0.6 -0.5l-0.3 -0.5l0.1 -1.0l0.4 -0.5l0.5 -0.3l1.0 0.1l0.8 0.7l0.1 1.0l-0.4 0.7l-0.5 0.3zM505.5 386.5l-0.5 -0.0l-1.0 -0.5l-0.5 -1.0l0.0 -0.6l0.4 -0.9l1.1 -0.6l1.0 0.1l0.5 0.3l0.5 0.7l0.1 0.5l-0.1 0.8l-0.4 0.7l-1.1 0.5zM197.0 388.5l-1.5 -0.6l-0.6 -0.9l-0.2 -1.0l0.3 -1.0l0.3 -0.5l0.7 -0.6l1.0 -0.2l1.0 0.2l0.9 0.6l0.6 1.5l-0.0 0.5l-0.5 1.1l-1.0 0.7l-1.0 0.2zM154.5 392.6l-1.3 -0.1l-1.2 -0.8l-0.6 -1.2l0.2 -1.5l0.4 -0.6l1.0 -0.8l1.0 -0.2l1.1 0.1l0.4 -1.6l1.0 -1.1l1.0 -0.4l1.5 0.2l1.0 0.8l0.5 1.1l-0.1 1.0l-0.4 1.0l-0.5 0.5l-1.0 0.5l-0.9 0.0l-0.6 -0.1l-0.3 0.1l-0.2 1.3l-0.4 0.7l-0.6 0.7l-1.0 0.4zM180.0 396.1l-1.5 0.1l-0.7 -0.2l-0.6 -0.5l-0.3 -0.5l-0.3 -1.0l0.5 -2.0l-1.6 -0.4l-0.8 -0.6l-1.2 -2.3l-0.5 -0.6l-0.3 -1.1l0.2 -1.0l0.6 -0.9l0.5 -0.3l1.3 -0.3l1.2 0.5l2.6 3.0l0.3 1.5l-0.3 1.0l-0.4 0.5l0.3 0.5l1.5 0.5l0.5 0.6l0.4 0.9l-0.3 1.5l-1.1 1.1zM167.0 389.6l-1.5 0.4l-1.0 -0.3l-0.5 -0.5l-0.4 -0.7l-0.1 -1.0l0.3 -1.0l0.4 -0.5l0.8 -0.4l1.0 -0.1l1.0 0.4l0.5 0.5l0.3 0.6l0.1 1.0l-0.3 1.0l-0.6 0.6zM465.0 395.5l-1.0 0.2l-1.0 -0.2l-0.7 -0.5l-0.8 -1.2l-0.5 -0.1l-1.5 0.2l-1.0 -0.4l-0.5 -0.4l-0.5 -0.9l-0.1 -0.7l0.1 -1.0l0.5 -0.9l1.0 -0.7l1.5 -0.2l1.0 0.4l0.9 0.9l0.1 0.3l0.5 -2.3l1.0 -1.0l1.5 -0.3l1.0 0.3l1.5 1.3l0.5 -1.7l1.0 -0.9l1.5 -0.3l1.4 0.6l0.6 0.8l0.2 0.7l0.0 1.0l-0.4 1.0l-0.4 0.5l-0.9 0.5l-1.0 0.1l-1.0 -0.3l-1.5 -1.2l-0.5 1.6l-1.3 1.3l0.2 1.5l-0.3 1.0l-1.1 1.0zM141.5 390.1l-1.0 -0.3l-0.8 -0.8l-0.2 -0.5l0.0 -1.2l0.5 -1.1l0.5 -0.3l0.5 0.1l1.0 0.6l0.6 0.9l0.1 1.0l-0.4 1.0l-0.3 0.4l-0.5 0.2zM426.5 389.6l-1.0 0.3l-0.5 -0.0l-0.9 -0.4l-0.6 -0.8l-0.2 -0.7l0.2 -1.0l1.0 -1.0l1.0 -0.2l0.7 0.2l0.7 0.5l0.3 0.5l0.3 1.0l-0.1 0.5l-0.4 0.7l-0.5 0.4zM321.0 404.7l-0.5 0.2l-0.5 -0.2l-0.5 -0.8l-2.5 -0.4l-1.1 -1.0l-0.1 -1.0l0.1 -1.0l0.9 -1.0l-0.7 -1.5l0.0 -1.0l0.4 -0.9l0.7 -0.6l0.3 -0.5l-0.6 -1.0l0.1 -1.2l0.5 -0.8l1.3 -1.0l0.7 -1.0l1.0 -0.7l1.0 -0.2l0.5 0.1l0.5 0.5l0.7 1.3l0.3 1.0l-0.5 1.4l-0.5 0.6l-0.1 0.5l0.3 1.0l0.0 1.0l-0.1 0.5l-0.7 1.0l0.6 1.5l-0.0 1.0l-0.4 1.0l-1.1 1.4l-0.5 0.1l0.7 0.5l0.2 0.5l-0.4 0.7zM486.5 393.0l-1.1 -0.0l-0.8 -0.5l-0.3 -0.5l-0.1 -0.5l0.2 -1.0l0.3 -0.5l0.8 -0.5l0.7 -0.0l0.8 0.3l0.5 0.4l0.3 0.8l-0.3 1.3l-1.0 0.7zM217.0 395.1l-1.0 -0.0l-1.0 -0.6l-2.5 0.5l-1.4 -0.5l-0.6 -0.7l-0.4 -0.8l0.0 -1.0l0.4 -1.0l1.1 -1.0l1.4 -0.2l1.0 0.3l1.5 1.1l1.5 -0.2l0.9 0.5l0.7 1.0l0.0 1.0l-0.5 1.0l-1.1 0.6zM411.0 394.5l-0.5 -0.0l-0.9 -0.5l-0.5 -1.0l-0.0 -0.5l0.4 -1.0l1.0 -0.6l1.0 0.1l0.5 0.2l0.5 0.6l0.2 0.7l-0.2 1.0l-0.3 0.5l-1.2 0.5zM173.0 402.6l-1.5 0.1l-1.0 -0.4l-0.5 -0.4l-1.0 -1.5l-1.0 -0.2l-1.0 -0.6l-0.5 -0.8l-0.2 -0.8l0.1 -1.0l0.6 -1.0l0.7 -0.5l1.7 -0.5l0.0 -1.5l0.4 -1.0l0.7 -0.7l1.0 -0.5l1.0 0.0l1.0 0.5l0.7 0.7l0.4 1.0l-0.1 1.0l-0.5 1.1l-1.0 0.7l-1.5 0.4l-0.1 0.3l0.6 0.5l1.5 0.5l0.5 0.5l0.6 1.0l-0.1 1.5l-0.6 1.0l-0.9 0.6zM458.0 403.1l-1.0 0.3l-1.0 -0.1l-1.0 -0.7l-0.4 -0.6l-0.2 -1.0l0.1 -0.7l0.4 -0.8l0.6 -0.5l0.1 -0.5l-0.6 -0.5l-0.5 0.1l-0.5 0.9l-0.6 0.5l-0.9 0.4l-1.0 -0.0l-0.9 -0.4l-0.6 -0.5l-0.5 -1.0l-0.1 -1.0l-0.4 -0.4l-0.5 0.1l-0.2 0.3l0.0 1.0l-0.3 0.9l-1.0 1.1l-1.5 0.4l-1.4 -0.4l-1.1 -1.1l-0.4 -1.4l-0.0 -1.5l0.4 -1.4l1.0 -0.9l1.8 -0.7l0.7 -1.0l0.8 -0.5l0.7 -0.1l1.0 0.1l1.0 0.6l0.6 0.9l0.2 1.5l0.2 0.3l1.5 -0.0l1.5 0.5l1.0 -1.3l0.9 -0.5l1.1 -0.1l1.0 0.4l1.0 1.0l0.3 1.2l-0.3 1.2l-1.1 1.3l1.1 1.5l0.2 1.0l-0.2 1.0l-1.0 1.1zM188.0 401.0l-1.0 -0.1l-0.8 -0.4l-0.4 -0.5l-0.4 -1.0l0.2 -1.5l0.4 -0.6l1.0 -0.6l1.0 -0.1l1.0 0.4l0.3 -0.1l-0.0 -0.5l-0.4 -1.0l0.1 -0.9l0.5 -1.1l0.6 -0.5l1.4 -0.5l1.5 0.4l0.6 0.6l0.5 1.0l0.1 1.0l-0.3 1.0l-0.9 1.0l-1.0 0.3l-1.0 -0.0l-1.0 -0.4l-0.4 0.1l0.4 1.0l-0.1 1.5l-0.7 1.0l-1.2 0.5zM157.0 398.1l-1.6 -0.1l-0.9 -0.5l-0.6 -1.0l-0.2 -1.0l0.3 -1.2l0.6 -0.8l0.9 -0.5l1.5 -0.0l1.0 0.5l0.5 0.6l0.4 0.9l-0.0 1.0l-0.4 1.0l-0.5 0.6l-1.0 0.5zM227.0 399.5l-1.0 -0.1l-0.8 -0.4l-0.7 -0.9l-0.1 -0.6l-0.0 -1.0l0.5 -1.0l0.6 -0.5l1.0 -0.3l1.0 0.2l1.0 0.6l0.5 0.9l0.1 0.6l-0.1 0.8l-0.5 0.9l-0.5 0.4l-1.0 0.4zM442.5 408.6l-1.5 0.3l-1.0 -0.3l-0.8 -0.6l-0.6 -1.5l0.3 -1.5l-0.4 -0.2l-1.0 -0.2l-1.0 -0.6l-0.6 -1.0l-0.4 -1.7l-0.5 0.0l-1.0 1.1l-1.0 0.4l-1.5 -0.1l-1.0 -0.6l-0.5 -0.6l-0.3 -1.5l0.2 -1.0l0.6 -0.9l1.0 -0.6l2.0 -0.2l1.0 -0.9l1.0 -0.5l1.4 0.1l0.8 0.5l0.7 1.0l0.2 1.0l0.3 0.5l1.1 0.5l1.0 1.0l0.3 1.5l-0.1 1.5l1.3 0.6l1.0 1.0l0.3 0.9l-0.1 1.0l-0.5 1.0l-0.7 0.6zM467.0 400.5l-1.0 -0.1l-0.6 -0.4l-0.4 -0.7l0.0 -1.3l1.0 -1.0l1.0 -0.1l0.5 0.2l0.6 0.4l0.4 0.9l0.0 0.6l-0.5 1.0l-1.0 0.5zM402.0 400.1l-1.0 -0.1l-0.5 -0.5l-0.2 -0.5l0.2 -1.0l1.0 -0.5l1.0 0.4l0.4 0.6l-0.2 1.0l-0.7 0.6zM207.5 402.6l-1.0 0.2l-1.0 -0.2l-0.5 -0.2l-0.8 -0.9l-0.3 -1.0l0.0 -1.0l0.5 -1.0l0.6 -0.6l1.0 -0.4l1.0 0.0l1.0 0.4l0.9 1.1l0.2 1.0l-0.0 1.0l-0.6 1.0l-1.0 0.6zM193.5 401.1l-0.9 -0.1l-0.4 -0.5l-0.0 -0.5l0.3 -0.5l1.0 -0.1l0.5 0.5l0.0 0.6l-0.5 0.6zM186.5 408.1l-1.0 -0.0l-1.0 -0.6l-0.6 -1.0l-0.2 -1.0l-2.2 -0.8l-1.0 -1.2l-0.1 -1.0l0.1 -1.0l0.5 -0.7l1.0 -0.8l1.5 -0.1l1.0 0.5l1.0 1.1l0.3 1.5l0.2 0.4l1.1 0.1l1.1 1.0l0.3 1.0l-0.1 1.0l-0.7 1.0l-1.2 0.6zM240.5 404.0l-1.0 -0.0l-0.9 -0.5l-0.6 -0.9l-0.1 -0.6l0.1 -1.0l0.5 -0.8l0.5 -0.4l1.0 -0.3l1.5 0.5l0.5 0.5l0.3 1.0l-0.3 1.5l-0.5 0.5l-1.0 0.5zM448.0 405.0l-1.5 -0.0l-1.0 -1.0l-0.0 -1.5l1.0 -1.1l1.5 -0.0l0.8 0.6l0.3 0.5l-0.0 1.5l-1.1 1.0zM346.5 405.5l-1.0 0.2l-1.0 -0.2l-0.9 -1.0l-0.2 -0.5l0.1 -1.0l1.0 -1.1l1.0 -0.3l1.0 0.3l1.0 1.1l0.1 1.0l-0.2 0.5l-0.9 1.0zM427.0 412.6l-1.5 -0.0l-1.0 -0.6l-0.5 -0.5l-0.5 -1.0l-0.0 -1.0l0.6 -1.5l0.5 -0.5l1.2 -0.5l0.1 -0.5l-0.4 -0.6l-0.3 -0.9l-0.0 -1.0l0.3 -1.0l1.1 -1.0l0.9 -0.3l1.0 0.0l1.0 0.4l1.0 0.9l0.3 1.0l0.0 1.0l-0.3 0.9l-0.5 0.7l-0.5 0.5l-1.2 0.4l1.0 1.5l-0.0 1.0l-0.8 1.6l-0.5 0.5l-1.0 0.5zM196.0 409.6l-1.0 0.3l-1.0 -0.1l-0.7 -0.3l-0.8 -0.8l-0.3 -0.7l-0.1 -1.0l0.3 -1.0l0.6 -0.6l1.0 -0.5l2.0 -0.2l1.0 -1.1l1.0 -0.5l1.0 -0.0l1.5 0.7l0.5 -0.1l0.5 -0.7l1.0 -0.5l1.0 -0.1l1.5 0.3l0.7 1.3l0.2 1.0l-0.4 1.3l-0.7 0.7l-0.8 0.4l-1.0 0.1l-1.5 -0.7l-0.5 0.2l-1.0 1.1l-0.5 0.1l-1.0 0.2l-1.0 -0.2l-1.5 1.4zM417.0 417.6l-4.0 -0.5l-0.7 -0.6l-2.3 -0.8l-1.1 -1.2l-0.2 -1.5l0.3 -1.0l1.5 -1.5l-0.2 -2.0l0.2 -0.8l0.4 -0.7l0.6 -0.5l1.0 -0.4l1.0 -0.0l1.0 0.3l0.4 -0.4l0.0 -1.5l0.6 -0.9l0.7 -0.6l1.3 -0.3l1.3 0.3l1.0 1.0l0.4 1.0l-0.2 1.5l-0.8 1.0l-0.9 0.5l-1.3 0.1l-1.0 -0.3l-0.1 1.7l-0.4 1.0l-1.7 1.5l0.7 1.9l1.5 -0.4l1.0 -0.0l1.0 0.5l0.5 0.5l0.2 1.0l-0.2 1.0l-0.5 0.6l-1.0 0.5zM218.0 418.5l-1.0 -0.2l-1.0 -0.6l-1.0 -1.4l-0.5 -0.2l-0.5 0.4l-1.0 0.4l-1.0 -0.1l-0.7 -0.3l-0.9 -1.0l-0.3 -1.5l0.3 -1.0l0.4 -0.5l1.2 -0.7l1.0 -0.1l1.5 0.5l0.5 0.8l0.5 0.2l1.1 -0.7l-2.0 -0.5l-0.6 -0.5l-0.5 -0.8l-0.2 -0.7l0.2 -1.5l0.8 -1.0l0.7 -0.4l2.0 -0.4l0.2 -0.2l0.0 -1.5l0.5 -1.0l0.8 -0.6l1.5 -0.3l1.0 0.3l0.5 0.4l0.5 0.7l0.3 1.0l-0.3 1.5l-1.0 1.0l-1.0 0.5l0.1 1.5l0.4 0.4l1.5 -0.0l1.0 0.6l0.6 1.0l0.1 1.0l-0.2 0.6l-0.6 0.9l-0.9 0.5l-1.0 0.1l-0.3 0.4l-0.2 1.4l-0.5 0.7l-1.0 0.7l-1.0 0.2zM255.0 407.6l-1.5 0.0l-1.0 -0.7l-0.3 -1.4l0.3 -1.0l0.5 -0.5l1.5 -0.3l0.9 0.3l0.6 0.7l0.2 0.8l-0.1 1.0l-0.3 0.5l-0.8 0.6zM323.5 429.7l-1.0 0.3l-1.0 -0.3l-0.7 -0.7l-0.2 -1.0l-1.5 -0.5l-0.6 -0.4l-0.6 -1.1l0.1 -1.4l0.9 -1.1l-0.5 -1.5l-0.0 -1.0l0.1 -0.5l1.3 -1.5l-0.5 -1.0l0.0 -1.0l0.1 -0.5l0.8 -1.0l-0.8 -1.0l-0.1 -1.0l0.1 -1.0l0.4 -0.5l-0.3 -0.4l-1.0 -0.5l-0.3 -0.6l-0.3 -0.5l0.0 -1.0l0.6 -1.0l1.3 -1.0l0.7 -1.3l0.5 -0.5l1.0 0.1l1.4 0.7l0.5 0.5l0.6 1.5l-0.3 1.0l0.1 0.5l1.4 1.0l0.8 1.0l-0.0 1.0l-1.2 1.5l1.2 1.5l-0.0 1.0l-0.3 0.5l-1.5 1.5l0.3 1.5l-0.5 1.5l-0.5 0.5l-0.0 0.5l0.5 1.5l-0.8 2.0l0.0 0.5l0.5 0.5l0.2 1.0l-0.2 1.0l-0.7 0.7zM311.0 409.1l-1.1 -0.1l-0.9 -1.0l0.0 -1.0l0.5 -0.7l0.5 -0.3l1.3 0.0l0.6 0.5l0.3 0.5l0.0 0.5l-0.2 0.9l-1.0 0.7zM395.5 423.6l-1.3 -0.1l-0.9 -0.5l-0.7 -1.0l-0.2 -1.0l0.1 -0.7l0.8 -1.8l0.1 -1.5l0.6 -0.8l0.7 -0.7l0.2 -0.5l-0.2 -1.0l0.2 -1.5l0.9 -1.0l0.7 -0.3l1.0 -0.3l1.0 0.3l0.2 -0.2l0.3 -1.5l0.5 -1.1l0.5 -0.6l1.8 -0.8l0.9 -1.0l1.3 -0.4l1.3 0.4l0.7 0.7l0.3 0.8l0.0 1.0l-0.3 0.9l-1.0 0.8l-0.9 1.8l-0.6 0.7l-1.0 0.5l-2.0 0.1l-0.5 1.9l-1.3 1.3l0.1 0.5l0.2 0.3l1.5 -0.1l1.0 0.6l0.4 1.2l-0.3 1.0l-0.6 0.7l-1.0 0.3l-1.0 -0.3l-0.5 -0.5l-0.5 -0.0l-0.3 0.3l-0.2 1.3l-0.4 0.7l-0.6 0.7l-1.0 0.4zM236.0 411.1l-1.0 0.4l-1.0 -0.1l-0.9 -0.4l-0.6 -0.5l-0.5 -1.0l-0.1 -1.0l0.6 -1.3l0.8 -0.7l1.2 -0.3l1.0 0.1l1.0 0.7l0.4 0.5l0.3 1.0l-0.1 1.0l-0.5 1.0l-0.6 0.6zM344.5 415.1l-1.0 -0.1l-1.0 -0.6l-0.6 -0.9l-0.2 -1.0l-0.0 -3.0l0.3 -1.0l1.0 -0.9l1.0 -0.3l1.5 0.2l0.7 0.5l0.6 1.0l0.2 1.0l-0.2 1.0l0.2 1.5l-0.3 1.0l-0.7 1.0l-1.5 0.6zM207.0 411.6l-1.5 -0.2l-0.5 -0.4l-0.5 -1.0l0.0 -1.0l0.3 -0.5l0.4 -0.5l0.8 -0.4l0.5 -0.1l1.0 0.3l0.5 0.4l0.5 0.8l0.0 1.0l-0.1 0.5l-0.4 0.5l-1.0 0.6zM269.0 411.6l-1.5 -0.1l-0.7 -0.5l-0.5 -1.0l0.2 -1.5l0.5 -0.5l1.0 -0.4l0.5 -0.0l1.0 0.4l0.8 1.0l0.1 0.5l-0.2 1.0l-0.4 0.5l-0.8 0.6zM250.5 413.6l-1.0 0.2l-1.2 -0.3l-0.8 -0.6l-0.5 -0.9l-0.0 -1.5l0.5 -1.0l0.6 -0.5l0.9 -0.3l1.0 -0.0l1.0 0.4l0.8 0.9l0.3 1.0l-0.1 1.0l-0.6 1.0l-0.9 0.6zM434.0 413.0l-1.5 0.3l-0.9 -0.3l-0.6 -0.5l-0.6 -2.0l0.3 -1.0l0.3 -0.3l0.5 -0.3l1.5 -0.0l0.6 0.1l0.9 0.6l0.5 0.9l0.0 1.0l-0.4 1.0l-0.6 0.5zM201.5 414.0l-1.0 0.3l-1.0 -0.1l-0.6 -0.2l-0.9 -1.0l-0.2 -1.0l0.2 -1.0l0.9 -1.0l0.6 -0.3l1.0 -0.1l1.0 0.3l0.6 0.6l0.5 1.0l-0.0 1.0l-0.5 1.0l-0.6 0.5zM380.0 426.5l-1.6 -0.5l-0.4 -0.5l-0.5 -1.0l0.0 -1.0l0.7 -1.5l0.2 -2.0l1.1 -1.5l0.3 -1.5l0.6 -1.0l0.7 -0.5l1.4 -0.4l0.3 -0.6l0.1 -1.0l0.6 -0.9l1.0 -0.9l0.7 -0.2l0.3 -0.3l0.5 0.0l0.1 0.3l0.9 0.3l1.1 1.7l0.1 1.0l-0.1 1.0l-0.8 1.0l-1.9 1.0l-0.2 1.5l-1.5 2.0l-0.1 1.5l-0.7 1.0l-0.1 1.0l-0.3 0.4l-1.0 1.1l-1.5 0.5zM235.0 421.6l-1.0 -0.0l-1.0 -0.5l-0.5 -0.6l-0.5 -1.1l-0.5 -0.2l-0.5 1.3l-0.5 0.5l-1.0 0.4l-1.5 -0.3l-1.0 -0.9l-0.3 -1.2l0.2 -1.0l0.6 -0.8l1.2 -0.7l-0.0 -0.5l-0.7 -1.5l0.2 -1.0l0.6 -1.0l0.7 -0.6l1.0 -0.2l1.5 0.3l1.0 1.0l0.2 0.5l0.1 1.0l-0.2 1.0l-0.9 1.0l-1.0 0.5l-0.2 0.5l0.5 1.3l0.5 -0.1l0.5 -1.2l0.4 -0.5l1.1 -0.5l1.5 0.1l0.8 0.4l0.7 1.0l0.2 1.0l-0.2 1.1l-0.7 0.9l-1.3 0.6zM218.8 412.5l-0.3 -0.3l-0.3 0.3l0.6 0.0zM264.5 417.5l-0.5 -0.0l-1.1 -0.5l-0.7 -1.0l-0.2 -1.0l0.6 -1.5l0.9 -0.6l1.0 -0.2l1.0 0.2l0.5 0.4l0.5 0.7l0.3 1.0l-0.2 1.0l-0.6 0.9l-1.5 0.6zM249.0 426.1l-1.0 -0.1l-0.9 -0.5l-0.6 -0.7l-0.5 -0.2l-1.5 0.1l-0.9 -0.2l-1.1 -1.0l-0.3 -1.0l0.0 -1.0l0.5 -1.0l1.0 -1.0l-0.8 -1.5l0.1 -1.5l0.6 -1.0l0.9 -0.6l1.0 -0.1l1.0 0.1l1.0 0.8l0.5 0.8l0.1 1.5l-0.5 1.0l-0.9 1.0l0.8 1.3l2.2 0.2l0.8 0.6l0.5 0.9l0.1 1.0l-0.4 1.0l-0.7 0.7l-1.0 0.4zM365.0 429.0l-1.0 0.3l-1.0 -0.3l-0.5 -0.5l-0.3 -1.0l0.3 -1.0l0.5 -0.6l1.5 -2.4l1.0 -0.5l0.3 -0.5l-0.4 -1.5l0.4 -1.5l0.7 -1.0l1.0 -0.6l0.3 -0.4l0.2 -1.0l0.7 -1.0l1.8 -0.9l1.5 0.1l0.7 0.8l0.5 1.0l-0.2 2.0l-0.5 0.8l-1.0 0.7l-0.3 0.5l-0.1 1.0l-0.6 1.1l-1.0 0.8l-1.7 0.6l0.3 1.0l-0.3 1.0l-2.1 2.0l-0.2 0.5l-0.5 0.5zM263.5 427.5l-1.5 0.5l-1.5 -0.5l-1.5 -1.4l-0.8 -0.1l-0.9 -0.5l-0.7 -1.0l-0.1 -0.5l0.1 -1.0l1.0 -1.5l0.4 -2.0l0.8 -1.0l0.7 -0.4l1.0 -0.2l1.0 0.3l1.0 0.8l0.3 0.5l0.2 1.5l-0.5 1.5l1.5 1.0l0.6 1.0l0.0 0.5l-0.1 1.2l-0.4 0.8l-0.6 0.5zM355.5 428.1l-1.4 -0.1l-0.7 -0.5l-0.4 -0.5l-0.2 -1.0l-1.3 -1.4l-0.5 -1.0l-0.0 -1.1l0.4 -1.0l0.6 -0.6l0.7 -0.4l1.8 0.0l1.5 0.9l1.8 0.6l0.9 1.0l0.2 1.0l-0.4 1.4l-2.1 2.1l-0.9 0.6zM275.5 430.0l-1.0 -0.2l-0.7 -0.3l-0.4 -0.5l-0.5 -1.0l0.1 -1.0l-0.5 -2.0l-0.0 -1.0l0.5 -0.9l1.0 -0.6l1.0 -0.0l1.0 0.6l0.5 0.8l0.1 1.1l1.0 2.0l0.0 1.0l-0.4 1.0l-0.7 0.7l-1.0 0.3zM340.0 427.1l-1.5 0.4l-1.0 -0.4l-0.6 -0.6l-0.4 -1.0l0.1 -1.0l0.4 -0.8l0.9 -0.7l0.6 -0.1l1.0 0.1l0.5 0.3l0.7 0.7l0.3 1.5l-0.4 1.0l-0.6 0.6zM385.0 424.7l-0.5 0.2l-0.7 -0.4l-0.2 -0.5l0.4 -0.7l0.5 -0.2l0.7 0.4l0.2 0.5l-0.4 0.7zM309.5 427.5l-1.5 0.2l-1.0 -0.5l-0.6 -1.2l0.1 -0.5l0.6 -1.0l0.9 -0.5l0.5 -0.1l1.0 0.4l0.5 0.5l0.2 0.7l-0.0 1.0l-0.2 0.5l-0.5 0.5zM350.0 428.1l-0.5 0.3l-0.5 -0.1l-0.5 -0.3l-0.1 -0.5l0.1 -0.6l0.5 -0.4l0.5 0.0l0.5 0.3l0.2 0.7l-0.2 0.6z" fill="#d8ff00"/>
<path d="M564.0 346.2l-0.5 0.1l-0.9 -0.3l-0.6 -0.8l0.1 -1.2l0.4 -0.5l0.5 -0.2l0.5 -0.1l1.0 0.3l0.5 0.8l0.0 0.7l-0.2 0.5l-0.8 0.7zM544.5 350.0l-0.5 -0.1l-0.4 -0.4l-0.1 -1.0l-0.5 -0.8l-0.0 -0.7l0.5 -1.2l1.0 -0.5l0.5 -0.0l0.5 0.1l0.7 0.6l0.4 0.5l0.1 1.0l-0.1 1.0l-0.3 0.5l-1.8 1.0zM548.0 356.1l-1.0 0.0l-0.8 -0.6l-0.3 -0.5l0.0 -1.0l0.6 -0.7l1.2 -0.8l1.3 -0.0l0.7 0.5l0.3 1.0l-0.5 1.0l-1.5 1.1zM132.5 356.1l-1.0 -0.2l-0.5 -0.4l-0.2 -0.5l0.2 -1.0l0.5 -0.5l0.5 -0.2l1.0 0.2l0.6 1.0l-0.2 1.0l-0.9 0.6zM327.5 356.5l-1.1 -0.0l-0.7 -0.5l-0.2 -0.5l0.0 -1.2l0.5 -0.6l0.5 -0.3l1.1 0.1l0.7 0.5l0.2 0.5l0.0 1.1l-0.5 0.6l-0.5 0.3zM530.5 360.0l-0.5 0.2l-2.0 0.3l-1.0 -0.4l-0.4 -0.6l-0.3 -1.0l0.1 -1.5l0.4 -1.0l0.7 -0.7l1.0 -0.5l1.0 0.0l1.0 0.4l0.7 0.8l0.5 1.5l0.1 1.0l-0.5 1.0l-0.8 0.5zM326.5 365.6l-0.5 0.1l-0.5 -0.2l-0.7 -1.0l-0.0 -1.0l0.5 -1.0l-0.9 -1.5l-0.1 -1.0l0.1 -1.0l0.6 -0.8l1.5 -0.7l0.5 0.0l1.5 1.0l0.5 1.5l-0.5 1.4l-0.9 1.1l-0.0 0.5l0.3 1.0l-0.1 0.5l-0.3 0.6l-1.0 0.5zM534.5 365.6l-1.5 0.3l-1.0 -0.2l-0.5 -0.3l-1.1 -1.4l-0.2 -1.5l0.8 -2.2l1.0 -0.6l1.3 -0.2l0.3 -0.5l1.4 -0.9l1.0 -0.2l1.0 0.5l0.5 0.6l0.1 0.5l-0.1 1.0l-0.5 0.9l-0.7 0.6l-0.3 0.5l-0.5 2.0l-1.0 1.1zM524.0 365.5l-1.0 0.0l-1.0 -0.4l-0.6 -0.6l-0.4 -0.8l-0.1 -0.7l0.3 -1.0l0.3 -0.6l1.0 -0.8l2.0 -0.1l0.5 0.1l0.6 0.4l0.6 1.5l-0.8 2.0l-0.9 0.9l-0.5 0.1zM119.0 363.5l-1.0 0.5l-1.0 -0.5l-0.2 -1.0l0.2 -0.6l0.5 -0.4l0.5 -0.1l0.5 0.1l0.5 0.4l0.3 0.6l-0.3 1.0zM491.0 363.5l-1.0 0.5l-1.0 -0.5l-0.2 -1.0l0.2 -0.6l0.5 -0.4l1.0 -0.0l0.5 0.4l0.2 0.6l-0.2 1.0zM136.5 368.6l-1.5 0.3l-0.5 -0.2l-1.1 -0.7l-0.4 -0.5l-0.5 -1.5l0.3 -1.0l1.7 -0.7l1.0 -0.1l1.0 0.2l0.7 0.6l0.6 1.0l0.0 1.0l-0.5 1.0l-0.8 0.6zM513.0 369.0l-1.0 0.2l-1.0 -0.2l-1.2 -1.0l-0.3 -1.0l0.1 -1.0l0.4 -0.9l0.8 -0.6l1.2 -0.3l1.0 0.2l0.9 0.6l0.3 0.5l0.3 1.0l-0.1 1.0l-0.6 1.0l-0.8 0.5zM542.5 368.6l-0.7 -0.1l-0.5 -0.5l-0.1 -0.5l0.2 -0.5l0.6 -0.4l0.5 0.1l0.5 0.2l0.3 0.6l-0.3 0.8l-0.5 0.3zM517.0 373.1l-1.0 0.2l-1.0 -0.2l-0.9 -1.1l-0.1 -1.0l0.1 -0.5l0.9 -1.0l1.0 -0.2l1.0 0.2l0.9 1.0l0.1 0.5l-0.1 1.0l-0.9 1.1zM508.0 374.1l-1.0 0.4l-1.0 -0.1l-0.8 -0.4l-0.7 -0.9l-0.2 -1.6l0.2 -0.7l0.7 -0.8l0.8 -0.4l1.0 -0.1l1.0 0.4l0.7 0.6l0.4 1.0l0.0 1.0l-0.4 1.0l-0.7 0.6zM130.5 373.6l-1.0 0.4l-1.2 -0.5l-0.5 -1.0l0.0 -0.5l0.7 -1.0l0.5 -0.3l1.5 0.0l0.5 0.1l0.5 0.4l0.2 0.8l-0.1 0.5l-1.1 1.1zM500.5 380.5l-1.0 0.0l-1.1 -0.5l-0.7 -1.0l-0.2 -1.5l-0.5 -0.5l-1.0 0.2l-1.0 -0.2l-1.0 -0.8l-0.5 -1.1l0.0 -0.8l0.5 -1.2l0.5 -0.5l1.5 -0.4l1.2 0.3l1.0 1.0l0.3 0.8l0.1 1.2l0.4 0.1l1.4 -0.6l0.8 -1.0l1.3 -0.5l1.5 0.4l0.7 0.6l0.3 0.5l0.2 1.0l-0.2 0.9l-0.3 0.6l-0.5 0.5l-1.2 0.4l-0.7 0.6l-0.8 1.0l-1.0 0.5zM140.0 383.7l-1.0 0.3l-1.0 -0.5l-0.6 -1.0l0.1 -1.0l1.0 -0.9l1.0 -0.1l0.5 0.3l0.6 -0.8l0.4 -1.1l0.7 -0.9l1.3 -0.4l1.0 0.3l0.6 -0.4l0.9 -0.9l0.6 -1.1l0.3 -1.5l0.6 -0.7l1.0 -0.4l3.0 -0.3l1.0 0.3l0.8 0.6l0.5 1.0l0.1 1.0l-0.4 1.0l-0.5 0.6l-0.8 0.4l-1.7 0.1l-0.9 0.4l-0.1 1.0l-0.3 0.5l-0.4 0.5l-0.8 0.5l-1.0 0.0l-0.5 -0.2l-1.0 0.5l-0.6 0.7l-0.9 0.5l-0.8 0.0l-0.7 -0.2l-1.0 0.1l-0.2 0.1l-0.2 1.0l-0.6 0.7zM321.0 387.7l-1.4 -0.2l-0.9 -0.5l-0.4 -0.5l-0.3 -1.0l0.8 -2.0l-0.8 -1.2l-0.1 -1.3l0.5 -1.0l0.6 -0.5l0.0 -0.5l-0.5 -0.9l-0.1 -0.6l0.1 -0.6l0.5 -0.9l1.3 -1.0l0.9 -1.0l1.3 -0.8l0.5 -0.0l1.0 0.6l0.6 1.2l0.3 1.0l-0.3 1.0l-0.7 1.0l0.5 2.0l-0.2 1.0l-0.5 1.0l0.5 1.5l0.0 1.0l-0.2 0.7l-0.7 0.8l-2.3 1.7zM527.5 378.5l-1.5 0.4l-1.0 -0.2l-0.8 -0.7l-0.5 -1.0l0.1 -1.0l0.6 -1.0l0.6 -0.5l1.0 -0.2l1.0 0.1l1.2 1.1l0.2 1.0l-0.1 1.0l-0.8 1.0zM459.0 377.5l-1.0 0.5l-1.0 -0.5l-0.2 -1.0l0.2 -0.6l0.5 -0.4l1.0 -0.0l0.5 0.4l0.2 0.6l-0.2 1.0zM172.0 378.5l-1.0 -0.4l-0.4 -0.6l-0.1 -0.5l0.5 -1.1l1.0 -0.4l1.0 0.4l0.5 1.1l-0.1 0.5l-0.4 0.6l-1.0 0.4zM184.0 381.5l-1.5 -0.4l-0.8 -0.6l-0.3 -0.5l-0.2 -1.5l0.3 -1.0l0.4 -0.5l0.6 -0.4l1.0 0.0l1.0 0.5l0.5 0.3l0.6 1.1l0.1 0.5l-0.3 1.5l-0.4 0.6l-1.0 0.4zM492.0 382.1l-1.0 0.4l-1.0 -0.1l-0.8 -0.4l-0.7 -0.9l-0.2 -1.6l0.2 -0.7l0.7 -0.8l0.8 -0.4l1.0 -0.1l1.0 0.4l0.7 0.6l0.4 1.0l0.0 1.0l-0.4 1.0l-0.7 0.6zM163.5 384.6l-1.0 0.1l-1.0 -0.2l-1.0 -0.8l-0.3 -0.7l-0.2 -1.0l0.4 -1.0l1.1 -1.1l1.0 -0.2l1.0 0.1l1.0 0.7l0.5 0.8l0.1 0.7l-0.1 1.1l-0.6 0.9l-0.9 0.6zM476.5 386.6l-1.0 0.3l-1.5 -0.4l-0.5 -0.5l-1.0 -1.7l-1.5 -0.8l-0.2 -1.0l0.2 -0.5l0.5 -0.5l1.0 0.0l1.0 0.9l2.5 0.2l1.0 0.7l1.1 -2.3l0.9 -0.6l1.0 -0.2l1.0 0.2l0.9 0.6l1.1 2.1l1.0 -1.2l1.5 -0.4l1.3 0.5l0.8 1.0l0.2 1.0l-0.3 1.2l-0.7 0.8l-0.8 0.4l-1.0 0.1l-1.2 -0.5l-0.8 -1.0l-0.5 -1.2l-1.0 1.0l-1.0 0.4l-1.0 -0.0l-1.5 -0.6l-0.5 0.4l-0.4 1.0l-0.6 0.6zM443.0 385.2l-1.5 -0.0l-0.5 -0.2l-0.7 -1.0l-0.1 -1.5l0.7 -1.0l0.6 -0.3l1.0 -0.2l0.5 0.1l0.6 0.4l0.7 1.0l0.1 1.0l-0.2 0.5l-0.2 0.5l-1.0 0.7zM449.5 383.5l-1.0 0.0l-0.5 -0.5l0.0 -0.7l0.5 -0.5l0.5 -0.1l0.7 0.3l0.3 0.5l-0.1 0.5l-0.4 0.5zM506.0 385.7l-0.5 0.2l-0.5 0.0l-0.7 -0.4l-0.2 -0.5l-0.1 -0.5l0.3 -0.5l0.6 -0.5l0.8 -0.0l0.8 0.8l-0.0 0.8l-0.5 0.6zM198.0 388.1l-1.0 0.2l-1.0 -0.3l-0.6 -0.5l-0.4 -0.7l0.0 -1.4l0.5 -0.9l0.9 -0.5l1.4 -0.0l0.7 0.4l0.5 0.6l0.3 1.0l-0.2 1.0l-0.3 0.5l-0.8 0.6zM154.0 392.5l-1.5 -0.5l-0.5 -0.5l-0.5 -1.5l0.5 -1.5l0.5 -0.5l1.0 -0.4l1.5 0.1l0.3 -0.2l0.2 -1.3l0.4 -0.7l1.1 -0.9l1.5 -0.1l1.0 0.5l0.5 0.6l0.3 0.9l-0.0 1.0l-0.3 0.7l-1.0 0.9l-1.0 0.3l-1.0 -0.2l-0.5 0.3l-0.1 1.0l-0.4 1.0l-0.5 0.5l-1.5 0.5zM179.5 396.1l-1.2 -0.1l-0.8 -0.5l-0.5 -0.6l-0.2 -0.9l0.2 -1.0l0.5 -1.0l-2.0 -0.4l-0.7 -0.6l-1.8 -3.3l0.0 -1.5l0.4 -0.7l0.6 -0.5l1.0 -0.2l1.2 0.2l2.8 3.0l0.3 1.5l-0.9 2.0l1.6 0.5l0.5 0.3l0.5 0.7l0.2 1.0l-0.2 0.9l-0.5 0.6l-1.0 0.6zM166.5 389.5l-1.5 0.0l-1.0 -0.8l-0.3 -1.2l0.3 -0.9l0.6 -0.6l0.9 -0.3l1.0 0.1l1.0 1.0l0.2 0.7l-0.2 1.0l-1.0 1.0zM472.0 390.1l-1.0 0.4l-1.0 -0.1l-0.8 -0.4l-0.9 -1.0l-0.2 -0.5l0.3 -1.5l0.8 -1.0l0.8 -0.4l1.0 -0.1l1.0 0.4l0.7 0.6l0.4 1.0l0.0 1.0l-0.4 1.0l-0.7 0.6zM426.0 389.5l-1.0 0.0l-1.0 -0.6l-0.3 -0.9l0.0 -0.5l0.3 -0.6l0.5 -0.5l1.0 -0.2l0.5 0.1l0.5 0.2l0.5 0.7l0.0 1.3l-1.0 1.0zM142.0 389.0l-1.0 0.3l-1.0 -0.3l-0.3 -1.0l0.3 -0.8l0.5 -0.4l0.5 -0.1l1.0 0.3l0.4 1.0l-0.4 1.0zM464.0 395.5l-1.4 -0.5l-0.7 -1.0l-0.4 -0.3l-0.5 -0.1l-1.5 0.1l-1.0 -0.4l-0.5 -0.5l-0.4 -0.8l-0.1 -1.2l0.7 -1.3l0.8 -0.6l1.0 -0.1l1.0 0.1l0.5 0.4l1.5 1.8l0.1 -0.6l-0.2 -0.5l-0.0 -1.0l0.1 -0.7l0.5 -0.7l1.0 -0.7l1.5 0.0l1.0 0.6l0.9 1.0l-0.2 1.5l-0.2 0.5l-1.4 1.5l0.1 1.5l-0.3 1.0l-0.9 0.7l-1.0 0.3zM319.0 403.8l-1.8 -0.3l-0.7 -0.4l-0.5 -0.7l-0.1 -0.9l0.1 -0.8l0.9 -1.2l-0.7 -1.5l0.0 -1.0l0.3 -0.7l1.0 -1.0l0.1 -0.3l-0.6 -1.5l0.5 -1.2l2.3 -2.3l1.2 -0.6l0.5 -0.0l1.0 0.6l0.6 1.0l0.2 1.0l-0.2 1.0l-0.7 1.0l-0.1 0.5l0.4 1.0l-0.0 1.0l-0.2 0.5l-0.6 1.0l0.5 1.5l-0.0 1.0l-0.9 1.6l-2.5 1.7zM217.5 394.6l-1.0 0.2l-1.5 -0.5l-2.5 0.6l-1.0 -0.3l-0.7 -0.6l-0.5 -1.0l-0.1 -1.0l0.3 -0.8l0.5 -0.7l0.9 -0.5l1.1 -0.1l1.0 0.4l1.5 1.2l1.7 0.0l0.8 0.6l0.3 0.9l-0.2 1.0l-0.6 0.6zM486.0 392.6l-0.5 -0.1l-0.5 -0.4l-0.2 -0.6l0.2 -1.0l1.0 -0.5l1.0 0.5l0.2 1.0l-0.2 0.6l-0.5 0.4l-0.5 0.1zM173.0 402.5l-1.0 0.2l-1.1 -0.2l-0.9 -0.8l-1.0 -1.5l-1.5 -0.4l-0.5 -0.4l-0.5 -0.9l0.0 -1.4l0.5 -0.9l0.9 -0.7l1.6 -0.3l0.2 -0.2l-0.2 -1.5l0.4 -1.0l0.6 -0.6l1.0 -0.5l1.2 0.1l0.8 0.4l0.6 0.6l0.4 1.0l-0.1 1.0l-0.5 1.0l-0.9 0.6l-1.5 0.3l-0.3 0.6l0.8 0.7l1.5 0.4l0.5 0.5l0.4 0.9l-0.0 1.5l-0.6 1.0l-0.8 0.5zM411.5 393.8l-0.5 0.2l-0.5 -0.1l-0.6 -0.4l-0.2 -1.0l0.2 -0.5l0.6 -0.5l0.8 0.0l0.7 0.5l0.1 1.0l-0.6 0.8zM457.5 403.1l-1.0 0.1l-0.7 -0.2l-1.0 -1.0l-0.2 -1.0l0.1 -0.5l0.3 -0.8l0.8 -0.7l-0.0 -0.5l-0.8 -0.7l-0.6 0.2l-0.4 0.8l-0.8 0.7l-1.7 0.2l-0.7 -0.2l-0.8 -0.7l-0.4 -0.8l-0.1 -1.0l-0.5 -0.6l-0.5 0.2l-0.2 0.4l-0.2 1.5l-0.7 1.0l-0.7 0.5l-0.7 0.2l-1.7 -0.2l-1.1 -1.0l-0.5 -1.5l-0.1 -1.5l0.4 -1.2l0.6 -0.8l0.9 -0.5l1.0 -0.2l1.2 -1.3l1.3 -0.5l1.0 0.1l1.0 0.6l0.5 0.8l0.2 1.5l0.3 0.5l1.5 -0.1l1.5 0.5l1.0 -1.2l1.0 -0.6l1.0 -0.1l1.0 0.4l1.0 1.1l0.2 1.0l-0.2 1.0l-1.3 1.5l0.1 0.5l0.7 0.6l0.5 1.4l-0.5 1.4l-1.0 0.7zM192.5 397.1l-1.5 0.1l-0.6 -0.2l-0.9 -0.7l-0.5 -1.3l0.1 -1.0l0.6 -1.0l0.8 -0.6l1.0 -0.2l1.0 0.1l1.0 0.7l0.5 0.8l0.1 0.7l-0.1 1.1l-0.6 0.9l-0.9 0.6zM156.5 398.0l-1.0 -0.1l-0.7 -0.4l-0.8 -1.0l-0.2 -0.5l0.0 -1.0l0.5 -1.0l0.7 -0.7l1.0 -0.4l1.0 0.1l1.0 0.6l0.6 0.9l0.2 1.0l-0.2 1.0l-0.6 0.8l-1.5 0.7zM227.5 399.1l-1.0 0.1l-1.0 -0.2l-0.5 -0.5l-0.5 -1.0l0.0 -0.7l0.3 -0.8l0.4 -0.5l0.8 -0.5l1.5 -0.0l1.0 0.8l0.3 0.7l0.1 0.5l-0.2 1.0l-0.3 0.5l-0.9 0.6zM442.0 408.6l-1.5 0.0l-1.1 -0.6l-0.4 -0.5l-0.2 -1.0l0.2 -1.5l-0.5 -0.4l-1.0 -0.1l-1.0 -0.7l-0.5 -0.8l-0.2 -1.5l-0.3 -0.4l-0.5 0.1l-1.0 1.0l-1.0 0.4l-1.5 -0.0l-1.0 -0.6l-0.5 -0.8l-0.2 -1.2l0.2 -1.0l0.5 -0.8l1.3 -0.7l1.7 -0.2l1.0 -0.9l1.0 -0.4l1.0 -0.0l1.1 0.5l0.7 1.0l0.5 1.5l1.2 0.5l1.0 1.2l0.2 1.3l-0.2 1.5l1.9 1.0l0.6 0.8l0.1 1.2l-0.1 0.7l-0.5 0.8l-1.0 0.6zM188.5 400.6l-1.0 0.1l-1.0 -0.2l-0.5 -0.5l-0.5 -1.0l0.0 -0.7l0.3 -0.8l0.4 -0.5l0.8 -0.5l1.5 -0.0l1.0 0.8l0.3 0.7l0.1 0.5l-0.2 1.0l-0.3 0.5l-0.9 0.6zM467.5 399.7l-1.0 0.3l-0.8 -0.5l-0.2 -0.5l-0.1 -0.5l0.6 -0.8l1.0 -0.2l0.7 0.5l0.3 0.5l-0.1 0.5l-0.4 0.7zM207.5 402.6l-1.0 0.2l-1.0 -0.2l-0.5 -0.3l-0.7 -0.8l-0.4 -1.0l0.1 -0.9l0.5 -1.0l0.7 -0.6l0.8 -0.3l1.0 0.0l1.0 0.5l0.7 0.8l0.4 1.0l-0.2 1.0l-0.6 1.0l-0.8 0.6zM401.5 399.5l-0.6 -0.5l0.0 -0.5l0.6 -0.5l0.5 0.2l0.2 0.3l0.1 0.5l-0.3 0.4l-0.5 0.1zM187.0 407.7l-1.0 0.2l-1.0 -0.3l-1.0 -1.1l-0.1 -1.0l-1.9 -0.7l-1.0 -0.7l-0.5 -1.1l-0.0 -1.0l0.4 -1.0l0.5 -0.5l1.0 -0.5l0.6 -0.1l0.6 0.1l0.9 0.4l0.8 1.1l0.4 1.5l0.3 0.5l1.0 0.2l1.0 0.8l0.3 1.0l-0.2 1.0l-0.6 0.9l-0.5 0.3zM241.0 403.6l-1.5 0.1l-1.0 -0.7l-0.4 -1.0l0.0 -0.5l0.4 -0.9l0.7 -0.6l0.8 -0.2l1.0 0.2l1.0 1.0l0.0 1.5l-1.0 1.1zM346.5 405.1l-1.0 0.3l-0.5 -0.1l-1.0 -0.7l-0.2 -1.1l0.2 -0.7l0.5 -0.5l0.7 -0.3l0.8 0.0l1.0 0.8l0.2 1.2l-0.2 0.6l-0.5 0.5zM426.5 412.5l-1.0 -0.1l-1.0 -0.6l-0.6 -0.8l-0.3 -1.5l0.3 -1.0l0.6 -0.8l1.6 -0.7l-0.0 -0.5l-0.6 -0.8l-0.2 -0.7l-0.0 -1.0l0.4 -1.0l1.1 -1.0l1.7 -0.2l1.0 0.3l0.8 0.9l0.4 1.0l0.0 1.0l-0.2 0.7l-0.6 0.8l-0.6 0.5l-1.1 0.5l1.0 1.5l-0.2 1.5l-1.0 1.4l-1.5 0.6zM448.0 404.6l-1.0 0.1l-0.6 -0.2l-0.5 -0.5l-0.2 -1.0l0.3 -0.8l0.5 -0.4l1.0 -0.2l0.9 0.4l0.3 0.5l0.2 1.0l-0.4 0.7l-0.5 0.4zM195.5 409.6l-1.0 0.1l-1.0 -0.2l-1.0 -1.0l-0.2 -1.0l0.1 -1.0l0.6 -1.0l0.5 -0.4l1.0 -0.3l1.0 0.1l0.5 -0.1l1.0 -1.2l1.0 -0.4l1.0 -0.1l1.0 0.4l0.5 0.3l0.5 -0.0l0.7 -0.8l1.3 -0.6l1.0 0.1l0.5 0.2l1.0 1.0l0.2 0.8l-0.0 1.0l-0.2 0.5l-0.9 1.0l-1.6 0.3l-1.0 -0.3l-0.5 -0.4l-0.5 0.2l-1.2 1.2l-1.3 0.2l-1.0 -0.1l-0.6 0.4l-0.9 0.9l-0.5 0.2zM417.5 417.1l-1.0 0.2l-1.5 -0.2l-1.0 -0.5l-0.5 0.0l-2.0 -0.5l-1.5 -0.6l-0.5 -0.4l-0.5 -0.8l-0.2 -0.8l0.3 -1.5l1.5 -1.5l-0.2 -2.0l0.6 -1.4l0.7 -0.6l0.8 -0.3l1.0 -0.1l1.0 0.4l0.5 -0.5l-0.0 -1.4l0.5 -0.9l0.9 -0.7l1.1 -0.2l1.1 0.2l0.9 0.7l0.5 0.9l-0.0 1.5l-0.9 1.4l-1.1 0.4l-1.0 0.0l-1.0 -0.3l-0.2 0.4l0.1 1.0l-0.4 1.3l-1.8 1.7l0.8 2.0l2.0 -0.4l1.0 0.2l0.5 0.4l0.5 1.3l-0.3 1.0l-0.7 0.6zM219.0 418.2l-1.0 0.2l-1.0 -0.2l-1.0 -0.6l-1.0 -1.4l-0.5 -0.2l-0.6 0.5l-0.9 0.2l-1.5 -0.2l-1.0 -1.0l-0.2 -1.5l0.2 -0.8l0.5 -0.7l1.0 -0.6l1.6 0.1l0.8 0.5l0.6 0.7l0.5 0.1l1.4 -0.8l-2.0 -0.5l-0.9 -0.7l-0.5 -0.7l-0.1 -0.6l0.1 -1.3l1.0 -1.2l1.0 -0.4l1.5 -0.3l0.4 -0.3l-0.1 -1.5l0.6 -1.0l0.6 -0.5l1.5 -0.2l0.9 0.2l0.6 0.5l0.5 0.8l0.1 0.7l-0.0 1.0l-0.6 0.9l-1.5 0.9l-0.1 1.7l0.6 0.7l1.1 -0.2l1.1 0.5l0.7 1.0l0.1 1.0l-0.4 1.0l-0.5 0.5l-0.6 0.3l-1.0 0.1l-0.4 0.6l-0.1 1.1l-0.5 0.9l-1.0 0.7zM255.0 407.2l-1.0 0.2l-1.0 -0.4l-0.3 -0.5l-0.2 -1.1l0.4 -0.9l0.6 -0.4l1.1 -0.1l0.9 0.5l0.3 0.5l0.1 1.0l-0.4 0.8l-0.5 0.4zM323.0 429.5l-1.1 -0.0l-0.7 -0.5l-0.3 -1.0l-2.4 -1.0l-0.5 -0.9l-0.1 -0.6l0.3 -1.0l0.8 -1.0l-0.0 -0.5l-0.6 -1.0l0.0 -1.0l0.6 -1.0l0.5 -0.4l0.3 -0.6l-0.4 -1.0l0.0 -1.0l0.8 -1.5l-0.8 -1.5l-0.0 -1.0l0.5 -1.0l-0.2 -0.5l-1.2 -0.8l-0.5 -1.2l0.5 -1.3l1.4 -1.2l0.6 -1.2l1.0 -0.5l1.7 0.7l0.8 0.8l0.3 1.2l-0.2 1.0l0.1 0.5l1.4 1.0l0.7 1.0l0.1 0.5l-0.1 0.5l-1.1 1.5l1.1 1.5l-0.0 1.0l-1.7 2.0l0.2 1.0l0.0 1.0l-0.3 0.8l-0.6 0.7l-0.0 0.5l0.5 1.5l-0.3 1.0l-0.7 1.5l0.6 1.0l0.0 1.0l-0.2 0.5l-0.8 0.5zM310.5 409.0l-1.0 -0.5l-0.4 -1.0l0.4 -1.0l1.0 -0.5l0.5 0.1l0.7 0.4l0.3 0.5l0.1 0.5l-0.1 0.5l-0.3 0.5l-0.7 0.4l-0.5 0.1zM395.0 423.5l-1.5 -0.5l-0.5 -0.5l-0.5 -1.5l0.9 -2.5l0.2 -1.5l1.2 -1.5l0.2 -0.5l-0.2 -1.5l0.2 -1.0l0.9 -1.0l0.6 -0.3l1.0 -0.2l1.0 0.2l0.4 -0.2l0.1 -1.3l0.5 -1.2l0.5 -0.5l2.0 -1.0l1.0 -1.0l1.0 -0.2l1.0 0.2l1.0 1.0l0.2 1.0l-0.2 1.0l-1.0 1.0l-1.0 2.0l-0.5 0.5l-1.0 0.6l-2.0 -0.1l-0.3 0.5l-0.2 1.5l-1.4 1.5l-0.0 0.5l0.4 0.5l1.5 -0.0l0.7 0.5l0.3 0.5l0.0 1.1l-0.5 0.6l-0.5 0.3l-1.0 0.0l-1.0 -0.6l-0.5 0.1l-0.4 0.5l-0.6 2.0l-0.5 0.5l-1.5 0.5zM235.5 411.2l-1.0 0.2l-1.0 -0.3l-1.1 -1.1l-0.4 -1.0l0.2 -1.0l0.3 -0.6l1.0 -0.9l1.0 -0.2l1.2 0.2l0.8 0.6l0.5 0.8l0.1 1.1l-0.1 0.7l-0.5 0.9l-1.0 0.6zM345.5 414.6l-1.0 0.3l-1.5 -0.3l-0.7 -0.6l-0.5 -1.0l0.1 -4.0l0.6 -1.0l1.0 -0.6l1.7 0.1l0.8 0.5l0.7 1.0l0.1 1.0l-0.0 3.0l-0.5 1.0l-0.8 0.6zM207.5 411.0l-1.0 0.3l-0.5 -0.1l-0.5 -0.2l-0.5 -0.5l-0.2 -1.0l0.1 -0.5l0.6 -0.8l0.5 -0.3l1.0 0.0l1.0 0.8l0.2 1.3l-0.2 0.5l-0.5 0.5zM269.0 411.2l-1.0 0.1l-0.7 -0.3l-0.5 -0.5l-0.2 -1.0l0.1 -0.5l0.3 -0.5l0.6 -0.5l1.4 0.0l0.9 1.0l0.1 1.0l-0.5 0.9l-0.5 0.3zM250.0 413.6l-1.0 0.0l-1.0 -0.5l-0.6 -0.6l-0.4 -1.0l0.1 -1.0l0.4 -0.8l0.8 -0.7l0.7 -0.2l1.0 -0.0l1.0 0.4l0.7 0.8l0.3 1.0l-0.2 1.0l-0.3 0.6l-1.0 0.9l-0.5 0.1zM433.5 413.0l-1.5 -0.0l-1.0 -0.9l-0.4 -1.6l0.4 -1.0l0.5 -0.4l0.5 -0.2l1.0 0.1l1.0 0.4l0.6 0.6l0.2 1.0l-0.2 1.0l-0.3 0.5l-0.8 0.5zM201.0 414.1l-1.0 0.1l-0.8 -0.2l-0.6 -0.5l-0.4 -0.5l-0.2 -0.7l0.0 -0.8l0.5 -0.9l0.7 -0.6l0.8 -0.1l1.0 0.1l0.8 0.5l0.4 0.5l0.2 1.0l-0.2 1.0l-0.4 0.5l-0.8 0.6zM219.1 412.5l-0.6 -0.5l-0.7 0.5l0.7 0.2l0.6 -0.2zM230.0 421.0l-1.5 0.1l-1.0 -0.6l-0.5 -0.8l-0.1 -1.2l0.6 -1.1l1.3 -0.9l-0.6 -2.0l0.3 -1.6l1.0 -0.9l1.5 -0.3l0.8 0.3l0.7 0.5l0.6 1.0l0.1 1.0l-0.2 0.9l-0.4 0.6l-0.6 0.5l-1.0 0.5l-0.3 0.5l0.5 1.0l0.0 1.0l-0.5 1.0l-0.7 0.5zM381.0 426.1l-1.0 0.2l-1.0 -0.2l-0.8 -0.6l-0.3 -0.5l-0.2 -1.5l0.7 -2.0l0.1 -1.3l1.0 -1.5l0.7 -2.2l1.1 -1.0l1.2 -0.3l0.2 -0.2l0.3 -1.3l0.5 -0.9l1.0 -1.0l0.5 -0.2l1.5 0.1l0.9 0.8l0.5 1.0l0.2 1.0l-0.1 0.7l-0.8 1.3l-1.7 0.7l-0.2 0.3l-0.2 1.5l-1.5 2.0l-0.0 1.0l-0.8 1.5l-0.2 1.0l-0.8 1.0l-0.8 0.6zM265.5 417.0l-1.5 0.2l-0.7 -0.2l-0.8 -0.8l-0.3 -0.7l0.1 -1.0l0.6 -1.0l0.6 -0.5l1.0 -0.1l0.6 0.1l0.8 0.5l0.6 0.8l-0.0 1.5l-0.4 0.7l-0.6 0.5zM250.0 425.5l-1.0 0.4l-1.0 -0.1l-0.6 -0.3l-0.9 -1.0l-1.5 0.1l-1.1 -0.1l-0.8 -0.5l-0.6 -0.8l-0.2 -1.2l0.2 -1.0l1.2 -1.5l-0.7 -1.5l0.0 -1.2l0.5 -1.0l1.0 -0.8l1.0 -0.2l0.9 0.2l1.2 1.0l0.4 1.0l0.0 1.0l-0.5 1.0l-0.9 1.0l0.9 1.4l0.5 0.2l1.0 -0.1l0.5 0.1l1.1 0.9l0.3 1.5l-0.4 1.0l-0.5 0.5zM364.5 428.6l-0.5 0.1l-0.8 -0.2l-0.3 -0.5l-0.1 -0.5l0.7 -2.0l1.1 -1.5l0.5 -0.5l0.9 -0.3l0.1 -0.2l-0.6 -2.0l0.4 -1.5l0.6 -0.8l1.0 -0.6l0.4 -0.6l0.1 -0.7l0.4 -0.8l0.6 -0.6l1.5 -0.7l1.0 0.0l0.5 0.3l0.6 0.5l0.5 1.0l-0.1 1.5l-0.4 1.0l-1.1 0.8l-0.4 0.7l-0.3 1.5l-0.8 1.0l-2.6 1.0l0.3 1.0l-0.2 0.8l-1.5 1.7l-0.9 0.5l-0.6 0.6zM236.0 421.1l-1.0 0.4l-1.0 -0.1l-0.9 -0.4l-0.6 -0.6l-0.3 -0.9l-0.0 -1.0l0.3 -0.8l0.6 -0.7l0.9 -0.4l1.0 -0.0l1.0 0.4l0.6 0.5l0.4 0.9l0.0 1.1l-0.4 1.0l-0.6 0.6zM263.0 427.6l-1.0 0.2l-1.3 -0.3l-1.7 -1.6l-1.5 -0.5l-0.6 -0.9l-0.1 -1.5l0.9 -1.5l0.3 -1.7l0.5 -0.9l1.0 -0.7l1.0 -0.2l1.0 0.3l0.5 0.3l0.7 0.9l0.2 1.5l-0.6 1.5l1.7 1.2l0.6 1.3l-0.1 1.0l-0.5 0.9l-1.0 0.7zM355.5 427.7l-1.0 0.1l-0.6 -0.3l-0.5 -0.5l-0.2 -1.0l-0.7 -0.5l-1.2 -1.5l-0.2 -1.0l0.4 -1.4l0.5 -0.6l1.0 -0.5l1.0 -0.0l0.5 0.2l2.0 1.1l1.0 0.2l1.0 1.0l0.2 1.0l-0.2 1.0l-1.5 1.7l-1.5 1.0zM276.0 429.7l-1.0 0.1l-0.8 -0.3l-0.7 -0.6l-0.4 -0.9l-0.2 -4.0l0.2 -0.5l0.9 -0.6l1.0 -0.0l0.9 0.6l0.5 1.5l1.0 2.0l0.1 1.0l-0.2 0.5l-0.3 0.6l-1.0 0.6zM339.5 427.2l-1.5 -0.0l-0.9 -0.7l-0.3 -0.5l-0.1 -1.5l0.3 -0.5l1.0 -0.8l1.5 -0.0l1.0 0.8l0.2 0.5l0.1 1.0l-0.1 0.5l-0.3 0.5l-0.9 0.7zM309.0 427.6l-1.5 -0.1l-0.8 -1.0l-0.1 -0.5l0.2 -1.0l0.4 -0.5l0.8 -0.4l1.0 0.1l1.0 0.8l0.2 1.0l-0.2 0.8l-1.0 0.8z" fill="#ffc000"/>
<path d="M545.0 348.8l-1.0 -0.1l-0.5 -0.5l-0.3 -0.7l-0.0 -0.5l0.5 -1.0l1.3 -0.4l1.0 0.4l0.5 1.0l-0.5 1.3l-1.0 0.5zM548.0 355.8l-1.0 0.0l-0.5 -0.3l-0.4 -1.0l0.4 -1.0l1.0 -0.2l0.9 0.7l0.2 1.0l-0.6 0.8zM132.5 355.6l-0.7 -0.1l-0.4 -0.5l0.1 -0.7l0.5 -0.4l0.8 0.1l0.3 0.5l-0.1 0.7l-0.5 0.4zM327.5 355.7l-0.5 0.2l-0.7 -0.4l-0.1 -0.5l0.3 -0.6l0.5 -0.2l0.7 0.3l0.1 0.5l-0.3 0.7zM530.0 360.2l-2.0 0.2l-1.0 -0.5l-0.2 -0.4l-0.4 -1.0l0.1 -1.5l0.5 -1.1l1.0 -0.8l2.0 0.0l0.6 0.4l0.8 1.0l0.2 1.0l-0.0 1.0l-0.5 1.0l-1.1 0.7zM327.5 362.5l-0.5 0.4l-1.0 0.1l-0.9 -1.0l-0.6 -1.2l-0.1 -0.8l0.1 -0.8l0.4 -0.7l0.6 -0.5l1.5 -0.3l1.0 0.6l0.6 0.7l0.2 1.5l-0.3 0.7l-1.0 1.3zM534.5 365.5l-1.5 0.3l-1.5 -0.5l-1.0 -1.3l-0.2 -1.5l0.3 -1.0l0.5 -1.0l0.9 -0.6l1.5 -0.3l0.4 -0.6l1.1 -0.7l1.0 -0.2l1.0 0.5l0.4 0.9l0.0 0.5l-0.4 1.0l-1.0 0.7l-0.5 2.7l-1.0 1.1zM524.5 365.2l-1.0 0.2l-1.0 -0.1l-1.0 -0.8l-0.3 -0.5l-0.2 -1.0l0.3 -1.0l1.2 -1.2l2.0 -0.2l0.7 0.4l0.5 0.5l0.3 1.0l-0.0 0.5l-0.5 1.2l-1.0 1.0zM118.5 363.2l-0.5 0.2l-0.5 -0.2l-0.2 -0.7l0.2 -0.3l0.5 -0.3l0.5 0.3l0.2 0.3l-0.2 0.7zM327.0 364.5l-0.5 0.3l-0.9 -0.3l-0.1 -0.5l0.1 -0.5l0.9 -0.3l0.5 0.3l0.0 1.0zM136.5 368.5l-1.5 0.3l-0.5 -0.2l-0.9 -0.6l-0.5 -1.0l-0.2 -1.5l0.1 -0.3l2.0 -0.9l1.0 0.1l1.0 0.6l0.5 1.0l0.1 1.0l-0.5 1.0l-0.6 0.5zM512.5 369.0l-1.5 -0.2l-1.0 -0.8l-0.2 -0.5l-0.2 -1.0l0.3 -1.0l1.1 -1.0l1.0 -0.2l1.0 0.2l1.0 0.8l0.3 0.7l0.1 1.0l-0.4 1.0l-0.5 0.5l-1.0 0.5zM507.5 374.2l-1.0 0.1l-1.0 -0.2l-0.9 -1.1l-0.2 -1.0l0.1 -0.7l0.4 -0.8l0.6 -0.5l1.0 -0.2l1.0 0.1l1.0 0.6l0.3 0.5l0.2 0.6l-0.0 0.9l-0.5 1.0l-1.0 0.7zM516.0 373.0l-1.2 -0.5l-0.5 -1.0l0.2 -1.0l0.4 -0.5l1.1 -0.4l1.1 0.4l0.4 0.5l0.2 1.0l-0.5 1.0l-1.2 0.5zM130.0 373.6l-1.0 0.0l-0.7 -0.6l-0.1 -1.0l0.2 -0.5l0.6 -0.6l0.5 0.0l0.5 0.3l0.6 0.8l0.0 1.0l-0.6 0.6zM501.0 380.2l-1.0 0.2l-1.4 -0.4l-0.8 -1.0l-0.3 -1.0l0.1 -0.5l-0.3 -0.5l-0.3 -0.1l-1.5 0.1l-1.1 -0.5l-0.6 -1.0l-0.2 -1.0l0.3 -1.0l0.4 -0.5l0.7 -0.5l0.5 -0.1l1.5 0.1l1.1 1.0l0.3 1.0l-0.1 1.0l0.7 0.3l1.6 -0.8l0.9 -1.0l0.5 -0.2l1.5 0.0l1.0 0.7l0.5 1.0l0.0 0.5l-0.0 0.5l-0.5 1.0l-0.6 0.5l-0.9 0.3l-1.5 1.6l-0.5 0.3zM144.0 381.5l-1.0 0.2l-2.2 -0.2l-0.3 -0.5l0.0 -0.5l0.6 -0.5l-0.0 -0.5l0.4 -1.0l1.0 -0.6l1.0 0.0l0.5 0.2l1.1 -0.6l1.2 -2.0l0.3 -1.5l0.4 -0.5l0.9 -0.5l3.1 -0.3l1.0 0.3l0.7 0.5l0.3 0.5l0.3 1.0l-0.2 1.0l-0.6 0.9l-1.0 0.5l-2.0 0.3l-0.6 0.3l-0.4 1.4l-0.5 0.5l-1.0 0.3l-1.0 -0.2l-1.2 0.5l-0.8 1.0zM321.0 387.5l-1.1 -0.0l-1.4 -1.0l-0.2 -1.0l0.0 -0.5l0.2 -0.5l0.5 -0.5l-0.1 -0.5l-0.9 -1.5l-0.0 -1.0l1.1 -1.5l0.1 -0.5l-0.6 -1.5l0.4 -1.2l2.4 -2.3l1.1 -0.6l0.5 -0.0l1.0 0.6l0.5 1.0l0.2 1.0l-0.2 1.0l-0.7 1.0l0.5 2.0l-0.7 2.5l0.5 1.0l0.0 1.0l-0.1 0.5l-0.8 1.0l-2.2 1.5zM527.0 378.6l-1.0 0.2l-1.0 -0.3l-0.9 -1.0l-0.2 -0.5l0.0 -1.0l0.6 -1.0l0.9 -0.5l1.5 -0.0l1.1 1.0l0.3 1.0l-0.2 1.0l-0.6 0.8l-0.5 0.3zM172.5 378.0l-1.0 0.0l-0.5 -0.5l0.0 -0.9l0.5 -0.5l0.7 -0.1l0.8 0.5l0.0 1.0l-0.5 0.5zM183.5 381.1l-0.5 -0.0l-1.0 -0.5l-0.5 -0.6l-0.1 -0.5l-0.0 -1.0l1.1 -1.4l1.0 -0.1l1.0 0.2l0.5 0.5l0.4 0.8l0.0 1.0l-0.4 0.8l-0.5 0.5l-1.0 0.3zM491.5 382.2l-1.0 0.1l-1.0 -0.2l-0.9 -1.1l-0.2 -1.0l0.1 -0.7l0.4 -0.8l0.6 -0.5l1.0 -0.2l1.0 0.1l1.0 0.6l0.3 0.5l0.2 0.6l-0.0 0.9l-0.5 1.0l-1.0 0.7zM163.5 384.5l-1.0 0.1l-0.8 -0.1l-1.2 -1.0l-0.3 -1.0l0.1 -1.0l0.2 -0.6l1.0 -0.9l1.0 -0.2l1.2 0.2l0.8 0.7l0.5 0.8l-0.1 1.5l-0.4 0.7l-1.0 0.8zM476.0 386.5l-1.5 -0.0l-1.5 -1.6l-0.3 -0.4l-0.0 -1.0l0.4 -0.5l0.4 -0.4l0.7 -0.1l2.1 0.5l0.7 0.7l1.0 -2.4l1.0 -0.8l1.5 -0.2l0.5 0.2l0.7 0.5l0.6 1.0l0.2 1.5l-0.9 1.0l-0.9 0.5l-0.7 0.1l-0.7 -0.1l-1.8 -0.8l-0.3 0.3l-0.2 1.1l-1.0 0.9zM139.5 383.0l-0.5 0.1l-0.5 -0.3l-0.2 -0.8l0.2 -0.5l1.0 -0.1l0.5 0.5l-0.0 0.6l-0.5 0.5zM443.0 385.0l-1.5 -0.0l-1.0 -1.0l-0.1 -1.5l0.6 -0.9l0.5 -0.3l1.0 -0.1l0.5 0.1l0.5 0.3l0.6 0.9l-0.0 1.5l-0.4 0.5l-0.7 0.5zM486.5 386.0l-1.5 0.3l-0.9 -0.3l-0.6 -0.5l-0.5 -1.0l0.0 -1.0l0.5 -1.0l0.6 -0.5l0.9 -0.3l1.0 0.1l0.5 0.2l0.9 1.0l0.2 1.0l-0.1 0.8l-0.4 0.7l-0.6 0.5zM197.5 388.0l-0.9 -0.0l-0.6 -0.3l-0.5 -0.5l-0.3 -0.7l-0.0 -0.5l0.3 -1.0l0.5 -0.5l0.5 -0.3l0.5 -0.0l1.0 0.2l0.5 0.3l0.5 0.8l0.0 1.0l-0.2 0.5l-0.3 0.5l-1.0 0.5zM155.0 392.1l-1.5 0.2l-0.7 -0.3l-0.6 -0.5l-0.3 -0.5l-0.2 -1.0l0.3 -1.2l1.0 -0.9l1.0 -0.2l1.0 0.2l0.5 -0.4l0.3 -1.5l0.7 -1.0l1.5 -0.4l1.2 0.4l0.8 1.0l0.2 1.0l-0.2 1.0l-1.1 1.0l-0.9 0.2l-1.0 -0.1l-0.5 0.2l-0.2 0.2l-0.3 1.7l-1.0 0.9zM178.0 391.8l-2.3 -0.3l-1.1 -1.0l-1.4 -3.5l0.2 -1.0l0.6 -0.7l1.0 -0.4l1.0 0.3l1.5 1.3l1.4 1.5l0.3 1.0l-0.1 1.0l-1.1 1.8zM471.5 390.2l-1.0 0.1l-1.0 -0.2l-0.9 -1.1l-0.2 -0.5l0.1 -1.2l0.4 -0.8l0.6 -0.5l1.0 -0.2l1.0 0.1l1.0 0.6l0.3 0.5l0.2 0.6l-0.0 0.9l-0.5 1.0l-1.0 0.7zM166.5 389.1l-1.0 0.2l-1.0 -0.5l-0.4 -0.8l0.0 -0.5l0.5 -1.0l0.9 -0.4l0.5 0.0l1.0 0.7l0.3 1.2l-0.3 0.7l-0.5 0.4zM426.0 388.6l-0.5 0.2l-0.7 -0.3l-0.3 -0.7l0.5 -0.7l0.6 -0.1l0.6 0.5l0.1 0.5l-0.3 0.6zM465.0 395.0l-1.0 0.2l-1.0 -0.2l-0.5 -0.5l-0.5 -0.9l-2.5 0.0l-1.0 -0.4l-0.6 -0.7l-0.3 -1.0l0.4 -1.5l0.5 -0.6l0.8 -0.4l1.4 -0.0l0.8 0.4l0.5 0.6l1.0 1.6l0.3 -1.1l-0.3 -1.5l0.5 -1.2l0.5 -0.4l1.0 -0.4l1.0 0.1l0.8 0.4l0.7 1.0l0.0 1.5l-1.7 2.5l0.1 1.0l-0.1 0.5l-0.8 1.0zM141.0 389.0l-0.5 -0.1l-0.5 -0.9l0.3 -0.5l0.7 -0.4l0.5 0.1l0.4 0.3l0.1 0.5l-0.1 0.5l-0.9 0.5zM213.5 394.6l-1.0 0.1l-1.0 -0.2l-1.0 -1.2l-0.2 -0.8l0.2 -1.1l0.8 -0.9l0.7 -0.4l1.0 -0.1l1.0 0.4l1.9 1.6l0.1 0.4l0.5 -0.2l0.5 0.1l0.5 0.6l-0.1 0.6l-0.4 0.4l-0.6 0.1l-0.6 -0.5l-0.3 -0.1l-0.2 0.6l-1.8 0.6zM319.0 403.6l-1.5 -0.1l-0.5 -0.3l-0.5 -0.3l-0.5 -0.9l0.0 -1.1l0.9 -1.4l-0.0 -0.5l-0.6 -1.0l0.0 -1.0l0.2 -0.6l1.0 -0.9l0.2 -0.5l-0.4 -1.5l0.2 -1.1l2.5 -2.4l1.0 -0.5l0.5 0.0l0.8 0.5l0.7 1.0l0.2 1.0l-0.2 0.9l-0.7 1.1l-0.1 0.5l0.4 1.0l-0.0 1.0l-0.8 1.5l0.5 1.5l-0.0 1.0l-0.8 1.5l-2.5 1.6zM172.5 402.5l-1.2 -0.0l-0.8 -0.5l-1.5 -1.9l-0.9 -0.1l-0.8 -0.5l-0.4 -0.5l-0.3 -1.0l0.1 -1.0l0.7 -1.0l1.1 -0.5l1.0 -0.1l0.4 -0.4l-0.2 -1.5l0.5 -1.0l0.8 -0.7l1.0 -0.3l1.5 0.6l0.6 0.9l0.2 1.0l-0.2 1.0l-0.6 0.6l-0.5 0.4l-1.5 0.2l-0.4 0.8l0.9 0.8l1.0 0.2l0.5 0.3l0.8 1.2l0.1 1.0l-0.4 1.0l-0.5 0.5l-1.0 0.5zM180.0 395.6l-1.0 0.3l-1.0 -0.3l-0.5 -0.4l-0.3 -0.7l-0.2 -0.5l0.3 -1.0l0.3 -0.5l0.9 -0.5l1.0 0.0l0.9 0.5l0.3 0.5l0.3 1.0l-0.2 0.5l-0.3 0.7l-0.5 0.4zM446.0 400.1l-1.5 -0.1l-1.0 -0.8l-0.5 -0.7l-0.3 -1.0l0.0 -1.5l0.3 -1.0l0.8 -1.0l1.7 -0.7l1.4 -1.3l0.6 -0.3l1.5 0.1l1.0 0.6l0.5 0.9l0.0 1.2l0.5 0.7l1.4 -0.2l1.1 0.5l0.6 -0.0l1.4 -1.5l1.5 -0.3l0.9 0.3l0.6 0.5l0.5 1.0l0.0 0.9l-0.2 0.6l-1.3 1.7l-1.0 0.3l-0.5 -0.3l-1.0 -1.1l-0.8 0.4l-0.7 1.1l-0.7 0.4l-0.8 0.1l-0.8 -0.1l-0.8 -0.5l-0.6 -1.0l-0.3 -1.5l-0.5 -0.3l-0.5 0.2l-0.3 0.6l-0.2 1.5l-0.5 0.7l-1.0 0.8l-0.5 0.1zM192.5 397.0l-1.0 0.1l-0.8 -0.1l-0.8 -0.5l-0.4 -0.5l-0.3 -1.0l0.1 -1.0l0.2 -0.6l1.0 -0.9l1.0 -0.2l1.2 0.2l0.8 0.7l0.5 0.8l-0.1 1.5l-0.4 0.7l-1.0 0.8zM157.5 397.6l-1.5 0.3l-1.0 -0.3l-0.6 -0.6l-0.4 -0.8l-0.0 -1.2l0.4 -1.0l0.6 -0.5l1.0 -0.3l1.0 0.1l0.6 0.2l0.9 1.0l0.2 1.0l-0.2 1.0l-1.0 1.1zM227.0 399.0l-0.8 -0.0l-0.7 -0.4l-0.5 -0.6l-0.2 -0.5l0.1 -1.0l0.2 -0.5l0.5 -0.5l0.9 -0.4l1.0 0.2l0.5 0.3l0.5 0.7l0.1 0.7l-0.1 0.8l-0.4 0.7l-1.1 0.5zM442.0 408.5l-1.5 0.0l-1.0 -0.6l-0.5 -0.8l-0.1 -0.6l0.3 -1.5l-0.7 -0.4l-1.0 -0.2l-1.0 -0.8l-0.5 -0.8l-0.1 -1.3l-0.4 -0.6l-0.5 0.2l-1.0 1.0l-1.0 0.5l-1.5 -0.1l-0.8 -0.5l-0.7 -1.0l-0.1 -0.5l0.1 -1.2l0.5 -0.9l1.0 -0.6l1.5 -0.1l0.5 -0.3l1.2 -0.9l0.8 -0.3l1.0 -0.0l1.0 0.4l0.5 0.6l0.4 1.3l0.3 0.5l1.7 1.0l0.6 0.9l0.1 1.1l-0.3 1.5l0.2 0.4l1.5 0.5l0.9 1.1l0.1 0.5l-0.1 1.0l-0.4 0.8l-1.0 0.7zM188.0 400.5l-0.8 -0.0l-0.7 -0.4l-0.5 -0.6l-0.2 -0.5l0.1 -1.0l0.2 -0.5l0.5 -0.5l0.9 -0.4l1.0 0.2l0.5 0.3l0.5 0.7l0.1 0.7l-0.1 0.8l-0.4 0.7l-1.1 0.5zM207.0 402.6l-1.5 -0.1l-1.0 -0.9l-0.3 -0.6l-0.1 -1.0l0.3 -1.0l1.1 -1.0l1.0 -0.2l1.1 0.2l0.9 0.8l0.3 0.7l0.1 1.0l-0.3 1.0l-0.6 0.6l-1.0 0.5zM458.0 402.5l-1.0 0.4l-0.5 -0.0l-1.0 -0.5l-0.5 -0.7l-0.1 -0.7l0.1 -0.8l0.5 -0.7l1.0 -0.5l0.5 0.0l1.0 0.4l0.5 0.6l0.2 1.5l-0.2 0.5l-0.5 0.5zM186.5 407.6l-1.0 -0.0l-0.5 -0.3l-0.7 -0.8l-0.1 -1.0l-2.6 -1.0l-0.6 -0.6l-0.4 -0.9l0.0 -1.0l0.4 -0.9l0.6 -0.6l1.4 -0.5l1.4 0.5l0.8 1.0l0.4 1.5l0.4 0.8l1.0 0.2l0.6 0.5l0.4 0.7l-0.0 1.0l-0.5 0.9l-1.0 0.5zM241.0 403.1l-1.0 0.3l-1.0 -0.4l-0.5 -0.9l-0.0 -0.6l0.6 -1.0l0.9 -0.3l0.5 0.0l0.6 0.3l0.4 0.4l0.2 1.1l-0.2 0.6l-0.5 0.5zM427.5 412.1l-1.5 0.3l-1.1 -0.4l-0.9 -1.0l-0.3 -1.5l0.3 -1.0l0.5 -0.6l1.7 -0.9l0.1 -0.5l-0.8 -1.0l-0.1 -0.5l0.1 -1.5l1.0 -1.2l0.5 -0.3l1.0 -0.2l1.0 0.2l0.7 0.5l0.8 1.0l0.1 1.0l-0.1 1.0l-0.5 0.7l-0.5 0.5l-1.0 0.4l-0.5 0.4l1.1 1.5l-0.0 1.0l-0.6 1.2l-1.0 0.9zM447.5 404.0l-0.5 -0.0l-0.5 -0.5l0.0 -0.6l0.5 -0.5l0.7 0.1l0.4 0.5l-0.1 0.6l-0.5 0.4zM195.5 409.5l-1.6 -0.0l-0.9 -0.6l-0.5 -0.8l0.0 -1.6l1.0 -1.2l1.0 -0.3l1.0 0.1l0.5 -0.2l1.4 -1.4l0.6 -0.2l1.0 -0.0l1.5 0.7l0.5 0.0l0.9 -1.0l1.1 -0.4l1.5 0.3l1.0 1.1l0.0 1.7l-0.5 0.8l-0.7 0.5l-0.8 0.2l-1.0 -0.1l-1.0 -0.7l-1.9 1.6l-1.1 0.2l-1.0 -0.1l-0.8 0.4l-1.2 1.0zM346.0 404.5l-1.0 0.0l-0.3 -0.5l-0.1 -0.5l0.4 -0.6l0.5 -0.1l0.6 0.2l0.3 0.5l-0.1 0.5l-0.3 0.5zM416.5 417.0l-0.5 -0.1l-1.0 0.1l-0.8 -0.5l-0.2 -0.8l-0.5 -0.2l-1.0 0.7l-1.0 -0.2l-1.2 -0.5l-1.0 -1.0l-0.3 -0.5l-0.1 -1.0l0.6 -1.3l1.0 -0.8l0.2 -0.4l-0.2 -2.0l0.5 -1.2l0.9 -0.8l0.6 -0.2l1.0 -0.0l1.0 0.3l0.5 -0.0l0.0 -1.6l0.5 -1.1l0.5 -0.5l0.9 -0.4l1.1 -0.1l1.0 0.5l0.5 0.6l0.5 1.5l-0.3 1.0l-0.7 0.8l-1.0 0.5l-1.0 -0.0l-1.0 -0.5l-0.2 0.2l-0.2 0.5l0.1 1.0l-0.2 1.1l-0.8 0.9l-0.7 0.4l-0.4 0.6l0.9 2.2l0.5 -0.2l2.0 0.0l1.0 0.9l0.0 1.1l-0.3 0.5l-0.7 0.4l-0.5 0.1zM219.0 418.0l-1.5 0.2l-1.0 -0.4l-1.0 -0.8l-0.5 -1.0l-0.5 -0.2l-1.0 0.7l-1.6 -0.0l-0.8 -0.5l-0.4 -0.5l-0.2 -0.5l-0.1 -1.0l0.1 -0.6l0.5 -0.7l1.3 -0.7l1.2 0.1l0.7 0.4l0.8 0.8l0.5 0.1l1.5 -0.8l0.5 -0.1l1.0 0.2l0.9 -0.2l0.0 -0.5l-0.9 -0.3l-1.0 0.7l-1.5 -0.2l-1.5 -0.6l-0.9 -1.1l-0.1 -1.0l0.2 -1.0l0.8 -1.0l1.0 -0.4l1.5 -0.2l0.5 -0.4l-0.0 -1.5l0.6 -1.0l0.9 -0.6l1.0 -0.0l0.5 0.1l0.8 0.5l0.4 0.5l0.3 1.0l-0.0 0.6l-0.5 1.0l-0.5 0.5l-1.0 0.4l-0.2 0.5l0.2 2.5l1.0 -0.2l1.3 0.2l0.7 0.7l0.2 1.3l-0.2 0.6l-0.5 0.6l-0.5 0.3l-1.0 0.1l-0.5 0.9l-0.1 1.0l-0.4 0.7l-1.0 0.8zM254.5 406.6l-0.5 0.0l-0.5 -0.3l-0.1 -0.8l0.2 -0.5l0.9 -0.1l0.5 0.4l0.1 0.7l-0.6 0.6zM323.0 428.7l-0.5 0.2l-0.5 -0.2l-0.3 -0.7l-1.2 -0.2l-1.5 -0.6l-0.6 -0.7l-0.3 -1.0l0.3 -1.0l0.7 -1.0l0.0 -0.5l-0.6 -1.0l0.0 -0.7l0.3 -0.8l0.7 -0.7l0.4 -0.8l-0.4 -1.0l-0.0 -1.0l0.8 -1.5l-0.8 -1.3l-0.1 -0.7l0.6 -2.0l-1.0 -0.4l-0.5 -0.5l-0.2 -1.1l0.0 -0.5l0.2 -0.5l1.5 -1.5l0.6 -1.0l0.9 -0.3l1.4 0.3l0.7 0.5l0.5 1.0l-0.1 1.5l0.1 0.5l1.4 1.1l0.7 0.9l0.0 0.5l-0.0 0.5l-1.1 1.5l1.0 1.5l0.1 0.5l-0.4 1.0l-1.1 1.0l-0.2 0.5l0.2 2.0l-0.2 0.7l-0.7 0.8l-0.0 0.5l0.4 1.0l-0.0 1.0l-1.2 2.4l-0.6 0.1l0.8 0.5l0.1 0.5l-0.3 0.7zM235.5 411.1l-1.0 0.1l-1.0 -0.2l-1.0 -1.0l-0.3 -1.0l0.1 -1.0l0.6 -1.0l0.8 -0.5l0.8 -0.1l1.0 0.1l1.0 0.8l0.4 0.7l0.1 1.5l-0.6 1.0l-0.9 0.6zM311.0 408.6l-1.0 -0.1l-0.5 -0.5l-0.0 -1.0l0.5 -0.5l1.0 -0.1l0.6 0.6l0.0 1.0l-0.6 0.6zM396.0 423.1l-1.0 0.2l-1.2 -0.3l-0.8 -0.8l-0.3 -1.2l1.1 -4.0l1.1 -1.5l0.2 -0.5l-0.2 -1.5l0.3 -1.0l0.3 -0.5l1.0 -0.6l1.0 -0.2l1.0 0.2l0.5 -0.3l0.2 -1.6l0.5 -1.0l0.5 -0.5l2.1 -1.0l0.5 -0.5l0.7 -0.4l0.5 -0.1l1.0 0.4l0.5 0.4l0.4 0.7l-0.0 1.0l-0.4 0.7l-0.5 0.5l-1.0 2.1l-0.7 0.7l-0.8 0.5l-1.0 0.1l-1.0 -0.2l-0.4 0.6l-0.2 1.5l-1.4 1.5l-0.1 0.5l0.6 0.8l0.4 0.2l0.1 0.4l0.5 -0.2l0.6 0.3l0.2 0.5l-0.2 0.5l-0.6 0.3l-0.5 -0.1l-0.5 -0.8l-0.1 0.6l-0.9 0.4l-0.5 0.6l-0.5 1.7l-1.0 0.9zM345.5 414.5l-1.0 0.3l-1.5 -0.3l-0.6 -0.5l-0.5 -1.0l0.1 -4.0l0.8 -1.0l1.0 -0.5l1.0 -0.0l0.7 0.2l0.5 0.4l0.6 0.9l0.1 1.0l-0.0 3.0l-0.6 1.0l-0.6 0.5zM206.5 410.5l-0.5 -0.2l-0.4 -0.8l0.2 -0.5l0.7 -0.3l0.7 0.3l0.2 0.5l-0.4 0.8l-0.5 0.2zM249.5 413.5l-0.5 -0.0l-1.0 -0.5l-0.7 -1.0l-0.1 -1.0l0.3 -1.0l0.4 -0.5l0.8 -0.5l0.8 -0.1l0.8 0.1l0.8 0.5l0.4 0.5l0.3 1.0l-0.1 1.0l-0.7 1.0l-1.0 0.5l-0.5 0.0zM268.5 410.5l-0.5 -0.0l-0.5 -0.5l0.0 -0.8l0.5 -0.4l0.5 -0.1l0.5 0.3l0.1 1.0l-0.6 0.5zM433.5 412.7l-1.0 0.1l-0.9 -0.3l-0.4 -0.5l-0.4 -1.5l0.2 -0.8l0.5 -0.4l0.5 -0.1l1.5 0.2l1.0 1.0l-0.0 1.3l-0.5 0.7l-0.5 0.3zM201.0 413.8l-1.0 0.2l-0.5 -0.2l-1.0 -0.8l-0.2 -1.5l0.2 -0.5l0.5 -0.5l1.0 -0.4l0.5 0.0l1.0 0.4l0.4 0.5l0.2 1.0l-0.1 0.8l-0.5 0.7l-0.5 0.3zM230.0 420.7l-1.0 0.3l-1.0 -0.4l-0.6 -0.6l-0.2 -1.0l0.2 -1.0l0.5 -0.5l1.2 -0.5l-0.2 -1.0l-0.5 -1.0l-0.1 -1.0l0.2 -0.8l0.5 -0.7l0.5 -0.3l0.5 -0.3l1.0 -0.0l0.6 0.1l0.9 0.6l0.5 0.9l0.1 1.0l-0.1 0.7l-0.5 0.8l-1.5 0.8l-0.7 0.7l0.7 1.0l0.0 1.0l-0.5 0.8l-0.5 0.4zM380.5 426.1l-1.0 0.0l-1.0 -0.5l-0.5 -0.7l-0.2 -0.9l0.8 -3.5l0.4 -1.0l0.5 -0.6l0.5 -1.9l1.0 -1.2l0.5 -0.3l1.0 -0.2l0.3 -0.3l0.7 -2.0l1.0 -1.0l1.0 -0.3l1.0 0.1l0.7 0.7l0.7 1.5l0.1 0.5l-0.3 1.0l-0.7 1.0l-1.5 0.5l-0.3 0.5l-0.2 1.5l-1.5 2.0l-0.3 1.5l-1.0 2.0l-0.7 1.1l-1.0 0.5zM264.5 417.0l-0.6 -0.0l-0.9 -0.5l-0.5 -1.0l-0.0 -0.5l0.0 -0.5l0.5 -0.8l0.5 -0.4l1.0 -0.2l1.0 0.4l0.5 0.5l0.3 1.0l-0.2 1.0l-0.4 0.5l-0.7 0.4l-0.5 0.1zM249.5 425.5l-1.5 0.0l-1.1 -1.0l-0.4 -0.1l-1.5 0.1l-1.0 -0.1l-0.7 -0.4l-0.8 -1.0l-0.1 -1.0l0.1 -0.8l1.3 -1.7l-0.7 -1.5l-0.0 -1.0l0.4 -1.0l1.0 -0.8l0.5 -0.2l1.1 -0.0l0.9 0.5l0.5 0.5l0.4 1.0l-0.0 1.0l-0.4 0.8l-0.7 0.7l-0.3 0.5l0.5 1.0l1.0 0.9l1.5 0.0l1.0 1.0l0.0 1.6l-1.0 1.0zM368.0 423.7l-1.0 0.2l-1.0 -1.3l-0.3 -1.6l0.3 -1.5l0.5 -0.6l1.0 -0.6l0.6 -0.8l0.2 -1.0l0.7 -0.9l1.0 -0.6l1.5 -0.1l0.9 0.6l0.5 1.0l-0.2 2.0l-0.3 0.5l-0.9 0.7l-0.5 0.8l-0.1 1.0l-0.6 1.0l-0.8 0.7l-1.5 0.5zM414.0 415.0l-0.0 0.3l0.0 -0.3zM235.5 421.1l-1.0 0.2l-1.0 -0.3l-1.0 -1.0l-0.2 -1.0l0.2 -1.0l1.0 -1.1l1.0 -0.2l1.0 0.1l0.9 0.7l0.3 0.5l0.2 1.0l-0.2 1.0l-0.3 0.5l-0.9 0.6zM263.0 427.5l-1.0 0.2l-1.1 -0.2l-1.7 -1.5l-0.2 -0.4l-0.9 -0.1l-0.6 -0.5l-0.5 -0.9l0.0 -0.9l0.6 -1.2l0.7 -2.5l0.3 -0.5l0.9 -0.6l1.0 -0.2l1.0 0.2l1.0 1.1l0.2 1.5l-0.5 1.5l1.8 1.3l0.4 1.2l-0.3 1.5l-1.1 1.0zM355.0 427.0l-0.5 -0.1l-0.4 -0.4l-0.1 -0.5l-1.0 -0.2l-1.6 -1.8l-0.2 -1.0l0.2 -1.0l1.1 -1.1l1.0 -0.3l1.4 0.4l1.6 1.0l1.2 0.5l0.7 1.0l-0.0 1.0l-0.8 1.5l-1.1 0.8l-1.5 0.2zM339.5 427.1l-1.5 -0.0l-0.8 -0.6l-0.3 -0.5l-0.0 -1.5l1.1 -1.1l1.5 -0.0l0.8 0.6l0.3 0.5l-0.0 1.5l-0.3 0.5l-0.8 0.6zM275.5 429.5l-0.7 -0.0l-0.9 -0.5l-0.4 -0.7l-0.4 -1.8l0.2 -1.0l0.4 -0.5l-0.1 -0.5l0.2 -0.5l0.7 -0.4l0.5 0.1l0.4 0.8l0.6 0.1l0.5 0.7l0.6 1.7l0.1 1.0l-0.2 0.5l-0.5 0.6l-1.0 0.4zM309.0 427.5l-1.2 -0.0l-0.8 -0.6l-0.2 -1.4l0.2 -0.6l0.5 -0.5l1.0 -0.2l0.5 0.1l0.5 0.3l0.5 0.7l0.0 1.2l-1.0 1.0zM365.5 427.6l-1.0 -0.2l-0.8 -0.9l-0.1 -0.5l0.4 -0.9l2.0 -1.0l0.5 0.2l0.4 0.7l-0.4 0.7l-0.2 1.3l-0.8 0.6z" fill="#ff6000"/>
<path d="M545.0 348.1l-1.0 -0.1l-0.4 -0.5l-0.0 -0.5l0.2 -0.5l0.7 -0.5l1.0 0.2l0.5 0.7l-0.2 0.6l-0.8 0.6zM547.5 355.4l-0.7 -0.4l-0.2 -0.5l0.4 -0.6l0.5 0.2l0.3 0.4l0.1 0.5l-0.4 0.4zM530.0 360.0l-2.0 0.2l-1.0 -0.7l-0.3 -0.5l-0.2 -1.0l0.1 -1.0l0.5 -1.0l0.9 -0.8l2.0 -0.0l1.2 1.3l0.3 1.0l-0.1 1.0l-0.5 1.0l-0.9 0.5zM327.0 362.6l-1.0 -0.0l-0.5 -0.4l-0.9 -2.2l0.4 -1.2l0.5 -0.5l1.0 -0.3l1.4 0.5l0.6 1.0l0.0 1.1l-1.0 1.6l-0.5 0.4zM534.0 365.6l-1.5 0.1l-1.0 -0.5l-0.7 -0.7l-0.3 -0.8l-0.1 -1.2l0.3 -1.0l0.8 -1.0l1.0 -0.4l1.2 -0.1l0.3 -0.6l1.0 -0.7l1.0 -0.2l0.5 0.2l0.5 0.5l0.0 1.3l-1.3 1.0l0.1 1.0l-0.3 1.6l-0.5 0.9l-1.0 0.6zM524.0 365.2l-1.0 0.0l-0.7 -0.2l-0.8 -0.7l-0.3 -0.8l0.1 -1.0l0.2 -0.6l0.5 -0.5l1.0 -0.5l1.5 -0.0l0.9 0.6l0.3 0.5l0.1 1.0l-0.4 1.0l-0.4 0.6l-1.0 0.6zM136.0 368.5l-1.0 0.1l-0.5 -0.2l-0.6 -0.4l-0.5 -1.0l0.1 -1.5l0.5 -0.5l0.9 -0.5l0.8 -0.0l0.8 0.3l0.5 0.5l0.3 0.7l-0.1 1.5l-0.4 0.5l-0.8 0.5zM513.0 368.6l-1.0 0.2l-1.0 -0.2l-1.0 -1.1l-0.0 -1.5l0.7 -1.0l0.8 -0.3l1.0 -0.0l0.8 0.3l0.4 0.5l0.4 1.0l-0.1 1.0l-1.0 1.1zM508.0 373.5l-1.0 0.4l-0.5 0.1l-1.0 -0.4l-0.5 -0.6l-0.2 -1.5l0.6 -1.0l1.1 -0.5l0.5 0.0l1.0 0.5l0.5 0.7l0.1 0.8l-0.1 0.8l-0.5 0.7zM129.5 373.2l-0.5 -0.2l-0.3 -0.5l0.1 -0.5l0.2 -0.3l0.5 -0.0l0.5 0.7l-0.2 0.6l-0.3 0.2zM149.0 377.7l-0.5 0.3l-1.5 -0.1l-0.9 -0.9l0.1 -1.0l0.7 -1.0l0.1 -0.6l0.3 -0.4l1.6 -1.0l0.6 -0.2l1.7 0.2l1.1 0.5l0.4 0.5l0.3 1.0l0.0 0.5l-0.5 1.0l-0.7 0.5l-2.8 0.7zM501.0 380.0l-1.5 0.1l-0.5 -0.1l-0.6 -0.5l-0.5 -1.0l0.1 -1.5l-0.5 -0.6l-1.5 0.4l-1.0 -0.2l-0.5 -0.4l-0.5 -0.8l-0.1 -0.9l0.1 -0.6l0.5 -0.7l0.5 -0.4l1.0 -0.2l1.3 0.4l0.7 0.9l-0.0 1.6l0.5 0.5l1.0 -0.1l1.5 -0.9l0.5 -0.6l1.0 -0.4l0.5 0.0l1.0 0.5l0.6 1.0l-0.1 1.3l-0.5 0.7l-1.0 0.4l-0.3 0.6l-1.7 1.5zM321.0 387.2l-0.5 0.1l-0.5 -0.1l-1.1 -1.2l-0.0 -0.5l0.3 -1.5l-0.3 -1.0l-0.4 -0.5l-0.3 -1.0l0.3 -1.0l0.5 -0.6l0.4 -0.9l-0.5 -1.5l0.1 -0.6l0.6 -0.9l0.3 -0.5l2.0 -1.5l0.6 -0.3l0.5 -0.0l0.7 0.3l0.8 2.0l-0.8 2.0l0.4 2.0l-0.1 0.8l-0.4 0.7l-0.3 1.0l0.5 1.5l-0.2 1.0l-0.8 1.0l-1.8 1.2zM526.5 378.6l-1.0 -0.0l-0.5 -0.3l-0.5 -0.5l-0.3 -0.8l0.0 -1.0l0.3 -0.6l0.5 -0.5l1.0 -0.3l1.0 0.2l0.5 0.4l0.5 0.8l0.1 0.5l-0.1 0.8l-0.4 0.7l-1.1 0.6zM184.0 380.7l-1.0 0.1l-0.5 -0.1l-0.5 -0.4l-0.4 -0.8l-0.1 -0.5l0.5 -1.0l1.0 -0.6l1.4 0.1l0.6 0.5l0.2 0.5l0.0 0.5l-0.2 0.9l-1.0 0.8zM145.5 380.1l-0.5 0.1l-0.9 -0.7l0.0 -1.0l0.4 -0.6l0.8 0.1l0.6 0.5l-0.0 1.0l-0.4 0.6zM492.0 381.5l-1.0 0.4l-0.5 0.1l-1.0 -0.4l-0.5 -0.6l-0.2 -1.5l0.6 -1.0l1.1 -0.5l0.5 0.0l1.0 0.5l0.5 0.7l0.1 0.8l-0.1 0.8l-0.5 0.7zM163.5 384.2l-1.0 0.2l-1.0 -0.3l-1.0 -1.1l0.0 -1.6l0.7 -0.9l0.8 -0.5l1.0 -0.0l0.5 0.2l0.5 0.3l0.7 1.0l0.1 1.0l-0.3 0.9l-1.0 0.8zM481.0 384.6l-1.5 0.2l-1.4 -0.8l-0.2 -1.0l0.1 -1.0l0.7 -1.0l0.8 -0.3l1.0 -0.0l0.8 0.3l0.4 0.5l0.4 1.0l-0.1 1.0l-1.0 1.1zM443.0 384.7l-0.5 0.2l-1.0 -0.2l-0.5 -0.5l-0.3 -0.7l-0.0 -0.5l0.3 -0.8l1.0 -0.7l1.0 0.2l0.5 0.3l0.3 0.5l0.1 1.0l-0.4 0.8l-0.5 0.4zM486.5 385.6l-1.0 0.4l-0.5 -0.0l-1.0 -0.5l-0.5 -0.7l-0.1 -0.8l0.1 -0.8l0.5 -0.7l1.0 -0.4l0.5 -0.0l1.0 0.4l0.5 0.5l0.2 1.5l-0.2 0.6l-0.5 0.5zM474.0 384.7l-0.5 0.1l-0.5 -0.3l-0.1 -0.5l0.1 -0.5l0.4 -0.5l0.6 -0.2l0.5 0.2l0.3 0.5l-0.5 1.0l-0.3 0.2zM155.0 391.7l-1.0 0.3l-1.3 -0.5l-0.4 -0.5l-0.3 -1.0l0.3 -1.0l0.4 -0.5l0.8 -0.4l0.5 -0.1l1.0 0.4l1.0 -0.9l0.0 -1.1l0.5 -0.9l0.9 -0.5l1.1 0.0l0.8 0.5l0.3 0.5l0.2 1.0l-0.3 1.0l-0.4 0.5l-0.6 0.3l-0.5 0.1l-1.0 -0.2l-1.0 0.7l-0.1 1.1l-0.4 0.8l-0.5 0.4zM177.0 391.5l-1.0 -0.1l-0.7 -0.4l-1.3 -2.0l-0.1 -0.5l0.2 -1.0l1.4 -1.3l0.5 -0.1l1.0 0.2l1.5 1.5l0.4 0.7l0.1 1.0l-0.4 1.0l-0.6 0.8l-1.0 0.2zM472.0 389.5l-1.0 0.4l-0.5 0.1l-1.0 -0.4l-0.5 -0.6l-0.2 -1.5l0.6 -1.0l1.1 -0.5l0.5 0.0l1.0 0.5l0.5 0.7l0.1 0.8l-0.1 0.8l-0.5 0.7zM465.5 392.3l-1.0 0.2l-0.4 -0.5l-0.6 -0.3l-0.2 -0.7l0.2 -0.5l-0.1 -1.0l0.1 -1.0l1.0 -1.0l0.5 -0.1l1.0 0.1l0.5 0.3l0.5 0.5l0.2 0.7l-0.2 1.3l-0.7 0.7l-0.8 1.3zM462.0 393.3l-0.5 0.1l-0.5 -0.2l-1.0 0.2l-1.0 -0.2l-0.5 -0.4l-0.5 -0.7l-0.1 -0.6l0.1 -0.9l0.5 -0.8l0.5 -0.4l1.0 -0.2l1.0 0.2l0.5 0.4l0.7 1.2l0.5 0.5l0.2 0.5l0.0 0.5l-0.9 0.8zM318.5 403.5l-1.6 -0.5l-0.6 -1.0l-0.0 -1.0l0.7 -1.2l0.1 -0.8l-0.6 -1.0l0.0 -1.0l1.1 -1.5l0.4 -3.0l0.5 -1.0l2.2 -1.5l0.8 -0.2l0.5 0.2l0.6 1.0l0.2 1.0l-0.2 1.0l-0.5 0.5l-0.0 1.0l0.4 1.5l-0.9 2.5l0.5 1.0l-0.0 1.0l-0.9 1.5l-2.2 1.4l-0.5 0.1zM213.0 394.5l-0.6 -0.0l-0.9 -0.4l-0.5 -0.5l-0.3 -0.6l-0.1 -0.5l0.2 -1.0l0.3 -0.5l0.9 -0.6l1.0 -0.1l0.6 0.2l1.5 1.0l0.5 1.0l-0.6 1.4l-2.0 0.6zM173.0 402.1l-1.0 0.2l-1.1 -0.3l-1.9 -2.2l-1.0 -0.2l-0.5 -0.4l-0.6 -1.2l0.1 -0.7l0.5 -0.8l0.6 -0.5l1.4 -0.0l0.9 -1.0l-0.4 -1.0l0.1 -0.5l0.5 -1.0l0.9 -0.5l1.0 0.0l0.5 0.3l0.5 0.4l0.4 0.8l-0.0 1.0l-0.8 1.0l-0.6 0.3l-1.0 0.0l-0.5 0.7l-0.6 0.0l0.3 0.5l1.3 1.1l1.3 0.4l0.7 1.0l-0.0 1.5l-1.0 1.1zM446.5 399.7l-1.0 0.2l-0.5 -0.0l-1.0 -0.4l-0.5 -0.5l-0.7 -1.5l-0.0 -1.5l0.7 -1.5l0.7 -0.5l2.2 -1.0l1.1 -1.0l1.5 -0.0l0.7 0.5l0.5 1.0l0.0 1.0l0.8 1.1l1.0 -0.3l0.8 0.2l0.7 0.5l1.0 -0.3l0.9 -1.2l1.1 -0.5l0.5 0.0l1.0 0.5l0.5 0.7l0.1 1.3l-0.6 1.0l-1.0 0.4l-0.5 0.1l-1.0 -0.5l-0.5 -0.5l-0.3 0.5l-0.7 -0.0l-0.4 1.0l-0.6 0.5l-1.0 0.2l-1.0 -0.2l-0.6 -0.5l-0.4 -1.0l0.2 -1.0l-1.2 -0.5l-0.5 0.1l-1.0 2.8l-1.0 0.8zM192.5 396.7l-1.0 0.2l-1.0 -0.3l-1.0 -1.1l0.0 -1.6l0.7 -0.9l0.8 -0.5l1.0 -0.0l0.5 0.2l0.5 0.3l0.7 1.0l0.1 1.0l-0.3 0.9l-1.0 0.8zM157.0 397.5l-1.5 -0.0l-1.1 -1.0l-0.2 -1.0l0.2 -1.0l1.1 -1.0l1.5 -0.0l1.0 0.7l0.3 0.8l0.1 0.5l-0.3 1.0l-0.3 0.5l-0.8 0.5zM442.0 408.1l-1.5 0.0l-0.8 -0.6l-0.3 -0.5l-0.1 -1.0l0.4 -1.0l-1.2 -0.6l-1.3 -0.4l-0.6 -0.5l-0.5 -1.0l-0.0 -1.0l-0.6 -0.9l-1.8 1.4l-0.7 0.3l-1.0 0.1l-1.0 -0.5l-0.5 -0.5l-0.3 -0.9l0.0 -1.0l0.3 -0.7l0.9 -0.8l1.6 -0.1l1.0 -0.4l0.5 -0.5l1.0 -0.5l1.2 0.0l0.8 0.5l0.5 0.8l0.1 0.7l0.9 1.0l1.0 0.5l0.5 0.5l0.5 1.5l-0.4 1.5l0.4 0.9l1.0 0.1l1.0 1.0l0.0 1.6l-1.0 1.0zM207.5 402.2l-1.0 0.3l-1.0 -0.3l-0.5 -0.3l-0.6 -0.9l-0.1 -1.0l0.2 -0.7l0.5 -0.8l1.0 -0.4l0.9 -0.1l0.6 0.3l0.5 0.3l0.5 0.7l0.2 0.7l-0.1 1.0l-0.6 0.9l-0.5 0.3zM457.0 398.6l-0.6 -0.1l0.1 -0.4l0.5 0.0l0.0 0.5zM184.5 405.0l-0.5 0.1l-1.0 -0.4l-1.0 -0.2l-1.0 -1.0l-0.2 -1.0l0.2 -1.0l1.0 -1.0l1.0 -0.2l1.0 0.2l1.0 1.0l0.2 1.5l0.4 0.5l-0.2 1.0l-0.4 0.4l-0.5 0.1zM427.0 412.1l-1.5 -0.0l-0.9 -0.6l-0.6 -1.0l-0.1 -1.0l0.2 -0.5l0.7 -1.0l1.2 -0.5l0.5 -0.5l0.0 -0.5l-0.5 -0.5l-0.5 -1.5l0.5 -1.4l0.5 -0.6l1.5 -0.4l1.5 0.5l0.5 0.5l0.5 1.4l-0.5 1.5l-1.0 0.8l-1.1 0.2l-0.2 0.5l0.1 0.5l0.7 0.5l0.4 1.0l-0.1 0.5l-0.8 1.5l-1.0 0.6zM195.5 409.1l-1.5 0.0l-1.0 -0.8l-0.2 -0.8l0.1 -1.0l1.0 -1.0l1.6 0.0l1.5 -1.5l1.0 -0.5l1.3 0.0l1.2 0.7l0.5 0.0l0.5 -0.1l1.0 -1.0l1.0 -0.1l1.0 0.4l0.5 0.5l0.2 0.6l-0.1 1.0l-0.6 1.0l-1.5 0.3l-1.5 -0.7l-1.4 1.4l-0.6 0.3l-0.5 0.2l-1.5 -0.1l-1.0 0.2l-1.0 1.0zM418.0 407.5l-1.0 0.0l-0.5 -0.2l-0.6 -0.3l-0.4 -0.7l-0.2 -0.8l0.2 -1.0l1.0 -1.1l1.0 -0.2l1.0 0.2l1.0 1.1l0.2 1.0l-0.2 0.8l-0.5 0.7l-1.0 0.5zM217.5 412.1l-0.5 0.2l-1.0 -0.2l-1.3 -0.6l-0.5 -0.5l-0.5 -1.0l0.3 -1.5l1.0 -1.0l1.0 -0.3l1.0 -0.1l0.9 -0.6l-0.0 -1.5l0.8 -1.0l0.8 -0.2l1.0 0.1l1.0 1.0l0.0 1.6l-0.5 0.7l-1.0 0.4l-0.2 0.4l-0.3 1.0l0.2 2.0l-0.2 0.4l-0.5 0.3l-0.5 -0.1l-1.0 0.5zM321.0 427.6l-0.7 -0.1l-0.3 -0.5l-1.0 -0.4l-0.5 -0.6l-0.1 -0.5l0.1 -0.6l0.5 -0.6l0.3 -1.3l-0.4 -1.0l-0.0 -1.0l1.1 -2.0l-0.3 -1.5l0.3 -1.0l0.4 -0.5l-0.1 -1.0l-0.4 -0.5l-0.3 -1.0l0.3 -1.0l0.4 -0.5l0.0 -0.5l0.5 -0.5l-0.3 -0.5l-1.0 0.0l-0.5 -0.4l-0.1 -1.1l0.3 -1.0l0.3 -0.5l0.9 -0.5l0.6 -1.0l0.5 -0.1l1.5 0.5l0.5 0.5l0.3 1.1l-0.2 1.0l1.9 1.7l0.4 0.8l0.0 1.0l-0.7 1.0l-0.1 0.5l-0.0 0.5l0.6 0.5l0.3 1.0l-0.5 1.2l-1.0 0.8l-0.2 1.0l0.2 0.5l0.0 1.0l-0.8 1.5l-0.1 0.5l0.4 1.6l-0.7 1.9l-2.3 1.6zM413.0 415.7l-1.0 0.3l-2.0 -1.0l-0.5 -0.6l-0.2 -0.9l0.2 -1.3l1.0 -0.9l0.4 -0.8l-0.2 -1.5l0.3 -1.4l0.5 -0.6l1.0 -0.5l0.5 -0.1l0.7 0.1l1.3 0.6l0.3 0.4l0.3 1.5l-0.1 0.5l-0.5 1.0l-1.0 0.7l-0.6 0.8l0.0 0.5l0.6 1.0l0.1 1.0l-1.1 1.2zM235.0 411.0l-1.0 -0.1l-0.8 -0.4l-0.7 -0.9l-0.1 -0.6l0.1 -1.0l0.5 -0.7l0.5 -0.4l1.0 -0.3l1.5 0.5l0.5 0.5l0.3 0.9l-0.3 1.5l-0.5 0.5l-1.0 0.5zM396.0 422.7l-1.0 0.3l-1.0 -0.3l-0.7 -0.7l-0.3 -1.0l1.0 -3.9l1.0 -1.0l0.3 -1.1l-0.2 -1.5l0.3 -1.0l1.2 -1.0l0.9 -0.1l1.0 0.2l0.5 -0.2l0.3 -0.4l0.0 -1.0l0.2 -0.7l0.4 -0.8l0.6 -0.4l2.0 -0.9l0.5 0.3l0.5 0.1l1.3 1.4l0.0 0.5l-0.3 1.0l-0.9 1.5l-0.6 0.5l-1.0 0.4l-1.5 -0.3l-0.5 0.4l-0.0 1.0l-0.4 1.0l-1.1 1.1l-0.5 0.9l0.6 0.5l0.2 0.5l-0.0 1.0l-1.1 1.0l-0.7 1.0l-0.3 1.0l-0.7 0.7zM345.0 414.5l-1.0 0.1l-1.0 -0.4l-0.6 -0.7l-0.3 -1.0l-0.2 -1.5l0.4 -2.0l0.7 -0.9l1.0 -0.4l1.5 0.3l0.5 0.5l0.5 1.0l0.1 2.0l-0.2 1.5l-0.6 1.0l-0.8 0.5zM250.0 413.1l-1.3 -0.1l-0.7 -0.5l-0.3 -0.5l-0.2 -1.0l0.4 -1.0l0.6 -0.5l1.0 -0.2l1.0 0.2l0.8 1.0l0.2 0.5l-0.2 1.0l-0.3 0.5l-1.0 0.6zM431.5 410.5l0.0 -0.6l0.5 0.1l-0.5 0.5zM380.5 425.6l-1.0 0.0l-0.5 -0.3l-0.5 -0.6l-0.1 -0.7l0.1 -2.0l0.5 -1.9l0.5 -0.7l0.8 -2.4l0.7 -1.0l1.5 -0.4l0.5 -0.6l0.3 -0.5l0.2 -1.0l1.0 -1.1l1.0 -0.5l0.9 0.1l0.6 0.5l0.5 1.1l0.2 0.9l-0.2 1.0l-1.0 1.0l-1.0 0.2l-0.5 0.8l-0.1 1.0l-0.4 1.0l-0.5 0.5l-0.9 1.5l-0.6 2.0l-0.7 0.5l-0.5 1.0l-0.8 0.6zM217.5 418.0l-1.5 -0.7l-1.0 -1.5l-0.5 -0.3l-1.5 0.7l-1.0 -0.1l-0.5 -0.3l-0.5 -0.6l-0.2 -0.7l0.2 -1.2l0.9 -0.8l0.6 -0.2l1.0 0.2l1.0 1.0l0.5 0.1l0.5 -0.0l1.0 -0.6l1.0 -0.2l2.0 0.2l0.9 1.0l0.3 0.5l-0.4 1.5l-0.4 1.0l-0.9 0.7l-1.5 0.3zM230.0 417.0l-0.7 -0.5l-0.0 -0.5l-0.7 -1.0l-0.1 -1.1l0.4 -0.9l0.5 -0.5l1.1 -0.4l0.5 -0.0l1.0 0.3l0.5 0.5l0.4 1.6l-0.3 1.0l-0.5 0.5l-2.1 1.0zM415.5 416.7l-0.9 -0.2l-0.3 -0.5l0.0 -1.0l0.2 -0.4l0.5 -0.3l0.7 0.2l0.5 1.0l-0.2 0.5l-0.5 0.7zM368.0 423.5l-1.0 -0.1l-0.6 -0.4l-0.5 -2.0l0.1 -1.1l0.6 -0.9l0.9 -0.5l0.5 -0.7l0.5 -0.3l0.0 -0.5l0.6 -1.0l1.4 -1.0l1.0 0.1l1.0 0.9l0.2 1.0l-0.2 1.0l-0.5 0.9l-0.5 0.3l-0.7 1.3l-0.3 1.4l-0.4 0.6l-0.7 0.5l-1.4 0.5zM247.0 424.1l-2.0 0.2l-1.0 -0.1l-0.9 -0.7l-0.5 -1.0l-0.0 -0.5l0.3 -1.0l1.1 -1.0l-0.1 -1.0l-0.5 -1.0l0.1 -1.5l0.5 -0.7l1.0 -0.5l1.0 0.0l0.7 0.2l0.8 1.0l0.2 0.5l-0.2 1.4l-1.1 1.1l-0.1 0.5l0.0 0.5l1.5 1.5l0.1 0.5l0.0 0.5l-0.9 1.1zM235.5 420.7l-1.0 0.3l-0.5 -0.2l-0.7 -0.3l-0.4 -0.5l-0.2 -1.0l0.0 -0.5l0.3 -0.7l0.5 -0.4l1.0 -0.4l0.5 0.1l0.9 0.4l0.4 0.5l0.2 0.5l-0.0 1.0l-0.5 0.9l-0.5 0.3zM262.0 427.5l-0.5 -0.0l-1.0 -0.5l-1.1 -1.0l-0.3 -0.5l-0.1 -1.5l0.5 -0.5l-0.5 -0.1l-0.9 -0.9l-0.2 -0.5l0.7 -2.5l0.4 -0.5l1.0 -0.5l1.0 0.0l1.0 0.7l0.5 1.3l0.0 0.5l-0.5 1.0l0.0 0.5l0.3 0.5l1.2 0.6l0.6 0.9l0.1 1.0l-0.3 1.0l-0.9 0.7l-1.0 0.3zM356.5 426.6l-1.0 -0.0l-1.0 -0.7l-1.5 -0.3l-0.6 -0.6l-0.9 -1.6l0.0 -0.9l0.6 -1.0l0.9 -0.5l1.0 -0.1l1.5 0.6l0.8 0.5l0.6 1.0l0.1 1.0l0.4 0.5l0.1 1.0l-0.2 0.5l-0.8 0.6zM340.0 426.5l-1.0 0.5l-0.5 -0.0l-1.0 -0.5l-0.5 -1.0l0.0 -0.6l0.5 -0.9l1.0 -0.5l0.5 -0.0l1.0 0.5l0.5 0.9l0.0 0.6l-0.5 1.0zM309.0 427.2l-0.5 0.1l-1.0 -0.2l-0.5 -0.8l0.0 -0.8l1.0 -1.0l1.0 0.1l0.5 0.4l0.2 0.5l-0.0 1.0l-0.7 0.7zM275.5 427.4l-1.5 -0.1l-0.5 -0.5l-0.1 -0.3l0.1 -0.8l1.0 -0.8l1.0 -0.1l0.9 0.7l0.1 0.5l-0.1 0.5l-0.9 0.9zM365.5 427.2l-0.9 -0.2l-0.5 -0.5l-0.1 -0.6l0.5 -0.6l1.0 0.2l0.4 0.5l0.1 0.8l-0.5 0.4z" fill="#f00000"/>
<path d="M530.5 359.5l-0.5 0.2l-2.0 0.1l-0.6 -0.3l-0.4 -0.5l-0.0 -2.0l0.4 -1.0l0.6 -0.5l1.0 -0.2l1.0 0.2l1.0 1.0l0.2 1.0l-0.1 1.0l-0.6 1.0zM533.5 365.5l-0.7 -0.0l-1.3 -0.5l-0.5 -0.5l-0.4 -1.5l0.4 -1.5l0.5 -0.6l1.0 -0.5l1.5 -0.1l1.1 0.7l0.5 1.5l-0.6 2.0l-0.5 0.6l-1.0 0.4zM524.0 364.7l-0.5 0.1l-1.0 -0.2l-0.6 -0.6l-0.3 -1.0l0.1 -0.5l0.3 -0.6l0.5 -0.4l2.0 -0.2l0.5 0.2l0.4 0.5l0.1 1.0l-0.6 1.0l-0.9 0.7zM326.5 362.1l-0.5 -0.1l0.5 -0.3l0.5 0.3l-0.5 0.1zM135.5 368.1l-0.5 -0.0l-0.5 -0.4l-0.5 -0.7l-0.0 -0.5l0.1 -0.5l0.4 -0.6l1.0 -0.4l0.9 0.5l0.4 1.0l-0.3 1.1l-1.0 0.5zM148.5 377.6l-1.0 -0.0l-0.7 -0.6l-0.3 -0.5l0.1 -0.5l0.4 -0.2l1.0 0.1l0.2 -0.4l0.1 -1.5l0.7 -0.7l1.0 -0.2l0.5 0.2l0.8 0.7l0.0 2.0l-0.9 1.0l-1.9 0.6zM321.5 386.6l-0.5 -0.0l-0.5 -0.4l-0.6 -0.7l-0.4 -1.0l0.0 -0.5l-0.2 -0.5l0.4 -1.0l0.4 -0.5l-0.8 -1.0l-0.1 -0.5l0.2 -1.0l0.3 -0.5l0.1 -0.5l0.4 -0.5l0.1 -0.5l-0.4 -1.0l0.0 -0.5l0.6 -0.7l1.0 -0.1l1.3 1.3l0.0 0.5l0.7 1.0l-0.5 1.0l0.3 1.0l-0.3 1.0l0.2 1.0l-0.2 0.3l-1.0 0.5l-0.6 0.7l0.8 1.0l0.1 0.5l-0.0 1.0l-0.8 0.6zM502.0 378.7l-0.5 0.1l-0.4 -0.3l-1.4 -1.5l0.1 -1.0l0.7 -0.6l0.5 -0.0l1.0 0.5l0.8 1.1l-0.1 1.0l-0.7 0.7zM527.0 377.6l-1.0 0.4l-0.8 -0.5l-0.4 -1.0l0.1 -0.5l0.4 -0.5l0.7 -0.2l1.0 0.4l0.4 0.8l-0.4 1.1zM183.5 380.0l-0.5 0.0l-0.5 -0.3l-0.2 -0.7l0.3 -0.5l0.9 -0.4l0.5 0.1l0.4 0.3l0.1 0.5l-0.2 0.5l-0.8 0.5zM145.0 379.1l0.0 -0.2l0.0 0.2zM177.0 390.6l-1.0 -0.1l-1.5 -1.0l-0.2 -0.5l-0.0 -1.0l0.2 -0.4l0.6 -0.6l1.4 -0.5l1.1 0.5l0.5 2.0l-0.2 1.0l-0.4 0.4l-0.5 0.2zM465.5 391.6l-0.5 0.2l-0.5 -0.0l-0.5 -0.3l-0.2 -0.5l0.7 -0.2l0.5 0.1l0.3 0.1l0.2 0.6zM320.0 402.6l-1.0 0.4l-1.7 -2.0l-0.1 -0.5l0.5 -2.0l0.4 -0.5l-0.5 -1.0l0.3 -1.5l1.0 -2.0l-0.4 -1.0l0.1 -0.5l0.3 -0.5l0.6 -0.2l0.5 0.1l1.2 1.1l0.1 1.0l0.4 0.5l0.0 0.5l-0.4 0.5l0.3 1.0l-0.1 0.7l-0.3 0.3l0.3 1.0l-0.5 1.0l0.3 1.0l-0.5 1.5l-0.8 1.1zM214.5 393.7l-0.3 -0.2l-0.3 -0.5l0.1 -0.5l0.5 -0.6l0.5 0.1l0.1 0.5l-0.1 0.7l-0.5 0.5zM462.0 392.8l-0.5 -0.1l-0.1 -0.2l0.6 -0.8l0.3 0.3l-0.3 0.8zM446.0 399.0l-2.0 -0.2l-1.0 -1.3l-0.1 -1.0l0.1 -0.6l1.0 -1.2l1.0 -0.5l0.8 -0.7l0.7 -0.2l1.3 1.2l0.5 1.0l-0.2 1.0l-0.3 0.5l-0.3 0.9l-1.0 1.0l-0.5 0.1zM170.5 400.3l-1.0 -0.2l-0.2 -0.6l0.1 -0.5l1.1 -1.2l0.5 -0.0l0.5 0.2l0.2 0.5l-0.4 1.0l-0.8 0.8zM435.0 400.7l-1.0 0.1l-0.8 -0.8l-0.1 -1.5l0.4 -0.6l0.5 -0.1l0.5 0.2l0.8 1.0l-0.0 1.0l-0.3 0.7zM439.5 403.1l-1.0 0.4l-1.0 -0.4l-0.5 -0.7l-0.0 -0.9l-1.0 -0.5l-0.2 -0.5l0.2 -0.3l1.0 -1.0l1.0 -0.3l0.6 0.6l0.4 0.9l0.7 0.6l0.4 1.0l-0.1 0.5l-0.5 0.6zM428.5 406.0l-1.0 -0.0l-1.0 -1.0l0.0 -1.0l1.0 -1.0l1.0 -0.0l1.0 1.0l0.0 1.0l-1.0 1.0zM184.5 404.6l-0.5 0.1l-0.2 -0.7l0.7 -0.7l0.5 0.1l0.1 0.6l-0.6 0.6zM440.0 404.1l-0.1 -0.1l0.1 0.1zM197.5 407.5l-0.5 0.2l-0.6 -0.2l-0.6 -1.0l0.2 -1.1l1.0 -0.2l0.8 -0.7l0.7 -0.3l1.0 0.3l0.5 0.7l0.1 -0.2l0.4 -0.3l0.5 -0.1l0.3 0.9l-0.3 0.5l-0.5 -0.4l-0.5 0.4l-0.7 1.0l-1.3 -0.0l-0.5 0.5zM216.5 412.0l-1.0 -0.3l-0.8 -0.7l-0.3 -1.5l0.3 -1.0l0.9 -1.0l1.9 -0.3l0.5 -0.3l0.5 0.1l0.5 0.3l0.4 0.7l-0.5 0.5l-0.1 2.0l-0.8 1.0l-1.5 0.5zM321.0 427.1l-0.3 -0.1l-0.0 -0.5l-0.9 -1.0l-0.4 -1.0l-0.0 -1.0l0.3 -0.5l0.0 -0.5l0.5 -0.5l-0.0 -0.5l-0.4 -1.0l0.0 -0.5l0.5 -1.0l-0.0 -0.5l0.8 -1.0l-0.3 -0.5l-0.1 -1.5l0.4 -1.0l0.4 -0.5l-0.9 -1.0l0.1 -1.5l0.6 -0.5l-0.1 -0.5l-1.3 -1.0l-0.4 -1.0l0.4 -1.0l0.6 -0.2l0.5 0.0l0.8 0.7l0.4 0.5l0.3 1.1l0.5 -0.3l0.5 0.2l0.5 0.9l1.5 0.9l0.2 0.7l-0.2 0.7l-0.8 0.8l0.1 0.5l-0.3 1.0l0.5 0.1l0.5 0.3l0.0 1.1l-0.5 0.5l-0.5 0.0l-0.3 0.5l-0.2 1.2l-1.2 1.3l0.1 1.0l0.6 1.0l-0.5 0.8l-0.5 0.2l-0.5 0.5l-0.1 0.5l0.4 0.5l0.3 1.5l-0.4 0.5l-1.2 0.6zM413.0 411.8l-1.0 0.0l-0.5 -0.3l-0.4 -0.5l0.4 -0.9l0.5 -0.1l-0.5 -1.0l0.4 -1.0l0.5 -0.5l0.6 -0.1l1.0 0.2l0.5 0.6l0.1 0.8l-0.1 0.6l-0.3 0.4l-1.2 0.5l0.4 1.0l-0.4 0.3zM402.5 411.7l-1.0 0.3l-0.5 -0.2l-0.5 -0.4l-0.3 -0.9l0.2 -1.0l0.6 -0.5l0.4 -1.0l0.6 -0.3l1.4 0.3l0.6 0.6l0.4 0.9l-0.2 1.0l-1.1 0.5l-0.6 0.7zM345.5 412.9l-2.0 0.1l-0.5 -0.2l-0.5 -0.5l-0.3 -1.3l0.1 -0.5l0.7 -0.9l0.7 -0.1l0.3 -0.3l0.5 0.0l0.5 0.4l0.5 0.0l0.5 0.5l0.5 0.9l-0.1 0.5l-0.4 0.9l-0.5 0.5zM399.5 412.3l0.0 -0.4l0.2 0.1l-0.2 0.3zM398.0 416.5l-0.5 0.2l-1.0 0.1l-1.1 -0.8l-0.0 -0.5l0.7 -1.0l-0.1 -1.2l0.5 -0.7l0.5 -0.3l1.4 0.2l0.6 0.8l-0.1 1.2l-0.4 0.5l-0.5 0.2l0.2 0.8l-0.2 0.5zM218.5 417.7l-1.5 0.0l-1.0 -0.5l-1.2 -2.2l0.2 -0.8l0.5 0.1l1.5 -1.0l2.0 -0.0l0.7 0.2l0.4 0.5l0.1 0.5l-0.2 1.5l-0.5 1.0l-1.0 0.7zM412.5 415.5l-0.8 -0.0l-0.4 -0.5l0.1 -0.5l1.1 -1.2l0.5 -0.1l0.5 0.3l0.1 1.0l-0.3 0.5l-0.8 0.5zM382.5 421.2l-0.5 0.0l-0.5 -0.3l-0.5 -0.1l-1.2 -1.3l0.0 -0.5l0.2 -0.6l1.5 -1.6l0.5 -0.3l0.5 -0.1l0.5 -1.0l1.0 -0.2l1.2 1.3l-0.2 0.5l-1.0 0.5l0.0 1.0l-0.3 0.5l0.1 0.5l-0.3 1.0l-1.0 0.7zM371.5 416.1l-0.3 -0.1l0.3 0.1zM369.0 422.2l-0.5 0.2l-1.0 -0.2l-0.5 -0.5l-0.2 -0.7l0.2 -1.0l0.5 -0.5l0.5 -1.3l0.5 -0.3l0.5 -0.1l1.0 0.5l0.8 0.7l0.1 0.5l-0.1 0.5l-0.6 0.5l-0.7 1.3l-0.5 0.4zM398.0 419.1l-0.3 -0.6l0.3 -0.6l0.4 0.6l-0.4 0.6zM397.0 420.6l-1.0 0.3l-1.5 -0.3l-0.6 -0.6l-0.2 -0.5l0.3 -1.1l0.5 -0.2l1.5 -0.1l1.0 0.7l0.2 0.2l0.1 0.5l-0.3 1.1zM245.5 420.3l-1.0 -0.2l-0.1 -0.6l0.1 -0.2l1.0 -0.1l0.5 0.8l-0.5 0.3zM260.5 426.1l-0.5 0.0l-0.5 -0.4l-0.1 -1.2l0.5 -1.0l-1.4 -0.9l-0.2 -0.6l-0.0 -0.5l0.2 -0.3l0.5 -0.3l1.5 0.4l1.3 1.7l0.1 1.5l-0.4 0.5l-0.1 0.5l-0.9 0.6zM382.0 423.5l-1.0 0.3l-1.4 -0.3l-0.6 -0.5l-0.2 -0.5l0.2 -1.1l0.5 -0.2l1.5 -0.0l1.0 0.7l0.3 0.6l0.0 0.5l-0.3 0.5zM247.0 423.6l-0.5 0.3l-0.5 -0.2l-0.2 -0.2l-0.1 -0.5l0.6 -1.0l0.7 -0.1l0.4 0.6l-0.4 1.1zM356.5 426.0l-1.0 -0.0l-2.0 -0.6l-0.6 -0.4l-0.0 -0.5l0.6 -0.7l0.3 -0.8l0.7 -1.0l0.5 -0.2l0.8 0.2l0.4 0.5l0.1 1.5l0.6 1.5l-0.4 0.5zM339.0 426.1l-0.8 -0.1l-0.3 -0.5l0.1 -0.7l0.5 -0.4l0.7 0.1l0.4 0.5l-0.1 0.8l-0.5 0.3zM275.0 426.6l-0.9 -0.1l-0.1 -0.5l0.7 -0.5l0.8 -0.0l0.3 0.5l-0.3 0.4l-0.5 0.2z" fill="#a00000"/>
</g>
<rect x="34.0" y="25.0" width="564.0" height="94.5" fill="none" stroke="#474747" stroke-width="1.3"/>
<rect x="34.0" y="123.0" width="564.0" height="197.5" fill="none" stroke="#474747" stroke-width="1.3"/>
<rect x="34.0" y="325.0" width="564.0" height="107.0" fill="none" stroke="#474747" stroke-width="1.3"/>
<path d="M34.0,119.50h11M598.0,119.50h-11M34.0,117.92h5.5M598.0,117.92h-5.5M34.0,116.35h5.5M598.0,116.35h-5.5M34.0,114.78h5.5M598.0,114.78h-5.5M34.0,113.20h5.5M598.0,113.20h-5.5M34.0,111.62h5.5M598.0,111.62h-5.5M34.0,110.05h5.5M598.0,110.05h-5.5M34.0,108.47h5.5M598.0,108.47h-5.5M34.0,106.90h5.5M598.0,106.90h-5.5M34.0,105.33h5.5M598.0,105.33h-5.5M34.0,103.75h11M598.0,103.75h-11M34.0,102.17h5.5M598.0,102.17h-5.5M34.0,100.60h5.5M598.0,100.60h-5.5M34.0,99.03h5.5M598.0,99.03h-5.5M34.0,97.45h5.5M598.0,97.45h-5.5M34.0,95.88h5.5M598.0,95.88h-5.5M34.0,94.30h5.5M598.0,94.30h-5.5M34.0,92.72h5.5M598.0,92.72h-5.5M34.0,91.15h5.5M598.0,91.15h-5.5M34.0,89.58h5.5M598.0,89.58h-5.5M34.0,88.00h11M598.0,88.00h-11M34.0,86.42h5.5M598.0,86.42h-5.5M34.0,84.85h5.5M598.0,84.85h-5.5M34.0,83.28h5.5M598.0,83.28h-5.5M34.0,81.70h5.5M598.0,81.70h-5.5M34.0,80.12h5.5M598.0,80.12h-5.5M34.0,78.55h5.5M598.0,78.55h-5.5M34.0,76.97h5.5M598.0,76.97h-5.5M34.0,75.40h5.5M598.0,75.40h-5.5M34.0,73.82h5.5M598.0,73.82h-5.5M34.0,72.25h11M598.0,72.25h-11M34.0,70.67h5.5M598.0,70.67h-5.5M34.0,69.10h5.5M598.0,69.10h-5.5M34.0,67.53h5.5M598.0,67.53h-5.5M34.0,65.95h5.5M598.0,65.95h-5.5M34.0,64.38h5.5M598.0,64.38h-5.5M34.0,62.80h5.5M598.0,62.80h-5.5M34.0,61.22h5.5M598.0,61.22h-5.5M34.0,59.65h5.5M598.0,59.65h-5.5M34.0,58.07h5.5M598.0,58.07h-5.5M34.0,56.50h11M598.0,56.50h-11M34.0,54.92h5.5M598.0,54.92h-5.5M34.0,53.35h5.5M598.0,53.35h-5.5M34.0,51.78h5.5M598.0,51.78h-5.5M34.0,50.20h5.5M598.0,50.20h-5.5M34.0,48.62h5.5M598.0,48.62h-5.5M34.0,47.05h5.5M598.0,47.05h-5.5M34.0,45.47h5.5M598.0,45.47h-5.5M34.0,43.90h5.5M598.0,43.90h-5.5M34.0,42.32h5.5M598.0,42.32h-5.5M34.0,40.75h11M598.0,40.75h-11M34.0,39.17h5.5M598.0,39.17h-5.5M34.0,37.60h5.5M598.0,37.60h-5.5M34.0,36.02h5.5M598.0,36.02h-5.5M34.0,34.45h5.5M598.0,34.45h-5.5M34.0,32.88h5.5M598.0,32.88h-5.5M34.0,31.30h5.5M598.0,31.30h-5.5M34.0,29.72h5.5M598.0,29.72h-5.5M34.0,28.15h5.5M598.0,28.15h-5.5M34.0,26.57h5.5M598.0,26.57h-5.5M34.0,25.00h11M598.0,25.00h-11" stroke="#505050" stroke-width="0.85" fill="none"/>
<path d="M34.0,320.50h11M598.0,320.50h-11M34.0,317.21h5.5M598.0,317.21h-5.5M34.0,313.92h5.5M598.0,313.92h-5.5M34.0,310.63h5.5M598.0,310.63h-5.5M34.0,307.34h5.5M598.0,307.34h-5.5M34.0,304.05h5.5M598.0,304.05h-5.5M34.0,300.76h5.5M598.0,300.76h-5.5M34.0,297.47h5.5M598.0,297.47h-5.5M34.0,294.18h5.5M598.0,294.18h-5.5M34.0,290.89h5.5M598.0,290.89h-5.5M34.0,287.60h11M598.0,287.60h-11M34.0,284.31h5.5M598.0,284.31h-5.5M34.0,281.02h5.5M598.0,281.02h-5.5M34.0,277.73h5.5M598.0,277.73h-5.5M34.0,274.44h5.5M598.0,274.44h-5.5M34.0,271.15h5.5M598.0,271.15h-5.5M34.0,267.86h5.5M598.0,267.86h-5.5M34.0,264.57h5.5M598.0,264.57h-5.5M34.0,261.28h5.5M598.0,261.28h-5.5M34.0,257.99h5.5M598.0,257.99h-5.5M34.0,254.70h11M598.0,254.70h-11M34.0,251.41h5.5M598.0,251.41h-5.5M34.0,248.12h5.5M598.0,248.12h-5.5M34.0,244.83h5.5M598.0,244.83h-5.5M34.0,241.54h5.5M598.0,241.54h-5.5M34.0,238.25h5.5M598.0,238.25h-5.5M34.0,234.96h5.5M598.0,234.96h-5.5M34.0,231.67h5.5M598.0,231.67h-5.5M34.0,228.38h5.5M598.0,228.38h-5.5M34.0,225.09h5.5M598.0,225.09h-5.5M34.0,221.80h11M598.0,221.80h-11M34.0,218.51h5.5M598.0,218.51h-5.5M34.0,215.22h5.5M598.0,215.22h-5.5M34.0,211.93h5.5M598.0,211.93h-5.5M34.0,208.64h5.5M598.0,208.64h-5.5M34.0,205.35h5.5M598.0,205.35h-5.5M34.0,202.06h5.5M598.0,202.06h-5.5M34.0,198.77h5.5M598.0,198.77h-5.5M34.0,195.48h5.5M598.0,195.48h-5.5M34.0,192.19h5.5M598.0,192.19h-5.5M34.0,188.90h11M598.0,188.90h-11M34.0,185.61h5.5M598.0,185.61h-5.5M34.0,182.32h5.5M598.0,182.32h-5.5M34.0,179.03h5.5M598.0,179.03h-5.5M34.0,175.74h5.5M598.0,175.74h-5.5M34.0,172.45h5.5M598.0,172.45h-5.5M34.0,169.16h5.5M598.0,169.16h-5.5M34.0,165.87h5.5M598.0,165.87h-5.5M34.0,162.58h5.5M598.0,162.58h-5.5M34.0,159.29h5.5M598.0,159.29h-5.5M34.0,156.00h11M598.0,156.00h-11M34.0,152.71h5.5M598.0,152.71h-5.5M34.0,149.42h5.5M598.0,149.42h-5.5M34.0,146.13h5.5M598.0,146.13h-5.5M34.0,142.84h5.5M598.0,142.84h-5.5M34.0,139.55h5.5M598.0,139.55h-5.5M34.0,136.26h5.5M598.0,136.26h-5.5M34.0,132.97h5.5M598.0,132.97h-5.5M34.0,129.68h5.5M598.0,129.68h-5.5M34.0,126.39h5.5M598.0,126.39h-5.5M34.0,123.10h11M598.0,123.10h-11" stroke="#474747" stroke-width="0.9" fill="none"/>
<path d="M34.0,432.00h11M598.0,432.00h-11M34.0,427.72h5.5M598.0,427.72h-5.5M34.0,423.44h5.5M598.0,423.44h-5.5M34.0,419.16h5.5M598.0,419.16h-5.5M34.0,414.88h5.5M598.0,414.88h-5.5M34.0,410.60h11M598.0,410.60h-11M34.0,406.32h5.5M598.0,406.32h-5.5M34.0,402.04h5.5M598.0,402.04h-5.5M34.0,397.76h5.5M598.0,397.76h-5.5M34.0,393.48h5.5M598.0,393.48h-5.5M34.0,389.20h11M598.0,389.20h-11M34.0,384.92h5.5M598.0,384.92h-5.5M34.0,380.64h5.5M598.0,380.64h-5.5M34.0,376.36h5.5M598.0,376.36h-5.5M34.0,372.08h5.5M598.0,372.08h-5.5M34.0,367.80h11M598.0,367.80h-11M34.0,363.52h5.5M598.0,363.52h-5.5M34.0,359.24h5.5M598.0,359.24h-5.5M34.0,354.96h5.5M598.0,354.96h-5.5M34.0,350.68h5.5M598.0,350.68h-5.5M34.0,346.40h11M598.0,346.40h-11M34.0,342.12h5.5M598.0,342.12h-5.5M34.0,337.84h5.5M598.0,337.84h-5.5M34.0,333.56h5.5M598.0,333.56h-5.5M34.0,329.28h5.5M598.0,329.28h-5.5M34.0,325.00h11M598.0,325.00h-11" stroke="#474747" stroke-width="0.9" fill="none"/>
<path d="M46.80,25.0v4.5M46.80,123.0v4.5M84.90,25.0v4.5M84.90,123.0v4.5M123.00,25.0v4.5M123.00,123.0v4.5M161.10,25.0v4.5M161.10,123.0v4.5M199.20,25.0v4.5M199.20,123.0v4.5M237.30,25.0v4.5M237.30,123.0v4.5M275.40,25.0v4.5M275.40,123.0v4.5M313.50,25.0v4.5M313.50,123.0v4.5M351.60,25.0v4.5M351.60,123.0v4.5M389.70,25.0v4.5M389.70,123.0v4.5M427.80,25.0v4.5M427.80,123.0v4.5M465.90,25.0v4.5M465.90,123.0v4.5M504.00,25.0v4.5M504.00,123.0v4.5M542.10,25.0v4.5M542.10,123.0v4.5M580.20,25.0v4.5M580.20,123.0v4.5" stroke="#474747" stroke-width="1" fill="none"/>
<path d="M589.04,432.0v-1.6M589.04,325.0v1.6M579.63,432.0v-1.6M579.63,325.0v1.6M570.22,432.0v-1.6M570.22,325.0v1.6M560.81,432.0v-1.6M560.81,325.0v1.6M551.40,432.0v-2.5M551.40,325.0v2.5M541.99,432.0v-1.6M541.99,325.0v1.6M532.58,432.0v-1.6M532.58,325.0v1.6M523.17,432.0v-1.6M523.17,325.0v1.6M513.76,432.0v-1.6M513.76,325.0v1.6M504.35,432.0v-1.6M504.35,325.0v1.6M494.94,432.0v-1.6M494.94,325.0v1.6M485.53,432.0v-1.6M485.53,325.0v1.6M476.12,432.0v-1.6M476.12,325.0v1.6M466.71,432.0v-1.6M466.71,325.0v1.6M457.30,432.0v-2.5M457.30,325.0v2.5M447.89,432.0v-1.6M447.89,325.0v1.6M438.48,432.0v-1.6M438.48,325.0v1.6M429.07,432.0v-1.6M429.07,325.0v1.6M419.66,432.0v-1.6M419.66,325.0v1.6M410.25,432.0v-1.6M410.25,325.0v1.6M400.84,432.0v-1.6M400.84,325.0v1.6M391.43,432.0v-1.6M391.43,325.0v1.6M382.02,432.0v-1.6M382.02,325.0v1.6M372.61,432.0v-1.6M372.61,325.0v1.6M363.20,432.0v-2.5M363.20,325.0v2.5M353.79,432.0v-1.6M353.79,325.0v1.6M344.38,432.0v-1.6M344.38,325.0v1.6M334.97,432.0v-1.6M334.97,325.0v1.6M325.56,432.0v-1.6M325.56,325.0v1.6M316.15,432.0v-1.6M316.15,325.0v1.6M306.74,432.0v-1.6M306.74,325.0v1.6M297.33,432.0v-1.6M297.33,325.0v1.6M287.92,432.0v-1.6M287.92,325.0v1.6M278.51,432.0v-1.6M278.51,325.0v1.6M269.10,432.0v-2.5M269.10,325.0v2.5M259.69,432.0v-1.6M259.69,325.0v1.6M250.28,432.0v-1.6M250.28,325.0v1.6M240.87,432.0v-1.6M240.87,325.0v1.6M231.46,432.0v-1.6M231.46,325.0v1.6M222.05,432.0v-1.6M222.05,325.0v1.6M212.64,432.0v-1.6M212.64,325.0v1.6M203.23,432.0v-1.6M203.23,325.0v1.6M193.82,432.0v-1.6M193.82,325.0v1.6M184.41,432.0v-1.6M184.41,325.0v1.6M175.00,432.0v-2.5M175.00,325.0v2.5M165.59,432.0v-1.6M165.59,325.0v1.6M156.18,432.0v-1.6M156.18,325.0v1.6M146.77,432.0v-1.6M146.77,325.0v1.6M137.36,432.0v-1.6M137.36,325.0v1.6M127.95,432.0v-1.6M127.95,325.0v1.6M118.54,432.0v-1.6M118.54,325.0v1.6M109.13,432.0v-1.6M109.13,325.0v1.6M99.72,432.0v-1.6M99.72,325.0v1.6M90.31,432.0v-1.6M90.31,325.0v1.6M80.90,432.0v-2.5M80.90,325.0v2.5M71.49,432.0v-1.6M71.49,325.0v1.6M62.08,432.0v-1.6M62.08,325.0v1.6M52.67,432.0v-1.6M52.67,325.0v1.6M43.26,432.0v-1.6M43.26,325.0v1.6" stroke="#474747" stroke-width="1" fill="none"/>
<rect x="34.6" y="114.2" width="4.2" height="5.30" fill="#5fae2a"/>
<rect x="593.6" y="110.5" width="4" height="9.00" fill="#5fae2a"/>
<line x1="595.2" y1="119.5" x2="595.2" y2="108.6" stroke="#8cc45a" stroke-width="1.2"/>
<line x1="34.0" y1="157.50" x2="45.5" y2="154.00" stroke="#474747" stroke-width="0.9"/>
<text x="311.7" y="11.5" font-size="9.8" font-weight="bold" text-anchor="middle" >Wavelength [<tspan font-weight="normal">μ</tspan>m]</text>
<text x="48.1" y="22.2" font-size="9.7" font-weight="normal" text-anchor="middle" >3.48</text>
<text x="200.5" y="22.2" font-size="9.7" font-weight="normal" text-anchor="middle" >3.50</text>
<text x="352.9" y="22.2" font-size="9.7" font-weight="normal" text-anchor="middle" >3.52</text>
<text x="505.3" y="22.2" font-size="9.7" font-weight="normal" text-anchor="middle" >3.54</text>
<text x="30.5" y="30.2" font-size="9.7" font-weight="normal" text-anchor="end" >6</text>
<text x="30.5" y="75.8" font-size="9.7" font-weight="normal" text-anchor="end" >3</text>
<text x="30.5" y="121.0" font-size="9.7" font-weight="normal" text-anchor="end" >0</text>
<text x="30.5" y="321.0" font-size="9.7" font-weight="normal" text-anchor="end" >0</text>
<text x="30.5" y="291.1" font-size="9.7" font-weight="normal" text-anchor="end" >1</text>
<text x="30.5" y="258.2" font-size="9.7" font-weight="normal" text-anchor="end" >2</text>
<text x="30.5" y="225.3" font-size="9.7" font-weight="normal" text-anchor="end" >3</text>
<text x="30.5" y="192.4" font-size="9.7" font-weight="normal" text-anchor="end" >4</text>
<text x="30.5" y="159.5" font-size="9.7" font-weight="normal" text-anchor="end" >5</text>
<text x="30.5" y="432.5" font-size="9.7" font-weight="normal" text-anchor="end" >0</text>
<text x="30.5" y="414.1" font-size="9.7" font-weight="normal" text-anchor="end" >50</text>
<text x="30.5" y="392.7" font-size="9.7" font-weight="normal" text-anchor="end" >100</text>
<text x="30.5" y="371.3" font-size="9.7" font-weight="normal" text-anchor="end" >150</text>
<text x="30.5" y="349.9" font-size="9.7" font-weight="normal" text-anchor="end" >200</text>
<text x="80.9" y="444.3" font-size="9.7" font-weight="normal" text-anchor="middle" >2870</text>
<text x="175.0" y="444.3" font-size="9.7" font-weight="normal" text-anchor="middle" >2860</text>
<text x="269.1" y="444.3" font-size="9.7" font-weight="normal" text-anchor="middle" >2850</text>
<text x="363.2" y="444.3" font-size="9.7" font-weight="normal" text-anchor="middle" >2840</text>
<text x="457.3" y="444.3" font-size="9.7" font-weight="normal" text-anchor="middle" >2830</text>
<text x="551.4" y="444.3" font-size="9.7" font-weight="normal" text-anchor="middle" >2820</text>
<text x="317" y="454.5" font-size="9.8" font-weight="bold" text-anchor="middle" >Frequency [cm<tspan font-size="5.8" dy="-3.8">-1</tspan><tspan dy="3.8">]</tspan></text>
<text transform="translate(19.4,217.3) rotate(-90)" font-size="9.8" font-weight="bold" text-anchor="middle">Fluorescence efficiency [10<tspan font-size="5.8" dy="-3.8">-7</tspan><tspan dy="3.8"> s</tspan><tspan font-size="5.8" dy="-3.8">-1</tspan><tspan dy="3.8">]</tspan></text>
<text transform="translate(12.6,384.5) rotate(-90)" font-size="9.7" font-weight="bold" text-anchor="middle">Energy [cm<tspan font-size="5.8" dy="-3.8">-1</tspan><tspan dy="3.8">]</tspan></text>
<text x="49.6" y="39.2" font-size="9.9" font-weight="bold" text-anchor="start" >(a) Simplified model</text>
<text x="56" y="51" font-size="9.8" font-weight="normal" text-anchor="start" >E<tspan font-size="5.7" dy="3.0">rot</tspan><tspan dy="-3.0">(Ground) = E</tspan><tspan font-size="5.7" dy="3.0">rot</tspan><tspan dy="-3.0">(ν</tspan><tspan font-size="5.7" dy="3.0">3</tspan><tspan dy="-3.0">)</tspan></text>
<text x="49" y="142.2" font-size="9.8" font-weight="bold" text-anchor="start" >(b) Full new model of the ν<tspan font-size="5.7" dy="3.0">3</tspan><tspan dy="-3.0"> band</tspan></text>
<text x="49" y="153.6" font-size="9.8" font-weight="normal" text-anchor="start" >Cometary Fluorescence Rates</text>
<text x="49" y="166.2" font-size="9.8" font-weight="normal" text-anchor="start" >Rotational temperature: 100K</text>
<text x="49" y="177.4" font-size="9.8" font-weight="normal" text-anchor="start" >2,948 ro-vibrational lines</text>
<text x="47.6" y="408.5" font-size="9.8" font-weight="bold" text-anchor="start" >(c) Energy</text>
<text x="47.6" y="420.3" font-size="9.8" font-weight="bold" text-anchor="start" >spectral distribution</text>
<text x="324" y="142.9" font-size="9.8" font-weight="bold" text-anchor="middle" >‘Q-branch’</text>
<text transform="translate(313.8,175.2) rotate(-90)" font-size="8.8" font-weight="bold" text-anchor="middle">2845.0 cm<tspan font-size="5.4" dy="-3.4">-1</tspan></text>
<text transform="translate(340.0,175.2) rotate(-90)" font-size="8.8" font-weight="bold" text-anchor="middle">2843.5 cm<tspan font-size="5.4" dy="-3.4">-1</tspan></text>
<text x="543.3" y="394.3" font-size="9.8" font-weight="bold" text-anchor="middle" >Fluorescence</text>
<text x="543.3" y="405.6" font-size="9.8" font-weight="bold" text-anchor="middle" >intensity</text>
<text x="510.8" y="415.4" font-size="9.8" font-weight="bold" text-anchor="start" >Low</text>
<text x="576.5" y="415.4" font-size="9.8" font-weight="bold" text-anchor="end" >High</text>
<rect x="514.5" y="418.7" width="55.7" height="4.8" fill="url(#jetg)"/>
<text x="62.0" y="104.7" font-size="9.8" font-weight="bold">R<tspan font-size="6.0" dy="3.1" dx="0.3">16</tspan></text>
<text x="92.0" y="96.7" font-size="9.8" font-weight="bold">R<tspan font-size="6.0" dy="3.1" dx="0.3">14</tspan></text>
<text x="122.9" y="84.3" font-size="9.8" font-weight="bold">R<tspan font-size="6.0" dy="3.1" dx="0.3">12</tspan></text>
<text x="199.1" y="49.1" font-size="9.8" font-weight="bold">R<tspan font-size="6.0" dy="3.1" dx="0.3">7</tspan></text>
<text x="213.8" y="45.1" font-size="9.8" font-weight="bold">R<tspan font-size="6.0" dy="3.1" dx="0.3">6</tspan></text>
<text x="229.3" y="44.7" font-size="9.8" font-weight="bold">R<tspan font-size="6.0" dy="3.1" dx="0.3">5</tspan></text>
<text x="245.4" y="47.7" font-size="9.8" font-weight="bold">R<tspan font-size="6.0" dy="3.1" dx="0.3">4</tspan></text>
<text x="260.5" y="55.8" font-size="9.8" font-weight="bold">R<tspan font-size="6.0" dy="3.1" dx="0.3">3</tspan></text>
<text x="275.2" y="67.0" font-size="9.8" font-weight="bold">R<tspan font-size="6.0" dy="3.1" dx="0.3">2</tspan></text>
<text x="290.8" y="80.3" font-size="9.8" font-weight="bold">R<tspan font-size="6.0" dy="3.1" dx="0.3">1</tspan></text>
<text x="304.3" y="96.1" font-size="9.8" font-weight="bold">R<tspan font-size="6.0" dy="3.1" dx="0.3">0</tspan></text>
<text x="335.0" y="96.1" font-size="9.8" font-weight="bold">P<tspan font-size="6.0" dy="3.1" dx="0.3">1</tspan></text>
<text x="350.5" y="79.9" font-size="9.8" font-weight="bold">P<tspan font-size="6.0" dy="3.1" dx="0.3">2</tspan></text>
<text x="365.7" y="63.7" font-size="9.8" font-weight="bold">P<tspan font-size="6.0" dy="3.1" dx="0.3">3</tspan></text>
<text x="381.8" y="51.7" font-size="9.8" font-weight="bold">P<tspan font-size="6.0" dy="3.1" dx="0.3">4</tspan></text>
<text x="396.1" y="41.8" font-size="9.8" font-weight="bold">P<tspan font-size="6.0" dy="3.1" dx="0.3">5</tspan></text>
<text x="411.0" y="36.6" font-size="9.8" font-weight="bold">P<tspan font-size="6.0" dy="3.1" dx="0.3">6</tspan></text>
<text x="426.7" y="38.9" font-size="9.8" font-weight="bold">P<tspan font-size="6.0" dy="3.1" dx="0.3">7</tspan></text>
<text x="441.8" y="40.2" font-size="9.8" font-weight="bold">P<tspan font-size="6.0" dy="3.1" dx="0.3">8</tspan></text>
<text x="457.0" y="44.1" font-size="9.8" font-weight="bold">P<tspan font-size="6.0" dy="3.1" dx="0.3">9</tspan></text>
<text x="472.2" y="51.3" font-size="9.8" font-weight="bold">P<tspan font-size="6.0" dy="3.1" dx="0.3">10</tspan></text>
<text x="502.0" y="66.4" font-size="9.8" font-weight="bold">P<tspan font-size="6.0" dy="3.1" dx="0.3">12</tspan></text>
<text x="532.2" y="82.9" font-size="9.8" font-weight="bold">P<tspan font-size="6.0" dy="3.1" dx="0.3">14</tspan></text>
<text x="562.7" y="96.8" font-size="9.8" font-weight="bold">P<tspan font-size="6.0" dy="3.1" dx="0.3">16</tspan></text>
<text x="319.0" y="62.2" font-size="10.5" font-weight="bold">Q</text>
<text x="270.6" y="361.5" font-size="10.4" font-weight="bold" text-anchor="start" >K=5</text>
<polyline points="269,363.0 296.7,363.0 318.3,377.5" fill="none" stroke="#222" stroke-width="1"/>
<polygon points="318.30,377.50 313.75,376.74 315.87,373.58" fill="#000"/>
<text x="270.6" y="373.7" font-size="10.4" font-weight="bold" text-anchor="start" >K=4</text>
<polyline points="269,375.9 294.9,375.9 317.7,395.1" fill="none" stroke="#222" stroke-width="1"/>
<polygon points="317.70,395.10 313.26,393.85 315.71,390.94" fill="#000"/>
<text x="270.6" y="386.8" font-size="10.4" font-weight="bold" text-anchor="start" >K=2</text>
<polyline points="269,389.3 295.3,389.3 320.4,413.4" fill="none" stroke="#222" stroke-width="1"/>
<polygon points="320.40,413.40 316.05,411.86 318.69,409.12" fill="#000"/>
<text x="361.2" y="382.7" font-size="10.4" font-weight="bold" text-anchor="start" >K=3(A)</text>
<polyline points="397.5,385.3 357.3,385.3 346.8,406.8" fill="none" stroke="#222" stroke-width="1"/>
<polygon points="346.80,406.80 346.94,402.19 350.35,403.86" fill="#000"/>
</svg>
</body></html>
